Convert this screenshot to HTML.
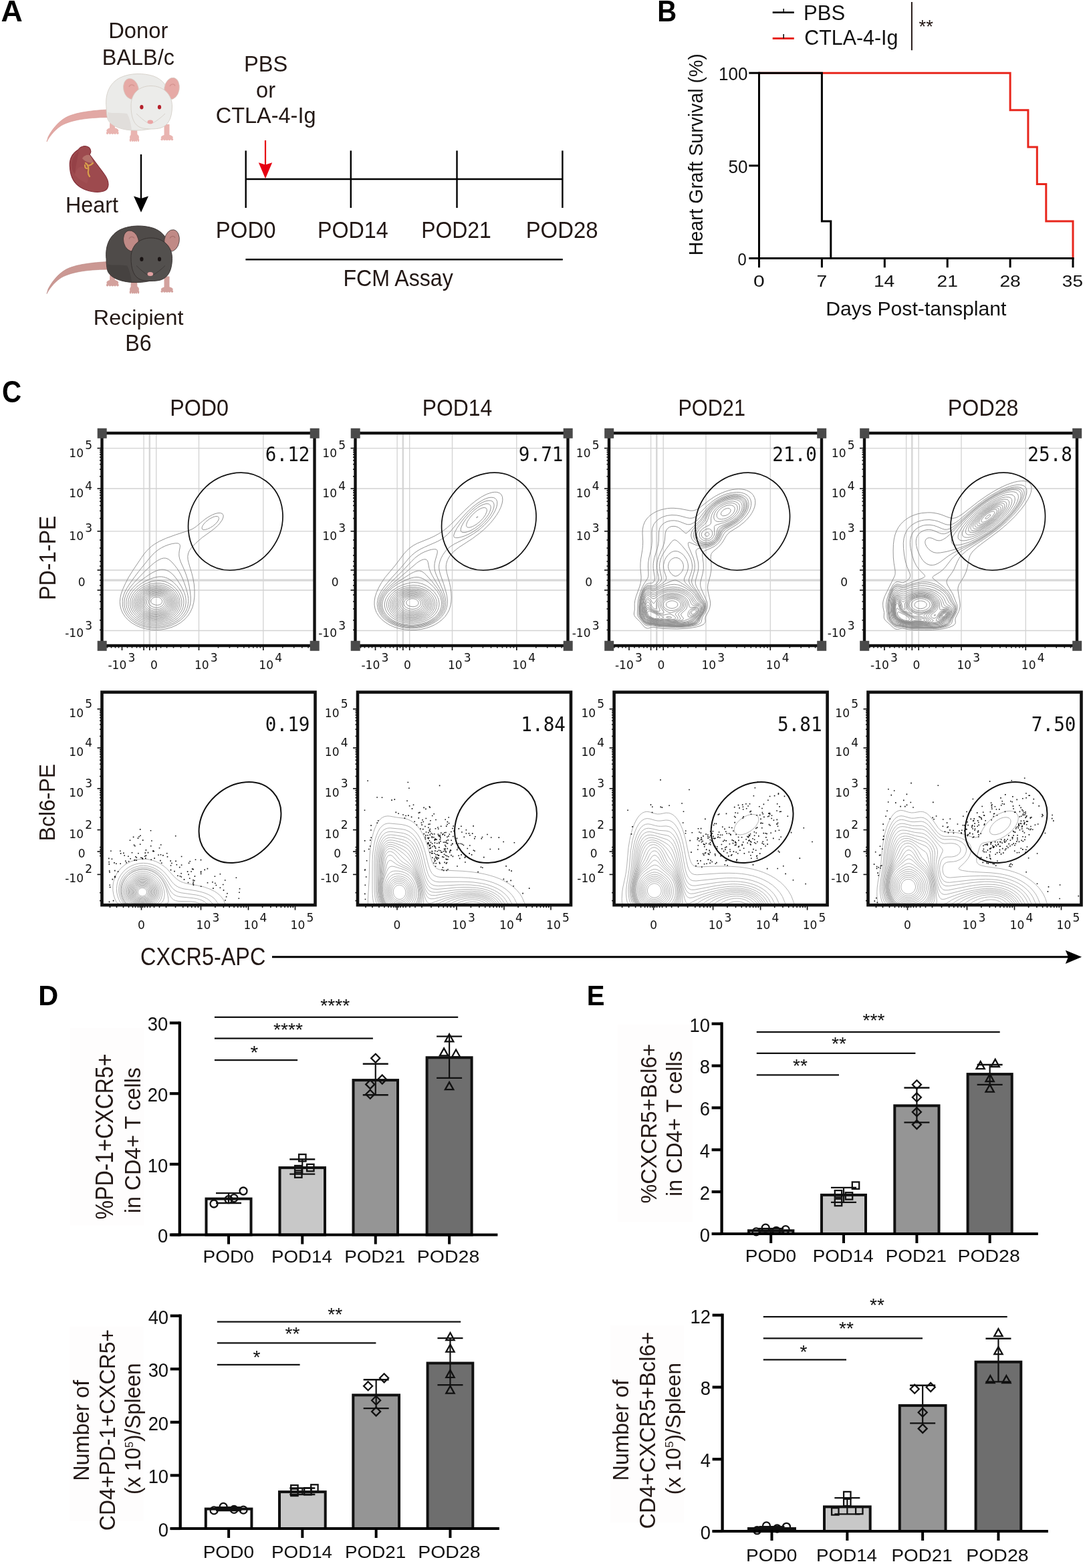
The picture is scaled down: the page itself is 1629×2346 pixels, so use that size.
<!DOCTYPE html>
<html><head><meta charset="utf-8"><title>Figure</title>
<style>html,body{margin:0;padding:0;background:#fff;} svg{display:block;}</style></head>
<body><svg width="1629" height="2346" viewBox="0 0 1629 2346">
<rect width="1629" height="2346" fill="#fff"/>
<text transform="translate(1.60,31.70) scale(0.9998,1)" font-size="44.73" text-anchor="start" fill="#000" font-family="'Liberation Sans', Arial, sans-serif" font-weight="bold">A</text>
<text transform="translate(983.30,32.15) scale(0.9198,1)" font-size="43.54" text-anchor="start" fill="#000" font-family="'Liberation Sans', Arial, sans-serif" font-weight="bold">B</text>
<text transform="translate(2.90,601.70) scale(0.8821,1)" font-size="45.73" text-anchor="start" fill="#000" font-family="'Liberation Sans', Arial, sans-serif" font-weight="bold">C</text>
<text transform="translate(57.30,1504.30) scale(0.9616,1)" font-size="43.15" text-anchor="start" fill="#000" font-family="'Liberation Sans', Arial, sans-serif" font-weight="bold">D</text>
<text transform="translate(877.70,1504.30) scale(0.9302,1)" font-size="43.15" text-anchor="start" fill="#000" font-family="'Liberation Sans', Arial, sans-serif" font-weight="bold">E</text>
<text transform="translate(206.75,57.45) scale(0.9658,1)" font-size="33.92" text-anchor="middle" fill="#231815" font-family="'Liberation Sans', Arial, sans-serif">Donor</text>
<text transform="translate(206.90,97.30) scale(0.9821,1)" font-size="33.01" text-anchor="middle" fill="#231815" font-family="'Liberation Sans', Arial, sans-serif">BALB/c</text>
<text transform="translate(137.45,317.60) scale(0.9781,1)" font-size="33.04" text-anchor="middle" fill="#231815" font-family="'Liberation Sans', Arial, sans-serif">Heart</text>
<text transform="translate(207.15,486.00) scale(1.0181,1)" font-size="31.75" text-anchor="middle" fill="#231815" font-family="'Liberation Sans', Arial, sans-serif">Recipient</text>
<text transform="translate(206.95,524.85) scale(0.9374,1)" font-size="34.44" text-anchor="middle" fill="#231815" font-family="'Liberation Sans', Arial, sans-serif">B6</text>
<text transform="translate(397.60,106.70) scale(0.9814,1)" font-size="33.27" text-anchor="middle" fill="#231815" font-family="'Liberation Sans', Arial, sans-serif">PBS</text>
<text transform="translate(397.50,145.80) scale(0.9814,1)" font-size="33.27" text-anchor="middle" fill="#231815" font-family="'Liberation Sans', Arial, sans-serif">or</text>
<text transform="translate(397.60,184.45) scale(0.9558,1)" font-size="33.98" text-anchor="middle" fill="#231815" font-family="'Liberation Sans', Arial, sans-serif">CTLA-4-Ig</text>
<text transform="translate(367.65,355.65) scale(0.9571,1)" font-size="34.44" text-anchor="middle" fill="#231815" font-family="'Liberation Sans', Arial, sans-serif">POD0</text>
<text transform="translate(527.80,355.65) scale(0.9371,1)" font-size="34.44" text-anchor="middle" fill="#231815" font-family="'Liberation Sans', Arial, sans-serif">POD14</text>
<text transform="translate(682.50,355.65) scale(0.9273,1)" font-size="34.44" text-anchor="middle" fill="#231815" font-family="'Liberation Sans', Arial, sans-serif">POD21</text>
<text transform="translate(840.65,355.65) scale(0.9565,1)" font-size="34.44" text-anchor="middle" fill="#231815" font-family="'Liberation Sans', Arial, sans-serif">POD28</text>
<text transform="translate(595.60,428.00) scale(0.9321,1)" font-size="34.48" text-anchor="middle" fill="#231815" font-family="'Liberation Sans', Arial, sans-serif">FCM Assay</text>
<line x1="367.70" y1="268.00" x2="841.40" y2="268.00" stroke="#000" stroke-width="2.4" stroke-linecap="butt"/>
<line x1="367.70" y1="225.40" x2="367.70" y2="311.00" stroke="#000" stroke-width="2.4" stroke-linecap="butt"/>
<line x1="524.80" y1="225.40" x2="524.80" y2="311.00" stroke="#000" stroke-width="2.4" stroke-linecap="butt"/>
<line x1="683.50" y1="225.40" x2="683.50" y2="311.00" stroke="#000" stroke-width="2.4" stroke-linecap="butt"/>
<line x1="841.40" y1="225.40" x2="841.40" y2="311.00" stroke="#000" stroke-width="2.4" stroke-linecap="butt"/>
<line x1="367.40" y1="388.20" x2="841.80" y2="388.20" stroke="#000" stroke-width="2.4" stroke-linecap="butt"/>
<line x1="397.00" y1="210.00" x2="397.00" y2="248.00" stroke="#e60012" stroke-width="2.2" stroke-linecap="butt"/>
<polygon points="386.8,243.2 397,246.5 407.2,243.2 397,267.2" fill="#e60012"/>
<line x1="211.00" y1="231.00" x2="211.00" y2="300.00" stroke="#000" stroke-width="2.4" stroke-linecap="butt"/>
<polygon points="200,293.5 211,297 222,293.5 211,317.8" fill="#000"/>
<g transform="translate(0,0)"><path d="M162,164 C140,165 112,168 98,176 C86,183 77,195 72,205 L70,212 C73,206 80,196 90,189 C104,180 128,176 162,175.5 Z" fill="#e2a8a4" stroke="#d5938f" stroke-width="0.6"/><path d="M164.5,178 L171,178 L172,192 L164,192 Z" fill="#e9b4b0"/><ellipse cx="168.3" cy="195.5" rx="9" ry="4.5" fill="#e9b4b0"/><ellipse cx="160.7" cy="198.9" rx="1.8" ry="2.0" fill="#e9b4b0"/><ellipse cx="164.5" cy="198.9" rx="1.8" ry="2.0" fill="#e9b4b0"/><ellipse cx="168.3" cy="198.9" rx="1.8" ry="2.0" fill="#e9b4b0"/><ellipse cx="172.1" cy="198.9" rx="1.8" ry="2.0" fill="#e9b4b0"/><ellipse cx="175.9" cy="198.9" rx="1.8" ry="2.0" fill="#e9b4b0"/><path d="M196,190 L205,190 L205.5,203 L195.5,203 Z" fill="#e9b4b0"/><ellipse cx="201" cy="205.5" rx="7" ry="5.5" fill="#e9b4b0"/><ellipse cx="195.1" cy="209.6" rx="1.4" ry="2.5" fill="#e9b4b0"/><ellipse cx="198.1" cy="209.6" rx="1.4" ry="2.5" fill="#e9b4b0"/><ellipse cx="201.0" cy="209.6" rx="1.4" ry="2.5" fill="#e9b4b0"/><ellipse cx="203.9" cy="209.6" rx="1.4" ry="2.5" fill="#e9b4b0"/><ellipse cx="206.9" cy="209.6" rx="1.4" ry="2.5" fill="#e9b4b0"/><path d="M245.5,186 L253.5,186 L253.5,203 L245.5,203 Z" fill="#e9b4b0"/><ellipse cx="249.8" cy="205.5" rx="9" ry="4" fill="#e9b4b0"/><ellipse cx="242.2" cy="208.5" rx="1.8" ry="1.8" fill="#e9b4b0"/><ellipse cx="246.0" cy="208.5" rx="1.8" ry="1.8" fill="#e9b4b0"/><ellipse cx="249.8" cy="208.5" rx="1.8" ry="1.8" fill="#e9b4b0"/><ellipse cx="253.6" cy="208.5" rx="1.8" ry="1.8" fill="#e9b4b0"/><ellipse cx="257.4" cy="208.5" rx="1.8" ry="1.8" fill="#e9b4b0"/><path d="M159,160 C157,140 164,124 180,116 C195,109 215,109 230,114 C243,119 250,128 252,140 L250,182 C236,192 216,196 198,195 C180,194 165,188 161,178 C159.5,172 159,166 159,160 Z" fill="#ebebe9" stroke="#d5cfc7" stroke-width="0.9"/><path d="M161,168 C168,170 178,168 190,170 C194,176 196,186 197,195 C180,194 166,188 162,178 Z" fill="#dedbd7" opacity="0.8"/><ellipse cx="196" cy="133" rx="11.2" ry="15.8" transform="rotate(-14 196 133)" fill="#e6aaa6" stroke="#d5cfc7" stroke-width="0.7"/><ellipse cx="257" cy="132.5" rx="11.2" ry="16.4" transform="rotate(10 257 132.5)" fill="#e6aaa6" stroke="#d5cfc7" stroke-width="0.7"/><path d="M193,130 C194.5,126 199,126 201,129" fill="none" stroke="#d49490" stroke-width="1.3"/><path d="M254,129 C256,125 260.5,125 262,128.5" fill="none" stroke="#d49490" stroke-width="1.3"/><path d="M196,158 C196,140 208,128.5 226,128.5 C244,128.5 257.5,141 257.5,159 C257.5,176 252,188 240,191.5 C232,193.5 220,193.5 212,191.5 C200,188 196,175 196,158 Z" fill="#ececea" stroke="#d5cfc7" stroke-width="0.9"/><path d="M204,170 C210,176 216,181 221,184 M247,170 C241,176 234,181 229,184" fill="none" stroke="#d2ccc4" stroke-width="0.8"/><ellipse cx="211.9" cy="160.2" rx="2.6" ry="3.3" fill="#b5202a"/><ellipse cx="238.5" cy="160.2" rx="2.6" ry="3.3" fill="#b5202a"/><ellipse cx="224.8" cy="182.5" rx="4.3" ry="3" fill="#eaa5a5"/></g><g transform="translate(0,227.5)"><path d="M162,164 C140,165 112,168 98,176 C86,183 77,195 72,205 L70,212 C73,206 80,196 90,189 C104,180 128,176 162,175.5 Z" fill="#cb9893" stroke="#b9857f" stroke-width="0.6"/><path d="M164.5,178 L171,178 L172,192 L164,192 Z" fill="#d3a19d"/><ellipse cx="168.3" cy="195.5" rx="9" ry="4.5" fill="#d3a19d"/><ellipse cx="160.7" cy="198.9" rx="1.8" ry="2.0" fill="#d3a19d"/><ellipse cx="164.5" cy="198.9" rx="1.8" ry="2.0" fill="#d3a19d"/><ellipse cx="168.3" cy="198.9" rx="1.8" ry="2.0" fill="#d3a19d"/><ellipse cx="172.1" cy="198.9" rx="1.8" ry="2.0" fill="#d3a19d"/><ellipse cx="175.9" cy="198.9" rx="1.8" ry="2.0" fill="#d3a19d"/><path d="M196,190 L205,190 L205.5,203 L195.5,203 Z" fill="#d3a19d"/><ellipse cx="201" cy="205.5" rx="7" ry="5.5" fill="#d3a19d"/><ellipse cx="195.1" cy="209.6" rx="1.4" ry="2.5" fill="#d3a19d"/><ellipse cx="198.1" cy="209.6" rx="1.4" ry="2.5" fill="#d3a19d"/><ellipse cx="201.0" cy="209.6" rx="1.4" ry="2.5" fill="#d3a19d"/><ellipse cx="203.9" cy="209.6" rx="1.4" ry="2.5" fill="#d3a19d"/><ellipse cx="206.9" cy="209.6" rx="1.4" ry="2.5" fill="#d3a19d"/><path d="M245.5,186 L253.5,186 L253.5,203 L245.5,203 Z" fill="#d3a19d"/><ellipse cx="249.8" cy="205.5" rx="9" ry="4" fill="#d3a19d"/><ellipse cx="242.2" cy="208.5" rx="1.8" ry="1.8" fill="#d3a19d"/><ellipse cx="246.0" cy="208.5" rx="1.8" ry="1.8" fill="#d3a19d"/><ellipse cx="249.8" cy="208.5" rx="1.8" ry="1.8" fill="#d3a19d"/><ellipse cx="253.6" cy="208.5" rx="1.8" ry="1.8" fill="#d3a19d"/><ellipse cx="257.4" cy="208.5" rx="1.8" ry="1.8" fill="#d3a19d"/><path d="M159,160 C157,140 164,124 180,116 C195,109 215,109 230,114 C243,119 250,128 252,140 L250,182 C236,192 216,196 198,195 C180,194 165,188 161,178 C159.5,172 159,166 159,160 Z" fill="#4f4b49" stroke="#332e2c" stroke-width="0.9"/><path d="M161,168 C168,170 178,168 190,170 C194,176 196,186 197,195 C180,194 166,188 162,178 Z" fill="#44403e" opacity="0.8"/><ellipse cx="196" cy="133" rx="11.2" ry="15.8" transform="rotate(-14 196 133)" fill="#c08a86" stroke="#332e2c" stroke-width="0.7"/><ellipse cx="257" cy="132.5" rx="11.2" ry="16.4" transform="rotate(10 257 132.5)" fill="#c08a86" stroke="#332e2c" stroke-width="0.7"/><path d="M193,130 C194.5,126 199,126 201,129" fill="none" stroke="#a8736f" stroke-width="1.3"/><path d="M254,129 C256,125 260.5,125 262,128.5" fill="none" stroke="#a8736f" stroke-width="1.3"/><path d="M196,158 C196,140 208,128.5 226,128.5 C244,128.5 257.5,141 257.5,159 C257.5,176 252,188 240,191.5 C232,193.5 220,193.5 212,191.5 C200,188 196,175 196,158 Z" fill="#53504e" stroke="#332e2c" stroke-width="0.9"/><path d="M204,170 C210,176 216,181 221,184 M247,170 C241,176 234,181 229,184" fill="none" stroke="#3a3533" stroke-width="0.8"/><ellipse cx="211.9" cy="160.2" rx="2.6" ry="3.3" fill="#1a1414"/><ellipse cx="238.5" cy="160.2" rx="2.6" ry="3.3" fill="#1a1414"/><ellipse cx="224.8" cy="182.5" rx="4.3" ry="3" fill="#e0a0a0"/></g><path d="M104.5,250 C103,236 109,229 117,224 C121,218 129,217 133.5,221 C137,225 136,229 134,231 C142,242 150,252 157,262 C164,272 164,283 155,286 C146,289 131,287 120,280 C109,273 105,262 104.5,250 Z" fill="#9d4a4e" stroke="#85313a" stroke-width="1.2"/><path d="M107,246 C108,236 113,230 118,226 C116,236 114,245 112,260 C109,257 107,252 107,246 Z" fill="#8f3c42" opacity="0.6"/><path d="M112,262 C117,268 125,272 130,275 C134,268 131,256 124,250 C118,248 113,254 112,262 Z" fill="#a85358" opacity="0.5"/><path d="M123,237 C125,233 130,231 134,232 C137,236 139,240 140,244 C134,244 127,242 123,237 Z" fill="#b4716a"/><path d="M128,244 C131,246 133,250 132,256 C131,260 133,262 134,264 M131,248 C134,248 137,246 139,244 M130,252 C128,252 127,250 127,247" fill="none" stroke="#d9a04a" stroke-width="2.2" stroke-linecap="round"/>
<line x1="1155.70" y1="18.60" x2="1187.80" y2="18.60" stroke="#111" stroke-width="2.8" stroke-linecap="butt"/>
<line x1="1172.20" y1="13.00" x2="1172.20" y2="18.60" stroke="#111" stroke-width="1.6" stroke-linecap="butt"/>
<line x1="1155.70" y1="57.50" x2="1187.80" y2="57.50" stroke="#e8261c" stroke-width="2.8" stroke-linecap="butt"/>
<line x1="1172.20" y1="51.00" x2="1172.20" y2="57.50" stroke="#111" stroke-width="1.6" stroke-linecap="butt"/>
<text transform="translate(1202.05,29.65) scale(0.9705,1)" font-size="31.99" text-anchor="start" fill="#111" font-family="'Liberation Sans', Arial, sans-serif">PBS</text>
<text transform="translate(1203.35,66.65) scale(0.9566,1)" font-size="31.76" text-anchor="start" fill="#111" font-family="'Liberation Sans', Arial, sans-serif">CTLA-4-Ig</text>
<line x1="1363.90" y1="3.00" x2="1363.90" y2="75.20" stroke="#231815" stroke-width="2" stroke-linecap="butt"/>
<text transform="translate(1385.15,48.50) scale(0.9911,1)" font-size="27.55" text-anchor="middle" fill="#231815" font-family="'Liberation Sans', Arial, sans-serif">**</text>
<line x1="1120.30" y1="386.50" x2="1135.50" y2="386.50" stroke="#000" stroke-width="3" stroke-linecap="butt"/>
<text transform="translate(1116.80,396.50) scale(0.8977,1)" font-size="26.50" text-anchor="end" fill="#111" font-family="'Liberation Sans', Arial, sans-serif">0</text>
<line x1="1120.30" y1="247.85" x2="1135.50" y2="247.85" stroke="#000" stroke-width="3" stroke-linecap="butt"/>
<text transform="translate(1118.45,258.65) scale(0.9382,1)" font-size="27.82" text-anchor="end" fill="#111" font-family="'Liberation Sans', Arial, sans-serif">50</text>
<line x1="1120.30" y1="109.20" x2="1135.50" y2="109.20" stroke="#000" stroke-width="3" stroke-linecap="butt"/>
<text transform="translate(1118.45,120.00) scale(0.9382,1)" font-size="27.82" text-anchor="end" fill="#111" font-family="'Liberation Sans', Arial, sans-serif">100</text>
<line x1="1135.50" y1="386.50" x2="1135.50" y2="400.30" stroke="#000" stroke-width="3" stroke-linecap="butt"/>
<text transform="translate(1135.45,429.20) scale(1.2295,1)" font-size="24.51" text-anchor="middle" fill="#111" font-family="'Liberation Sans', Arial, sans-serif">0</text>
<line x1="1229.40" y1="386.50" x2="1229.40" y2="400.30" stroke="#000" stroke-width="3" stroke-linecap="butt"/>
<text transform="translate(1229.40,429.20) scale(1.1515,1)" font-size="24.51" text-anchor="middle" fill="#111" font-family="'Liberation Sans', Arial, sans-serif">7</text>
<line x1="1323.30" y1="386.50" x2="1323.30" y2="400.30" stroke="#000" stroke-width="3" stroke-linecap="butt"/>
<text transform="translate(1322.60,429.20) scale(1.1515,1)" font-size="24.51" text-anchor="middle" fill="#111" font-family="'Liberation Sans', Arial, sans-serif">14</text>
<line x1="1417.20" y1="386.50" x2="1417.20" y2="400.30" stroke="#000" stroke-width="3" stroke-linecap="butt"/>
<text transform="translate(1417.20,429.20) scale(1.1515,1)" font-size="24.51" text-anchor="middle" fill="#111" font-family="'Liberation Sans', Arial, sans-serif">21</text>
<line x1="1511.10" y1="386.50" x2="1511.10" y2="400.30" stroke="#000" stroke-width="3" stroke-linecap="butt"/>
<text transform="translate(1511.10,429.20) scale(1.1515,1)" font-size="24.51" text-anchor="middle" fill="#111" font-family="'Liberation Sans', Arial, sans-serif">28</text>
<line x1="1605.00" y1="386.50" x2="1605.00" y2="400.30" stroke="#000" stroke-width="3" stroke-linecap="butt"/>
<text transform="translate(1604.40,429.20) scale(1.1400,1)" font-size="24.51" text-anchor="middle" fill="#111" font-family="'Liberation Sans', Arial, sans-serif">35</text>
<polyline fill="none" stroke="#e8261c" stroke-width="3" points="1135.5,109.2 1511.1,109.2 1511.1,164.7 1537.9,164.7 1537.9,220.1 1551.3,220.1 1551.3,275.6 1564.8,275.6 1564.8,331.0 1605.0,331.0 1605.0,386.5"/>
<polyline fill="none" stroke="#000" stroke-width="3" points="1135.5,109.2 1229.4,109.2 1229.4,331.0 1242.8,331.0 1242.8,386.5"/>
<line x1="1135.50" y1="107.70" x2="1135.50" y2="388.00" stroke="#000" stroke-width="3" stroke-linecap="butt"/>
<line x1="1134.00" y1="386.50" x2="1606.50" y2="386.50" stroke="#000" stroke-width="3" stroke-linecap="butt"/>
<text transform="translate(1050.85,231.25) rotate(-90) scale(0.9350,1)" font-size="30.42" text-anchor="middle" fill="#111" font-family="'Liberation Sans', Arial, sans-serif">Heart Graft Survival (%)</text>
<text transform="translate(1370.35,471.50) scale(1.0182,1)" font-size="29.66" text-anchor="middle" fill="#111" font-family="'Liberation Sans', Arial, sans-serif">Days Post-tansplant</text>
<line x1="215.1" y1="648.0" x2="215.1" y2="966.0" stroke="#d2d2d2" stroke-width="1.3"/>
<line x1="233.7" y1="648.0" x2="233.7" y2="966.0" stroke="#d2d2d2" stroke-width="1.3"/>
<line x1="297.5" y1="648.0" x2="297.5" y2="966.0" stroke="#d2d2d2" stroke-width="1.3"/>
<line x1="393.8" y1="648.0" x2="393.8" y2="966.0" stroke="#d2d2d2" stroke-width="1.3"/>
<line x1="223.8" y1="648.0" x2="223.8" y2="966.0" stroke="#d6d6d6" stroke-width="2.4"/>
<line x1="152.5" y1="670.6" x2="470.5" y2="670.6" stroke="#d2d2d2" stroke-width="1.3"/>
<line x1="152.5" y1="731.0" x2="470.5" y2="731.0" stroke="#d2d2d2" stroke-width="1.3"/>
<line x1="152.5" y1="794.8" x2="470.5" y2="794.8" stroke="#d2d2d2" stroke-width="1.3"/>
<line x1="152.5" y1="853.0" x2="470.5" y2="853.0" stroke="#d2d2d2" stroke-width="1.3"/>
<line x1="152.5" y1="883.0" x2="470.5" y2="883.0" stroke="#d2d2d2" stroke-width="1.3"/>
<line x1="152.5" y1="943.5" x2="470.5" y2="943.5" stroke="#d2d2d2" stroke-width="1.3"/>
<line x1="152.5" y1="868.2" x2="470.5" y2="868.2" stroke="#d8d8d8" stroke-width="3.2"/>
<path d="M233.5,942.5 225.5,942.1 217.5,940.7 210.5,938.7 203.5,935.7 197.0,931.9 191.6,927.5 187.0,922.5 183.4,917.0 181.1,911.5 179.8,906.0 179.4,900.5 179.9,894.5 181.2,888.5 183.7,881.5 187.8,872.5 192.2,864.0 198.7,853.5 211.5,834.5 215.8,828.5 219.2,824.5 222.6,821.0 226.5,817.5 230.5,814.6 238.5,809.8 248.5,805.3 262.5,800.2 282.5,793.7 288.0,791.4 293.5,787.8 303.4,779.5 308.0,775.9 313.0,772.7 317.5,770.3 322.0,768.5 326.0,767.6 329.5,767.5 332.0,768.3 333.0,769.2 333.8,770.5 334.1,772.0 333.9,774.0 332.3,778.0 328.8,783.0 325.5,786.5 321.0,790.6 315.5,794.9 302.7,804.0 293.0,812.5 288.5,817.0 285.2,821.0 283.0,824.5 281.6,828.0 280.8,832.5 281.1,837.5 282.3,842.5 286.8,857.5 288.7,865.0 290.3,874.0 291.0,883.0 290.9,893.0 289.8,901.5 287.8,909.0 284.6,916.0 280.9,921.5 276.0,926.9 270.5,931.4 264.0,935.3 257.0,938.4 249.0,940.7 241.0,942.1 233.5,942.5 M306.5,792.5 304.5,792.6 303.0,792.1 302.2,791.0 302.1,789.5 302.7,787.5 303.8,785.5 305.7,783.0 308.1,780.5 313.5,776.3 319.0,773.5 321.5,772.8 324.0,772.5 325.5,772.7 326.8,773.5 327.3,774.5 327.5,775.5 326.8,778.0 325.0,781.0 322.0,784.2 318.5,787.1 314.5,789.6 310.5,791.5 306.5,792.5 M240.5,939.5 234.5,939.9 228.5,939.8 222.5,939.1 216.5,937.8 211.5,936.3 206.0,934.0 201.0,931.2 197.0,928.4 193.2,925.0 189.7,921.0 187.1,917.0 185.2,913.0 183.8,908.5 183.2,904.0 183.1,899.5 183.7,895.0 185.1,890.0 187.1,885.0 190.1,879.5 194.3,873.0 202.0,862.2 208.0,854.3 223.0,835.8 229.0,829.1 233.0,825.5 237.0,822.4 241.5,819.6 246.5,817.1 252.0,815.0 257.5,813.5 262.5,812.8 266.0,812.9 267.5,813.4 268.5,814.2 269.0,815.0 269.4,816.5 269.3,818.5 268.1,825.0 267.8,828.5 267.9,832.0 268.7,836.0 270.4,841.0 275.8,853.0 278.5,860.0 280.9,867.5 282.9,876.0 284.4,885.0 285.2,893.0 285.2,899.0 284.4,905.0 282.4,911.5 279.4,917.5 275.2,923.0 269.5,928.2 263.5,932.2 256.0,935.8 248.5,938.1 240.5,939.5 M233.5,938.0 228.5,937.8 223.5,937.3 218.5,936.3 214.5,935.2 209.5,933.3 205.5,931.4 201.5,928.9 198.0,926.3 195.0,923.5 192.4,920.5 190.0,917.0 188.2,913.5 186.8,909.5 186.1,906.0 185.8,902.0 186.1,898.0 186.9,894.0 188.4,889.5 190.3,885.5 193.1,881.0 196.1,877.0 200.0,872.4 215.0,856.4 225.5,846.5 230.5,842.3 234.5,839.4 238.0,837.4 241.5,835.8 244.5,835.1 247.5,835.1 250.0,835.8 252.5,837.1 255.0,839.1 258.0,842.0 261.5,846.1 265.0,850.7 268.0,855.3 270.5,860.0 272.8,865.0 275.4,871.5 278.3,880.0 280.1,886.5 281.2,891.5 281.7,895.5 281.8,899.5 281.4,903.5 280.8,907.0 279.7,910.5 278.2,914.0 276.5,917.0 274.4,920.0 271.8,923.0 266.0,928.0 259.0,932.2 251.0,935.3 242.5,937.3 233.5,938.0 M239.0,935.5 234.0,935.8 229.0,935.7 224.5,935.2 219.5,934.3 214.5,932.8 210.5,931.2 206.5,929.2 203.0,927.0 199.7,924.5 196.6,921.5 194.2,918.5 192.0,915.0 190.5,911.5 189.4,908.0 188.9,904.5 188.9,900.5 189.3,897.0 190.3,893.5 191.6,890.0 193.5,886.5 195.8,883.0 198.2,880.0 205.0,873.3 210.5,868.8 217.5,863.6 224.0,859.2 229.0,856.2 233.0,854.3 237.0,852.9 240.5,852.2 244.0,852.1 247.0,852.6 249.5,853.4 252.5,854.8 255.0,856.4 260.0,861.0 265.5,868.1 271.6,878.0 275.6,886.5 276.9,890.5 277.8,894.5 278.2,898.5 278.2,902.0 277.2,908.0 274.8,914.0 271.2,919.5 266.5,924.3 260.5,928.6 254.0,931.8 246.5,934.2 239.0,935.5 M237.0,933.5 232.5,933.7 228.0,933.5 223.5,932.9 219.5,932.0 215.5,930.8 211.5,929.2 208.0,927.4 204.5,925.1 201.5,922.8 198.7,920.0 196.4,917.0 194.6,914.0 193.3,911.0 192.3,907.5 191.8,904.5 191.8,901.0 192.3,897.5 193.2,894.0 194.7,890.5 196.4,887.5 198.5,884.5 201.1,881.5 204.0,878.6 207.5,875.7 211.5,872.9 216.0,870.3 221.0,867.7 225.5,865.9 230.0,864.4 234.0,863.4 238.0,862.9 241.5,862.9 244.5,863.3 247.5,864.1 250.5,865.2 253.5,866.8 259.5,871.3 265.0,876.8 269.5,883.0 272.8,889.5 274.6,896.0 274.9,899.0 274.9,902.5 273.9,908.5 271.6,914.0 268.1,919.0 263.5,923.5 258.0,927.3 251.5,930.4 244.5,932.4 237.0,933.5 M234.0,931.5 226.0,931.1 222.0,930.3 218.0,929.3 211.0,926.4 205.0,922.5 202.3,920.0 200.1,917.5 198.3,915.0 196.7,912.0 195.6,909.0 194.9,906.0 194.7,903.0 194.8,900.0 195.4,897.0 196.3,894.0 197.7,891.0 199.5,888.0 204.0,882.6 210.0,877.7 217.0,873.7 225.0,870.6 229.0,869.6 233.0,869.0 237.0,868.7 240.5,868.9 247.0,870.2 253.0,872.8 258.5,876.4 263.5,881.1 267.5,886.5 270.2,892.0 271.7,898.0 271.9,901.0 271.7,904.0 270.5,909.5 268.0,914.5 264.1,919.5 259.5,923.5 254.0,926.8 247.5,929.3 241.0,930.9 234.0,931.5 M233.5,929.5 226.0,929.0 219.0,927.4 212.5,924.7 206.9,921.0 204.5,918.9 202.4,916.5 200.7,914.0 199.3,911.5 198.4,909.0 197.7,906.0 197.4,903.0 197.6,900.0 198.2,897.0 199.0,894.5 200.4,891.5 202.0,889.0 206.3,884.0 212.0,879.5 218.5,876.1 225.5,873.6 233.0,872.4 240.0,872.5 246.0,873.8 252.0,876.2 257.0,879.4 261.5,883.5 265.3,888.5 267.7,893.5 268.9,898.5 268.9,904.0 267.8,909.0 265.4,914.0 262.0,918.2 257.7,922.0 252.5,925.1 246.5,927.5 240.0,929.0 233.5,929.5 M236.5,927.5 229.5,927.5 223.0,926.5 217.0,924.6 211.5,921.8 207.0,918.3 203.4,914.0 201.1,909.5 199.9,904.5 200.1,899.5 201.6,894.5 204.1,890.0 208.0,885.5 213.0,881.6 219.0,878.3 225.0,876.3 231.5,875.1 237.5,875.0 243.5,875.9 249.0,877.8 254.5,880.8 259.0,884.5 262.6,889.0 265.2,894.0 266.0,896.5 266.5,899.5 266.4,904.5 265.0,909.5 262.6,914.0 259.0,918.2 254.5,921.7 249.0,924.5 243.0,926.5 236.5,927.5 M238.5,925.6 232.5,926.0 227.0,925.5 221.5,924.3 216.5,922.4 212.0,919.8 208.1,916.5 205.3,913.0 203.3,909.0 202.3,905.0 202.2,900.5 203.3,896.0 205.3,892.0 208.4,888.0 212.2,884.5 217.0,881.5 222.0,879.3 228.5,877.6 235.0,877.1 241.0,877.6 247.0,879.3 252.5,882.1 257.0,885.6 260.6,890.0 263.2,895.0 264.3,900.0 264.0,905.0 262.5,910.0 259.6,914.5 255.6,918.5 250.5,921.8 245.0,924.1 238.5,925.6 M237.5,924.0 232.0,924.3 227.0,923.8 222.0,922.7 217.0,920.7 212.7,918.0 209.4,915.0 206.8,911.5 205.0,907.5 204.3,903.5 204.5,899.5 205.8,895.5 208.0,891.5 211.0,888.0 214.7,885.0 219.0,882.5 224.0,880.5 230.0,879.2 236.0,879.0 241.5,879.7 247.0,881.4 252.0,884.1 256.0,887.5 259.2,891.5 261.3,896.0 262.1,900.5 262.1,903.0 261.8,905.5 260.2,910.0 257.5,914.0 253.9,917.5 249.0,920.6 243.5,922.8 237.5,924.0 M236.5,922.5 231.0,922.7 226.0,922.0 221.5,920.8 217.0,918.7 213.1,916.0 210.2,913.0 208.0,909.5 206.7,906.0 206.3,902.5 206.8,898.5 208.4,894.5 210.7,891.0 213.7,888.0 217.5,885.2 222.0,883.0 226.5,881.5 232.0,880.7 237.5,880.8 242.5,881.7 247.3,883.5 251.5,886.0 255.3,889.5 258.1,893.5 259.6,897.5 260.2,902.0 259.6,906.0 258.0,910.0 255.0,914.0 251.5,917.1 247.0,919.7 242.0,921.5 236.5,922.5 M235.5,921.0 230.5,921.0 226.0,920.4 221.5,919.0 217.5,917.0 214.2,914.5 211.4,911.5 209.5,908.0 208.5,904.5 208.5,900.5 209.4,897.0 211.1,893.5 213.5,890.5 217.0,887.5 220.5,885.4 225.0,883.6 229.5,882.5 234.5,882.2 239.0,882.6 243.5,883.7 248.0,885.7 251.8,888.5 254.6,891.5 256.7,895.0 258.0,899.2 258.1,903.0 257.2,907.0 255.5,910.5 252.5,914.0 249.0,916.7 245.0,918.8 240.5,920.2 235.5,921.0 M234.0,919.5 229.5,919.3 225.0,918.4 221.0,916.9 217.0,914.5 214.0,911.6 212.0,908.7 210.8,905.5 210.4,902.0 210.9,898.5 212.4,895.0 214.5,892.0 217.7,889.0 221.5,886.6 225.5,885.0 230.0,884.0 234.5,883.7 239.0,884.1 243.0,885.2 246.5,886.7 249.9,889.0 252.4,891.5 254.5,894.6 255.8,898.0 256.3,901.5 255.8,905.0 254.5,908.5 252.4,911.5 249.8,914.0 246.5,916.2 242.5,918.0 238.5,919.0 234.0,919.5 M237.5,917.5 233.5,917.9 230.0,917.7 226.5,917.0 223.4,916.0 220.3,914.5 217.6,912.5 215.5,910.3 214.0,908.0 213.0,905.5 212.5,902.5 212.7,899.5 213.5,897.0 215.0,894.2 217.0,891.8 219.5,889.7 222.5,887.9 226.5,886.3 231.0,885.3 235.5,885.2 240.0,885.9 244.0,887.2 247.8,889.5 251.0,892.5 252.9,895.5 254.1,899.0 254.3,902.5 253.5,906.0 251.6,909.5 249.0,912.3 246.0,914.5 242.0,916.4 237.5,917.5 M235.0,916.0 231.5,916.0 228.0,915.5 224.5,914.4 221.5,912.9 219.0,911.0 217.0,908.8 215.5,906.2 214.8,903.5 214.7,900.5 215.3,898.0 216.4,895.5 218.3,893.0 220.5,891.0 223.5,889.1 226.5,887.8 230.0,887.0 234.0,886.6 237.5,886.9 241.0,887.7 244.5,889.2 247.1,891.0 249.5,893.5 251.3,896.5 252.2,899.5 252.3,902.5 251.5,905.5 250.2,908.0 248.2,910.5 245.5,912.6 242.5,914.2 239.0,915.4 235.0,916.0 M235.5,914.0 232.5,914.1 229.5,913.8 226.6,913.0 224.0,911.9 221.5,910.2 219.7,908.5 218.3,906.5 217.4,904.5 216.9,902.0 217.1,899.5 217.9,897.0 219.0,895.1 220.8,893.0 222.7,891.5 225.3,890.0 228.0,889.0 231.5,888.2 235.0,888.1 238.5,888.6 241.5,889.5 244.3,891.0 246.8,893.0 248.7,895.5 249.8,898.0 250.3,900.5 250.0,903.5 249.0,906.0 247.3,908.5 245.0,910.5 242.0,912.3 239.0,913.4 235.5,914.0 M237.0,911.6 232.0,911.8 227.5,910.8 223.5,908.7 222.0,907.3 220.6,905.5 219.9,904.0 219.4,902.0 219.4,900.0 219.9,898.0 220.9,896.0 222.0,894.5 225.1,892.0 228.0,890.6 231.0,889.9 234.5,889.6 237.5,890.0 240.5,890.9 243.0,892.2 245.2,894.0 246.7,896.0 247.8,898.5 248.1,901.0 247.6,903.5 246.7,905.5 245.0,907.7 242.6,909.5 240.0,910.8 237.0,911.6 M236.0,909.0 232.0,909.0 228.4,908.0 225.0,906.0 223.0,903.5 222.2,901.0 222.6,898.0 223.3,896.5 224.5,895.0 227.1,893.0 229.5,892.0 232.0,891.4 234.5,891.3 237.0,891.6 239.5,892.3 241.5,893.4 243.4,895.0 244.6,896.5 245.4,898.5 245.6,900.5 245.3,902.5 244.3,904.5 243.0,906.0 240.9,907.5 238.5,908.5 236.0,909.0 M238.0,905.0 235.5,905.4 232.5,905.1 229.5,904.1 227.6,903.0 226.3,901.5 225.8,900.0 225.9,898.0 226.7,896.5 229.0,894.5 231.0,893.7 233.0,893.3 236.6,893.5 238.2,894.0 240.0,895.0 241.1,896.0 242.1,897.5 242.6,899.0 242.6,900.5 242.1,902.0 241.0,903.4 239.5,904.5 238.0,905.0" fill="none" stroke="#8a8a8a" stroke-width="0.9"/>
<ellipse cx="352.3" cy="780.2" rx="75.7" ry="67.7" transform="rotate(-53 352.3 780.2)" fill="none" stroke="#111" stroke-width="1.7"/>
<text transform="translate(463.5,689.8) scale(0.93,1)" font-size="29.8" font-family="'DejaVu Sans Mono', monospace" text-anchor="end" fill="#111">6.12</text>
<rect x="152.5" y="648.0" width="318.0" height="318.0" fill="none" stroke="#111" stroke-width="4.4"/>
<rect x="145.7" y="640.8" width="14" height="15" fill="#4a4a4a"/>
<rect x="463.7" y="640.8" width="14" height="15" fill="#4a4a4a"/>
<rect x="145.7" y="958.8" width="14" height="15" fill="#4a4a4a"/>
<rect x="463.7" y="958.8" width="14" height="15" fill="#4a4a4a"/>
<line x1="145.5" y1="670.6" x2="152.5" y2="670.6" stroke="#111" stroke-width="1.6"/>
<line x1="145.5" y1="731.0" x2="152.5" y2="731.0" stroke="#111" stroke-width="1.6"/>
<line x1="145.5" y1="794.8" x2="152.5" y2="794.8" stroke="#111" stroke-width="1.6"/>
<line x1="149.0" y1="712.8" x2="152.5" y2="712.8" stroke="#111" stroke-width="1.6"/>
<line x1="149.0" y1="702.2" x2="152.5" y2="702.2" stroke="#111" stroke-width="1.6"/>
<line x1="149.0" y1="694.6" x2="152.5" y2="694.6" stroke="#111" stroke-width="1.6"/>
<line x1="149.0" y1="688.8" x2="152.5" y2="688.8" stroke="#111" stroke-width="1.6"/>
<line x1="149.0" y1="684.0" x2="152.5" y2="684.0" stroke="#111" stroke-width="1.6"/>
<line x1="149.0" y1="680.0" x2="152.5" y2="680.0" stroke="#111" stroke-width="1.6"/>
<line x1="149.0" y1="676.5" x2="152.5" y2="676.5" stroke="#111" stroke-width="1.6"/>
<line x1="149.0" y1="673.4" x2="152.5" y2="673.4" stroke="#111" stroke-width="1.6"/>
<line x1="149.0" y1="775.6" x2="152.5" y2="775.6" stroke="#111" stroke-width="1.6"/>
<line x1="149.0" y1="764.4" x2="152.5" y2="764.4" stroke="#111" stroke-width="1.6"/>
<line x1="149.0" y1="756.4" x2="152.5" y2="756.4" stroke="#111" stroke-width="1.6"/>
<line x1="149.0" y1="750.2" x2="152.5" y2="750.2" stroke="#111" stroke-width="1.6"/>
<line x1="149.0" y1="745.2" x2="152.5" y2="745.2" stroke="#111" stroke-width="1.6"/>
<line x1="149.0" y1="740.9" x2="152.5" y2="740.9" stroke="#111" stroke-width="1.6"/>
<line x1="149.0" y1="737.2" x2="152.5" y2="737.2" stroke="#111" stroke-width="1.6"/>
<line x1="149.0" y1="733.9" x2="152.5" y2="733.9" stroke="#111" stroke-width="1.6"/>
<line x1="149.0" y1="808.0" x2="152.5" y2="808.0" stroke="#111" stroke-width="1.6"/>
<line x1="149.0" y1="820.0" x2="152.5" y2="820.0" stroke="#111" stroke-width="1.6"/>
<line x1="149.0" y1="831.0" x2="152.5" y2="831.0" stroke="#111" stroke-width="1.6"/>
<line x1="149.0" y1="840.0" x2="152.5" y2="840.0" stroke="#111" stroke-width="1.6"/>
<line x1="149.0" y1="847.0" x2="152.5" y2="847.0" stroke="#111" stroke-width="1.6"/>
<line x1="145.5" y1="853.0" x2="152.5" y2="853.0" stroke="#111" stroke-width="1.6"/>
<line x1="149.0" y1="860.0" x2="152.5" y2="860.0" stroke="#111" stroke-width="1.6"/>
<line x1="149.0" y1="868.2" x2="152.5" y2="868.2" stroke="#111" stroke-width="1.6"/>
<line x1="149.0" y1="876.0" x2="152.5" y2="876.0" stroke="#111" stroke-width="1.6"/>
<line x1="145.5" y1="883.0" x2="152.5" y2="883.0" stroke="#111" stroke-width="1.6"/>
<line x1="149.0" y1="890.0" x2="152.5" y2="890.0" stroke="#111" stroke-width="1.6"/>
<line x1="149.0" y1="900.0" x2="152.5" y2="900.0" stroke="#111" stroke-width="1.6"/>
<line x1="149.0" y1="911.0" x2="152.5" y2="911.0" stroke="#111" stroke-width="1.6"/>
<line x1="149.0" y1="928.0" x2="152.5" y2="928.0" stroke="#111" stroke-width="1.6"/>
<line x1="149.0" y1="942.5" x2="152.5" y2="942.5" stroke="#111" stroke-width="1.6"/>
<line x1="182.5" y1="966.0" x2="182.5" y2="973.0" stroke="#111" stroke-width="1.6"/>
<line x1="215.1" y1="966.0" x2="215.1" y2="973.0" stroke="#111" stroke-width="1.6"/>
<line x1="223.8" y1="966.0" x2="223.8" y2="973.0" stroke="#111" stroke-width="1.6"/>
<line x1="233.7" y1="966.0" x2="233.7" y2="973.0" stroke="#111" stroke-width="1.6"/>
<line x1="297.5" y1="966.0" x2="297.5" y2="973.0" stroke="#111" stroke-width="1.6"/>
<line x1="393.8" y1="966.0" x2="393.8" y2="973.0" stroke="#111" stroke-width="1.6"/>
<line x1="326.5" y1="966.0" x2="326.5" y2="969.5" stroke="#111" stroke-width="1.6"/>
<line x1="343.4" y1="966.0" x2="343.4" y2="969.5" stroke="#111" stroke-width="1.6"/>
<line x1="355.5" y1="966.0" x2="355.5" y2="969.5" stroke="#111" stroke-width="1.6"/>
<line x1="364.8" y1="966.0" x2="364.8" y2="969.5" stroke="#111" stroke-width="1.6"/>
<line x1="372.4" y1="966.0" x2="372.4" y2="969.5" stroke="#111" stroke-width="1.6"/>
<line x1="378.9" y1="966.0" x2="378.9" y2="969.5" stroke="#111" stroke-width="1.6"/>
<line x1="384.5" y1="966.0" x2="384.5" y2="969.5" stroke="#111" stroke-width="1.6"/>
<line x1="389.4" y1="966.0" x2="389.4" y2="969.5" stroke="#111" stroke-width="1.6"/>
<line x1="422.8" y1="966.0" x2="422.8" y2="969.5" stroke="#111" stroke-width="1.6"/>
<line x1="439.7" y1="966.0" x2="439.7" y2="969.5" stroke="#111" stroke-width="1.6"/>
<line x1="451.8" y1="966.0" x2="451.8" y2="969.5" stroke="#111" stroke-width="1.6"/>
<line x1="461.1" y1="966.0" x2="461.1" y2="969.5" stroke="#111" stroke-width="1.6"/>
<line x1="160.5" y1="966.0" x2="160.5" y2="969.5" stroke="#111" stroke-width="1.6"/>
<line x1="166.5" y1="966.0" x2="166.5" y2="969.5" stroke="#111" stroke-width="1.6"/>
<line x1="172.5" y1="966.0" x2="172.5" y2="969.5" stroke="#111" stroke-width="1.6"/>
<line x1="177.5" y1="966.0" x2="177.5" y2="969.5" stroke="#111" stroke-width="1.6"/>
<line x1="190.5" y1="966.0" x2="190.5" y2="969.5" stroke="#111" stroke-width="1.6"/>
<line x1="197.5" y1="966.0" x2="197.5" y2="969.5" stroke="#111" stroke-width="1.6"/>
<line x1="204.5" y1="966.0" x2="204.5" y2="969.5" stroke="#111" stroke-width="1.6"/>
<line x1="209.5" y1="966.0" x2="209.5" y2="969.5" stroke="#111" stroke-width="1.6"/>
<line x1="219.5" y1="966.0" x2="219.5" y2="969.5" stroke="#111" stroke-width="1.6"/>
<line x1="228.5" y1="966.0" x2="228.5" y2="969.5" stroke="#111" stroke-width="1.6"/>
<line x1="240.5" y1="966.0" x2="240.5" y2="969.5" stroke="#111" stroke-width="1.6"/>
<line x1="249.5" y1="966.0" x2="249.5" y2="969.5" stroke="#111" stroke-width="1.6"/>
<line x1="259.5" y1="966.0" x2="259.5" y2="969.5" stroke="#111" stroke-width="1.6"/>
<line x1="270.5" y1="966.0" x2="270.5" y2="969.5" stroke="#111" stroke-width="1.6"/>
<line x1="282.5" y1="966.0" x2="282.5" y2="969.5" stroke="#111" stroke-width="1.6"/>
<text transform="translate(138.0,683.5) scale(0.97,1)" font-size="17.6" font-family="'DejaVu Sans', sans-serif" text-anchor="end" fill="#111">10<tspan dx="2.2" dy="-11.3">5</tspan></text>
<text transform="translate(138.0,743.9) scale(0.97,1)" font-size="17.6" font-family="'DejaVu Sans', sans-serif" text-anchor="end" fill="#111">10<tspan dx="2.2" dy="-11.3">4</tspan></text>
<text transform="translate(138.0,807.7) scale(0.97,1)" font-size="17.6" font-family="'DejaVu Sans', sans-serif" text-anchor="end" fill="#111">10<tspan dx="2.2" dy="-11.3">3</tspan></text>
<text transform="translate(127.5,876.8) scale(0.97,1)" font-size="17.6" font-family="'DejaVu Sans', sans-serif" text-anchor="end" fill="#111">0</text>
<text transform="translate(138.0,953.0) scale(0.97,1)" font-size="17.6" font-family="'DejaVu Sans', sans-serif" text-anchor="end" fill="#111">-10<tspan dx="2.2" dy="-11.3">3</tspan></text>
<text transform="translate(202.3,1000.8) scale(0.97,1)" font-size="17.6" font-family="'DejaVu Sans', sans-serif" text-anchor="end" fill="#111">-10<tspan dx="2.2" dy="-10.8">3</tspan></text>
<text transform="translate(230.5,1000.8) scale(0.97,1)" font-size="17.6" font-family="'DejaVu Sans', sans-serif" text-anchor="middle" fill="#111">0</text>
<text transform="translate(325.7,1000.8) scale(0.97,1)" font-size="17.6" font-family="'DejaVu Sans', sans-serif" text-anchor="end" fill="#111">10<tspan dx="2.2" dy="-10.8">3</tspan></text>
<text transform="translate(422.0,1000.8) scale(0.97,1)" font-size="17.6" font-family="'DejaVu Sans', sans-serif" text-anchor="end" fill="#111">10<tspan dx="2.2" dy="-10.8">4</tspan></text>
<path d="M177.4,1352.1 174.3,1350.1 171.6,1344.1 169.8,1338.1 168.9,1332.1 168.9,1326.1 169.6,1320.1 171.3,1314.1 173.8,1308.6 176.9,1303.6 180.8,1299.1 185.5,1294.9 190.5,1291.6 196.0,1288.9 202.0,1286.9 208.0,1285.7 214.5,1285.3 221.0,1285.7 227.5,1287.0 234.0,1289.3 240.0,1292.3 245.0,1295.8 249.5,1299.6 260.5,1311.5 263.5,1314.4 267.0,1317.1 270.6,1319.1 274.5,1320.6 278.5,1321.7 296.5,1325.0 305.5,1327.2 313.5,1330.0 320.5,1333.4 324.0,1335.6 327.0,1337.9 329.9,1340.6 332.0,1343.1 334.1,1346.1 335.6,1349.1 336.6,1352.1 337.3,1352.1 M183.6,1352.1 180.3,1350.6 177.7,1345.6 175.9,1340.6 174.7,1335.1 174.4,1329.6 174.9,1324.1 176.1,1318.6 178.1,1313.6 180.7,1309.1 184.1,1304.6 188.3,1300.6 193.0,1297.3 198.0,1294.7 203.5,1292.8 209.0,1291.7 214.5,1291.4 221.0,1291.9 227.0,1293.3 233.0,1295.6 238.5,1298.8 243.0,1302.3 247.0,1306.3 250.6,1310.6 257.0,1319.1 260.0,1322.5 263.0,1325.0 266.5,1327.1 270.5,1328.7 275.0,1329.9 293.0,1332.7 301.0,1334.5 308.0,1336.7 314.0,1339.6 319.0,1343.0 322.5,1346.6 325.1,1350.6 326.6,1352.1 M187.2,1352.1 184.0,1351.1 181.3,1346.6 179.4,1342.1 178.1,1337.1 177.6,1332.1 177.9,1326.6 178.9,1321.6 180.7,1316.6 183.1,1312.1 186.5,1307.6 190.0,1304.1 194.5,1300.9 199.0,1298.5 204.0,1296.7 209.0,1295.6 214.5,1295.2 221.0,1295.8 227.0,1297.4 232.5,1299.8 238.0,1303.3 242.3,1307.1 246.2,1311.6 249.4,1316.1 255.0,1325.0 257.5,1328.3 260.0,1330.9 263.0,1333.0 266.5,1334.6 271.0,1335.8 293.5,1339.0 299.5,1340.3 304.5,1342.0 309.8,1344.6 313.8,1347.6 316.8,1351.1 318.5,1352.1 M189.8,1352.1 186.2,1351.1 183.7,1347.1 181.6,1342.6 180.4,1338.1 179.7,1333.1 179.9,1328.1 180.8,1323.1 182.4,1318.6 184.8,1314.1 187.7,1310.1 191.5,1306.3 195.5,1303.4 200.0,1301.0 204.5,1299.3 209.5,1298.3 214.5,1298.0 221.0,1298.6 227.0,1300.3 233.0,1303.2 238.0,1306.9 242.1,1311.1 245.8,1316.1 248.8,1321.1 254.0,1331.2 256.0,1334.3 258.5,1337.1 261.0,1339.0 264.5,1340.6 269.0,1341.7 289.5,1343.8 294.4,1344.6 298.5,1345.7 303.0,1347.5 306.5,1349.6 309.1,1352.1 310.9,1352.1 M191.6,1352.1 188.3,1351.6 185.4,1347.6 183.4,1343.6 182.0,1339.1 181.3,1334.6 181.3,1329.6 181.9,1325.1 183.3,1320.6 185.5,1316.1 188.3,1312.1 191.6,1308.6 195.5,1305.5 200.0,1303.0 204.5,1301.3 209.0,1300.3 214.0,1299.9 220.5,1300.5 227.0,1302.4 233.0,1305.5 236.0,1307.8 238.5,1310.1 242.8,1315.1 246.1,1320.6 248.7,1326.1 253.0,1337.1 255.0,1341.1 257.0,1343.9 259.5,1346.1 262.5,1347.5 267.0,1348.4 284.5,1348.8 292.0,1349.6 295.6,1350.6 298.5,1351.9 300.5,1352.1 302.3,1352.1 M192.9,1352.1 189.5,1351.8 186.7,1348.1 184.6,1344.1 183.0,1339.6 182.2,1335.1 182.2,1330.1 182.8,1325.6 184.2,1321.1 186.2,1317.1 189.0,1313.0 192.2,1309.6 196.0,1306.6 200.0,1304.3 204.5,1302.6 209.5,1301.5 214.0,1301.1 218.5,1301.4 222.5,1302.2 226.5,1303.5 230.5,1305.5 234.0,1307.8 237.5,1310.8 240.4,1314.1 243.2,1318.1 245.8,1323.1 248.4,1329.6 250.7,1338.1 251.9,1345.1 251.9,1348.6 251.1,1351.1 249.5,1352.1 246.8,1352.1 M195.7,1352.1 192.2,1352.1 189.3,1348.6 186.9,1344.6 185.3,1340.6 184.4,1336.1 184.2,1332.1 184.6,1327.6 185.7,1323.6 187.4,1319.6 190.0,1315.6 193.0,1312.3 196.5,1309.4 200.5,1307.0 205.0,1305.2 209.5,1304.2 214.0,1303.9 218.5,1304.2 223.0,1305.2 227.0,1306.8 231.0,1309.1 234.5,1311.8 237.7,1315.1 240.2,1318.6 242.6,1323.1 244.4,1327.6 245.6,1333.1 246.1,1338.1 245.7,1342.6 244.7,1346.1 242.8,1349.6 240.2,1352.1 237.0,1352.1 M198.8,1352.1 195.4,1352.1 192.3,1349.6 189.8,1346.1 187.8,1342.1 186.6,1338.1 186.1,1334.1 186.4,1329.6 187.3,1325.6 188.9,1321.6 191.3,1317.6 194.0,1314.6 197.5,1311.6 201.5,1309.3 205.5,1307.7 209.5,1306.8 214.0,1306.5 218.5,1306.8 222.5,1307.8 226.5,1309.5 230.5,1311.9 233.7,1314.6 236.7,1318.1 239.2,1322.1 240.9,1326.1 242.2,1330.6 242.7,1335.1 242.5,1339.1 241.6,1343.1 240.1,1346.6 238.0,1349.6 235.0,1352.1 231.4,1352.1 M202.1,1352.1 198.5,1352.1 195.0,1350.1 192.4,1347.1 190.3,1343.6 188.8,1339.6 188.0,1335.6 188.0,1331.6 188.6,1327.6 190.0,1323.6 192.0,1320.1 194.5,1317.0 197.7,1314.1 201.0,1311.9 205.0,1310.2 209.0,1309.1 213.5,1308.7 218.0,1309.1 222.0,1310.1 226.0,1311.8 229.5,1314.0 232.5,1316.7 235.3,1320.1 237.6,1324.1 239.1,1328.1 240.0,1332.1 240.1,1336.6 239.5,1340.6 238.3,1344.1 236.2,1347.6 233.6,1350.6 230.5,1352.1 226.9,1352.1 M206.1,1352.1 202.0,1352.1 198.5,1351.2 195.6,1348.6 193.2,1345.6 191.3,1342.1 190.0,1338.1 189.5,1334.1 189.8,1330.1 190.9,1326.1 192.5,1322.6 195.0,1319.1 198.0,1316.2 201.5,1313.8 205.0,1312.2 209.0,1311.1 213.5,1310.7 217.5,1311.0 221.5,1312.0 225.5,1313.8 229.0,1316.2 232.0,1319.1 234.6,1322.6 236.5,1326.6 237.6,1330.6 238.0,1334.6 237.7,1338.6 236.7,1342.1 235.0,1345.6 232.7,1348.6 229.5,1351.4 226.0,1352.1 222.2,1352.1 M218.0,1352.1 213.5,1352.1 209.0,1352.1 205.0,1352.1 201.0,1351.4 197.5,1348.7 195.0,1345.9 193.0,1342.6 191.5,1338.6 190.9,1334.6 191.2,1330.6 192.2,1326.6 194.3,1322.6 197.0,1319.2 200.1,1316.6 204.0,1314.4 208.0,1313.0 212.5,1312.4 217.0,1312.7 221.5,1313.8 225.5,1315.8 229.0,1318.4 231.9,1321.6 234.2,1325.6 235.6,1329.6 236.3,1334.1 236.0,1338.1 234.8,1342.1 232.9,1345.6 230.0,1348.9 226.5,1351.5 222.5,1352.1 218.0,1352.1 M216.5,1352.1 212.5,1352.1 208.5,1352.1 204.5,1351.9 201.0,1350.0 197.6,1347.1 195.2,1344.1 193.5,1340.6 192.5,1337.1 192.3,1333.1 192.7,1329.6 193.9,1326.1 196.0,1322.6 198.6,1319.6 202.0,1317.1 205.5,1315.4 209.5,1314.3 214.0,1313.9 218.0,1314.4 222.0,1315.7 225.5,1317.6 228.5,1320.1 231.4,1323.6 233.2,1327.1 234.4,1331.1 234.7,1335.1 234.1,1339.1 232.8,1342.6 230.6,1346.1 228.0,1348.7 224.5,1351.1 220.5,1352.1 216.5,1352.1 M215.0,1352.1 211.0,1352.1 207.5,1351.8 204.0,1350.4 200.5,1348.2 197.8,1345.6 195.7,1342.6 194.4,1339.6 193.6,1336.1 193.5,1332.6 194.2,1329.1 195.6,1325.6 197.6,1322.6 200.5,1319.8 203.5,1317.8 207.0,1316.3 211.0,1315.4 215.0,1315.4 219.0,1316.1 222.5,1317.5 225.8,1319.6 228.5,1322.2 230.9,1325.6 232.4,1329.1 233.1,1332.6 233.1,1336.6 232.3,1340.1 231.0,1343.1 228.8,1346.1 226.0,1348.7 222.5,1350.7 219.0,1352.0 215.0,1352.1 M217.5,1351.1 214.0,1351.5 210.5,1351.3 207.0,1350.5 203.5,1348.9 200.9,1347.1 198.4,1344.6 196.5,1341.6 195.3,1338.6 194.7,1335.6 194.8,1332.1 195.6,1328.6 197.1,1325.6 199.0,1322.9 201.5,1320.6 204.5,1318.7 208.0,1317.4 211.5,1316.7 215.5,1316.8 219.0,1317.5 222.5,1319.0 225.5,1321.1 228.0,1323.7 229.9,1326.6 231.3,1330.1 231.9,1333.6 231.7,1337.1 230.7,1340.6 229.1,1343.6 227.0,1346.1 224.0,1348.5 221.0,1350.1 217.5,1351.1 M216.5,1350.2 213.0,1350.4 209.5,1350.0 206.5,1349.2 203.5,1347.6 200.9,1345.6 198.7,1343.1 197.3,1340.6 196.3,1337.6 195.9,1334.6 196.1,1331.6 197.0,1328.6 198.5,1325.6 200.5,1323.2 203.0,1321.1 206.0,1319.4 209.0,1318.4 212.5,1318.0 216.0,1318.2 219.5,1319.1 222.5,1320.6 225.2,1322.6 227.4,1325.1 229.2,1328.1 230.2,1331.1 230.5,1334.6 230.2,1337.6 229.3,1340.6 227.5,1343.6 225.2,1346.1 222.5,1348.0 219.5,1349.4 216.5,1350.2 M216.0,1349.2 212.5,1349.4 209.5,1349.0 206.5,1348.0 204.0,1346.7 201.5,1344.7 199.7,1342.6 198.3,1340.1 197.3,1337.1 197.0,1334.6 197.3,1331.6 198.2,1328.6 199.6,1326.1 201.5,1323.9 204.0,1321.9 206.5,1320.5 209.5,1319.6 212.5,1319.2 216.0,1319.4 219.0,1320.3 222.0,1321.7 224.5,1323.7 226.6,1326.1 228.0,1328.6 229.0,1331.6 229.3,1334.6 228.9,1337.6 227.9,1340.6 226.4,1343.1 224.5,1345.2 221.8,1347.1 219.0,1348.4 216.0,1349.2 M215.5,1348.1 212.5,1348.3 209.5,1347.9 207.0,1347.1 204.5,1345.7 202.5,1344.1 200.7,1342.1 199.3,1339.6 198.5,1337.1 198.2,1334.6 198.5,1331.6 199.3,1329.1 200.7,1326.6 202.5,1324.6 205.0,1322.7 207.5,1321.4 210.0,1320.7 213.0,1320.4 216.0,1320.7 219.0,1321.6 221.5,1322.9 224.0,1325.0 225.7,1327.1 227.0,1329.6 227.8,1332.1 228.0,1335.1 227.6,1337.6 226.8,1340.1 225.2,1342.6 223.3,1344.6 221.0,1346.3 218.5,1347.4 215.5,1348.1 M214.5,1347.2 211.5,1347.1 209.0,1346.6 206.5,1345.6 204.5,1344.4 202.6,1342.6 201.1,1340.6 200.1,1338.6 199.5,1336.1 199.4,1333.6 199.9,1331.1 200.9,1328.6 202.2,1326.6 204.0,1324.8 206.0,1323.5 208.5,1322.4 211.0,1321.8 214.0,1321.7 216.5,1322.1 219.0,1322.9 221.5,1324.4 223.5,1326.2 225.0,1328.3 226.1,1330.6 226.6,1333.1 226.7,1335.6 226.2,1338.1 225.1,1340.6 223.7,1342.6 222.0,1344.2 219.5,1345.8 217.0,1346.7 214.5,1347.2 M213.5,1346.1 211.0,1345.9 209.0,1345.5 206.9,1344.6 204.7,1343.1 203.2,1341.6 201.9,1339.6 201.0,1337.6 200.6,1335.1 200.8,1332.6 201.3,1330.6 202.3,1328.6 203.9,1326.6 205.7,1325.1 208.0,1323.8 210.0,1323.2 212.5,1322.9 215.0,1323.0 217.5,1323.6 219.5,1324.6 221.5,1326.0 223.0,1327.6 224.3,1329.6 225.0,1331.6 225.5,1334.1 225.3,1336.6 224.7,1338.6 223.7,1340.6 222.0,1342.6 220.1,1344.1 218.0,1345.2 216.0,1345.8 213.5,1346.1 M215.5,1344.7 213.5,1345.0 211.0,1344.8 209.0,1344.3 207.0,1343.3 205.3,1342.1 203.9,1340.6 203.0,1339.1 202.2,1337.1 201.9,1335.1 201.9,1333.1 203.2,1329.6 204.2,1328.1 205.7,1326.6 207.5,1325.5 209.5,1324.6 211.5,1324.2 214.0,1324.1 216.0,1324.5 218.0,1325.2 220.0,1326.5 221.5,1327.8 222.8,1329.6 223.7,1331.6 224.1,1333.6 224.0,1336.1 223.5,1338.1 222.5,1340.1 221.3,1341.6 219.5,1343.1 217.5,1344.1 215.5,1344.7 M214.5,1343.7 211.0,1343.6 209.0,1343.0 207.3,1342.1 204.7,1339.6 203.9,1338.1 203.3,1336.1 203.1,1334.1 203.4,1332.6 204.0,1330.8 205.0,1329.2 207.5,1326.9 211.0,1325.6 213.0,1325.4 215.0,1325.6 218.5,1327.0 220.0,1328.2 221.2,1329.6 222.0,1331.1 222.7,1333.1 222.8,1335.1 222.6,1336.6 221.8,1338.6 220.9,1340.1 219.5,1341.5 218.0,1342.5 214.5,1343.7 M215.0,1342.2 211.5,1342.3 208.5,1341.3 206.1,1339.1 204.8,1336.6 204.6,1333.6 205.5,1331.0 207.6,1328.6 210.5,1327.1 214.0,1326.9 217.0,1327.8 219.5,1329.8 221.0,1332.6 221.3,1335.6 220.2,1338.6 218.0,1340.9 215.0,1342.2 M215.0,1340.6 212.5,1340.9 210.0,1340.3 208.0,1338.9 206.7,1337.1 206.2,1335.1 206.6,1332.6 207.8,1330.6 210.0,1329.0 212.5,1328.4 215.0,1328.7 217.5,1330.1 219.0,1332.1 219.6,1334.6 219.1,1337.1 217.5,1339.3 215.0,1340.6" fill="none" stroke="#a8a8a8" stroke-width="0.9"/>
<path d="M200.9,1285.9h1.6v1.6h-1.6zM254.7,1300.8h1.6v1.6h-1.6zM208.9,1240.1h1.6v1.6h-1.6zM200.2,1286.2h1.6v1.6h-1.6zM317.1,1319.0h1.6v1.6h-1.6zM332.9,1322.7h1.6v1.6h-1.6zM248.9,1275.9h1.6v1.6h-1.6zM299.7,1285.8h1.6v1.6h-1.6zM260.2,1302.8h1.6v1.6h-1.6zM224.9,1265.0h1.6v1.6h-1.6zM281.8,1290.6h1.6v1.6h-1.6zM239.9,1263.2h1.6v1.6h-1.6zM333.7,1331.1h1.6v1.6h-1.6zM173.1,1291.4h1.6v1.6h-1.6zM194.4,1284.0h1.6v1.6h-1.6zM210.2,1282.4h1.6v1.6h-1.6zM328.6,1327.4h1.6v1.6h-1.6zM203.5,1282.5h1.6v1.6h-1.6zM280.7,1319.7h1.6v1.6h-1.6zM171.0,1301.8h1.6v1.6h-1.6zM193.7,1256.5h1.6v1.6h-1.6zM215.9,1280.4h1.6v1.6h-1.6zM162.7,1348.6h1.6v1.6h-1.6zM217.0,1283.3h1.6v1.6h-1.6zM256.1,1290.7h1.6v1.6h-1.6zM309.7,1320.0h1.6v1.6h-1.6zM357.2,1334.4h1.6v1.6h-1.6zM196.7,1275.0h1.6v1.6h-1.6zM226.1,1257.2h1.6v1.6h-1.6zM163.2,1304.5h1.6v1.6h-1.6zM191.1,1280.5h1.6v1.6h-1.6zM265.1,1309.4h1.6v1.6h-1.6zM318.1,1328.3h1.6v1.6h-1.6zM162.5,1292.1h1.6v1.6h-1.6zM281.3,1307.6h1.6v1.6h-1.6zM290.6,1310.3h1.6v1.6h-1.6zM309.6,1298.8h1.6v1.6h-1.6zM270.5,1311.2h1.6v1.6h-1.6zM270.8,1293.4h1.6v1.6h-1.6zM288.4,1319.0h1.6v1.6h-1.6zM185.4,1279.2h1.6v1.6h-1.6zM270.3,1306.0h1.6v1.6h-1.6zM352.6,1312.5h1.6v1.6h-1.6zM184.1,1275.6h1.6v1.6h-1.6zM239.1,1286.8h1.6v1.6h-1.6zM230.3,1283.3h1.6v1.6h-1.6zM268.6,1310.2h1.6v1.6h-1.6zM216.5,1275.3h1.6v1.6h-1.6zM205.7,1253.3h1.6v1.6h-1.6zM203.3,1286.3h1.6v1.6h-1.6zM288.6,1323.3h1.6v1.6h-1.6zM288.3,1299.8h1.6v1.6h-1.6zM225.4,1285.5h1.6v1.6h-1.6zM236.2,1278.5h1.6v1.6h-1.6zM168.8,1346.8h1.6v1.6h-1.6zM356.5,1343.4h1.6v1.6h-1.6zM165.1,1272.5h1.6v1.6h-1.6zM166.6,1284.5h1.6v1.6h-1.6zM163.8,1326.6h1.6v1.6h-1.6zM286.9,1299.3h1.6v1.6h-1.6zM212.0,1283.1h1.6v1.6h-1.6zM282.9,1313.5h1.6v1.6h-1.6zM339.1,1336.0h1.6v1.6h-1.6zM191.8,1288.0h1.6v1.6h-1.6zM212.9,1256.3h1.6v1.6h-1.6zM170.8,1310.7h1.6v1.6h-1.6zM220.7,1274.8h1.6v1.6h-1.6zM217.6,1279.3h1.6v1.6h-1.6zM291.7,1285.4h1.6v1.6h-1.6zM208.9,1262.4h1.6v1.6h-1.6zM179.4,1291.5h1.6v1.6h-1.6zM199.8,1263.4h1.6v1.6h-1.6zM198.8,1251.6h1.6v1.6h-1.6zM322.6,1323.7h1.6v1.6h-1.6zM288.2,1316.1h1.6v1.6h-1.6zM167.5,1314.8h1.6v1.6h-1.6zM288.1,1321.3h1.6v1.6h-1.6zM162.0,1283.6h1.6v1.6h-1.6zM299.9,1303.2h1.6v1.6h-1.6zM320.6,1310.5h1.6v1.6h-1.6zM243.1,1279.1h1.6v1.6h-1.6zM249.7,1281.1h1.6v1.6h-1.6zM321.1,1320.7h1.6v1.6h-1.6zM267.9,1296.8h1.6v1.6h-1.6zM171.5,1310.6h1.6v1.6h-1.6zM239.7,1278.0h1.6v1.6h-1.6zM299.7,1304.1h1.6v1.6h-1.6zM274.7,1315.1h1.6v1.6h-1.6zM170.2,1290.1h1.6v1.6h-1.6zM162.3,1288.9h1.6v1.6h-1.6zM224.7,1241.9h1.6v1.6h-1.6zM200.8,1286.1h1.6v1.6h-1.6zM357.7,1329.0h1.6v1.6h-1.6zM336.2,1346.2h1.6v1.6h-1.6zM179.1,1272.5h1.6v1.6h-1.6zM163.4,1323.4h1.6v1.6h-1.6zM237.7,1267.9h1.6v1.6h-1.6zM328.6,1307.0h1.6v1.6h-1.6zM179.8,1276.1h1.6v1.6h-1.6zM285.3,1303.2h1.6v1.6h-1.6zM261.9,1249.9h1.6v1.6h-1.6zM337.8,1341.0h1.6v1.6h-1.6zM209.2,1249.5h1.6v1.6h-1.6zM206.1,1276.0h1.6v1.6h-1.6zM263.5,1293.0h1.6v1.6h-1.6zM162.9,1302.3h1.6v1.6h-1.6zM228.1,1273.0h1.6v1.6h-1.6zM217.6,1271.1h1.6v1.6h-1.6zM283.4,1287.9h1.6v1.6h-1.6zM254.4,1287.3h1.6v1.6h-1.6zM212.6,1284.3h1.6v1.6h-1.6zM299.9,1325.4h1.6v1.6h-1.6zM335.9,1316.2h1.6v1.6h-1.6zM290.0,1316.7h1.6v1.6h-1.6zM228.4,1272.1h1.6v1.6h-1.6zM262.2,1287.6h1.6v1.6h-1.6zM270.8,1280.7h1.6v1.6h-1.6zM201.0,1264.9h1.6v1.6h-1.6zM299.8,1306.6h1.6v1.6h-1.6zM254.7,1294.2h1.6v1.6h-1.6zM188.2,1289.8h1.6v1.6h-1.6zM187.0,1287.5h1.6v1.6h-1.6zM241.0,1290.5h1.6v1.6h-1.6zM279.8,1303.3h1.6v1.6h-1.6zM171.2,1311.8h1.6v1.6h-1.6zM207.2,1251.0h1.6v1.6h-1.6zM305.4,1300.6h1.6v1.6h-1.6zM175.8,1303.3h1.6v1.6h-1.6zM229.4,1273.0h1.6v1.6h-1.6zM202.1,1280.9h1.6v1.6h-1.6z" fill="#111"/>
<ellipse cx="359.0" cy="1230.5" rx="67.1" ry="54.1" transform="rotate(-43 359.0 1230.5)" fill="none" stroke="#111" stroke-width="2"/>
<text transform="translate(463.5,1094.0) scale(0.93,1)" font-size="29.8" font-family="'DejaVu Sans Mono', monospace" text-anchor="end" fill="#111">0.19</text>
<rect x="152.5" y="1035.6" width="319.0" height="318.5" fill="none" stroke="#111" stroke-width="4.6"/>
<line x1="145.5" y1="1060.8" x2="152.5" y2="1060.8" stroke="#111" stroke-width="1.6"/>
<line x1="145.5" y1="1119.0" x2="152.5" y2="1119.0" stroke="#111" stroke-width="1.6"/>
<line x1="145.5" y1="1179.8" x2="152.5" y2="1179.8" stroke="#111" stroke-width="1.6"/>
<line x1="145.5" y1="1241.6" x2="152.5" y2="1241.6" stroke="#111" stroke-width="1.6"/>
<line x1="145.5" y1="1274.1" x2="152.5" y2="1274.1" stroke="#111" stroke-width="1.6"/>
<line x1="145.5" y1="1308.4" x2="152.5" y2="1308.4" stroke="#111" stroke-width="1.6"/>
<line x1="149.0" y1="1101.5" x2="152.5" y2="1101.5" stroke="#111" stroke-width="1.6"/>
<line x1="149.0" y1="1091.2" x2="152.5" y2="1091.2" stroke="#111" stroke-width="1.6"/>
<line x1="149.0" y1="1084.0" x2="152.5" y2="1084.0" stroke="#111" stroke-width="1.6"/>
<line x1="149.0" y1="1078.3" x2="152.5" y2="1078.3" stroke="#111" stroke-width="1.6"/>
<line x1="149.0" y1="1073.7" x2="152.5" y2="1073.7" stroke="#111" stroke-width="1.6"/>
<line x1="149.0" y1="1069.8" x2="152.5" y2="1069.8" stroke="#111" stroke-width="1.6"/>
<line x1="149.0" y1="1066.4" x2="152.5" y2="1066.4" stroke="#111" stroke-width="1.6"/>
<line x1="149.0" y1="1063.5" x2="152.5" y2="1063.5" stroke="#111" stroke-width="1.6"/>
<line x1="149.0" y1="1161.5" x2="152.5" y2="1161.5" stroke="#111" stroke-width="1.6"/>
<line x1="149.0" y1="1150.8" x2="152.5" y2="1150.8" stroke="#111" stroke-width="1.6"/>
<line x1="149.0" y1="1143.2" x2="152.5" y2="1143.2" stroke="#111" stroke-width="1.6"/>
<line x1="149.0" y1="1137.3" x2="152.5" y2="1137.3" stroke="#111" stroke-width="1.6"/>
<line x1="149.0" y1="1132.5" x2="152.5" y2="1132.5" stroke="#111" stroke-width="1.6"/>
<line x1="149.0" y1="1128.4" x2="152.5" y2="1128.4" stroke="#111" stroke-width="1.6"/>
<line x1="149.0" y1="1124.9" x2="152.5" y2="1124.9" stroke="#111" stroke-width="1.6"/>
<line x1="149.0" y1="1121.8" x2="152.5" y2="1121.8" stroke="#111" stroke-width="1.6"/>
<line x1="149.0" y1="1223.0" x2="152.5" y2="1223.0" stroke="#111" stroke-width="1.6"/>
<line x1="149.0" y1="1212.1" x2="152.5" y2="1212.1" stroke="#111" stroke-width="1.6"/>
<line x1="149.0" y1="1204.4" x2="152.5" y2="1204.4" stroke="#111" stroke-width="1.6"/>
<line x1="149.0" y1="1198.4" x2="152.5" y2="1198.4" stroke="#111" stroke-width="1.6"/>
<line x1="149.0" y1="1193.5" x2="152.5" y2="1193.5" stroke="#111" stroke-width="1.6"/>
<line x1="149.0" y1="1189.4" x2="152.5" y2="1189.4" stroke="#111" stroke-width="1.6"/>
<line x1="149.0" y1="1185.8" x2="152.5" y2="1185.8" stroke="#111" stroke-width="1.6"/>
<line x1="149.0" y1="1182.6" x2="152.5" y2="1182.6" stroke="#111" stroke-width="1.6"/>
<line x1="149.0" y1="1267.6" x2="152.5" y2="1267.6" stroke="#111" stroke-width="1.6"/>
<line x1="149.0" y1="1271.6" x2="152.5" y2="1271.6" stroke="#111" stroke-width="1.6"/>
<line x1="149.0" y1="1276.6" x2="152.5" y2="1276.6" stroke="#111" stroke-width="1.6"/>
<line x1="149.0" y1="1280.6" x2="152.5" y2="1280.6" stroke="#111" stroke-width="1.6"/>
<line x1="149.0" y1="1335.6" x2="152.5" y2="1335.6" stroke="#111" stroke-width="1.6"/>
<line x1="149.0" y1="1347.6" x2="152.5" y2="1347.6" stroke="#111" stroke-width="1.6"/>
<line x1="211.5" y1="1354.6" x2="211.5" y2="1361.6" stroke="#111" stroke-width="1.6"/>
<line x1="300.5" y1="1354.6" x2="300.5" y2="1361.6" stroke="#111" stroke-width="1.6"/>
<line x1="371.5" y1="1354.6" x2="371.5" y2="1361.6" stroke="#111" stroke-width="1.6"/>
<line x1="441.5" y1="1354.6" x2="441.5" y2="1361.6" stroke="#111" stroke-width="1.6"/>
<line x1="321.9" y1="1354.6" x2="321.9" y2="1358.1" stroke="#111" stroke-width="1.6"/>
<line x1="334.4" y1="1354.6" x2="334.4" y2="1358.1" stroke="#111" stroke-width="1.6"/>
<line x1="343.2" y1="1354.6" x2="343.2" y2="1358.1" stroke="#111" stroke-width="1.6"/>
<line x1="350.1" y1="1354.6" x2="350.1" y2="1358.1" stroke="#111" stroke-width="1.6"/>
<line x1="355.7" y1="1354.6" x2="355.7" y2="1358.1" stroke="#111" stroke-width="1.6"/>
<line x1="360.5" y1="1354.6" x2="360.5" y2="1358.1" stroke="#111" stroke-width="1.6"/>
<line x1="364.6" y1="1354.6" x2="364.6" y2="1358.1" stroke="#111" stroke-width="1.6"/>
<line x1="368.3" y1="1354.6" x2="368.3" y2="1358.1" stroke="#111" stroke-width="1.6"/>
<line x1="392.6" y1="1354.6" x2="392.6" y2="1358.1" stroke="#111" stroke-width="1.6"/>
<line x1="404.9" y1="1354.6" x2="404.9" y2="1358.1" stroke="#111" stroke-width="1.6"/>
<line x1="413.6" y1="1354.6" x2="413.6" y2="1358.1" stroke="#111" stroke-width="1.6"/>
<line x1="420.4" y1="1354.6" x2="420.4" y2="1358.1" stroke="#111" stroke-width="1.6"/>
<line x1="426.0" y1="1354.6" x2="426.0" y2="1358.1" stroke="#111" stroke-width="1.6"/>
<line x1="430.7" y1="1354.6" x2="430.7" y2="1358.1" stroke="#111" stroke-width="1.6"/>
<line x1="434.7" y1="1354.6" x2="434.7" y2="1358.1" stroke="#111" stroke-width="1.6"/>
<line x1="438.3" y1="1354.6" x2="438.3" y2="1358.1" stroke="#111" stroke-width="1.6"/>
<line x1="273.7" y1="1354.6" x2="273.7" y2="1358.1" stroke="#111" stroke-width="1.6"/>
<line x1="280.8" y1="1354.6" x2="280.8" y2="1358.1" stroke="#111" stroke-width="1.6"/>
<line x1="286.7" y1="1354.6" x2="286.7" y2="1358.1" stroke="#111" stroke-width="1.6"/>
<line x1="291.9" y1="1354.6" x2="291.9" y2="1358.1" stroke="#111" stroke-width="1.6"/>
<line x1="296.4" y1="1354.6" x2="296.4" y2="1358.1" stroke="#111" stroke-width="1.6"/>
<line x1="164.5" y1="1354.6" x2="164.5" y2="1358.1" stroke="#111" stroke-width="1.6"/>
<line x1="174.5" y1="1354.6" x2="174.5" y2="1358.1" stroke="#111" stroke-width="1.6"/>
<line x1="184.5" y1="1354.6" x2="184.5" y2="1358.1" stroke="#111" stroke-width="1.6"/>
<line x1="192.5" y1="1354.6" x2="192.5" y2="1358.1" stroke="#111" stroke-width="1.6"/>
<line x1="198.5" y1="1354.6" x2="198.5" y2="1358.1" stroke="#111" stroke-width="1.6"/>
<line x1="202.5" y1="1354.6" x2="202.5" y2="1358.1" stroke="#111" stroke-width="1.6"/>
<line x1="206.5" y1="1354.6" x2="206.5" y2="1358.1" stroke="#111" stroke-width="1.6"/>
<line x1="209.5" y1="1354.6" x2="209.5" y2="1358.1" stroke="#111" stroke-width="1.6"/>
<line x1="213.5" y1="1354.6" x2="213.5" y2="1358.1" stroke="#111" stroke-width="1.6"/>
<line x1="216.5" y1="1354.6" x2="216.5" y2="1358.1" stroke="#111" stroke-width="1.6"/>
<line x1="220.5" y1="1354.6" x2="220.5" y2="1358.1" stroke="#111" stroke-width="1.6"/>
<line x1="224.5" y1="1354.6" x2="224.5" y2="1358.1" stroke="#111" stroke-width="1.6"/>
<line x1="230.5" y1="1354.6" x2="230.5" y2="1358.1" stroke="#111" stroke-width="1.6"/>
<line x1="238.5" y1="1354.6" x2="238.5" y2="1358.1" stroke="#111" stroke-width="1.6"/>
<line x1="248.5" y1="1354.6" x2="248.5" y2="1358.1" stroke="#111" stroke-width="1.6"/>
<line x1="262.5" y1="1354.6" x2="262.5" y2="1358.1" stroke="#111" stroke-width="1.6"/>
<text transform="translate(138.0,1072.9) scale(0.97,1)" font-size="17.6" font-family="'DejaVu Sans', sans-serif" text-anchor="end" fill="#111">10<tspan dx="2.2" dy="-14">5</tspan></text>
<text transform="translate(138.0,1131.1) scale(0.97,1)" font-size="17.6" font-family="'DejaVu Sans', sans-serif" text-anchor="end" fill="#111">10<tspan dx="2.2" dy="-14">4</tspan></text>
<text transform="translate(138.0,1191.9) scale(0.97,1)" font-size="17.6" font-family="'DejaVu Sans', sans-serif" text-anchor="end" fill="#111">10<tspan dx="2.2" dy="-14">3</tspan></text>
<text transform="translate(138.0,1253.7) scale(0.97,1)" font-size="17.6" font-family="'DejaVu Sans', sans-serif" text-anchor="end" fill="#111">10<tspan dx="2.2" dy="-14">2</tspan></text>
<text transform="translate(127.5,1282.6) scale(0.97,1)" font-size="17.6" font-family="'DejaVu Sans', sans-serif" text-anchor="end" fill="#111">0</text>
<text transform="translate(138.0,1320.4) scale(0.97,1)" font-size="17.6" font-family="'DejaVu Sans', sans-serif" text-anchor="end" fill="#111">-10<tspan dx="2.2" dy="-14">2</tspan></text>
<text transform="translate(211.5,1390.4) scale(0.97,1)" font-size="17.6" font-family="'DejaVu Sans', sans-serif" text-anchor="middle" fill="#111">0</text>
<text transform="translate(328.3,1390.4) scale(0.97,1)" font-size="17.6" font-family="'DejaVu Sans', sans-serif" text-anchor="end" fill="#111">10<tspan dx="2.2" dy="-11.4">3</tspan></text>
<text transform="translate(399.3,1390.4) scale(0.97,1)" font-size="17.6" font-family="'DejaVu Sans', sans-serif" text-anchor="end" fill="#111">10<tspan dx="2.2" dy="-11.4">4</tspan></text>
<text transform="translate(469.3,1390.4) scale(0.97,1)" font-size="17.6" font-family="'DejaVu Sans', sans-serif" text-anchor="end" fill="#111">10<tspan dx="2.2" dy="-11.4">5</tspan></text>
<line x1="594.1" y1="648.0" x2="594.1" y2="966.0" stroke="#d2d2d2" stroke-width="1.3"/>
<line x1="612.7" y1="648.0" x2="612.7" y2="966.0" stroke="#d2d2d2" stroke-width="1.3"/>
<line x1="676.5" y1="648.0" x2="676.5" y2="966.0" stroke="#d2d2d2" stroke-width="1.3"/>
<line x1="772.8" y1="648.0" x2="772.8" y2="966.0" stroke="#d2d2d2" stroke-width="1.3"/>
<line x1="602.8" y1="648.0" x2="602.8" y2="966.0" stroke="#d6d6d6" stroke-width="2.4"/>
<line x1="531.5" y1="670.6" x2="849.5" y2="670.6" stroke="#d2d2d2" stroke-width="1.3"/>
<line x1="531.5" y1="731.0" x2="849.5" y2="731.0" stroke="#d2d2d2" stroke-width="1.3"/>
<line x1="531.5" y1="794.8" x2="849.5" y2="794.8" stroke="#d2d2d2" stroke-width="1.3"/>
<line x1="531.5" y1="853.0" x2="849.5" y2="853.0" stroke="#d2d2d2" stroke-width="1.3"/>
<line x1="531.5" y1="883.0" x2="849.5" y2="883.0" stroke="#d2d2d2" stroke-width="1.3"/>
<line x1="531.5" y1="943.5" x2="849.5" y2="943.5" stroke="#d2d2d2" stroke-width="1.3"/>
<line x1="531.5" y1="868.2" x2="849.5" y2="868.2" stroke="#d8d8d8" stroke-width="3.2"/>
<path d="M622.0,942.5 613.5,942.7 604.5,941.9 596.5,940.3 589.0,937.9 582.0,934.7 576.0,930.9 570.7,926.5 566.3,921.5 563.2,916.5 561.1,911.0 560.0,905.0 560.1,899.0 561.1,893.0 563.2,886.5 566.6,879.0 570.8,871.5 576.4,863.5 591.1,846.0 604.0,828.9 608.9,823.5 614.0,819.1 619.0,815.7 624.5,812.8 643.0,805.3 650.1,802.0 656.5,798.4 662.5,794.5 668.5,789.8 674.5,784.5 694.2,764.5 702.5,756.7 711.0,749.7 719.5,743.9 724.0,741.4 728.5,739.2 732.5,737.8 736.0,736.8 739.5,736.3 742.5,736.3 745.0,736.8 747.5,737.9 748.9,739.0 750.0,740.2 751.5,743.5 751.9,748.0 751.1,753.0 749.3,758.5 746.5,764.5 742.9,770.5 738.2,777.0 733.6,782.5 728.5,787.9 723.5,792.6 717.5,797.7 706.5,805.9 686.4,819.0 680.0,824.0 676.9,827.0 673.8,830.5 671.4,834.0 669.5,837.7 668.3,841.0 667.5,844.5 667.2,848.0 667.4,851.5 668.5,857.5 672.3,871.5 673.8,878.5 674.8,886.0 675.2,894.0 674.8,901.0 673.7,907.0 671.9,912.5 669.3,917.5 665.8,922.5 661.4,927.0 656.0,931.3 650.5,934.6 644.0,937.6 637.5,939.8 629.5,941.6 622.0,942.5 M618.0,940.0 611.0,939.9 604.5,939.2 597.5,937.7 591.0,935.6 585.0,932.9 579.5,929.6 574.9,926.0 571.1,922.0 568.0,917.5 565.9,913.0 564.7,908.5 564.2,903.5 564.7,898.5 565.8,894.0 567.8,889.0 570.8,883.5 576.0,876.2 584.0,866.5 599.6,849.5 612.0,834.8 615.5,831.2 619.2,828.0 624.0,824.5 629.0,821.5 635.5,818.4 654.5,810.1 660.0,807.0 665.0,803.5 669.5,799.6 674.0,794.9 690.3,775.5 698.5,766.5 707.0,758.5 715.0,752.4 723.0,747.7 726.5,746.1 730.0,744.9 733.0,744.3 736.0,744.2 738.5,744.6 740.5,745.5 742.5,747.5 743.7,750.5 743.7,754.5 742.7,759.0 740.7,764.0 737.7,769.5 733.9,775.0 729.0,780.9 724.5,785.6 719.5,790.2 714.0,794.6 708.5,798.5 698.0,804.7 679.5,814.0 673.0,818.2 669.0,821.8 665.5,825.8 662.3,830.5 659.7,835.5 658.0,840.0 656.9,844.5 656.6,848.5 657.0,853.0 658.5,859.0 663.6,873.5 666.6,883.5 668.5,891.5 669.3,898.0 669.2,903.5 668.3,908.5 666.6,913.5 664.1,918.0 660.7,922.5 656.5,926.7 651.5,930.3 645.5,933.7 639.0,936.3 632.5,938.2 625.5,939.4 618.0,940.0 M685.0,804.6 681.5,804.6 680.0,804.1 679.2,803.5 678.8,802.5 678.7,801.0 680.0,797.0 683.4,790.5 688.7,782.5 694.5,775.0 700.7,768.0 706.0,762.8 711.5,758.2 717.0,754.4 722.0,751.6 727.0,749.6 731.0,748.9 734.5,749.1 737.1,750.5 738.5,752.6 739.1,755.5 738.8,759.0 737.4,763.5 735.2,768.0 732.3,772.5 728.9,777.0 724.5,781.9 720.0,786.3 715.0,790.4 710.0,794.0 705.0,797.1 700.0,799.7 694.5,802.0 689.5,803.6 685.0,804.6 M620.5,938.5 614.5,938.7 608.5,938.3 602.5,937.4 597.5,936.2 592.0,934.4 587.0,932.2 582.5,929.7 578.7,927.0 575.3,924.0 572.2,920.5 569.9,917.0 568.0,913.0 566.9,909.0 566.4,905.0 566.6,900.5 567.4,896.5 568.8,892.5 571.0,888.0 574.0,883.5 577.5,879.1 584.5,871.6 604.3,852.0 616.0,839.4 620.6,835.0 624.0,832.2 627.9,829.5 632.0,827.1 636.0,825.3 641.0,823.4 645.5,822.2 649.5,821.7 652.0,821.9 653.3,822.5 654.0,823.4 654.3,826.0 653.8,829.0 651.2,838.0 650.2,842.5 649.8,847.0 650.1,851.5 650.8,855.0 652.2,859.0 661.7,881.0 665.3,891.0 666.4,896.0 666.8,900.5 666.6,905.0 665.8,909.0 663.8,914.5 660.3,920.0 655.7,925.0 650.0,929.4 643.5,932.9 636.0,935.7 628.0,937.6 620.5,938.5 M696.0,796.5 693.0,796.7 690.5,795.9 689.7,795.0 689.2,794.0 689.3,791.0 690.7,787.0 693.3,782.0 697.1,776.5 701.2,771.5 705.4,767.0 710.0,762.8 714.5,759.4 719.0,756.6 723.0,754.8 727.0,753.7 730.0,753.8 731.5,754.2 732.5,754.9 733.7,756.5 734.2,758.5 734.1,761.0 733.3,764.0 731.9,767.5 729.9,771.0 724.6,778.0 718.0,784.5 710.5,790.2 703.0,794.3 699.5,795.6 696.0,796.5 M623.5,937.0 618.0,937.4 612.5,937.4 607.0,936.9 601.5,935.9 596.5,934.6 591.5,932.8 587.0,930.7 583.0,928.4 579.2,925.5 576.0,922.5 573.5,919.5 571.3,916.0 569.7,912.5 568.6,908.5 568.3,905.0 568.4,901.0 569.9,895.0 572.8,889.0 577.0,883.1 582.5,877.4 623.5,842.3 627.0,839.9 630.5,838.0 633.5,837.0 636.0,836.8 638.0,837.4 639.5,839.1 640.3,841.5 642.0,850.5 644.0,856.0 646.8,861.5 657.8,880.5 661.7,888.5 663.3,893.0 664.3,897.5 664.6,901.5 664.4,905.5 663.0,911.5 660.3,917.0 656.5,922.0 651.5,926.5 645.5,930.4 639.0,933.3 631.5,935.6 623.5,937.0 M703.0,789.1 700.5,789.2 699.0,788.8 697.8,787.5 697.6,785.5 698.1,783.0 699.4,780.0 701.6,776.5 704.2,773.0 707.4,769.5 710.5,766.6 713.7,764.0 717.0,761.9 720.0,760.4 723.0,759.6 725.5,759.6 727.0,760.2 727.7,761.0 728.3,762.5 728.3,764.0 727.9,766.0 726.0,770.5 722.5,775.5 718.0,780.2 713.0,784.3 707.5,787.5 703.0,789.1 M621.5,936.0 616.5,936.3 611.5,936.1 606.5,935.6 601.5,934.7 596.5,933.3 592.5,931.9 588.0,929.8 584.5,927.7 581.0,925.2 578.1,922.5 575.5,919.5 573.4,916.5 571.7,913.0 570.6,909.5 570.1,906.0 570.1,902.5 570.5,899.5 571.3,896.5 572.7,893.0 574.4,890.0 578.9,884.0 585.0,878.1 590.0,874.2 595.5,870.4 614.5,858.2 618.5,856.2 622.0,854.8 625.0,854.1 627.5,854.0 630.0,854.6 632.0,855.5 634.5,857.4 637.0,859.7 646.0,869.7 654.3,880.5 658.3,887.0 660.9,893.0 662.4,899.0 662.5,904.5 662.2,907.5 661.4,910.5 658.9,916.0 655.3,921.0 650.0,925.8 644.0,929.6 637.0,932.7 629.5,934.8 621.5,936.0 M713.5,774.7 713.0,774.8 712.7,774.5 712.9,774.0 713.9,773.0 714.5,772.8 714.8,773.0 714.7,773.5 713.5,774.7 M623.5,934.5 618.5,934.9 613.5,935.0 609.0,934.6 604.0,933.9 599.5,932.8 595.0,931.4 591.0,929.7 587.5,927.9 584.0,925.6 581.0,923.1 578.4,920.5 576.1,917.5 574.3,914.5 572.9,911.0 572.2,908.0 571.9,904.5 572.2,901.0 572.9,898.0 573.9,895.0 575.4,892.0 577.3,889.0 579.7,886.0 582.5,883.1 586.0,880.0 590.0,877.1 594.5,874.2 600.0,871.2 606.0,868.3 611.0,866.2 615.5,864.7 619.5,863.8 623.0,863.5 626.0,863.7 628.5,864.3 631.5,865.3 634.5,866.8 641.5,871.7 648.5,878.1 653.9,884.5 657.5,890.5 658.8,893.5 659.8,897.0 660.4,900.0 660.6,903.0 659.9,908.5 658.0,914.0 654.8,919.0 650.4,923.5 645.0,927.4 638.5,930.7 631.0,933.1 623.5,934.5 M620.5,932.5 612.0,932.6 603.5,931.4 596.0,929.2 589.0,925.7 586.0,923.7 583.4,921.5 581.0,919.0 579.1,916.5 577.6,914.0 576.4,911.0 575.6,908.0 575.3,905.0 575.5,902.0 576.1,899.0 577.1,896.0 578.4,893.5 580.3,890.5 582.3,888.0 587.7,883.0 594.5,878.6 602.5,874.9 610.5,872.6 614.5,871.9 618.5,871.5 625.0,871.9 628.5,872.6 632.0,873.6 638.5,876.6 644.5,880.8 649.9,886.0 653.7,891.5 655.1,894.5 656.2,897.5 657.0,903.0 656.8,906.0 656.4,908.5 654.6,913.5 651.3,918.5 647.0,922.7 641.5,926.4 635.0,929.4 628.0,931.4 620.5,932.5 M618.5,930.5 611.0,930.4 603.5,929.1 596.5,926.9 590.5,923.8 585.7,920.0 581.9,915.5 580.5,913.0 579.4,910.5 578.8,908.0 578.5,905.0 578.7,902.0 579.2,899.5 581.3,894.5 585.0,889.5 590.0,885.0 596.0,881.2 603.0,878.2 610.5,876.3 618.0,875.6 624.5,876.0 631.0,877.6 637.0,880.1 642.5,883.7 647.2,888.0 650.8,893.0 652.9,898.0 653.4,900.5 653.7,903.5 653.1,908.5 651.2,913.5 648.0,918.0 643.7,922.0 638.5,925.3 632.5,927.9 625.5,929.7 618.5,930.5 M619.0,928.5 612.5,928.5 606.5,927.7 600.5,926.1 595.0,923.8 590.5,921.0 586.5,917.3 583.7,913.5 581.9,909.0 581.4,904.5 582.0,900.0 583.8,895.5 586.6,891.5 590.5,887.7 595.5,884.3 601.0,881.6 607.0,879.7 614.0,878.5 621.0,878.5 628.0,879.7 634.0,881.8 640.0,885.3 644.8,889.5 646.8,892.0 648.3,894.5 650.3,899.5 650.7,902.0 650.8,905.0 650.5,907.5 649.8,910.0 647.5,914.5 645.6,917.0 643.6,919.0 638.5,922.8 632.5,925.7 626.0,927.6 619.0,928.5 M621.0,926.5 615.5,926.8 610.5,926.5 605.5,925.6 601.0,924.3 596.5,922.3 592.7,920.0 589.5,917.2 586.9,914.0 585.0,910.5 584.1,907.0 584.0,903.5 584.6,900.0 586.0,896.5 588.4,893.0 591.2,890.0 595.0,887.1 601.0,883.9 608.0,881.6 615.5,880.6 622.5,880.9 629.0,882.3 632.5,883.7 635.5,885.2 638.4,887.0 640.9,889.0 643.0,891.1 645.0,893.7 646.6,896.5 647.5,899.0 648.1,901.5 648.2,904.0 648.0,907.0 647.3,909.5 646.2,912.0 644.6,914.5 642.5,917.0 640.3,919.0 634.9,922.5 628.5,925.0 621.0,926.5 M619.0,925.0 614.0,925.1 609.0,924.6 604.5,923.6 600.0,921.9 596.0,919.8 592.5,917.2 589.6,914.0 587.8,911.0 586.8,908.0 586.4,904.5 586.8,901.0 588.1,897.5 590.3,894.0 593.0,891.2 596.5,888.5 600.5,886.2 606.5,884.0 613.0,882.7 619.5,882.6 626.0,883.6 632.0,885.7 637.0,888.6 641.3,892.5 642.8,894.5 644.2,897.0 645.6,901.5 645.8,904.0 645.6,906.5 644.2,911.0 642.7,913.5 641.0,915.5 637.0,919.0 631.5,922.0 625.5,924.0 619.0,925.0 M621.5,923.1 617.5,923.4 613.0,923.4 608.5,922.8 604.5,921.7 601.0,920.4 597.5,918.5 594.5,916.3 592.0,913.6 590.3,911.0 589.2,908.0 588.7,905.0 588.9,902.0 589.8,899.0 591.4,896.0 593.4,893.5 596.2,891.0 601.0,887.9 607.0,885.6 613.0,884.4 619.5,884.3 625.5,885.3 631.0,887.2 636.0,890.2 639.9,894.0 641.3,896.0 642.5,898.5 643.1,900.5 643.5,903.0 643.5,905.5 643.1,907.5 642.2,910.0 641.1,912.0 638.0,915.7 633.5,919.0 628.0,921.5 621.5,923.1 M620.5,921.5 616.5,921.8 612.5,921.6 608.5,921.0 605.0,920.1 601.5,918.6 598.5,916.9 596.0,914.9 593.8,912.5 592.3,910.0 591.3,907.0 591.0,904.5 591.3,901.5 592.4,898.5 593.9,896.0 596.0,893.6 598.5,891.5 603.0,888.8 608.5,886.9 614.0,885.9 620.0,886.0 625.5,887.0 630.7,889.0 635.2,892.0 638.5,895.5 640.6,899.5 641.1,901.5 641.3,904.0 640.6,908.0 638.6,912.0 635.3,915.5 631.0,918.3 626.0,920.3 620.5,921.5 M618.5,920.0 614.5,920.1 611.0,919.7 607.5,919.0 604.0,917.7 600.7,916.0 598.1,914.0 596.2,912.0 594.6,909.5 593.7,907.0 593.3,904.5 593.7,901.5 594.5,899.0 596.0,896.5 598.0,894.3 600.5,892.2 603.4,890.5 608.0,888.7 613.0,887.6 618.0,887.4 623.0,888.0 627.8,889.5 632.0,891.8 635.2,894.5 637.7,898.0 638.9,901.5 639.0,905.5 637.9,909.0 635.5,912.5 632.5,915.2 628.5,917.5 624.0,919.1 618.5,920.0 M620.5,918.0 617.0,918.3 614.0,918.3 610.5,917.8 607.5,917.0 604.9,916.0 602.1,914.5 600.0,912.9 598.2,911.0 596.9,909.0 596.1,907.0 595.7,905.0 595.8,902.5 596.5,900.0 597.5,898.0 599.0,896.0 601.1,894.0 605.0,891.6 609.0,890.0 613.5,889.1 618.5,889.0 623.0,889.6 627.1,891.0 631.0,893.2 634.0,896.0 635.8,899.0 636.8,902.5 636.6,906.0 635.1,909.5 632.7,912.5 629.3,915.0 625.0,916.9 620.5,918.0 M620.5,916.0 615.0,916.4 609.5,915.5 604.7,913.5 602.5,912.0 600.9,910.5 599.8,909.0 598.8,907.0 598.3,905.0 598.2,903.0 598.6,901.0 599.4,899.0 600.8,897.0 602.3,895.5 605.0,893.5 609.0,891.7 613.0,890.7 617.5,890.4 621.5,890.9 625.5,892.1 629.0,894.0 631.8,896.5 633.7,899.5 634.5,902.5 634.3,905.5 633.1,908.5 631.0,911.1 628.0,913.4 624.5,915.0 620.5,916.0 M619.0,914.1 614.0,914.1 609.3,913.0 605.4,911.0 602.5,908.2 601.5,906.5 601.1,905.0 600.9,903.5 601.1,901.5 602.5,898.4 605.3,895.5 608.5,893.7 612.0,892.5 615.5,892.0 619.0,892.1 622.5,892.8 625.6,894.0 628.5,896.0 630.4,898.0 631.7,900.5 632.1,903.0 631.7,905.5 630.5,908.0 628.5,910.2 625.8,912.0 622.5,913.3 619.0,914.1 M617.0,911.5 612.5,911.0 608.6,909.5 606.0,907.5 604.8,906.0 604.2,904.5 603.9,903.0 604.0,901.5 604.5,900.0 605.4,898.5 608.0,896.2 611.5,894.5 614.0,893.9 617.0,893.7 619.5,893.9 622.0,894.5 624.4,895.5 626.5,897.0 627.9,898.5 629.0,900.5 629.4,902.5 629.1,904.5 628.2,906.5 626.9,908.0 624.9,909.5 622.5,910.6 620.0,911.2 617.0,911.5 M620.5,907.5 618.0,907.8 615.0,907.5 612.0,906.7 610.0,905.7 608.7,904.5 607.9,903.0 607.8,901.0 608.4,899.5 609.8,898.0 611.2,897.0 615.0,895.8 617.0,895.7 619.5,895.9 621.5,896.6 623.3,897.5 624.5,898.5 625.5,900.0 626.0,901.5 626.0,903.0 625.3,904.5 624.0,905.9 622.5,906.8 620.5,907.5" fill="none" stroke="#8a8a8a" stroke-width="0.9"/>
<ellipse cx="731.3" cy="780.2" rx="75.7" ry="67.7" transform="rotate(-53 731.3 780.2)" fill="none" stroke="#111" stroke-width="1.7"/>
<text transform="translate(842.5,689.8) scale(0.93,1)" font-size="29.8" font-family="'DejaVu Sans Mono', monospace" text-anchor="end" fill="#111">9.71</text>
<rect x="531.5" y="648.0" width="318.0" height="318.0" fill="none" stroke="#111" stroke-width="4.4"/>
<rect x="524.7" y="640.8" width="14" height="15" fill="#4a4a4a"/>
<rect x="842.7" y="640.8" width="14" height="15" fill="#4a4a4a"/>
<rect x="524.7" y="958.8" width="14" height="15" fill="#4a4a4a"/>
<rect x="842.7" y="958.8" width="14" height="15" fill="#4a4a4a"/>
<line x1="524.5" y1="670.6" x2="531.5" y2="670.6" stroke="#111" stroke-width="1.6"/>
<line x1="524.5" y1="731.0" x2="531.5" y2="731.0" stroke="#111" stroke-width="1.6"/>
<line x1="524.5" y1="794.8" x2="531.5" y2="794.8" stroke="#111" stroke-width="1.6"/>
<line x1="528.0" y1="712.8" x2="531.5" y2="712.8" stroke="#111" stroke-width="1.6"/>
<line x1="528.0" y1="702.2" x2="531.5" y2="702.2" stroke="#111" stroke-width="1.6"/>
<line x1="528.0" y1="694.6" x2="531.5" y2="694.6" stroke="#111" stroke-width="1.6"/>
<line x1="528.0" y1="688.8" x2="531.5" y2="688.8" stroke="#111" stroke-width="1.6"/>
<line x1="528.0" y1="684.0" x2="531.5" y2="684.0" stroke="#111" stroke-width="1.6"/>
<line x1="528.0" y1="680.0" x2="531.5" y2="680.0" stroke="#111" stroke-width="1.6"/>
<line x1="528.0" y1="676.5" x2="531.5" y2="676.5" stroke="#111" stroke-width="1.6"/>
<line x1="528.0" y1="673.4" x2="531.5" y2="673.4" stroke="#111" stroke-width="1.6"/>
<line x1="528.0" y1="775.6" x2="531.5" y2="775.6" stroke="#111" stroke-width="1.6"/>
<line x1="528.0" y1="764.4" x2="531.5" y2="764.4" stroke="#111" stroke-width="1.6"/>
<line x1="528.0" y1="756.4" x2="531.5" y2="756.4" stroke="#111" stroke-width="1.6"/>
<line x1="528.0" y1="750.2" x2="531.5" y2="750.2" stroke="#111" stroke-width="1.6"/>
<line x1="528.0" y1="745.2" x2="531.5" y2="745.2" stroke="#111" stroke-width="1.6"/>
<line x1="528.0" y1="740.9" x2="531.5" y2="740.9" stroke="#111" stroke-width="1.6"/>
<line x1="528.0" y1="737.2" x2="531.5" y2="737.2" stroke="#111" stroke-width="1.6"/>
<line x1="528.0" y1="733.9" x2="531.5" y2="733.9" stroke="#111" stroke-width="1.6"/>
<line x1="528.0" y1="808.0" x2="531.5" y2="808.0" stroke="#111" stroke-width="1.6"/>
<line x1="528.0" y1="820.0" x2="531.5" y2="820.0" stroke="#111" stroke-width="1.6"/>
<line x1="528.0" y1="831.0" x2="531.5" y2="831.0" stroke="#111" stroke-width="1.6"/>
<line x1="528.0" y1="840.0" x2="531.5" y2="840.0" stroke="#111" stroke-width="1.6"/>
<line x1="528.0" y1="847.0" x2="531.5" y2="847.0" stroke="#111" stroke-width="1.6"/>
<line x1="524.5" y1="853.0" x2="531.5" y2="853.0" stroke="#111" stroke-width="1.6"/>
<line x1="528.0" y1="860.0" x2="531.5" y2="860.0" stroke="#111" stroke-width="1.6"/>
<line x1="528.0" y1="868.2" x2="531.5" y2="868.2" stroke="#111" stroke-width="1.6"/>
<line x1="528.0" y1="876.0" x2="531.5" y2="876.0" stroke="#111" stroke-width="1.6"/>
<line x1="524.5" y1="883.0" x2="531.5" y2="883.0" stroke="#111" stroke-width="1.6"/>
<line x1="528.0" y1="890.0" x2="531.5" y2="890.0" stroke="#111" stroke-width="1.6"/>
<line x1="528.0" y1="900.0" x2="531.5" y2="900.0" stroke="#111" stroke-width="1.6"/>
<line x1="528.0" y1="911.0" x2="531.5" y2="911.0" stroke="#111" stroke-width="1.6"/>
<line x1="528.0" y1="928.0" x2="531.5" y2="928.0" stroke="#111" stroke-width="1.6"/>
<line x1="528.0" y1="942.5" x2="531.5" y2="942.5" stroke="#111" stroke-width="1.6"/>
<line x1="561.5" y1="966.0" x2="561.5" y2="973.0" stroke="#111" stroke-width="1.6"/>
<line x1="594.1" y1="966.0" x2="594.1" y2="973.0" stroke="#111" stroke-width="1.6"/>
<line x1="602.8" y1="966.0" x2="602.8" y2="973.0" stroke="#111" stroke-width="1.6"/>
<line x1="612.7" y1="966.0" x2="612.7" y2="973.0" stroke="#111" stroke-width="1.6"/>
<line x1="676.5" y1="966.0" x2="676.5" y2="973.0" stroke="#111" stroke-width="1.6"/>
<line x1="772.8" y1="966.0" x2="772.8" y2="973.0" stroke="#111" stroke-width="1.6"/>
<line x1="705.5" y1="966.0" x2="705.5" y2="969.5" stroke="#111" stroke-width="1.6"/>
<line x1="722.4" y1="966.0" x2="722.4" y2="969.5" stroke="#111" stroke-width="1.6"/>
<line x1="734.5" y1="966.0" x2="734.5" y2="969.5" stroke="#111" stroke-width="1.6"/>
<line x1="743.8" y1="966.0" x2="743.8" y2="969.5" stroke="#111" stroke-width="1.6"/>
<line x1="751.4" y1="966.0" x2="751.4" y2="969.5" stroke="#111" stroke-width="1.6"/>
<line x1="757.9" y1="966.0" x2="757.9" y2="969.5" stroke="#111" stroke-width="1.6"/>
<line x1="763.5" y1="966.0" x2="763.5" y2="969.5" stroke="#111" stroke-width="1.6"/>
<line x1="768.4" y1="966.0" x2="768.4" y2="969.5" stroke="#111" stroke-width="1.6"/>
<line x1="801.8" y1="966.0" x2="801.8" y2="969.5" stroke="#111" stroke-width="1.6"/>
<line x1="818.7" y1="966.0" x2="818.7" y2="969.5" stroke="#111" stroke-width="1.6"/>
<line x1="830.8" y1="966.0" x2="830.8" y2="969.5" stroke="#111" stroke-width="1.6"/>
<line x1="840.1" y1="966.0" x2="840.1" y2="969.5" stroke="#111" stroke-width="1.6"/>
<line x1="539.5" y1="966.0" x2="539.5" y2="969.5" stroke="#111" stroke-width="1.6"/>
<line x1="545.5" y1="966.0" x2="545.5" y2="969.5" stroke="#111" stroke-width="1.6"/>
<line x1="551.5" y1="966.0" x2="551.5" y2="969.5" stroke="#111" stroke-width="1.6"/>
<line x1="556.5" y1="966.0" x2="556.5" y2="969.5" stroke="#111" stroke-width="1.6"/>
<line x1="569.5" y1="966.0" x2="569.5" y2="969.5" stroke="#111" stroke-width="1.6"/>
<line x1="576.5" y1="966.0" x2="576.5" y2="969.5" stroke="#111" stroke-width="1.6"/>
<line x1="583.5" y1="966.0" x2="583.5" y2="969.5" stroke="#111" stroke-width="1.6"/>
<line x1="588.5" y1="966.0" x2="588.5" y2="969.5" stroke="#111" stroke-width="1.6"/>
<line x1="598.5" y1="966.0" x2="598.5" y2="969.5" stroke="#111" stroke-width="1.6"/>
<line x1="607.5" y1="966.0" x2="607.5" y2="969.5" stroke="#111" stroke-width="1.6"/>
<line x1="619.5" y1="966.0" x2="619.5" y2="969.5" stroke="#111" stroke-width="1.6"/>
<line x1="628.5" y1="966.0" x2="628.5" y2="969.5" stroke="#111" stroke-width="1.6"/>
<line x1="638.5" y1="966.0" x2="638.5" y2="969.5" stroke="#111" stroke-width="1.6"/>
<line x1="649.5" y1="966.0" x2="649.5" y2="969.5" stroke="#111" stroke-width="1.6"/>
<line x1="661.5" y1="966.0" x2="661.5" y2="969.5" stroke="#111" stroke-width="1.6"/>
<text transform="translate(517.0,683.5) scale(0.97,1)" font-size="17.6" font-family="'DejaVu Sans', sans-serif" text-anchor="end" fill="#111">10<tspan dx="2.2" dy="-11.3">5</tspan></text>
<text transform="translate(517.0,743.9) scale(0.97,1)" font-size="17.6" font-family="'DejaVu Sans', sans-serif" text-anchor="end" fill="#111">10<tspan dx="2.2" dy="-11.3">4</tspan></text>
<text transform="translate(517.0,807.7) scale(0.97,1)" font-size="17.6" font-family="'DejaVu Sans', sans-serif" text-anchor="end" fill="#111">10<tspan dx="2.2" dy="-11.3">3</tspan></text>
<text transform="translate(506.5,876.8) scale(0.97,1)" font-size="17.6" font-family="'DejaVu Sans', sans-serif" text-anchor="end" fill="#111">0</text>
<text transform="translate(517.0,953.0) scale(0.97,1)" font-size="17.6" font-family="'DejaVu Sans', sans-serif" text-anchor="end" fill="#111">-10<tspan dx="2.2" dy="-11.3">3</tspan></text>
<text transform="translate(581.3,1000.8) scale(0.97,1)" font-size="17.6" font-family="'DejaVu Sans', sans-serif" text-anchor="end" fill="#111">-10<tspan dx="2.2" dy="-10.8">3</tspan></text>
<text transform="translate(609.5,1000.8) scale(0.97,1)" font-size="17.6" font-family="'DejaVu Sans', sans-serif" text-anchor="middle" fill="#111">0</text>
<text transform="translate(704.7,1000.8) scale(0.97,1)" font-size="17.6" font-family="'DejaVu Sans', sans-serif" text-anchor="end" fill="#111">10<tspan dx="2.2" dy="-10.8">3</tspan></text>
<text transform="translate(801.0,1000.8) scale(0.97,1)" font-size="17.6" font-family="'DejaVu Sans', sans-serif" text-anchor="end" fill="#111">10<tspan dx="2.2" dy="-10.8">4</tspan></text>
<path d="M550.4,1352.1 550.4,1345.1 552.1,1316.6 553.0,1280.1 554.4,1266.1 556.7,1253.1 558.6,1245.6 560.8,1239.1 563.5,1233.3 566.4,1228.6 569.5,1225.0 572.5,1222.8 576.0,1221.4 580.0,1220.9 583.5,1221.2 592.5,1222.8 603.0,1224.2 609.0,1225.6 613.0,1227.2 616.5,1229.1 620.0,1231.7 623.5,1235.1 626.5,1238.6 629.4,1242.6 631.7,1246.6 634.3,1251.6 636.8,1257.6 638.9,1263.6 644.5,1283.6 646.7,1290.1 648.0,1293.1 649.5,1295.6 651.5,1297.9 653.5,1299.5 657.0,1301.0 661.5,1301.9 692.0,1303.3 704.0,1304.4 715.0,1305.9 724.5,1307.7 732.5,1309.7 740.0,1312.0 747.5,1314.8 755.0,1318.4 762.0,1322.6 768.1,1327.1 773.4,1332.1 777.9,1337.6 781.2,1343.1 783.7,1349.1 785.2,1352.1 M559.8,1352.1 558.5,1349.6 557.6,1343.6 557.2,1337.6 557.0,1330.1 557.1,1286.6 557.9,1275.1 559.4,1264.6 561.1,1256.6 563.1,1250.1 565.5,1244.3 568.2,1239.6 571.2,1236.1 574.5,1233.6 578.0,1232.2 582.0,1231.8 601.0,1233.6 608.0,1235.2 612.0,1236.8 615.5,1238.9 619.0,1241.8 622.0,1244.9 625.0,1248.8 627.7,1253.1 630.2,1258.1 632.5,1263.6 635.4,1272.6 640.5,1293.1 643.1,1301.1 644.5,1303.9 646.2,1306.6 648.0,1308.6 650.0,1310.1 654.0,1311.8 659.0,1312.5 689.5,1312.8 700.5,1313.4 710.0,1314.4 717.5,1315.4 725.0,1316.9 732.0,1318.7 738.0,1320.7 745.0,1323.6 751.5,1327.0 757.0,1330.7 762.1,1335.1 766.2,1339.6 769.6,1344.6 771.9,1349.6 773.4,1352.1 M564.2,1352.1 562.6,1350.1 561.3,1344.1 560.5,1338.1 560.1,1331.1 560.0,1289.1 560.6,1278.6 561.7,1269.6 563.2,1262.6 565.1,1256.1 567.3,1250.6 570.0,1246.0 573.0,1242.6 576.0,1240.5 579.5,1239.2 583.5,1238.8 600.0,1240.4 604.0,1241.1 607.5,1242.0 611.0,1243.6 614.5,1245.8 617.5,1248.3 620.5,1251.6 623.1,1255.1 625.8,1259.6 628.0,1264.3 630.1,1269.6 633.0,1279.6 637.8,1300.1 640.3,1307.6 641.9,1311.1 643.5,1313.5 645.5,1315.8 647.5,1317.3 651.5,1319.0 657.0,1319.7 687.5,1319.1 698.0,1319.3 707.0,1319.8 720.5,1321.7 726.5,1323.0 732.0,1324.6 738.5,1327.0 744.5,1329.8 750.0,1333.2 754.9,1337.1 758.8,1341.1 762.1,1345.6 764.4,1350.1 765.9,1352.1 M567.1,1352.1 565.3,1350.1 563.8,1344.6 562.9,1338.6 562.4,1332.1 562.2,1290.6 562.7,1281.6 563.6,1273.6 564.8,1267.1 566.5,1261.1 568.5,1256.0 571.0,1251.5 573.5,1248.5 576.5,1246.1 580.0,1244.8 584.0,1244.3 588.5,1244.6 599.5,1246.0 603.5,1246.7 607.0,1247.8 610.5,1249.4 613.5,1251.3 616.5,1254.0 619.2,1257.1 621.7,1260.6 623.9,1264.6 627.6,1273.6 630.4,1283.1 635.1,1303.6 638.0,1312.6 639.6,1316.1 641.5,1319.2 643.5,1321.5 645.5,1323.1 647.5,1324.1 650.0,1324.9 655.5,1325.5 686.0,1323.9 695.5,1323.8 704.0,1324.0 716.0,1325.2 727.0,1327.5 733.5,1329.6 739.5,1332.2 744.6,1335.1 749.4,1338.6 753.5,1342.6 756.5,1346.5 758.7,1350.6 760.2,1352.1 M569.3,1352.1 567.2,1350.1 565.6,1344.6 564.6,1339.1 564.0,1332.6 564.2,1291.1 564.5,1283.6 565.2,1276.6 566.4,1270.1 568.0,1264.4 570.0,1259.4 572.2,1255.6 574.5,1252.8 577.5,1250.5 580.5,1249.4 584.5,1249.0 589.0,1249.3 599.0,1250.9 603.0,1251.7 606.5,1252.8 609.5,1254.3 612.5,1256.3 615.5,1259.0 618.0,1262.0 622.0,1268.6 625.5,1277.2 627.9,1285.6 632.9,1306.6 636.4,1317.1 638.0,1320.8 640.0,1324.2 642.0,1326.6 644.5,1328.6 646.5,1329.5 648.5,1330.1 654.0,1330.5 683.5,1327.9 693.0,1327.5 701.0,1327.5 712.5,1328.2 723.0,1330.0 729.5,1331.9 735.0,1334.0 740.0,1336.6 744.5,1339.6 748.5,1343.1 751.5,1346.7 753.9,1350.6 755.6,1352.1 M571.0,1352.1 568.8,1350.1 567.2,1345.1 566.1,1339.6 565.4,1333.1 565.2,1326.1 565.8,1309.1 565.8,1291.1 566.7,1279.1 567.8,1273.1 569.2,1267.6 571.0,1263.0 573.0,1259.4 575.5,1256.4 578.0,1254.6 581.0,1253.4 584.5,1253.1 589.0,1253.5 597.0,1255.1 602.0,1256.2 605.5,1257.4 608.5,1258.9 611.5,1260.9 614.0,1263.3 616.5,1266.3 620.3,1272.6 623.5,1280.6 625.5,1287.3 631.0,1308.6 635.5,1322.2 637.3,1326.1 639.0,1329.2 641.0,1331.6 643.0,1333.3 646.5,1334.7 651.5,1335.2 657.0,1334.8 680.0,1331.7 694.0,1330.6 701.0,1330.5 707.5,1330.7 713.5,1331.3 719.5,1332.2 725.5,1333.7 731.0,1335.6 736.0,1337.9 740.5,1340.7 744.5,1344.0 747.5,1347.3 749.9,1351.1 751.5,1352.1 M572.4,1352.1 570.2,1350.6 568.3,1345.1 567.2,1339.6 566.5,1333.1 566.4,1326.1 567.1,1308.6 567.3,1291.6 568.0,1281.8 568.9,1276.1 570.1,1271.1 571.5,1267.1 573.5,1263.3 575.5,1260.6 578.0,1258.5 581.0,1257.2 584.0,1256.8 587.5,1257.1 591.5,1257.9 600.0,1260.3 604.5,1261.9 607.5,1263.4 610.0,1265.1 612.5,1267.4 615.0,1270.4 618.5,1276.3 621.5,1283.6 630.5,1313.7 635.5,1328.5 637.0,1331.9 638.9,1335.1 640.5,1337.0 642.5,1338.5 644.5,1339.3 646.5,1339.7 651.5,1339.7 678.4,1335.1 687.0,1334.0 695.0,1333.3 706.0,1333.2 716.0,1334.1 722.0,1335.4 727.5,1337.0 732.5,1339.1 736.9,1341.6 740.8,1344.6 744.0,1347.9 746.5,1351.6 748.0,1352.1 M573.6,1352.1 571.3,1350.6 569.3,1345.1 568.1,1339.6 567.4,1333.6 567.3,1325.1 568.3,1308.6 568.7,1291.6 569.2,1284.1 570.0,1278.6 571.0,1274.1 572.5,1269.8 574.4,1266.1 576.5,1263.4 578.5,1261.7 581.0,1260.6 584.0,1260.2 587.0,1260.5 591.2,1261.6 599.0,1264.4 604.0,1266.6 607.0,1268.4 609.5,1270.3 612.0,1272.9 614.0,1275.5 617.4,1281.6 620.5,1289.1 627.6,1310.1 636.0,1336.1 638.5,1340.9 640.0,1342.7 641.5,1343.8 643.0,1344.5 645.0,1344.8 649.5,1344.6 673.5,1339.0 682.5,1337.3 690.5,1336.2 702.0,1335.5 712.5,1335.9 718.5,1336.9 724.0,1338.3 729.0,1340.1 733.5,1342.4 737.4,1345.1 740.6,1348.1 743.2,1351.6 744.8,1352.1 M574.6,1352.1 572.1,1350.6 570.1,1345.1 568.8,1339.6 568.1,1333.6 568.1,1324.6 569.4,1307.6 570.4,1285.6 571.0,1280.6 572.1,1276.1 573.4,1272.1 575.0,1268.9 577.0,1266.3 579.0,1264.6 581.5,1263.6 584.0,1263.3 587.5,1263.8 591.2,1265.1 597.6,1268.1 603.0,1271.1 606.0,1273.1 608.8,1275.6 611.1,1278.1 613.5,1281.4 616.0,1285.7 619.0,1292.0 625.8,1309.1 629.8,1321.1 635.0,1340.4 636.5,1345.1 638.5,1349.2 640.5,1351.0 642.5,1351.5 645.5,1351.1 665.3,1344.1 673.5,1341.8 681.5,1340.0 688.5,1338.7 695.0,1337.9 701.5,1337.5 707.5,1337.5 713.5,1338.0 719.5,1339.1 724.8,1340.6 729.5,1342.6 733.7,1345.1 737.4,1348.1 740.3,1351.6 742.1,1352.1 M575.4,1352.1 572.9,1350.6 570.7,1345.1 569.5,1339.6 568.8,1333.6 568.8,1324.6 570.4,1306.6 571.4,1287.6 572.0,1282.6 572.8,1278.6 574.0,1274.9 575.5,1271.7 577.0,1269.5 579.0,1267.7 581.0,1266.6 583.5,1266.2 587.0,1266.7 591.4,1268.6 597.0,1272.1 603.0,1276.6 607.5,1280.6 611.0,1284.4 614.5,1289.1 617.5,1294.1 621.5,1302.1 624.9,1310.1 627.8,1318.1 630.3,1327.1 632.4,1336.6 633.7,1345.6 633.8,1351.1 632.8,1352.1 M652.1,1352.1 655.2,1352.1 660.4,1349.6 667.4,1346.6 674.8,1344.1 682.5,1342.0 690.5,1340.4 698.0,1339.5 705.0,1339.2 711.0,1339.5 717.0,1340.3 722.1,1341.6 727.0,1343.5 731.5,1345.9 734.9,1348.6 737.6,1351.6 739.5,1352.1 M576.2,1352.1 574.4,1352.1 572.7,1348.6 571.3,1344.6 570.3,1340.6 569.3,1332.1 569.6,1322.6 571.5,1305.6 572.7,1288.6 574.0,1280.7 575.6,1276.1 578.0,1272.3 580.5,1270.3 582.0,1269.8 583.5,1269.6 586.0,1270.0 588.6,1271.1 591.5,1272.9 594.7,1275.6 603.0,1284.0 610.0,1289.8 613.0,1292.7 617.0,1297.8 620.5,1303.7 623.8,1310.6 626.6,1318.1 628.8,1325.6 630.4,1333.1 631.3,1340.1 631.4,1346.1 630.6,1351.1 629.0,1352.1 M661.7,1352.1 664.7,1352.1 668.8,1350.1 674.2,1347.6 680.5,1345.3 687.0,1343.5 693.5,1342.2 699.5,1341.5 705.5,1341.2 711.0,1341.4 716.0,1342.1 720.5,1343.2 725.0,1344.8 729.0,1346.9 732.0,1349.1 734.8,1352.1 736.6,1352.1 M577.1,1352.1 573.7,1349.1 572.3,1345.6 571.2,1341.6 570.1,1333.6 570.2,1324.6 572.9,1304.1 574.2,1289.6 575.4,1283.1 577.0,1278.8 578.8,1276.1 581.0,1274.3 583.5,1273.8 586.0,1274.4 589.0,1276.2 592.0,1279.0 597.5,1285.6 600.0,1288.1 603.3,1290.6 610.0,1294.5 613.0,1296.9 617.0,1301.4 621.0,1307.8 623.9,1314.1 626.4,1321.1 628.2,1328.1 629.4,1335.1 629.7,1341.1 629.3,1346.6 628.2,1351.1 626.4,1352.1 M670.6,1352.1 673.6,1352.1 676.8,1350.6 681.0,1348.6 686.0,1346.7 691.0,1345.3 696.0,1344.3 701.0,1343.6 706.0,1343.4 710.5,1343.6 715.0,1344.2 719.0,1345.1 723.0,1346.5 726.2,1348.1 729.1,1350.1 731.6,1352.1 733.3,1352.1 M578.1,1352.1 576.1,1352.1 574.5,1349.1 573.1,1345.6 572.0,1342.1 570.8,1334.6 570.8,1326.1 571.8,1318.1 577.0,1287.0 578.0,1284.0 579.5,1281.4 581.5,1279.7 583.5,1279.3 585.5,1279.8 587.5,1281.2 594.2,1288.6 597.7,1291.6 601.9,1294.1 609.0,1297.4 613.0,1300.2 617.0,1304.5 620.9,1310.6 623.7,1316.6 625.7,1322.6 627.3,1329.1 628.2,1335.6 628.3,1341.6 627.6,1346.6 626.3,1351.1 624.1,1352.1 M679.2,1352.1 681.6,1352.1 684.0,1351.6 687.0,1350.1 690.8,1348.6 698.5,1346.7 706.5,1346.0 714.0,1346.6 720.5,1348.4 723.0,1349.6 725.5,1351.1 727.8,1352.1 729.3,1352.1 M579.1,1352.1 577.0,1352.1 575.3,1349.1 572.9,1342.6 571.6,1335.1 571.6,1327.1 572.1,1321.6 573.3,1315.1 578.5,1293.9 579.5,1291.1 580.6,1289.1 582.0,1287.7 583.5,1287.2 584.5,1287.3 586.0,1287.9 592.4,1292.6 595.8,1294.6 607.0,1299.3 611.0,1301.5 613.5,1303.4 616.0,1306.0 620.0,1311.7 622.6,1317.1 624.7,1323.1 626.2,1329.6 626.9,1335.6 626.9,1341.1 626.1,1346.1 624.7,1350.6 622.1,1352.1 M688.4,1352.1 692.3,1352.1 697.0,1350.7 702.3,1349.6 707.5,1349.2 712.5,1349.6 717.0,1350.8 720.9,1352.1 724.0,1352.1 M580.4,1352.1 578.1,1352.1 576.4,1349.1 574.8,1345.6 573.7,1342.1 572.5,1334.6 572.4,1330.6 572.6,1326.1 573.4,1320.6 574.6,1315.1 576.5,1308.9 578.5,1303.7 580.3,1300.1 582.0,1297.9 584.0,1296.5 586.0,1296.1 589.0,1296.4 596.0,1298.4 604.0,1301.0 608.5,1302.9 611.5,1304.7 614.5,1307.3 617.0,1310.2 619.2,1313.6 621.7,1318.6 623.8,1324.6 625.0,1330.6 625.5,1336.6 625.2,1341.6 624.2,1346.6 622.4,1351.1 619.9,1352.1 M582.9,1352.1 580.5,1352.1 578.4,1349.1 576.7,1345.6 575.4,1341.6 574.5,1337.6 574.1,1333.1 574.2,1328.6 574.8,1324.1 576.0,1319.1 577.5,1314.6 579.5,1310.5 581.5,1307.5 583.5,1305.5 586.0,1304.0 588.5,1303.3 592.0,1303.0 596.5,1303.3 601.0,1304.2 605.5,1305.7 609.0,1307.5 612.0,1309.6 615.0,1312.6 617.2,1315.6 619.3,1319.6 621.1,1324.1 622.3,1329.1 622.9,1334.1 622.8,1339.1 622.1,1343.6 620.6,1348.1 618.8,1351.6 616.1,1352.1 M586.1,1352.1 583.4,1352.1 581.1,1349.6 579.1,1346.1 577.7,1342.6 576.7,1338.6 576.2,1334.1 576.2,1329.6 576.8,1325.6 577.8,1321.6 579.3,1317.6 581.3,1314.1 583.5,1311.5 586.0,1309.5 588.5,1308.3 591.5,1307.5 595.0,1307.3 598.5,1307.5 602.5,1308.4 606.0,1309.8 609.5,1311.9 612.1,1314.1 614.7,1317.1 616.8,1320.6 618.5,1324.6 619.6,1328.6 620.3,1333.1 620.3,1337.6 619.8,1341.6 618.6,1345.6 617.0,1349.1 614.9,1352.1 611.9,1352.1 M590.1,1352.1 587.1,1352.1 584.5,1350.7 582.2,1347.6 580.6,1344.6 579.3,1341.1 578.4,1337.1 578.1,1333.1 578.4,1329.1 579.2,1325.1 580.5,1321.3 582.2,1318.1 584.5,1315.2 587.0,1313.2 589.5,1311.9 592.5,1311.0 596.0,1310.7 599.5,1311.0 603.0,1311.9 606.5,1313.5 609.5,1315.6 612.0,1318.2 614.1,1321.1 615.8,1324.6 617.0,1328.1 617.7,1332.1 617.9,1336.1 617.5,1340.1 616.4,1344.1 614.8,1347.6 612.7,1350.6 610.2,1352.1 607.3,1352.1 M602.0,1352.1 598.5,1352.1 595.0,1352.1 591.5,1352.1 588.5,1351.6 585.8,1349.1 583.5,1346.1 581.8,1342.6 580.7,1339.1 580.1,1335.1 580.2,1330.6 581.0,1326.6 582.5,1322.6 584.5,1319.3 587.0,1316.8 590.0,1314.9 593.0,1313.9 596.5,1313.6 600.0,1313.9 603.5,1315.0 607.0,1317.0 609.9,1319.6 612.2,1322.6 614.0,1326.1 615.2,1330.1 615.7,1334.1 615.5,1338.1 614.7,1342.1 613.2,1345.6 611.0,1349.0 608.5,1351.4 605.5,1352.1 602.0,1352.1 M600.5,1352.1 597.5,1352.1 594.5,1352.1 591.5,1351.1 589.0,1349.5 586.5,1347.0 584.5,1344.1 583.2,1341.1 582.3,1337.6 581.9,1333.6 582.2,1330.1 583.1,1326.6 584.5,1323.5 586.5,1320.7 588.8,1318.6 591.5,1317.1 594.5,1316.3 597.5,1316.2 601.0,1316.7 604.0,1317.9 606.5,1319.6 609.0,1322.0 611.0,1324.9 612.4,1328.1 613.3,1331.6 613.6,1335.6 613.3,1339.1 612.3,1342.6 610.7,1345.6 608.8,1348.1 606.5,1350.2 603.5,1351.8 600.5,1352.1 M598.5,1350.6 595.5,1350.4 593.0,1349.5 590.5,1348.1 588.5,1346.3 586.8,1344.1 585.4,1341.6 584.4,1338.6 583.9,1335.6 583.9,1332.1 584.5,1329.1 585.5,1326.3 587.0,1323.8 589.0,1321.6 591.0,1320.2 593.5,1319.1 596.0,1318.7 599.0,1318.8 601.5,1319.5 604.0,1320.7 606.5,1322.6 608.5,1325.0 609.9,1327.6 611.0,1330.6 611.5,1333.6 611.4,1337.1 610.9,1340.1 609.7,1343.1 608.1,1345.6 606.2,1347.6 604.0,1349.1 601.5,1350.1 598.5,1350.6 M599.5,1348.1 597.0,1348.2 595.0,1347.8 593.0,1347.0 590.9,1345.6 589.0,1343.6 587.7,1341.6 586.7,1339.1 586.1,1336.6 585.9,1333.6 586.2,1331.1 587.0,1328.6 588.0,1326.6 589.5,1324.6 591.3,1323.1 593.5,1321.9 595.5,1321.4 597.5,1321.3 600.0,1321.7 602.5,1322.7 604.5,1324.1 606.0,1325.6 607.5,1327.8 608.5,1330.1 609.1,1332.6 609.3,1335.1 609.1,1337.6 608.5,1340.1 607.3,1342.6 605.9,1344.6 604.0,1346.3 602.0,1347.4 599.5,1348.1 M598.0,1345.6 596.0,1345.4 594.5,1344.9 593.0,1344.1 591.5,1342.8 589.3,1339.6 588.3,1335.6 588.3,1333.1 588.7,1331.1 589.5,1329.1 590.4,1327.6 593.0,1325.3 594.5,1324.6 596.5,1324.1 598.5,1324.2 600.1,1324.6 602.0,1325.6 603.5,1326.7 604.7,1328.1 605.8,1330.1 606.5,1332.1 606.9,1334.1 606.9,1336.1 606.5,1338.3 605.9,1340.1 604.6,1342.1 603.2,1343.6 601.5,1344.7 600.0,1345.3 598.0,1345.6" fill="none" stroke="#a8a8a8" stroke-width="0.9"/>
<path d="M640.1,1261.8h1.6v1.6h-1.6zM676.6,1280.6h1.6v1.6h-1.6zM682.7,1253.6h1.6v1.6h-1.6zM723.0,1281.8h1.6v1.6h-1.6zM625.5,1223.1h1.6v1.6h-1.6zM668.2,1251.5h1.6v1.6h-1.6zM644.3,1245.9h1.6v1.6h-1.6zM608.2,1197.5h1.6v1.6h-1.6zM650.7,1238.9h1.6v1.6h-1.6zM728.2,1247.7h1.6v1.6h-1.6zM709.0,1253.8h1.6v1.6h-1.6zM654.9,1239.4h1.6v1.6h-1.6zM757.6,1317.9h1.6v1.6h-1.6zM656.0,1267.1h1.6v1.6h-1.6zM655.8,1271.6h1.6v1.6h-1.6zM653.2,1282.6h1.6v1.6h-1.6zM640.2,1260.0h1.6v1.6h-1.6zM554.3,1234.3h1.6v1.6h-1.6zM666.9,1235.3h1.6v1.6h-1.6zM649.0,1247.0h1.6v1.6h-1.6zM638.9,1253.0h1.6v1.6h-1.6zM695.1,1289.2h1.6v1.6h-1.6zM606.3,1219.7h1.6v1.6h-1.6zM761.0,1300.8h1.6v1.6h-1.6zM662.0,1247.1h1.6v1.6h-1.6zM661.1,1281.1h1.6v1.6h-1.6zM704.8,1278.1h1.6v1.6h-1.6zM646.3,1275.9h1.6v1.6h-1.6zM781.3,1335.8h1.6v1.6h-1.6zM690.7,1262.5h1.6v1.6h-1.6zM657.4,1255.3h1.6v1.6h-1.6zM643.6,1267.7h1.6v1.6h-1.6zM661.6,1297.1h1.6v1.6h-1.6zM609.5,1169.7h1.6v1.6h-1.6zM653.7,1277.8h1.6v1.6h-1.6zM642.2,1232.2h1.6v1.6h-1.6zM551.0,1269.7h1.6v1.6h-1.6zM641.6,1206.0h1.6v1.6h-1.6zM651.3,1278.0h1.6v1.6h-1.6zM667.0,1257.3h1.6v1.6h-1.6zM547.8,1287.0h1.6v1.6h-1.6zM645.6,1273.1h1.6v1.6h-1.6zM654.2,1237.2h1.6v1.6h-1.6zM650.3,1286.8h1.6v1.6h-1.6zM655.7,1279.1h1.6v1.6h-1.6zM745.0,1269.6h1.6v1.6h-1.6zM767.4,1325.0h1.6v1.6h-1.6zM659.0,1245.5h1.6v1.6h-1.6zM676.1,1238.7h1.6v1.6h-1.6zM668.7,1261.1h1.6v1.6h-1.6zM670.4,1222.2h1.6v1.6h-1.6zM630.3,1233.3h1.6v1.6h-1.6zM632.5,1228.7h1.6v1.6h-1.6zM664.4,1248.8h1.6v1.6h-1.6zM670.2,1250.1h1.6v1.6h-1.6zM658.9,1235.5h1.6v1.6h-1.6zM669.2,1300.0h1.6v1.6h-1.6zM690.1,1244.2h1.6v1.6h-1.6zM666.9,1260.1h1.6v1.6h-1.6zM673.7,1271.7h1.6v1.6h-1.6zM686.9,1283.6h1.6v1.6h-1.6zM617.7,1203.4h1.6v1.6h-1.6zM672.9,1271.1h1.6v1.6h-1.6zM643.7,1259.6h1.6v1.6h-1.6zM549.3,1167.5h1.6v1.6h-1.6zM756.3,1295.1h1.6v1.6h-1.6zM676.9,1250.7h1.6v1.6h-1.6zM641.7,1256.9h1.6v1.6h-1.6zM663.7,1269.5h1.6v1.6h-1.6zM604.6,1223.3h1.6v1.6h-1.6zM640.0,1244.8h1.6v1.6h-1.6zM648.7,1264.4h1.6v1.6h-1.6zM662.7,1259.5h1.6v1.6h-1.6zM667.6,1289.8h1.6v1.6h-1.6zM650.8,1268.3h1.6v1.6h-1.6zM662.8,1301.6h1.6v1.6h-1.6zM657.7,1251.1h1.6v1.6h-1.6zM646.0,1282.4h1.6v1.6h-1.6zM651.2,1225.7h1.6v1.6h-1.6zM591.5,1214.6h1.6v1.6h-1.6zM648.0,1251.9h1.6v1.6h-1.6zM631.9,1239.8h1.6v1.6h-1.6zM585.2,1196.3h1.6v1.6h-1.6zM660.5,1274.2h1.6v1.6h-1.6zM628.3,1239.2h1.6v1.6h-1.6zM636.1,1209.6h1.6v1.6h-1.6zM763.4,1316.6h1.6v1.6h-1.6zM642.5,1274.4h1.6v1.6h-1.6zM554.1,1241.2h1.6v1.6h-1.6zM671.9,1274.7h1.6v1.6h-1.6zM639.0,1260.5h1.6v1.6h-1.6zM705.9,1246.3h1.6v1.6h-1.6zM649.5,1256.5h1.6v1.6h-1.6zM642.5,1263.3h1.6v1.6h-1.6zM718.7,1296.6h1.6v1.6h-1.6zM643.1,1227.0h1.6v1.6h-1.6zM611.1,1178.4h1.6v1.6h-1.6zM645.8,1261.5h1.6v1.6h-1.6zM649.4,1276.0h1.6v1.6h-1.6zM733.9,1252.2h1.6v1.6h-1.6zM668.6,1228.8h1.6v1.6h-1.6zM688.6,1261.4h1.6v1.6h-1.6zM656.1,1250.1h1.6v1.6h-1.6zM655.0,1249.2h1.6v1.6h-1.6zM651.2,1281.4h1.6v1.6h-1.6zM645.9,1219.7h1.6v1.6h-1.6zM656.1,1259.6h1.6v1.6h-1.6zM654.6,1247.5h1.6v1.6h-1.6zM645.6,1252.3h1.6v1.6h-1.6zM633.3,1207.6h1.6v1.6h-1.6zM544.4,1272.6h1.6v1.6h-1.6zM666.7,1291.1h1.6v1.6h-1.6zM714.3,1303.8h1.6v1.6h-1.6zM658.3,1271.9h1.6v1.6h-1.6zM657.1,1291.1h1.6v1.6h-1.6zM646.3,1247.2h1.6v1.6h-1.6zM650.6,1281.7h1.6v1.6h-1.6zM657.4,1248.8h1.6v1.6h-1.6zM665.4,1225.4h1.6v1.6h-1.6zM648.1,1290.4h1.6v1.6h-1.6zM661.1,1247.9h1.6v1.6h-1.6zM602.2,1218.2h1.6v1.6h-1.6zM667.9,1280.0h1.6v1.6h-1.6zM685.3,1279.5h1.6v1.6h-1.6zM694.6,1282.4h1.6v1.6h-1.6zM666.3,1284.4h1.6v1.6h-1.6zM692.6,1263.7h1.6v1.6h-1.6zM696.6,1240.9h1.6v1.6h-1.6zM707.6,1271.5h1.6v1.6h-1.6zM646.1,1265.8h1.6v1.6h-1.6zM635.1,1235.7h1.6v1.6h-1.6zM684.4,1267.8h1.6v1.6h-1.6zM667.4,1301.6h1.6v1.6h-1.6zM669.4,1256.1h1.6v1.6h-1.6zM674.1,1243.7h1.6v1.6h-1.6zM675.7,1261.8h1.6v1.6h-1.6zM641.6,1241.4h1.6v1.6h-1.6zM654.9,1279.1h1.6v1.6h-1.6zM640.7,1252.5h1.6v1.6h-1.6zM709.2,1272.5h1.6v1.6h-1.6zM698.5,1268.7h1.6v1.6h-1.6zM640.3,1232.5h1.6v1.6h-1.6zM660.5,1300.5h1.6v1.6h-1.6zM642.6,1239.7h1.6v1.6h-1.6zM563.4,1230.4h1.6v1.6h-1.6zM668.5,1268.8h1.6v1.6h-1.6zM689.3,1278.1h1.6v1.6h-1.6zM651.5,1291.0h1.6v1.6h-1.6zM650.0,1266.2h1.6v1.6h-1.6zM649.6,1260.3h1.6v1.6h-1.6zM664.9,1259.3h1.6v1.6h-1.6zM790.9,1328.3h1.6v1.6h-1.6zM702.0,1248.9h1.6v1.6h-1.6zM719.5,1253.8h1.6v1.6h-1.6zM653.0,1261.0h1.6v1.6h-1.6zM681.8,1261.2h1.6v1.6h-1.6zM672.1,1273.0h1.6v1.6h-1.6zM665.0,1263.8h1.6v1.6h-1.6zM677.4,1235.2h1.6v1.6h-1.6zM663.8,1277.6h1.6v1.6h-1.6zM689.1,1235.5h1.6v1.6h-1.6zM645.4,1251.0h1.6v1.6h-1.6zM662.9,1281.7h1.6v1.6h-1.6zM701.4,1276.1h1.6v1.6h-1.6zM545.3,1300.3h1.6v1.6h-1.6zM658.0,1253.0h1.6v1.6h-1.6zM678.2,1242.6h1.6v1.6h-1.6zM669.1,1285.0h1.6v1.6h-1.6zM622.6,1233.5h1.6v1.6h-1.6zM570.7,1192.5h1.6v1.6h-1.6zM611.8,1205.0h1.6v1.6h-1.6zM545.0,1301.2h1.6v1.6h-1.6zM640.0,1237.4h1.6v1.6h-1.6zM642.5,1243.1h1.6v1.6h-1.6zM702.0,1264.2h1.6v1.6h-1.6zM649.1,1284.4h1.6v1.6h-1.6zM563.3,1192.2h1.6v1.6h-1.6zM670.1,1280.9h1.6v1.6h-1.6zM650.7,1295.4h1.6v1.6h-1.6zM650.1,1272.3h1.6v1.6h-1.6zM636.1,1249.1h1.6v1.6h-1.6zM635.5,1251.8h1.6v1.6h-1.6zM649.5,1265.9h1.6v1.6h-1.6zM649.3,1287.6h1.6v1.6h-1.6zM707.3,1235.1h1.6v1.6h-1.6zM625.5,1215.5h1.6v1.6h-1.6zM639.2,1261.9h1.6v1.6h-1.6zM686.8,1211.4h1.6v1.6h-1.6zM653.3,1273.0h1.6v1.6h-1.6zM595.3,1216.4h1.6v1.6h-1.6zM674.4,1256.5h1.6v1.6h-1.6zM721.0,1297.4h1.6v1.6h-1.6zM666.1,1244.7h1.6v1.6h-1.6zM752.4,1258.7h1.6v1.6h-1.6zM633.4,1246.8h1.6v1.6h-1.6zM664.0,1245.0h1.6v1.6h-1.6zM656.6,1289.4h1.6v1.6h-1.6zM658.2,1258.0h1.6v1.6h-1.6zM554.4,1252.5h1.6v1.6h-1.6zM636.7,1244.2h1.6v1.6h-1.6zM639.0,1249.0h1.6v1.6h-1.6zM640.2,1254.0h1.6v1.6h-1.6zM664.8,1271.1h1.6v1.6h-1.6zM546.9,1311.2h1.6v1.6h-1.6zM745.5,1252.3h1.6v1.6h-1.6zM732.5,1269.7h1.6v1.6h-1.6zM693.5,1251.4h1.6v1.6h-1.6zM631.2,1226.0h1.6v1.6h-1.6zM544.9,1257.1h1.6v1.6h-1.6zM674.2,1278.8h1.6v1.6h-1.6zM644.7,1275.8h1.6v1.6h-1.6zM642.5,1248.3h1.6v1.6h-1.6zM659.0,1274.5h1.6v1.6h-1.6zM552.9,1265.2h1.6v1.6h-1.6zM635.7,1254.4h1.6v1.6h-1.6zM655.1,1283.1h1.6v1.6h-1.6zM653.1,1285.0h1.6v1.6h-1.6zM710.1,1251.0h1.6v1.6h-1.6zM627.1,1214.8h1.6v1.6h-1.6zM645.4,1272.8h1.6v1.6h-1.6zM545.0,1336.6h1.6v1.6h-1.6zM685.6,1261.5h1.6v1.6h-1.6zM700.7,1246.1h1.6v1.6h-1.6zM589.5,1195.3h1.6v1.6h-1.6zM764.3,1302.3h1.6v1.6h-1.6zM695.2,1281.2h1.6v1.6h-1.6zM642.3,1207.3h1.6v1.6h-1.6zM663.1,1273.0h1.6v1.6h-1.6zM650.6,1255.2h1.6v1.6h-1.6zM676.2,1261.6h1.6v1.6h-1.6zM674.2,1263.7h1.6v1.6h-1.6zM648.4,1217.0h1.6v1.6h-1.6zM666.0,1279.0h1.6v1.6h-1.6zM683.2,1295.2h1.6v1.6h-1.6zM720.7,1251.7h1.6v1.6h-1.6zM614.8,1221.6h1.6v1.6h-1.6zM642.5,1268.6h1.6v1.6h-1.6zM665.3,1268.9h1.6v1.6h-1.6zM650.5,1254.3h1.6v1.6h-1.6zM668.3,1232.7h1.6v1.6h-1.6zM553.1,1256.3h1.6v1.6h-1.6zM641.9,1268.7h1.6v1.6h-1.6zM564.9,1226.9h1.6v1.6h-1.6zM619.4,1228.5h1.6v1.6h-1.6zM615.7,1209.1h1.6v1.6h-1.6zM545.5,1323.4h1.6v1.6h-1.6zM666.0,1265.7h1.6v1.6h-1.6zM685.5,1239.1h1.6v1.6h-1.6zM545.7,1344.7h1.6v1.6h-1.6zM768.6,1259.9h1.6v1.6h-1.6zM649.6,1255.0h1.6v1.6h-1.6zM544.7,1211.5h1.6v1.6h-1.6zM610.0,1219.3h1.6v1.6h-1.6zM752.6,1314.6h1.6v1.6h-1.6zM664.3,1289.6h1.6v1.6h-1.6zM670.8,1230.9h1.6v1.6h-1.6zM641.3,1264.5h1.6v1.6h-1.6zM671.5,1247.5h1.6v1.6h-1.6zM666.5,1274.2h1.6v1.6h-1.6zM642.4,1265.0h1.6v1.6h-1.6zM683.0,1270.6h1.6v1.6h-1.6zM667.3,1285.1h1.6v1.6h-1.6zM652.2,1255.3h1.6v1.6h-1.6zM651.9,1283.4h1.6v1.6h-1.6zM656.8,1174.6h1.6v1.6h-1.6zM696.6,1246.2h1.6v1.6h-1.6zM629.6,1230.2h1.6v1.6h-1.6zM656.1,1261.0h1.6v1.6h-1.6zM666.0,1273.0h1.6v1.6h-1.6zM636.5,1223.7h1.6v1.6h-1.6z" fill="#111"/>
<ellipse cx="741.5" cy="1230.5" rx="67.1" ry="54.1" transform="rotate(-43 741.5 1230.5)" fill="none" stroke="#111" stroke-width="2"/>
<text transform="translate(846.0,1094.0) scale(0.93,1)" font-size="29.8" font-family="'DejaVu Sans Mono', monospace" text-anchor="end" fill="#111">1.84</text>
<rect x="535.0" y="1035.6" width="319.0" height="318.5" fill="none" stroke="#111" stroke-width="4.6"/>
<line x1="528.0" y1="1060.8" x2="535.0" y2="1060.8" stroke="#111" stroke-width="1.6"/>
<line x1="528.0" y1="1119.0" x2="535.0" y2="1119.0" stroke="#111" stroke-width="1.6"/>
<line x1="528.0" y1="1179.8" x2="535.0" y2="1179.8" stroke="#111" stroke-width="1.6"/>
<line x1="528.0" y1="1241.6" x2="535.0" y2="1241.6" stroke="#111" stroke-width="1.6"/>
<line x1="528.0" y1="1274.1" x2="535.0" y2="1274.1" stroke="#111" stroke-width="1.6"/>
<line x1="528.0" y1="1308.4" x2="535.0" y2="1308.4" stroke="#111" stroke-width="1.6"/>
<line x1="531.5" y1="1101.5" x2="535.0" y2="1101.5" stroke="#111" stroke-width="1.6"/>
<line x1="531.5" y1="1091.2" x2="535.0" y2="1091.2" stroke="#111" stroke-width="1.6"/>
<line x1="531.5" y1="1084.0" x2="535.0" y2="1084.0" stroke="#111" stroke-width="1.6"/>
<line x1="531.5" y1="1078.3" x2="535.0" y2="1078.3" stroke="#111" stroke-width="1.6"/>
<line x1="531.5" y1="1073.7" x2="535.0" y2="1073.7" stroke="#111" stroke-width="1.6"/>
<line x1="531.5" y1="1069.8" x2="535.0" y2="1069.8" stroke="#111" stroke-width="1.6"/>
<line x1="531.5" y1="1066.4" x2="535.0" y2="1066.4" stroke="#111" stroke-width="1.6"/>
<line x1="531.5" y1="1063.5" x2="535.0" y2="1063.5" stroke="#111" stroke-width="1.6"/>
<line x1="531.5" y1="1161.5" x2="535.0" y2="1161.5" stroke="#111" stroke-width="1.6"/>
<line x1="531.5" y1="1150.8" x2="535.0" y2="1150.8" stroke="#111" stroke-width="1.6"/>
<line x1="531.5" y1="1143.2" x2="535.0" y2="1143.2" stroke="#111" stroke-width="1.6"/>
<line x1="531.5" y1="1137.3" x2="535.0" y2="1137.3" stroke="#111" stroke-width="1.6"/>
<line x1="531.5" y1="1132.5" x2="535.0" y2="1132.5" stroke="#111" stroke-width="1.6"/>
<line x1="531.5" y1="1128.4" x2="535.0" y2="1128.4" stroke="#111" stroke-width="1.6"/>
<line x1="531.5" y1="1124.9" x2="535.0" y2="1124.9" stroke="#111" stroke-width="1.6"/>
<line x1="531.5" y1="1121.8" x2="535.0" y2="1121.8" stroke="#111" stroke-width="1.6"/>
<line x1="531.5" y1="1223.0" x2="535.0" y2="1223.0" stroke="#111" stroke-width="1.6"/>
<line x1="531.5" y1="1212.1" x2="535.0" y2="1212.1" stroke="#111" stroke-width="1.6"/>
<line x1="531.5" y1="1204.4" x2="535.0" y2="1204.4" stroke="#111" stroke-width="1.6"/>
<line x1="531.5" y1="1198.4" x2="535.0" y2="1198.4" stroke="#111" stroke-width="1.6"/>
<line x1="531.5" y1="1193.5" x2="535.0" y2="1193.5" stroke="#111" stroke-width="1.6"/>
<line x1="531.5" y1="1189.4" x2="535.0" y2="1189.4" stroke="#111" stroke-width="1.6"/>
<line x1="531.5" y1="1185.8" x2="535.0" y2="1185.8" stroke="#111" stroke-width="1.6"/>
<line x1="531.5" y1="1182.6" x2="535.0" y2="1182.6" stroke="#111" stroke-width="1.6"/>
<line x1="531.5" y1="1267.6" x2="535.0" y2="1267.6" stroke="#111" stroke-width="1.6"/>
<line x1="531.5" y1="1271.6" x2="535.0" y2="1271.6" stroke="#111" stroke-width="1.6"/>
<line x1="531.5" y1="1276.6" x2="535.0" y2="1276.6" stroke="#111" stroke-width="1.6"/>
<line x1="531.5" y1="1280.6" x2="535.0" y2="1280.6" stroke="#111" stroke-width="1.6"/>
<line x1="531.5" y1="1335.6" x2="535.0" y2="1335.6" stroke="#111" stroke-width="1.6"/>
<line x1="531.5" y1="1347.6" x2="535.0" y2="1347.6" stroke="#111" stroke-width="1.6"/>
<line x1="594.0" y1="1354.6" x2="594.0" y2="1361.6" stroke="#111" stroke-width="1.6"/>
<line x1="683.0" y1="1354.6" x2="683.0" y2="1361.6" stroke="#111" stroke-width="1.6"/>
<line x1="754.0" y1="1354.6" x2="754.0" y2="1361.6" stroke="#111" stroke-width="1.6"/>
<line x1="824.0" y1="1354.6" x2="824.0" y2="1361.6" stroke="#111" stroke-width="1.6"/>
<line x1="704.4" y1="1354.6" x2="704.4" y2="1358.1" stroke="#111" stroke-width="1.6"/>
<line x1="716.9" y1="1354.6" x2="716.9" y2="1358.1" stroke="#111" stroke-width="1.6"/>
<line x1="725.7" y1="1354.6" x2="725.7" y2="1358.1" stroke="#111" stroke-width="1.6"/>
<line x1="732.6" y1="1354.6" x2="732.6" y2="1358.1" stroke="#111" stroke-width="1.6"/>
<line x1="738.2" y1="1354.6" x2="738.2" y2="1358.1" stroke="#111" stroke-width="1.6"/>
<line x1="743.0" y1="1354.6" x2="743.0" y2="1358.1" stroke="#111" stroke-width="1.6"/>
<line x1="747.1" y1="1354.6" x2="747.1" y2="1358.1" stroke="#111" stroke-width="1.6"/>
<line x1="750.8" y1="1354.6" x2="750.8" y2="1358.1" stroke="#111" stroke-width="1.6"/>
<line x1="775.1" y1="1354.6" x2="775.1" y2="1358.1" stroke="#111" stroke-width="1.6"/>
<line x1="787.4" y1="1354.6" x2="787.4" y2="1358.1" stroke="#111" stroke-width="1.6"/>
<line x1="796.1" y1="1354.6" x2="796.1" y2="1358.1" stroke="#111" stroke-width="1.6"/>
<line x1="802.9" y1="1354.6" x2="802.9" y2="1358.1" stroke="#111" stroke-width="1.6"/>
<line x1="808.5" y1="1354.6" x2="808.5" y2="1358.1" stroke="#111" stroke-width="1.6"/>
<line x1="813.2" y1="1354.6" x2="813.2" y2="1358.1" stroke="#111" stroke-width="1.6"/>
<line x1="817.2" y1="1354.6" x2="817.2" y2="1358.1" stroke="#111" stroke-width="1.6"/>
<line x1="820.8" y1="1354.6" x2="820.8" y2="1358.1" stroke="#111" stroke-width="1.6"/>
<line x1="656.2" y1="1354.6" x2="656.2" y2="1358.1" stroke="#111" stroke-width="1.6"/>
<line x1="663.3" y1="1354.6" x2="663.3" y2="1358.1" stroke="#111" stroke-width="1.6"/>
<line x1="669.2" y1="1354.6" x2="669.2" y2="1358.1" stroke="#111" stroke-width="1.6"/>
<line x1="674.4" y1="1354.6" x2="674.4" y2="1358.1" stroke="#111" stroke-width="1.6"/>
<line x1="678.9" y1="1354.6" x2="678.9" y2="1358.1" stroke="#111" stroke-width="1.6"/>
<line x1="547.0" y1="1354.6" x2="547.0" y2="1358.1" stroke="#111" stroke-width="1.6"/>
<line x1="557.0" y1="1354.6" x2="557.0" y2="1358.1" stroke="#111" stroke-width="1.6"/>
<line x1="567.0" y1="1354.6" x2="567.0" y2="1358.1" stroke="#111" stroke-width="1.6"/>
<line x1="575.0" y1="1354.6" x2="575.0" y2="1358.1" stroke="#111" stroke-width="1.6"/>
<line x1="581.0" y1="1354.6" x2="581.0" y2="1358.1" stroke="#111" stroke-width="1.6"/>
<line x1="585.0" y1="1354.6" x2="585.0" y2="1358.1" stroke="#111" stroke-width="1.6"/>
<line x1="589.0" y1="1354.6" x2="589.0" y2="1358.1" stroke="#111" stroke-width="1.6"/>
<line x1="592.0" y1="1354.6" x2="592.0" y2="1358.1" stroke="#111" stroke-width="1.6"/>
<line x1="596.0" y1="1354.6" x2="596.0" y2="1358.1" stroke="#111" stroke-width="1.6"/>
<line x1="599.0" y1="1354.6" x2="599.0" y2="1358.1" stroke="#111" stroke-width="1.6"/>
<line x1="603.0" y1="1354.6" x2="603.0" y2="1358.1" stroke="#111" stroke-width="1.6"/>
<line x1="607.0" y1="1354.6" x2="607.0" y2="1358.1" stroke="#111" stroke-width="1.6"/>
<line x1="613.0" y1="1354.6" x2="613.0" y2="1358.1" stroke="#111" stroke-width="1.6"/>
<line x1="621.0" y1="1354.6" x2="621.0" y2="1358.1" stroke="#111" stroke-width="1.6"/>
<line x1="631.0" y1="1354.6" x2="631.0" y2="1358.1" stroke="#111" stroke-width="1.6"/>
<line x1="645.0" y1="1354.6" x2="645.0" y2="1358.1" stroke="#111" stroke-width="1.6"/>
<text transform="translate(520.5,1072.9) scale(0.97,1)" font-size="17.6" font-family="'DejaVu Sans', sans-serif" text-anchor="end" fill="#111">10<tspan dx="2.2" dy="-14">5</tspan></text>
<text transform="translate(520.5,1131.1) scale(0.97,1)" font-size="17.6" font-family="'DejaVu Sans', sans-serif" text-anchor="end" fill="#111">10<tspan dx="2.2" dy="-14">4</tspan></text>
<text transform="translate(520.5,1191.9) scale(0.97,1)" font-size="17.6" font-family="'DejaVu Sans', sans-serif" text-anchor="end" fill="#111">10<tspan dx="2.2" dy="-14">3</tspan></text>
<text transform="translate(520.5,1253.7) scale(0.97,1)" font-size="17.6" font-family="'DejaVu Sans', sans-serif" text-anchor="end" fill="#111">10<tspan dx="2.2" dy="-14">2</tspan></text>
<text transform="translate(510.0,1282.6) scale(0.97,1)" font-size="17.6" font-family="'DejaVu Sans', sans-serif" text-anchor="end" fill="#111">0</text>
<text transform="translate(520.5,1320.4) scale(0.97,1)" font-size="17.6" font-family="'DejaVu Sans', sans-serif" text-anchor="end" fill="#111">-10<tspan dx="2.2" dy="-14">2</tspan></text>
<text transform="translate(594.0,1390.4) scale(0.97,1)" font-size="17.6" font-family="'DejaVu Sans', sans-serif" text-anchor="middle" fill="#111">0</text>
<text transform="translate(710.8,1390.4) scale(0.97,1)" font-size="17.6" font-family="'DejaVu Sans', sans-serif" text-anchor="end" fill="#111">10<tspan dx="2.2" dy="-11.4">3</tspan></text>
<text transform="translate(781.8,1390.4) scale(0.97,1)" font-size="17.6" font-family="'DejaVu Sans', sans-serif" text-anchor="end" fill="#111">10<tspan dx="2.2" dy="-11.4">4</tspan></text>
<text transform="translate(851.8,1390.4) scale(0.97,1)" font-size="17.6" font-family="'DejaVu Sans', sans-serif" text-anchor="end" fill="#111">10<tspan dx="2.2" dy="-11.4">5</tspan></text>
<line x1="973.6" y1="648.0" x2="973.6" y2="966.0" stroke="#d2d2d2" stroke-width="1.3"/>
<line x1="992.2" y1="648.0" x2="992.2" y2="966.0" stroke="#d2d2d2" stroke-width="1.3"/>
<line x1="1056.0" y1="648.0" x2="1056.0" y2="966.0" stroke="#d2d2d2" stroke-width="1.3"/>
<line x1="1152.3" y1="648.0" x2="1152.3" y2="966.0" stroke="#d2d2d2" stroke-width="1.3"/>
<line x1="982.3" y1="648.0" x2="982.3" y2="966.0" stroke="#d6d6d6" stroke-width="2.4"/>
<line x1="911.0" y1="670.6" x2="1229.0" y2="670.6" stroke="#d2d2d2" stroke-width="1.3"/>
<line x1="911.0" y1="731.0" x2="1229.0" y2="731.0" stroke="#d2d2d2" stroke-width="1.3"/>
<line x1="911.0" y1="794.8" x2="1229.0" y2="794.8" stroke="#d2d2d2" stroke-width="1.3"/>
<line x1="911.0" y1="853.0" x2="1229.0" y2="853.0" stroke="#d2d2d2" stroke-width="1.3"/>
<line x1="911.0" y1="883.0" x2="1229.0" y2="883.0" stroke="#d2d2d2" stroke-width="1.3"/>
<line x1="911.0" y1="943.5" x2="1229.0" y2="943.5" stroke="#d2d2d2" stroke-width="1.3"/>
<line x1="911.0" y1="868.2" x2="1229.0" y2="868.2" stroke="#d8d8d8" stroke-width="3.2"/>
<path d="M1012.5,941.0 991.0,940.4 977.0,938.3 974.8,938.5 969.5,940.1 967.0,939.8 965.0,938.8 963.0,937.0 957.5,930.3 950.5,923.5 948.7,920.5 948.4,918.0 949.3,912.0 949.2,903.5 949.8,898.5 951.4,892.5 957.0,877.0 958.2,872.5 958.9,868.5 959.1,863.0 957.9,849.5 958.0,842.5 958.6,836.5 960.9,822.5 961.5,816.5 961.7,810.0 961.0,797.5 961.3,792.0 962.3,786.5 964.4,781.0 966.2,778.0 968.6,775.0 971.0,772.5 974.0,770.0 977.5,767.7 981.0,765.8 985.0,764.0 989.0,762.7 993.5,761.6 998.5,760.7 1003.0,760.3 1008.0,760.3 1017.0,761.1 1032.0,764.0 1035.0,764.1 1038.0,763.8 1041.5,762.6 1045.5,760.4 1061.0,748.4 1069.5,742.7 1077.0,738.7 1085.0,735.4 1090.0,733.8 1095.0,732.7 1100.0,732.0 1104.5,731.7 1109.0,731.9 1113.0,732.5 1116.5,733.5 1119.9,735.0 1123.7,737.5 1126.5,740.5 1128.6,744.5 1129.7,748.5 1129.8,753.0 1128.9,758.0 1127.3,762.5 1124.7,767.5 1122.4,771.0 1119.2,775.0 1116.0,778.5 1112.0,782.2 1105.5,787.3 1092.5,795.5 1088.9,798.5 1086.5,801.5 1081.6,810.0 1078.7,814.0 1074.5,818.5 1066.3,825.5 1064.7,827.5 1063.7,829.5 1063.1,833.5 1064.0,845.5 1063.8,853.5 1062.5,861.0 1059.0,874.0 1058.5,879.0 1059.1,885.0 1062.3,899.0 1062.6,902.0 1062.5,905.0 1061.8,909.0 1060.7,912.5 1055.3,923.0 1054.9,925.0 1055.2,929.5 1054.7,931.5 1053.1,933.5 1050.8,935.0 1047.0,936.6 1042.5,937.8 1035.5,939.2 1028.0,940.1 1012.5,941.0 M1022.0,938.5 1010.5,938.7 991.5,938.1 986.0,937.6 976.0,935.8 974.0,935.8 969.5,936.4 967.5,936.1 965.0,934.9 962.0,932.1 955.7,924.5 953.8,921.0 953.4,918.0 953.8,904.0 954.6,898.0 955.8,892.5 958.2,885.0 961.3,877.5 964.0,872.5 968.7,865.5 969.7,862.5 970.0,859.0 969.5,848.0 969.7,842.0 970.8,835.0 973.9,822.0 974.8,816.5 975.3,810.0 975.1,795.0 975.9,790.0 977.4,786.0 978.7,783.5 980.6,781.0 983.0,778.6 985.5,776.6 988.5,774.8 991.5,773.4 995.0,772.2 998.5,771.3 1005.0,770.6 1012.0,770.9 1017.5,771.9 1027.5,774.6 1031.5,775.3 1035.0,775.2 1038.5,774.2 1041.5,772.5 1044.5,770.1 1057.5,757.0 1066.0,749.9 1070.5,746.8 1076.0,743.6 1081.0,741.2 1086.0,739.3 1094.0,737.3 1101.5,736.5 1105.0,736.6 1108.5,737.0 1111.5,737.8 1114.5,738.9 1118.0,741.1 1121.0,744.2 1122.9,748.0 1123.7,752.0 1123.5,756.5 1122.3,761.0 1120.4,765.5 1117.2,770.5 1112.1,776.5 1106.0,781.9 1100.0,786.2 1088.5,793.0 1085.4,795.5 1082.7,799.0 1077.4,809.0 1075.1,812.0 1072.5,814.6 1069.5,816.8 1066.0,818.9 1054.4,824.0 1052.3,825.5 1051.1,827.5 1050.7,829.0 1050.6,831.0 1052.2,843.0 1052.3,850.5 1051.2,858.0 1048.0,870.0 1047.6,873.0 1047.7,875.5 1048.2,878.5 1049.4,882.0 1057.4,900.0 1058.1,903.0 1058.3,906.0 1057.9,909.5 1056.7,913.0 1055.3,916.0 1050.4,924.0 1049.1,930.5 1048.0,932.0 1046.1,933.5 1043.5,934.8 1040.5,935.8 1031.5,937.6 1022.0,938.5 M1019.0,937.5 1010.0,937.5 989.0,936.8 984.0,936.2 975.5,934.5 969.5,934.5 967.5,934.2 964.5,932.6 960.6,928.5 957.3,924.0 956.3,922.0 955.7,920.0 955.4,917.0 955.5,908.0 956.2,899.5 958.2,890.5 961.1,882.5 963.8,877.5 966.5,874.4 968.0,873.4 969.5,872.8 974.5,872.4 976.1,872.0 977.9,870.5 979.1,868.0 979.4,866.0 979.3,863.5 977.2,850.5 977.1,846.5 977.3,842.5 978.8,834.5 983.3,820.5 984.6,815.0 985.3,809.0 985.6,796.0 986.2,792.5 987.3,789.5 990.0,785.5 993.5,782.5 998.0,780.3 1003.5,779.0 1008.5,778.8 1013.5,779.5 1017.5,780.7 1025.5,783.9 1028.5,784.7 1031.0,784.8 1034.0,784.1 1039.0,781.4 1044.0,777.4 1047.0,774.1 1056.0,762.5 1062.5,755.8 1069.0,750.6 1076.0,746.2 1081.0,743.8 1086.0,741.9 1091.0,740.4 1095.5,739.6 1100.0,739.3 1104.5,739.5 1108.5,740.3 1111.8,741.5 1115.5,743.9 1118.0,746.7 1119.7,750.5 1120.2,754.5 1119.6,759.0 1118.1,763.5 1115.4,768.5 1111.9,773.0 1107.5,777.6 1102.0,782.0 1096.5,785.6 1086.8,791.0 1083.0,793.9 1080.5,797.3 1077.2,804.5 1075.3,808.0 1072.5,811.4 1069.5,813.9 1065.5,816.3 1061.5,817.9 1055.5,819.3 1045.0,820.6 1042.8,821.5 1041.4,823.0 1041.0,824.5 1041.1,827.0 1044.2,840.0 1044.7,844.0 1044.9,848.0 1044.6,852.0 1043.9,856.0 1040.4,868.5 1040.2,871.0 1040.4,873.5 1041.3,876.5 1042.7,879.5 1051.1,894.5 1055.3,901.5 1056.3,905.5 1056.1,909.5 1055.2,912.5 1053.8,915.5 1048.3,924.0 1046.1,930.0 1044.0,932.3 1040.0,934.4 1034.5,935.9 1028.0,936.9 1019.0,937.5 M1025.0,936.5 1012.0,936.9 989.0,936.1 984.0,935.5 975.5,933.8 968.0,933.2 966.5,932.7 964.5,931.4 961.1,928.0 958.3,924.0 956.8,920.0 956.5,916.5 956.4,909.0 957.3,899.0 959.3,890.0 960.7,886.0 962.5,882.0 965.0,878.3 966.5,876.9 968.0,876.0 970.5,875.6 976.0,876.3 977.5,876.1 979.0,875.5 981.0,874.0 982.5,872.5 983.9,870.5 984.8,868.5 985.3,866.0 985.2,863.5 983.2,854.5 982.6,849.5 982.6,845.5 983.0,841.5 984.0,837.0 985.4,832.5 991.5,818.5 993.3,813.5 994.4,808.0 995.2,798.0 996.3,794.0 998.5,790.8 1001.5,788.6 1005.0,787.5 1009.0,787.4 1012.0,788.0 1015.4,789.5 1018.8,792.0 1024.5,797.2 1026.0,797.8 1027.0,797.6 1028.5,796.6 1034.9,790.0 1046.5,779.3 1049.5,775.5 1056.1,765.5 1061.1,759.5 1066.5,754.5 1072.0,750.4 1076.5,747.7 1081.5,745.2 1087.0,743.2 1092.0,741.9 1097.0,741.2 1101.5,741.1 1106.0,741.8 1109.5,742.9 1112.5,744.6 1115.0,746.9 1116.6,749.5 1117.6,752.5 1117.9,755.5 1117.5,759.0 1116.4,762.5 1114.5,766.5 1112.2,770.0 1109.8,773.0 1106.5,776.3 1103.0,779.4 1096.5,783.8 1084.5,790.4 1081.2,793.0 1079.0,796.1 1076.0,803.5 1074.4,806.5 1072.5,809.1 1070.2,811.5 1066.5,814.0 1062.5,815.8 1058.0,817.0 1053.5,817.4 1048.5,817.2 1043.5,816.2 1039.0,814.7 1031.5,811.4 1030.1,811.5 1029.5,812.2 1029.4,814.5 1030.0,817.5 1037.2,835.0 1038.6,840.0 1039.3,844.5 1039.3,849.5 1038.7,854.0 1034.8,867.5 1034.6,870.0 1035.0,872.5 1036.0,875.0 1037.5,877.5 1044.0,886.7 1049.2,895.5 1053.6,901.5 1054.9,904.5 1055.2,908.0 1054.6,911.5 1053.1,915.0 1051.4,918.0 1047.1,924.0 1044.5,929.5 1043.0,931.4 1040.0,933.3 1036.0,934.7 1031.0,935.8 1025.0,936.5 M1056.5,816.0 1052.0,816.1 1047.5,815.3 1043.5,813.9 1040.1,812.0 1037.3,809.5 1035.1,806.5 1033.9,803.0 1033.7,800.0 1034.6,796.0 1036.8,792.0 1039.8,788.5 1046.5,782.0 1049.2,779.0 1051.5,775.6 1056.0,768.0 1059.1,763.5 1064.6,757.5 1071.0,752.3 1078.5,747.7 1086.0,744.6 1093.5,742.7 1097.0,742.3 1100.5,742.3 1104.0,742.7 1107.0,743.5 1109.5,744.5 1111.8,746.0 1114.0,748.3 1115.5,751.0 1116.3,754.0 1116.3,757.0 1115.7,760.5 1114.4,764.0 1112.5,767.5 1110.1,771.0 1105.5,775.9 1100.0,780.4 1094.0,784.2 1083.8,789.5 1080.4,792.0 1079.1,793.5 1077.9,795.5 1075.3,802.5 1073.5,806.0 1071.5,808.8 1069.2,811.0 1066.5,812.9 1063.5,814.4 1060.0,815.5 1056.5,816.0 M1025.5,936.0 1012.0,936.4 988.5,935.6 984.0,935.1 975.0,933.3 968.5,932.7 967.0,932.2 965.0,931.1 961.4,927.5 958.4,923.0 957.3,919.0 957.0,909.0 957.8,900.0 959.3,892.0 961.8,885.0 964.4,880.5 967.0,878.0 968.5,877.3 970.0,877.1 976.0,878.3 977.5,878.2 979.0,877.8 981.2,876.5 984.4,874.0 987.0,871.5 988.4,869.5 989.4,867.0 989.5,864.0 987.1,853.5 986.5,847.5 986.8,842.5 988.2,837.0 989.5,833.4 991.4,829.5 996.5,821.3 1004.5,810.7 1006.5,808.8 1008.5,807.8 1010.5,808.0 1012.5,809.1 1015.5,811.7 1020.0,816.3 1027.0,824.8 1030.0,829.4 1032.2,833.5 1033.8,837.5 1034.8,841.0 1035.4,845.0 1035.5,848.5 1035.2,851.5 1034.5,855.0 1030.6,866.5 1030.4,869.0 1030.8,871.0 1031.6,873.0 1033.1,875.5 1042.0,886.4 1048.0,896.0 1052.8,902.0 1053.9,904.0 1054.4,906.0 1054.3,910.0 1052.8,914.5 1050.8,918.0 1046.1,924.5 1043.7,929.0 1042.6,930.5 1040.0,932.5 1036.0,934.1 1031.0,935.3 1025.5,936.0 M1057.0,814.5 1053.0,814.5 1049.5,813.9 1046.0,812.7 1043.0,810.9 1040.4,808.5 1038.7,806.0 1037.6,803.0 1037.3,799.5 1038.1,796.0 1039.8,792.5 1042.6,789.0 1049.3,782.5 1051.5,779.9 1053.5,776.8 1057.8,768.5 1061.5,763.0 1066.6,757.5 1072.5,752.8 1079.5,748.6 1086.5,745.8 1093.5,744.2 1100.0,743.9 1103.0,744.2 1105.5,744.9 1108.0,745.9 1110.0,747.2 1112.0,749.2 1113.4,751.5 1114.2,754.5 1114.3,757.5 1113.8,760.5 1112.6,764.0 1110.7,767.5 1108.6,770.5 1104.0,775.5 1098.5,779.8 1093.0,783.2 1082.5,788.5 1078.9,791.0 1077.6,792.5 1076.5,794.5 1073.9,802.0 1072.6,805.0 1070.9,807.5 1068.5,809.9 1066.0,811.7 1063.0,813.2 1060.0,814.1 1057.0,814.5 M1024.5,935.5 1011.5,935.9 988.0,935.0 984.0,934.6 975.5,932.8 968.5,931.9 966.5,931.2 965.0,930.2 961.7,927.0 959.2,923.0 958.3,920.5 957.9,918.5 957.7,909.0 958.7,898.5 960.4,891.0 963.0,884.5 965.5,880.9 967.0,879.7 968.5,879.1 971.0,879.1 976.5,880.5 978.5,880.3 980.5,879.5 990.6,873.0 993.1,871.0 995.1,869.0 996.3,867.0 996.7,864.5 996.2,862.0 993.5,854.4 992.7,850.5 992.5,845.5 993.5,840.5 994.6,837.5 996.0,834.8 997.9,832.0 1000.0,829.6 1002.0,827.8 1004.5,826.1 1006.5,825.2 1009.0,824.6 1011.0,824.6 1013.5,824.9 1016.0,825.9 1018.5,827.3 1021.0,829.2 1023.0,831.2 1026.5,836.2 1028.0,839.5 1028.9,842.5 1029.4,846.0 1029.4,849.0 1029.0,852.0 1028.0,855.4 1023.7,865.0 1023.4,867.5 1023.9,869.5 1025.1,871.5 1026.7,873.5 1036.0,882.5 1040.5,887.5 1042.6,890.5 1046.7,897.0 1052.1,903.0 1053.1,905.0 1053.6,907.0 1053.3,911.0 1051.8,915.0 1049.7,918.5 1045.5,924.0 1042.5,928.8 1041.1,930.5 1038.5,932.3 1035.0,933.7 1030.5,934.8 1024.5,935.5 M1059.0,813.1 1055.0,813.4 1051.5,812.9 1048.0,811.8 1045.0,810.1 1042.7,808.0 1040.9,805.5 1039.9,802.5 1039.7,799.5 1040.2,796.5 1041.9,793.0 1044.6,789.5 1051.6,783.0 1053.7,780.5 1055.4,777.5 1059.3,769.0 1062.8,763.5 1067.3,758.5 1073.0,753.8 1079.5,749.9 1086.0,747.2 1092.5,745.6 1099.0,745.2 1102.0,745.6 1104.5,746.2 1106.5,747.1 1108.5,748.4 1110.5,750.4 1111.7,752.5 1112.5,755.0 1112.6,757.5 1112.2,760.5 1111.3,763.5 1109.8,766.5 1107.4,770.0 1102.8,775.0 1097.0,779.5 1091.5,782.7 1081.0,787.7 1077.6,790.0 1076.3,791.5 1075.4,793.0 1072.4,802.5 1071.2,805.0 1069.8,807.0 1067.5,809.3 1065.0,811.0 1062.0,812.3 1059.0,813.1 M1011.0,862.1 1009.0,861.9 1007.0,860.9 1005.0,859.3 1003.0,857.0 1001.5,854.7 1000.5,852.5 999.8,850.0 999.5,847.5 999.8,845.0 1000.4,842.5 1001.3,840.5 1002.7,838.5 1004.5,836.7 1006.4,835.5 1008.5,834.7 1010.5,834.4 1013.0,834.6 1015.0,835.3 1017.0,836.5 1018.6,838.0 1020.2,840.0 1021.2,842.0 1022.1,844.5 1022.4,847.0 1022.2,849.5 1021.6,852.0 1020.5,854.4 1019.1,856.5 1017.0,858.8 1015.0,860.4 1013.0,861.5 1011.0,862.1 M1025.0,935.0 1011.5,935.4 986.0,934.5 982.0,933.9 975.0,932.3 969.0,931.4 966.5,930.5 964.5,929.1 961.3,925.5 959.2,921.5 958.4,917.5 958.2,911.0 958.8,902.0 960.2,894.0 962.3,887.5 963.6,885.0 965.0,882.9 967.0,881.1 969.5,880.4 971.5,880.7 976.0,882.2 977.5,882.2 979.0,881.9 981.5,880.8 991.5,875.3 1000.0,871.2 1006.0,868.7 1009.5,868.0 1011.0,868.1 1013.0,868.8 1017.5,871.2 1026.0,876.7 1033.0,882.1 1036.5,885.4 1039.5,888.7 1045.7,898.0 1051.4,903.5 1052.7,906.5 1052.9,910.0 1051.9,913.5 1050.1,917.0 1041.5,928.6 1040.0,930.3 1037.5,932.0 1034.0,933.4 1030.0,934.3 1025.0,935.0 M1058.5,811.5 1055.0,811.6 1052.0,811.2 1049.0,810.0 1046.5,808.4 1044.6,806.5 1043.1,804.0 1042.4,801.5 1042.5,798.5 1043.6,795.0 1045.9,791.5 1048.5,788.9 1054.5,784.0 1057.0,781.1 1058.3,778.5 1061.4,769.5 1063.1,766.5 1065.1,763.5 1069.2,759.0 1074.5,754.7 1080.0,751.4 1086.0,748.9 1092.0,747.4 1097.5,747.1 1102.5,747.9 1104.5,748.7 1106.5,750.0 1108.1,751.5 1109.3,753.5 1110.1,756.0 1110.2,758.5 1109.9,761.0 1108.9,764.0 1107.3,767.0 1105.5,769.6 1100.9,774.5 1095.0,779.0 1089.0,782.2 1078.5,786.7 1075.5,788.5 1074.1,790.0 1073.1,792.0 1071.1,801.0 1070.1,803.5 1068.9,805.5 1067.0,807.6 1064.5,809.4 1061.5,810.8 1058.5,811.5 M1023.0,934.5 1010.5,934.8 985.0,933.8 969.0,930.6 966.5,929.6 964.5,928.1 961.8,925.0 959.9,921.0 959.1,917.0 958.9,910.5 959.6,901.5 960.8,894.5 962.8,888.5 964.0,886.3 965.5,884.2 967.5,882.6 969.5,882.2 971.5,882.5 976.0,884.3 978.5,884.3 981.0,883.3 990.0,878.7 995.5,876.6 1002.5,874.8 1008.5,874.3 1014.5,875.1 1021.0,877.4 1027.5,880.9 1033.5,885.3 1038.4,890.5 1044.0,898.9 1049.0,902.8 1050.6,904.5 1051.4,906.0 1051.9,907.5 1052.0,909.5 1051.7,911.5 1050.7,914.5 1048.6,918.0 1040.5,928.1 1038.5,930.1 1036.0,931.7 1032.5,933.0 1028.5,933.9 1023.0,934.5 M1058.0,809.0 1055.5,809.0 1052.8,808.5 1050.5,807.5 1048.6,806.0 1047.3,804.5 1046.4,802.5 1046.0,800.5 1046.2,798.0 1047.8,794.5 1050.6,791.5 1054.5,788.8 1061.2,785.5 1062.9,784.0 1063.6,782.0 1063.6,775.5 1064.3,771.5 1066.2,767.0 1069.0,763.0 1072.5,759.3 1077.0,755.8 1082.0,753.0 1087.0,751.1 1092.0,750.0 1096.5,749.9 1100.5,750.8 1103.6,752.5 1105.0,754.0 1106.0,755.7 1106.6,758.0 1106.6,760.0 1106.2,762.0 1105.4,764.5 1104.0,767.0 1102.3,769.5 1100.0,772.0 1097.0,774.7 1094.0,776.8 1090.5,778.8 1083.5,781.8 1072.0,785.1 1069.3,786.5 1068.6,787.5 1068.4,788.5 1068.8,797.5 1068.5,800.0 1067.6,802.5 1066.0,805.0 1063.7,807.0 1061.0,808.4 1058.0,809.0 M1023.5,933.5 1010.5,934.0 996.5,933.3 985.0,933.0 981.0,932.3 969.5,929.6 967.5,928.9 965.5,927.7 963.0,925.0 961.1,921.5 960.1,917.5 959.8,912.5 960.4,904.0 961.6,896.0 963.3,890.5 965.5,886.8 967.5,885.1 969.5,884.6 971.5,885.1 976.0,887.2 978.5,887.2 980.5,886.5 988.5,882.4 994.0,880.3 1000.5,878.7 1007.0,878.2 1013.5,878.8 1019.5,880.5 1025.5,883.2 1031.2,887.0 1034.0,889.5 1036.2,892.0 1041.5,900.1 1043.3,901.5 1047.5,903.8 1049.3,905.5 1050.5,908.0 1050.6,911.0 1049.6,914.5 1047.5,918.0 1044.5,921.6 1037.5,929.0 1035.0,930.7 1032.0,932.0 1028.0,932.9 1023.5,933.5 M1076.5,780.5 1073.0,780.3 1070.5,779.4 1068.7,777.5 1067.8,775.0 1067.8,772.0 1068.7,768.5 1070.6,765.0 1073.1,762.0 1076.4,759.0 1080.0,756.5 1084.0,754.5 1088.0,753.2 1092.0,752.6 1095.5,752.6 1098.7,753.5 1101.1,755.0 1102.3,756.5 1102.9,758.0 1103.2,760.0 1103.1,762.0 1102.5,764.0 1101.5,766.1 1098.2,770.5 1094.0,774.2 1088.5,777.4 1082.5,779.5 1076.5,780.5 M1057.0,806.5 1055.0,806.3 1053.5,805.8 1050.9,804.0 1049.9,802.5 1049.4,801.0 1049.4,799.5 1049.6,798.0 1050.3,796.5 1051.4,795.0 1054.5,792.6 1058.0,791.3 1060.0,791.2 1061.5,791.5 1063.5,792.6 1065.0,794.7 1065.7,797.5 1065.4,800.5 1064.1,803.0 1062.0,805.0 1059.5,806.2 1057.0,806.5 M1019.0,933.0 1009.0,933.2 996.0,932.5 984.0,932.2 980.5,931.6 970.0,928.9 967.5,927.9 965.5,926.6 963.2,924.0 961.8,921.0 960.9,917.0 960.6,912.0 961.2,904.0 962.3,897.0 963.8,892.0 966.0,888.4 967.5,887.2 969.5,886.7 971.5,887.2 976.0,889.6 978.5,889.7 980.5,888.9 988.0,884.8 993.5,882.7 1000.0,881.2 1007.0,880.7 1013.5,881.3 1019.5,883.0 1025.5,885.7 1030.5,889.2 1034.6,893.5 1038.5,900.0 1039.7,901.5 1041.5,902.7 1046.5,904.9 1048.4,906.5 1049.5,909.0 1049.6,910.5 1049.3,912.5 1047.9,916.0 1045.5,919.3 1038.5,926.5 1035.5,929.1 1032.5,930.7 1029.0,931.8 1024.5,932.5 1019.0,933.0 M1082.5,776.5 1079.5,776.9 1076.5,776.6 1074.5,775.8 1073.0,774.4 1072.2,772.5 1072.1,770.0 1072.9,767.5 1074.7,764.5 1076.9,762.0 1079.5,759.9 1082.7,758.0 1086.0,756.6 1089.0,755.9 1092.0,755.6 1094.7,756.0 1097.0,757.1 1098.7,759.0 1099.2,760.5 1099.2,762.0 1098.5,765.0 1096.7,768.0 1093.8,771.0 1090.5,773.4 1086.5,775.4 1082.5,776.5 M1058.5,802.2 1057.0,802.3 1055.9,802.0 1054.8,801.0 1054.4,800.0 1054.5,799.0 1055.0,798.0 1056.0,797.1 1057.5,796.5 1059.5,796.9 1060.3,797.5 1060.7,798.5 1060.8,799.5 1060.5,800.5 1059.7,801.5 1058.5,802.2 M1011.5,932.5 995.5,931.7 986.5,931.8 982.5,931.4 970.0,928.1 967.5,927.0 965.5,925.5 963.6,923.0 962.3,920.0 961.6,916.5 961.4,911.5 962.1,903.5 963.1,897.5 964.5,893.2 966.5,890.1 968.0,889.1 970.0,888.9 972.0,889.7 975.5,892.0 977.0,892.4 978.0,892.4 980.0,891.7 985.5,888.3 989.0,886.5 992.5,885.1 996.5,884.0 1001.0,883.1 1005.5,882.8 1010.0,883.0 1014.0,883.6 1017.5,884.6 1021.0,885.9 1024.0,887.3 1027.0,889.2 1030.0,891.6 1032.6,894.5 1034.2,897.0 1036.5,901.5 1037.7,903.0 1039.5,904.0 1045.0,905.7 1046.5,906.6 1047.5,907.6 1048.4,909.5 1048.5,911.5 1047.9,914.0 1046.6,916.5 1044.8,919.0 1042.5,921.4 1034.9,928.0 1031.1,930.0 1026.5,931.3 1019.5,932.1 1011.5,932.5 M1085.0,771.5 1082.0,771.8 1080.5,771.6 1079.5,771.0 1078.7,770.0 1078.4,769.0 1078.6,767.5 1079.3,766.0 1081.5,763.5 1085.0,761.3 1088.5,760.4 1090.0,760.5 1091.5,761.0 1092.6,762.0 1093.1,763.5 1092.9,765.0 1092.1,766.5 1091.0,768.0 1089.2,769.5 1087.5,770.5 1085.0,771.5 M1015.0,931.5 1008.0,931.6 995.5,930.9 983.5,930.8 979.0,929.9 971.5,927.7 969.0,926.8 966.9,925.5 965.0,923.5 963.3,920.5 962.5,917.5 962.2,913.5 962.6,907.5 963.7,899.5 964.9,895.5 966.5,892.7 968.0,891.5 969.0,891.2 970.0,891.3 972.0,892.3 976.0,895.4 978.0,895.8 980.0,894.9 984.6,891.5 988.0,889.4 991.5,887.7 995.0,886.5 999.5,885.5 1004.0,885.1 1008.5,885.1 1013.0,885.7 1017.0,886.7 1021.0,888.3 1024.5,890.3 1027.5,892.5 1029.5,894.5 1031.3,897.0 1034.2,903.5 1035.5,905.1 1037.5,905.9 1043.5,906.7 1045.2,907.5 1046.5,908.8 1047.1,910.0 1047.3,912.0 1046.8,914.0 1045.6,916.5 1042.0,920.7 1036.5,925.1 1032.0,928.0 1028.2,929.5 1022.5,930.7 1015.0,931.5 M1011.5,930.5 1005.5,930.5 994.5,929.8 986.5,930.1 982.5,929.8 978.5,929.0 972.5,927.1 969.5,925.8 967.5,924.5 965.6,922.5 964.3,920.0 963.6,917.5 963.3,914.0 963.5,909.5 964.7,902.0 965.6,898.5 967.0,895.8 968.0,894.8 969.0,894.5 970.0,894.6 971.0,895.1 972.9,897.0 976.5,902.1 977.5,902.8 978.0,902.8 979.0,901.9 982.3,897.5 984.6,895.0 988.0,892.4 992.0,890.3 997.0,888.6 1002.0,887.7 1007.0,887.6 1012.0,888.2 1016.0,889.2 1020.0,890.8 1023.5,893.0 1026.0,895.1 1028.0,897.5 1029.3,900.0 1030.1,902.5 1031.0,907.3 1032.0,908.7 1033.5,909.0 1039.0,908.2 1041.5,908.2 1043.5,908.8 1045.0,910.0 1045.5,911.0 1045.6,912.5 1045.4,914.0 1044.5,916.0 1041.5,919.6 1037.0,923.0 1032.0,925.5 1023.7,928.5 1017.5,929.9 1011.5,930.5 M1013.0,929.5 1006.0,929.8 994.0,929.0 986.5,929.4 983.0,929.3 980.0,928.8 976.0,927.6 971.5,926.0 968.7,924.5 966.5,922.5 965.3,920.5 964.4,918.0 964.0,915.0 964.1,911.0 965.0,905.5 966.0,901.1 967.1,898.5 968.0,897.5 969.0,897.1 970.0,897.2 971.0,897.9 973.0,901.0 975.0,906.7 976.0,908.6 978.1,910.5 979.5,911.1 981.0,911.1 981.5,911.0 982.1,910.0 982.1,903.5 982.8,901.0 983.9,899.0 985.4,897.0 987.5,895.0 990.0,893.3 993.0,891.7 996.5,890.5 1000.0,889.7 1004.0,889.2 1008.0,889.3 1012.0,889.9 1015.5,890.8 1018.5,892.1 1021.5,893.8 1024.6,896.5 1026.9,900.0 1027.7,902.0 1028.0,904.0 1027.7,908.0 1027.1,910.0 1025.8,912.0 1020.0,917.0 1018.7,919.0 1018.7,920.0 1019.1,921.0 1022.3,925.0 1022.4,926.0 1022.0,926.5 1020.8,927.5 1018.3,928.5 1013.0,929.5 M1034.0,923.0 1031.0,923.3 1030.0,923.0 1029.2,922.0 1029.0,920.0 1029.2,917.5 1029.8,915.5 1030.5,914.0 1033.0,911.7 1036.5,910.1 1040.0,909.5 1041.5,909.6 1043.0,910.1 1044.0,911.0 1044.5,912.5 1044.2,914.5 1043.1,916.5 1041.5,918.5 1039.0,920.6 1036.5,922.0 1034.0,923.0 M1012.0,928.5 1005.5,928.9 993.5,928.1 986.0,928.7 983.0,928.6 977.0,927.3 970.0,924.5 968.0,923.0 966.4,921.0 965.3,918.5 964.9,916.0 964.8,913.0 965.2,910.0 966.5,904.5 967.5,901.9 968.0,901.2 969.0,900.6 970.0,900.8 970.5,901.3 971.5,903.0 974.0,908.9 975.2,910.5 977.0,912.0 979.0,913.0 981.6,914.0 984.0,914.6 986.0,914.6 987.0,914.0 987.1,913.0 985.0,907.0 984.8,904.5 985.0,902.5 986.0,900.0 987.5,898.0 989.5,896.0 991.5,894.6 994.5,893.1 998.0,891.9 1001.5,891.2 1005.0,891.0 1009.0,891.2 1012.5,891.9 1015.9,893.0 1018.9,894.5 1022.1,897.0 1024.3,900.0 1025.3,903.0 1025.3,906.5 1024.4,909.0 1023.0,911.0 1021.0,913.0 1016.4,916.5 1014.8,918.5 1014.8,920.0 1017.6,924.5 1017.7,926.0 1016.8,927.0 1015.9,927.5 1012.0,928.5 M1035.0,921.1 1033.0,920.9 1032.3,920.5 1031.7,919.5 1031.7,917.0 1033.0,914.5 1035.0,912.6 1037.5,911.3 1040.0,910.9 1042.1,911.5 1042.9,912.5 1043.0,913.5 1042.7,915.0 1041.9,916.5 1040.5,918.1 1038.7,919.5 1037.0,920.5 1035.0,921.1 M985.5,928.0 981.0,927.8 976.0,926.4 970.6,924.0 969.0,922.9 967.7,921.5 966.7,920.0 966.0,918.0 965.6,914.0 966.5,909.2 967.5,906.8 968.5,905.5 969.0,905.3 970.0,905.8 973.9,911.0 977.2,913.5 985.8,917.0 988.5,917.7 990.5,917.8 991.8,917.5 992.7,917.0 993.0,916.5 993.0,915.5 989.3,910.5 988.2,908.5 987.4,906.0 987.3,903.5 987.9,901.5 989.0,899.5 990.9,897.5 993.0,895.9 996.5,894.2 1000.0,893.2 1004.0,892.7 1008.0,892.8 1012.0,893.6 1015.5,894.9 1018.5,896.6 1021.0,899.0 1022.2,901.0 1022.9,903.5 1022.8,906.0 1021.9,908.5 1020.9,910.0 1019.0,911.9 1012.0,916.5 1010.8,917.5 1010.3,918.5 1010.7,920.0 1013.9,924.0 1014.1,925.5 1013.5,926.3 1011.0,927.3 1007.5,927.8 1003.5,927.8 993.5,927.1 985.5,928.0 M1036.5,919.1 1034.9,919.0 1034.0,918.0 1034.1,916.5 1034.8,915.0 1036.5,913.5 1038.0,912.8 1039.5,912.6 1040.7,913.0 1041.1,913.5 1041.3,914.5 1040.5,916.3 1038.8,918.0 1036.5,919.1 M1004.5,916.6 1002.0,916.8 1000.0,916.2 996.0,913.8 992.5,910.9 990.6,908.5 989.6,906.0 989.6,903.5 990.2,901.5 991.6,899.5 993.8,897.5 996.5,896.0 1000.0,894.8 1003.5,894.3 1007.0,894.3 1010.5,894.8 1014.0,896.0 1017.5,898.2 1019.8,901.0 1020.7,904.0 1020.6,906.0 1020.0,907.5 1018.3,910.0 1015.0,912.5 1010.5,914.7 1004.5,916.6 M987.5,927.1 983.0,927.4 978.5,926.7 972.5,924.3 969.0,922.0 967.2,919.5 966.3,916.0 966.6,912.5 967.1,911.0 968.0,909.4 969.0,908.7 970.0,909.0 974.0,912.5 976.5,914.1 986.0,918.4 989.5,919.7 991.5,920.0 993.5,920.0 1000.5,918.6 1003.0,918.8 1006.0,920.3 1008.5,921.9 1010.2,923.5 1010.6,924.5 1010.3,925.5 1009.5,926.0 1007.0,926.6 1003.0,926.8 993.5,926.1 987.5,927.1 M1006.0,913.5 1002.0,913.4 998.5,912.4 995.3,910.5 993.0,908.0 992.1,905.5 992.2,903.0 993.6,900.5 995.8,898.5 998.0,897.3 1001.0,896.4 1004.0,895.9 1007.5,896.0 1010.5,896.6 1013.0,897.6 1015.2,899.0 1017.1,901.0 1018.1,903.0 1018.2,905.0 1017.7,907.0 1016.5,908.8 1014.5,910.5 1012.0,911.9 1009.0,913.0 1006.0,913.5 M986.0,926.5 982.5,926.8 978.5,926.1 973.2,924.0 970.1,922.0 968.4,920.0 967.4,917.5 967.2,914.5 968.1,912.0 969.0,911.2 970.5,911.4 975.5,914.6 985.7,919.5 991.4,922.5 992.5,923.5 992.1,924.0 990.4,925.0 986.0,926.5 M1004.0,924.7 1002.5,924.9 1000.0,924.7 997.3,924.0 996.6,923.5 997.1,923.0 999.0,922.5 1001.8,922.5 1003.5,923.0 1004.4,923.5 1004.7,924.0 1004.4,924.5 1004.0,924.7 M1007.5,910.0 1005.0,910.3 1002.5,910.0 1000.5,909.4 998.5,908.3 997.3,907.0 996.5,905.2 996.6,903.5 997.4,902.0 998.5,900.9 1000.0,900.0 1002.0,899.3 1004.0,898.9 1006.5,898.9 1008.5,899.3 1010.3,900.0 1011.9,901.0 1013.0,902.2 1013.7,903.5 1013.8,905.0 1013.5,906.0 1012.5,907.5 1011.3,908.5 1009.5,909.4 1007.5,910.0 M984.0,925.6 981.5,925.7 978.5,925.2 975.4,924.0 971.8,922.0 970.2,920.5 969.0,918.5 968.7,916.0 969.3,914.5 970.5,914.0 972.0,914.3 981.0,918.5 985.1,921.0 986.6,922.5 986.9,923.5 986.8,924.0 986.0,924.8 984.0,925.6" fill="none" stroke="#8a8a8a" stroke-width="0.9"/>
<ellipse cx="1110.8" cy="780.2" rx="75.7" ry="67.7" transform="rotate(-53 1110.8 780.2)" fill="none" stroke="#111" stroke-width="1.7"/>
<text transform="translate(1222.0,689.8) scale(0.93,1)" font-size="29.8" font-family="'DejaVu Sans Mono', monospace" text-anchor="end" fill="#111">21.0</text>
<rect x="911.0" y="648.0" width="318.0" height="318.0" fill="none" stroke="#111" stroke-width="4.4"/>
<rect x="904.2" y="640.8" width="14" height="15" fill="#4a4a4a"/>
<rect x="1222.2" y="640.8" width="14" height="15" fill="#4a4a4a"/>
<rect x="904.2" y="958.8" width="14" height="15" fill="#4a4a4a"/>
<rect x="1222.2" y="958.8" width="14" height="15" fill="#4a4a4a"/>
<line x1="904.0" y1="670.6" x2="911.0" y2="670.6" stroke="#111" stroke-width="1.6"/>
<line x1="904.0" y1="731.0" x2="911.0" y2="731.0" stroke="#111" stroke-width="1.6"/>
<line x1="904.0" y1="794.8" x2="911.0" y2="794.8" stroke="#111" stroke-width="1.6"/>
<line x1="907.5" y1="712.8" x2="911.0" y2="712.8" stroke="#111" stroke-width="1.6"/>
<line x1="907.5" y1="702.2" x2="911.0" y2="702.2" stroke="#111" stroke-width="1.6"/>
<line x1="907.5" y1="694.6" x2="911.0" y2="694.6" stroke="#111" stroke-width="1.6"/>
<line x1="907.5" y1="688.8" x2="911.0" y2="688.8" stroke="#111" stroke-width="1.6"/>
<line x1="907.5" y1="684.0" x2="911.0" y2="684.0" stroke="#111" stroke-width="1.6"/>
<line x1="907.5" y1="680.0" x2="911.0" y2="680.0" stroke="#111" stroke-width="1.6"/>
<line x1="907.5" y1="676.5" x2="911.0" y2="676.5" stroke="#111" stroke-width="1.6"/>
<line x1="907.5" y1="673.4" x2="911.0" y2="673.4" stroke="#111" stroke-width="1.6"/>
<line x1="907.5" y1="775.6" x2="911.0" y2="775.6" stroke="#111" stroke-width="1.6"/>
<line x1="907.5" y1="764.4" x2="911.0" y2="764.4" stroke="#111" stroke-width="1.6"/>
<line x1="907.5" y1="756.4" x2="911.0" y2="756.4" stroke="#111" stroke-width="1.6"/>
<line x1="907.5" y1="750.2" x2="911.0" y2="750.2" stroke="#111" stroke-width="1.6"/>
<line x1="907.5" y1="745.2" x2="911.0" y2="745.2" stroke="#111" stroke-width="1.6"/>
<line x1="907.5" y1="740.9" x2="911.0" y2="740.9" stroke="#111" stroke-width="1.6"/>
<line x1="907.5" y1="737.2" x2="911.0" y2="737.2" stroke="#111" stroke-width="1.6"/>
<line x1="907.5" y1="733.9" x2="911.0" y2="733.9" stroke="#111" stroke-width="1.6"/>
<line x1="907.5" y1="808.0" x2="911.0" y2="808.0" stroke="#111" stroke-width="1.6"/>
<line x1="907.5" y1="820.0" x2="911.0" y2="820.0" stroke="#111" stroke-width="1.6"/>
<line x1="907.5" y1="831.0" x2="911.0" y2="831.0" stroke="#111" stroke-width="1.6"/>
<line x1="907.5" y1="840.0" x2="911.0" y2="840.0" stroke="#111" stroke-width="1.6"/>
<line x1="907.5" y1="847.0" x2="911.0" y2="847.0" stroke="#111" stroke-width="1.6"/>
<line x1="904.0" y1="853.0" x2="911.0" y2="853.0" stroke="#111" stroke-width="1.6"/>
<line x1="907.5" y1="860.0" x2="911.0" y2="860.0" stroke="#111" stroke-width="1.6"/>
<line x1="907.5" y1="868.2" x2="911.0" y2="868.2" stroke="#111" stroke-width="1.6"/>
<line x1="907.5" y1="876.0" x2="911.0" y2="876.0" stroke="#111" stroke-width="1.6"/>
<line x1="904.0" y1="883.0" x2="911.0" y2="883.0" stroke="#111" stroke-width="1.6"/>
<line x1="907.5" y1="890.0" x2="911.0" y2="890.0" stroke="#111" stroke-width="1.6"/>
<line x1="907.5" y1="900.0" x2="911.0" y2="900.0" stroke="#111" stroke-width="1.6"/>
<line x1="907.5" y1="911.0" x2="911.0" y2="911.0" stroke="#111" stroke-width="1.6"/>
<line x1="907.5" y1="928.0" x2="911.0" y2="928.0" stroke="#111" stroke-width="1.6"/>
<line x1="907.5" y1="942.5" x2="911.0" y2="942.5" stroke="#111" stroke-width="1.6"/>
<line x1="941.0" y1="966.0" x2="941.0" y2="973.0" stroke="#111" stroke-width="1.6"/>
<line x1="973.6" y1="966.0" x2="973.6" y2="973.0" stroke="#111" stroke-width="1.6"/>
<line x1="982.3" y1="966.0" x2="982.3" y2="973.0" stroke="#111" stroke-width="1.6"/>
<line x1="992.2" y1="966.0" x2="992.2" y2="973.0" stroke="#111" stroke-width="1.6"/>
<line x1="1056.0" y1="966.0" x2="1056.0" y2="973.0" stroke="#111" stroke-width="1.6"/>
<line x1="1152.3" y1="966.0" x2="1152.3" y2="973.0" stroke="#111" stroke-width="1.6"/>
<line x1="1085.0" y1="966.0" x2="1085.0" y2="969.5" stroke="#111" stroke-width="1.6"/>
<line x1="1101.9" y1="966.0" x2="1101.9" y2="969.5" stroke="#111" stroke-width="1.6"/>
<line x1="1114.0" y1="966.0" x2="1114.0" y2="969.5" stroke="#111" stroke-width="1.6"/>
<line x1="1123.3" y1="966.0" x2="1123.3" y2="969.5" stroke="#111" stroke-width="1.6"/>
<line x1="1130.9" y1="966.0" x2="1130.9" y2="969.5" stroke="#111" stroke-width="1.6"/>
<line x1="1137.4" y1="966.0" x2="1137.4" y2="969.5" stroke="#111" stroke-width="1.6"/>
<line x1="1143.0" y1="966.0" x2="1143.0" y2="969.5" stroke="#111" stroke-width="1.6"/>
<line x1="1147.9" y1="966.0" x2="1147.9" y2="969.5" stroke="#111" stroke-width="1.6"/>
<line x1="1181.3" y1="966.0" x2="1181.3" y2="969.5" stroke="#111" stroke-width="1.6"/>
<line x1="1198.2" y1="966.0" x2="1198.2" y2="969.5" stroke="#111" stroke-width="1.6"/>
<line x1="1210.3" y1="966.0" x2="1210.3" y2="969.5" stroke="#111" stroke-width="1.6"/>
<line x1="1219.6" y1="966.0" x2="1219.6" y2="969.5" stroke="#111" stroke-width="1.6"/>
<line x1="919.0" y1="966.0" x2="919.0" y2="969.5" stroke="#111" stroke-width="1.6"/>
<line x1="925.0" y1="966.0" x2="925.0" y2="969.5" stroke="#111" stroke-width="1.6"/>
<line x1="931.0" y1="966.0" x2="931.0" y2="969.5" stroke="#111" stroke-width="1.6"/>
<line x1="936.0" y1="966.0" x2="936.0" y2="969.5" stroke="#111" stroke-width="1.6"/>
<line x1="949.0" y1="966.0" x2="949.0" y2="969.5" stroke="#111" stroke-width="1.6"/>
<line x1="956.0" y1="966.0" x2="956.0" y2="969.5" stroke="#111" stroke-width="1.6"/>
<line x1="963.0" y1="966.0" x2="963.0" y2="969.5" stroke="#111" stroke-width="1.6"/>
<line x1="968.0" y1="966.0" x2="968.0" y2="969.5" stroke="#111" stroke-width="1.6"/>
<line x1="978.0" y1="966.0" x2="978.0" y2="969.5" stroke="#111" stroke-width="1.6"/>
<line x1="987.0" y1="966.0" x2="987.0" y2="969.5" stroke="#111" stroke-width="1.6"/>
<line x1="999.0" y1="966.0" x2="999.0" y2="969.5" stroke="#111" stroke-width="1.6"/>
<line x1="1008.0" y1="966.0" x2="1008.0" y2="969.5" stroke="#111" stroke-width="1.6"/>
<line x1="1018.0" y1="966.0" x2="1018.0" y2="969.5" stroke="#111" stroke-width="1.6"/>
<line x1="1029.0" y1="966.0" x2="1029.0" y2="969.5" stroke="#111" stroke-width="1.6"/>
<line x1="1041.0" y1="966.0" x2="1041.0" y2="969.5" stroke="#111" stroke-width="1.6"/>
<text transform="translate(896.5,683.5) scale(0.97,1)" font-size="17.6" font-family="'DejaVu Sans', sans-serif" text-anchor="end" fill="#111">10<tspan dx="2.2" dy="-11.3">5</tspan></text>
<text transform="translate(896.5,743.9) scale(0.97,1)" font-size="17.6" font-family="'DejaVu Sans', sans-serif" text-anchor="end" fill="#111">10<tspan dx="2.2" dy="-11.3">4</tspan></text>
<text transform="translate(896.5,807.7) scale(0.97,1)" font-size="17.6" font-family="'DejaVu Sans', sans-serif" text-anchor="end" fill="#111">10<tspan dx="2.2" dy="-11.3">3</tspan></text>
<text transform="translate(886.0,876.8) scale(0.97,1)" font-size="17.6" font-family="'DejaVu Sans', sans-serif" text-anchor="end" fill="#111">0</text>
<text transform="translate(896.5,953.0) scale(0.97,1)" font-size="17.6" font-family="'DejaVu Sans', sans-serif" text-anchor="end" fill="#111">-10<tspan dx="2.2" dy="-11.3">3</tspan></text>
<text transform="translate(960.8,1000.8) scale(0.97,1)" font-size="17.6" font-family="'DejaVu Sans', sans-serif" text-anchor="end" fill="#111">-10<tspan dx="2.2" dy="-10.8">3</tspan></text>
<text transform="translate(989.0,1000.8) scale(0.97,1)" font-size="17.6" font-family="'DejaVu Sans', sans-serif" text-anchor="middle" fill="#111">0</text>
<text transform="translate(1084.2,1000.8) scale(0.97,1)" font-size="17.6" font-family="'DejaVu Sans', sans-serif" text-anchor="end" fill="#111">10<tspan dx="2.2" dy="-10.8">3</tspan></text>
<text transform="translate(1180.5,1000.8) scale(0.97,1)" font-size="17.6" font-family="'DejaVu Sans', sans-serif" text-anchor="end" fill="#111">10<tspan dx="2.2" dy="-10.8">4</tspan></text>
<path d="M931.0,1352.1 930.4,1350.1 930.2,1344.6 930.8,1334.1 931.9,1327.1 935.1,1312.6 936.6,1304.3 937.6,1296.1 940.0,1268.6 941.8,1257.1 943.9,1247.6 945.9,1240.6 948.5,1233.6 951.1,1228.0 954.1,1223.1 957.1,1219.4 960.6,1216.5 964.1,1214.9 967.6,1214.3 971.6,1214.8 979.6,1217.3 983.6,1218.0 987.6,1217.8 996.1,1216.2 1000.6,1216.4 1003.6,1217.4 1006.1,1218.7 1008.6,1220.6 1011.1,1223.1 1013.8,1226.6 1016.3,1230.6 1018.8,1235.6 1020.9,1240.6 1023.2,1247.6 1025.3,1255.1 1030.1,1278.4 1032.1,1286.2 1033.2,1289.1 1034.6,1291.9 1036.1,1293.9 1038.1,1295.5 1041.1,1296.6 1044.6,1297.0 1066.1,1296.2 1080.1,1296.0 1093.6,1296.3 1105.6,1297.1 1116.1,1298.5 1125.6,1300.3 1134.6,1302.7 1142.6,1305.5 1152.1,1309.8 1160.1,1314.5 1167.6,1320.1 1173.8,1326.1 1179.4,1333.1 1183.5,1340.1 1186.4,1347.6 1188.0,1352.1 M1110.6,1248.6 1107.1,1249.0 1103.6,1248.5 1100.7,1247.1 1099.1,1245.1 1098.2,1242.1 1098.5,1239.1 1099.7,1235.6 1102.2,1231.6 1105.3,1228.1 1109.1,1224.9 1113.1,1222.3 1117.6,1220.1 1122.1,1218.8 1126.1,1218.4 1129.6,1218.9 1132.2,1220.1 1133.3,1221.1 1134.2,1222.6 1134.8,1224.6 1134.9,1226.6 1134.5,1228.6 1133.7,1231.1 1131.0,1235.6 1126.9,1240.1 1121.6,1244.1 1116.1,1247.0 1110.6,1248.6 M939.7,1352.1 938.0,1349.1 937.0,1343.1 936.6,1337.1 936.7,1331.1 937.5,1323.6 940.9,1302.1 943.5,1272.6 945.9,1258.1 947.8,1250.6 949.9,1244.1 952.5,1238.1 955.1,1233.5 958.1,1229.6 961.1,1227.0 964.6,1225.2 968.1,1224.6 972.1,1225.1 980.1,1227.4 984.1,1228.1 988.1,1228.1 996.1,1227.0 1000.1,1227.3 1002.6,1228.1 1005.1,1229.5 1007.6,1231.4 1010.1,1234.1 1012.6,1237.7 1014.8,1241.6 1016.9,1246.1 1018.8,1251.1 1020.7,1257.6 1022.4,1264.6 1026.8,1288.1 1028.6,1296.0 1030.0,1300.1 1031.5,1303.1 1033.1,1305.3 1035.1,1307.0 1038.1,1308.3 1042.6,1308.8 1078.1,1306.5 1090.1,1306.3 1100.6,1306.6 1109.6,1307.3 1117.6,1308.5 1125.6,1310.2 1133.1,1312.5 1141.6,1315.9 1149.1,1319.9 1155.6,1324.3 1161.6,1329.6 1166.7,1335.6 1170.5,1341.6 1173.2,1348.1 1174.9,1352.1 M944.3,1352.1 942.2,1349.6 940.8,1343.6 940.0,1337.1 939.9,1330.6 940.7,1322.1 944.0,1301.1 946.3,1275.6 948.2,1264.1 949.9,1257.1 952.0,1250.6 954.3,1245.1 956.9,1240.6 959.6,1237.2 962.6,1234.7 965.6,1233.3 969.1,1232.8 973.1,1233.3 980.6,1235.4 984.6,1236.1 988.6,1236.3 996.1,1235.9 1000.1,1236.5 1002.6,1237.4 1004.6,1238.7 1007.1,1240.8 1009.1,1243.2 1011.6,1247.0 1013.6,1251.1 1015.7,1256.1 1017.6,1262.3 1020.2,1273.6 1024.3,1297.1 1026.6,1306.1 1028.1,1309.9 1029.6,1312.6 1031.1,1314.5 1033.1,1316.3 1034.6,1317.1 1036.6,1317.7 1041.1,1318.0 1075.6,1314.4 1086.6,1313.7 1096.6,1313.6 1104.6,1313.9 1112.1,1314.7 1119.1,1315.9 1126.1,1317.7 1134.1,1320.5 1141.1,1323.9 1147.6,1328.0 1153.1,1332.6 1157.7,1337.6 1161.4,1343.1 1164.1,1349.1 1165.6,1352.1 M947.1,1352.1 944.8,1349.6 943.0,1343.1 942.1,1336.6 941.9,1330.1 942.8,1321.1 946.2,1300.6 948.5,1279.1 950.1,1268.6 951.7,1261.6 953.6,1255.7 955.6,1250.9 958.1,1246.5 960.6,1243.3 963.6,1240.9 966.6,1239.6 970.1,1239.2 974.1,1239.7 986.1,1242.4 996.1,1243.1 999.1,1243.6 1001.6,1244.5 1003.6,1245.8 1005.6,1247.5 1007.8,1250.1 1010.1,1253.6 1012.1,1257.7 1014.0,1262.6 1015.5,1267.6 1017.8,1278.1 1021.8,1301.1 1024.6,1311.9 1026.2,1316.1 1028.1,1319.6 1030.1,1322.1 1032.1,1323.7 1035.6,1325.0 1040.1,1325.1 1072.6,1320.4 1083.1,1319.3 1092.6,1318.8 1100.6,1318.8 1107.6,1319.2 1114.1,1320.1 1120.6,1321.4 1128.1,1323.7 1135.1,1326.7 1141.1,1330.1 1146.6,1334.3 1151.3,1339.1 1154.9,1344.1 1157.5,1349.6 1159.1,1352.1 M949.2,1352.1 946.4,1349.1 944.7,1343.6 943.7,1337.1 943.4,1330.1 944.2,1321.6 948.2,1300.1 950.6,1280.0 952.0,1271.6 953.4,1265.6 955.1,1260.0 957.1,1255.3 959.6,1251.0 962.1,1248.1 964.6,1246.2 967.6,1244.9 971.1,1244.5 976.1,1245.1 987.1,1247.9 998.6,1250.1 1001.1,1251.2 1003.1,1252.6 1005.1,1254.5 1006.8,1256.6 1008.6,1259.6 1010.6,1263.6 1013.6,1272.6 1015.6,1281.6 1019.6,1303.6 1023.1,1316.7 1025.1,1322.0 1026.9,1325.6 1029.1,1328.5 1031.1,1330.1 1032.6,1330.8 1034.6,1331.3 1039.1,1331.2 1070.1,1325.4 1080.6,1323.9 1089.6,1323.0 1096.6,1322.7 1103.6,1322.9 1110.1,1323.5 1116.1,1324.4 1123.6,1326.4 1130.1,1328.8 1136.1,1332.0 1141.3,1335.6 1146.1,1340.1 1149.5,1344.6 1152.2,1349.6 1153.9,1352.1 M950.8,1352.1 947.8,1349.1 945.9,1343.1 944.8,1336.6 944.6,1329.6 945.6,1320.6 950.0,1299.1 953.7,1274.1 955.1,1268.5 956.9,1263.1 958.9,1258.6 961.1,1255.1 963.6,1252.4 966.1,1250.6 969.1,1249.5 972.6,1249.2 976.1,1249.5 980.6,1250.5 997.1,1255.9 999.6,1257.1 1002.1,1258.9 1004.1,1260.9 1005.8,1263.1 1007.6,1266.3 1009.1,1269.6 1011.6,1277.1 1017.9,1306.1 1022.6,1323.0 1024.5,1328.1 1026.1,1331.6 1028.1,1334.4 1030.1,1336.1 1031.6,1336.8 1033.6,1337.2 1038.1,1336.9 1066.2,1330.1 1076.7,1328.1 1086.1,1326.8 1093.1,1326.2 1099.6,1326.0 1106.1,1326.3 1112.1,1327.0 1119.1,1328.5 1125.6,1330.6 1131.6,1333.4 1137.1,1336.9 1141.6,1340.8 1145.1,1345.1 1148.0,1350.1 1149.6,1352.1 M952.1,1352.1 949.0,1349.1 946.9,1343.1 945.7,1336.1 945.6,1329.1 946.0,1324.6 946.8,1319.1 951.8,1297.6 955.6,1276.1 957.0,1270.6 958.6,1266.0 960.6,1261.9 962.6,1258.9 965.1,1256.3 967.6,1254.7 970.6,1253.6 974.1,1253.3 978.1,1253.7 982.1,1254.7 986.6,1256.5 991.8,1259.1 996.1,1261.6 999.6,1264.1 1002.2,1266.6 1004.6,1269.9 1007.1,1274.8 1009.6,1281.7 1020.1,1321.4 1023.6,1333.4 1026.1,1339.2 1027.6,1341.3 1029.1,1342.5 1030.6,1343.2 1032.1,1343.5 1036.1,1343.0 1052.1,1337.7 1060.9,1335.1 1071.6,1332.4 1081.1,1330.5 1088.1,1329.5 1095.1,1328.9 1101.6,1328.8 1108.1,1329.2 1115.1,1330.4 1121.6,1332.1 1127.6,1334.6 1133.1,1337.7 1137.6,1341.3 1141.4,1345.6 1144.2,1350.1 1146.0,1352.1 M953.2,1352.1 950.8,1351.1 948.9,1346.6 947.5,1342.1 946.7,1337.6 946.3,1332.6 946.4,1327.6 947.1,1322.1 948.2,1316.1 953.4,1296.6 957.6,1276.9 959.1,1271.9 960.6,1268.1 963.6,1263.0 965.2,1261.1 967.1,1259.4 969.1,1258.2 971.1,1257.4 973.1,1256.9 975.6,1256.7 979.1,1257.1 983.1,1258.4 987.1,1260.5 990.9,1263.1 995.0,1266.6 998.2,1270.1 1001.3,1274.1 1004.1,1278.7 1008.1,1287.5 1012.1,1299.0 1017.9,1318.6 1024.1,1344.7 1025.6,1348.9 1026.6,1350.7 1027.6,1351.7 1029.1,1352.1 1031.6,1351.6 1043.3,1345.6 1050.6,1342.3 1060.1,1338.8 1070.5,1335.6 1079.1,1333.5 1087.6,1332.0 1095.1,1331.3 1102.6,1331.1 1110.1,1331.8 1117.1,1333.2 1123.6,1335.4 1129.1,1338.1 1134.0,1341.6 1138.0,1345.6 1141.0,1350.1 1143.0,1352.1 M954.1,1352.1 951.6,1351.1 949.8,1347.1 948.3,1342.6 947.3,1337.6 946.9,1332.6 947.1,1327.6 947.7,1322.1 948.8,1316.6 955.5,1294.1 959.6,1278.6 962.6,1270.6 965.3,1266.1 968.6,1262.7 970.6,1261.4 972.5,1260.6 974.6,1260.1 976.6,1260.0 980.1,1260.4 984.1,1262.1 987.8,1264.6 991.4,1268.1 994.7,1272.6 1000.6,1283.0 1006.1,1291.2 1009.6,1298.1 1012.6,1305.7 1015.5,1314.6 1017.8,1323.1 1019.5,1331.6 1020.7,1340.1 1021.0,1346.6 1020.5,1351.6 1019.3,1352.1 M1040.0,1352.1 1043.2,1351.6 1048.9,1347.6 1056.6,1343.6 1065.3,1340.1 1074.6,1337.1 1083.6,1334.9 1092.3,1333.6 1100.6,1333.2 1107.6,1333.5 1114.6,1334.7 1121.0,1336.6 1126.4,1339.1 1131.1,1342.2 1135.2,1346.1 1138.4,1350.6 1140.2,1352.1 M955.1,1352.1 952.5,1351.1 950.6,1347.1 949.0,1342.6 948.0,1337.6 947.6,1332.6 947.7,1327.6 948.3,1322.6 949.5,1317.1 951.2,1311.1 953.6,1303.9 963.3,1278.1 965.7,1272.6 968.3,1268.6 971.1,1265.8 974.1,1264.2 977.6,1263.6 980.6,1264.1 983.6,1265.5 986.4,1267.6 989.1,1270.6 992.2,1275.6 998.1,1288.0 1000.0,1290.6 1004.1,1294.9 1006.6,1298.0 1009.1,1302.2 1011.6,1307.6 1014.1,1314.6 1016.2,1322.1 1017.8,1329.6 1018.5,1336.1 1018.7,1342.1 1018.3,1347.1 1017.2,1351.1 1015.3,1352.1 M1049.1,1352.1 1052.3,1351.6 1057.0,1348.1 1063.4,1344.6 1071.1,1341.3 1079.1,1338.7 1086.6,1336.9 1094.1,1335.8 1101.1,1335.4 1107.6,1335.8 1113.6,1336.8 1119.6,1338.6 1124.6,1340.9 1128.8,1343.6 1132.6,1347.1 1135.5,1351.1 1137.2,1352.1 M956.1,1352.1 953.7,1351.6 951.6,1347.6 949.9,1343.1 948.9,1338.6 948.3,1333.6 948.3,1328.6 948.9,1323.6 950.0,1318.1 952.1,1311.0 955.1,1303.4 958.1,1297.1 964.3,1286.1 969.3,1274.6 971.1,1271.8 973.3,1269.6 975.6,1268.3 978.1,1267.8 980.1,1268.1 982.6,1269.2 984.6,1270.6 986.8,1273.1 989.6,1277.6 993.8,1287.1 996.1,1291.1 998.6,1294.4 1004.1,1299.5 1006.6,1302.4 1009.5,1307.1 1012.0,1312.6 1014.2,1319.1 1015.7,1325.6 1016.7,1332.1 1017.0,1337.6 1016.7,1343.1 1015.9,1347.6 1014.4,1351.6 1012.3,1352.1 M1057.8,1352.1 1060.9,1351.6 1064.8,1348.6 1070.0,1345.6 1075.5,1343.1 1082.1,1340.8 1088.6,1339.2 1095.1,1338.2 1101.1,1337.9 1107.1,1338.2 1112.6,1339.1 1117.6,1340.5 1122.1,1342.5 1126.2,1345.1 1129.6,1348.1 1132.2,1351.6 1133.9,1352.1 M957.2,1352.1 954.3,1351.1 952.2,1347.1 950.5,1342.6 949.5,1338.1 949.0,1333.6 949.1,1328.6 949.6,1323.6 950.8,1318.1 953.9,1309.1 956.1,1304.4 958.1,1300.8 960.6,1297.2 966.5,1289.6 971.3,1279.6 973.1,1276.5 975.6,1274.0 977.1,1273.3 978.6,1273.0 980.1,1273.1 982.1,1274.0 983.6,1275.2 985.1,1276.9 987.2,1280.1 991.4,1288.6 993.7,1292.6 997.1,1296.8 1003.5,1302.6 1006.1,1305.5 1009.1,1310.1 1011.6,1315.6 1013.3,1321.1 1014.7,1327.1 1015.4,1333.1 1015.4,1338.6 1014.9,1343.1 1013.8,1347.6 1012.0,1351.6 1009.6,1352.1 M1066.2,1352.1 1068.8,1352.1 1071.9,1349.6 1076.0,1347.1 1080.6,1345.0 1085.9,1343.1 1091.1,1341.8 1096.6,1341.0 1101.6,1340.7 1106.6,1341.0 1111.1,1341.7 1115.6,1342.9 1119.5,1344.6 1122.9,1346.6 1125.9,1349.1 1128.4,1352.1 1130.0,1352.1 M958.4,1352.1 955.6,1351.6 953.3,1347.6 951.5,1343.1 950.4,1338.6 949.8,1334.1 949.8,1329.1 950.3,1324.1 951.6,1318.6 953.0,1314.1 954.6,1310.2 956.6,1306.3 958.6,1303.1 961.1,1300.0 968.1,1292.6 975.1,1281.9 977.1,1280.1 979.1,1279.5 981.1,1279.9 983.6,1281.9 985.6,1284.5 990.6,1292.6 993.3,1296.1 996.1,1299.1 1002.4,1304.6 1005.1,1307.5 1008.2,1312.1 1010.9,1318.1 1012.6,1323.6 1013.6,1329.1 1014.0,1334.6 1013.8,1339.6 1013.0,1344.1 1011.6,1348.1 1009.6,1351.8 1007.0,1352.1 M1074.8,1352.1 1077.1,1352.1 1079.6,1350.6 1082.6,1348.8 1086.1,1347.2 1090.1,1345.8 1094.1,1344.9 1098.1,1344.3 1102.1,1344.1 1106.1,1344.3 1109.6,1344.8 1113.1,1345.8 1116.4,1347.1 1119.1,1348.6 1121.7,1350.6 1123.6,1352.1 1125.2,1352.1 M959.8,1352.1 957.1,1352.0 954.6,1348.1 952.6,1343.6 951.3,1339.1 950.7,1334.1 950.6,1329.1 951.2,1324.1 952.4,1319.1 953.7,1315.1 955.6,1310.9 957.6,1307.4 960.1,1304.0 962.6,1301.4 968.6,1296.1 975.6,1288.8 977.6,1287.3 979.6,1286.8 981.6,1287.4 983.6,1288.8 992.5,1298.6 1003.1,1308.3 1005.1,1310.7 1007.1,1313.6 1009.8,1319.6 1011.3,1324.6 1012.2,1330.1 1012.5,1335.1 1012.0,1340.1 1011.0,1344.6 1009.3,1348.6 1007.1,1352.1 1004.4,1352.1 M1085.0,1352.1 1088.1,1352.1 1092.6,1350.4 1097.6,1349.1 1102.6,1348.7 1107.6,1349.2 1112.1,1350.5 1115.7,1352.1 1118.2,1352.1 M961.9,1352.1 958.9,1352.1 956.4,1348.6 954.3,1344.6 952.8,1340.1 952.0,1335.6 951.8,1330.6 952.3,1325.6 953.4,1320.6 954.7,1316.6 956.6,1312.6 959.1,1308.8 961.6,1305.9 965.1,1302.9 974.1,1296.2 977.1,1294.6 979.6,1294.1 982.6,1294.8 985.6,1296.6 1000.1,1309.0 1002.6,1311.6 1004.9,1314.6 1006.9,1318.1 1008.3,1321.6 1009.6,1326.1 1010.3,1331.1 1010.3,1336.1 1009.7,1340.6 1008.5,1344.6 1006.6,1348.6 1004.0,1352.1 1000.7,1352.1 M965.7,1352.1 962.4,1352.1 959.6,1349.6 957.1,1345.7 955.3,1341.6 954.2,1337.1 953.7,1332.6 953.9,1328.1 954.7,1323.6 956.0,1319.6 957.9,1315.6 960.2,1312.1 963.1,1309.0 967.1,1305.9 972.6,1302.6 976.6,1300.9 979.6,1300.5 983.1,1301.2 986.6,1302.9 991.6,1306.3 997.1,1310.9 1000.2,1314.1 1002.8,1317.6 1004.7,1321.1 1006.2,1325.1 1007.1,1329.6 1007.3,1334.1 1006.9,1338.6 1005.8,1342.6 1003.9,1346.6 1001.6,1349.8 998.6,1352.1 995.0,1352.1 M971.0,1352.1 967.1,1352.1 964.0,1351.1 961.2,1348.1 958.8,1344.6 957.1,1340.6 956.0,1336.1 955.7,1331.6 956.1,1327.1 957.1,1323.1 958.7,1319.1 960.9,1315.6 963.6,1312.6 967.1,1309.7 971.6,1307.0 975.6,1305.4 979.1,1304.9 982.6,1305.4 986.6,1307.0 991.1,1309.9 995.5,1313.6 998.7,1317.1 1001.1,1320.6 1002.9,1324.6 1004.0,1328.6 1004.4,1333.1 1004.1,1337.1 1003.1,1341.1 1001.3,1345.1 999.1,1348.1 996.0,1351.1 992.6,1352.1 988.2,1352.1 M982.6,1352.1 978.1,1352.1 973.6,1352.1 969.6,1352.1 966.1,1350.1 962.9,1347.1 960.5,1343.6 958.6,1339.1 957.7,1334.6 957.7,1330.1 958.5,1325.6 960.1,1321.3 962.3,1317.6 965.6,1314.1 969.6,1311.2 973.6,1309.3 977.6,1308.3 981.1,1308.3 985.1,1309.5 989.1,1311.7 993.4,1315.1 996.6,1318.6 999.1,1322.4 1000.8,1326.6 1001.7,1330.6 1001.8,1335.1 1001.0,1339.1 999.6,1342.7 997.4,1346.1 994.6,1349.0 991.1,1351.4 987.1,1352.1 982.6,1352.1 M981.6,1352.1 977.6,1352.1 973.6,1351.6 970.1,1350.2 966.8,1348.1 964.1,1345.4 961.9,1342.1 960.5,1338.6 959.7,1334.6 959.6,1330.1 960.4,1326.1 961.8,1322.6 964.0,1319.1 966.6,1316.4 970.1,1313.8 974.1,1311.9 977.6,1311.1 981.1,1311.2 984.6,1312.2 988.1,1314.0 991.6,1316.7 994.7,1320.1 997.0,1323.6 998.4,1327.1 999.3,1331.1 999.3,1335.1 998.6,1338.6 997.1,1342.1 995.1,1345.1 992.6,1347.6 989.1,1349.9 985.6,1351.3 981.6,1352.1 M980.6,1350.1 977.1,1350.1 973.6,1349.4 970.5,1348.1 967.6,1346.1 965.3,1343.6 963.4,1340.6 962.1,1337.1 961.6,1333.6 961.7,1330.1 962.4,1326.6 963.7,1323.6 965.7,1320.6 968.6,1317.7 971.6,1315.7 975.1,1314.3 978.1,1313.7 981.1,1313.9 984.6,1314.9 987.6,1316.6 990.7,1319.1 993.3,1322.1 995.1,1325.1 996.4,1328.6 996.9,1332.1 996.8,1335.6 996.0,1338.6 994.6,1341.6 992.6,1344.3 990.1,1346.6 987.1,1348.4 984.1,1349.5 980.6,1350.1 M982.1,1347.7 979.1,1348.0 976.1,1347.8 973.1,1346.9 970.5,1345.6 968.1,1343.7 966.1,1341.2 964.8,1338.6 963.9,1335.6 963.6,1332.6 963.9,1329.6 964.7,1326.6 966.3,1323.6 968.3,1321.1 970.6,1319.1 973.6,1317.4 976.6,1316.5 979.6,1316.3 982.1,1316.7 985.1,1317.9 987.6,1319.5 989.9,1321.6 991.8,1324.1 993.4,1327.1 994.3,1330.1 994.5,1333.1 994.2,1336.1 993.4,1338.6 992.1,1341.1 990.1,1343.5 987.6,1345.5 985.1,1346.8 982.1,1347.7 M980.1,1345.6 977.6,1345.6 974.9,1345.1 972.6,1344.2 970.4,1342.6 968.6,1340.7 967.3,1338.6 966.3,1336.1 965.9,1333.6 966.0,1331.1 966.6,1328.3 967.6,1326.0 969.1,1323.8 971.1,1321.8 973.1,1320.5 975.6,1319.4 978.1,1319.0 980.6,1319.1 983.1,1319.8 985.5,1321.1 987.4,1322.6 989.1,1324.6 990.6,1327.1 991.6,1329.6 992.0,1332.1 991.9,1334.6 991.3,1337.1 990.4,1339.1 989.0,1341.1 987.1,1342.9 985.1,1344.1 982.6,1345.1 980.1,1345.6 M979.1,1343.1 977.1,1343.0 975.1,1342.5 973.1,1341.5 971.6,1340.3 970.2,1338.6 969.4,1337.1 968.7,1335.1 968.4,1333.1 968.5,1331.1 969.0,1329.1 969.9,1327.1 971.1,1325.5 972.6,1324.0 974.6,1322.8 976.6,1322.1 978.6,1321.8 980.6,1322.0 982.6,1322.6 984.3,1323.6 986.1,1325.1 987.3,1326.6 988.4,1328.6 989.0,1330.6 989.2,1332.6 989.1,1334.6 988.6,1336.4 987.8,1338.1 986.6,1339.7 985.0,1341.1 983.1,1342.2 981.1,1342.9 979.1,1343.1" fill="none" stroke="#a8a8a8" stroke-width="0.9"/>
<path d="M1063.5,1237.1h1.6v1.6h-1.6zM1139.6,1214.8h1.6v1.6h-1.6zM1063.6,1257.3h1.6v1.6h-1.6zM1119.5,1274.0h1.6v1.6h-1.6zM1050.9,1276.6h1.6v1.6h-1.6zM1091.4,1273.2h1.6v1.6h-1.6zM1090.0,1236.9h1.6v1.6h-1.6zM1123.0,1283.5h1.6v1.6h-1.6zM1121.7,1262.2h1.6v1.6h-1.6zM1110.9,1210.2h1.6v1.6h-1.6zM1150.8,1190.7h1.6v1.6h-1.6zM1131.8,1237.3h1.6v1.6h-1.6zM1086.1,1286.7h1.6v1.6h-1.6zM1078.6,1262.7h1.6v1.6h-1.6zM1157.8,1189.8h1.6v1.6h-1.6zM1058.6,1276.6h1.6v1.6h-1.6zM1101.0,1286.7h1.6v1.6h-1.6zM1097.9,1206.8h1.6v1.6h-1.6zM1083.5,1292.9h1.6v1.6h-1.6zM1153.4,1223.7h1.6v1.6h-1.6zM1102.7,1215.7h1.6v1.6h-1.6zM1135.1,1205.9h1.6v1.6h-1.6zM1079.7,1248.4h1.6v1.6h-1.6zM1149.7,1232.8h1.6v1.6h-1.6zM1098.7,1263.8h1.6v1.6h-1.6zM1146.2,1246.6h1.6v1.6h-1.6zM1060.0,1261.8h1.6v1.6h-1.6zM1054.8,1275.0h1.6v1.6h-1.6zM1141.5,1245.8h1.6v1.6h-1.6zM1084.7,1286.8h1.6v1.6h-1.6zM1096.4,1257.1h1.6v1.6h-1.6zM1086.4,1246.2h1.6v1.6h-1.6zM1060.5,1272.0h1.6v1.6h-1.6zM1093.0,1279.1h1.6v1.6h-1.6zM987.5,1206.6h1.6v1.6h-1.6zM1054.1,1224.6h1.6v1.6h-1.6zM1132.1,1258.7h1.6v1.6h-1.6zM1111.8,1268.4h1.6v1.6h-1.6zM1042.8,1252.9h1.6v1.6h-1.6zM1058.4,1285.2h1.6v1.6h-1.6zM1120.7,1201.9h1.6v1.6h-1.6zM1099.1,1259.8h1.6v1.6h-1.6zM1167.4,1251.4h1.6v1.6h-1.6zM1105.3,1208.1h1.6v1.6h-1.6zM1047.7,1255.6h1.6v1.6h-1.6zM1080.0,1236.4h1.6v1.6h-1.6zM1165.0,1274.1h1.6v1.6h-1.6zM1125.7,1293.1h1.6v1.6h-1.6zM1067.9,1231.5h1.6v1.6h-1.6zM987.2,1166.1h1.6v1.6h-1.6zM1136.0,1218.7h1.6v1.6h-1.6zM974.8,1214.7h1.6v1.6h-1.6zM1087.4,1294.0h1.6v1.6h-1.6zM1161.5,1225.6h1.6v1.6h-1.6zM1104.6,1265.6h1.6v1.6h-1.6zM1062.3,1286.6h1.6v1.6h-1.6zM1135.9,1276.3h1.6v1.6h-1.6zM1165.7,1213.7h1.6v1.6h-1.6zM1171.0,1294.9h1.6v1.6h-1.6zM1134.0,1250.1h1.6v1.6h-1.6zM1068.1,1253.8h1.6v1.6h-1.6zM1121.2,1213.8h1.6v1.6h-1.6zM1141.5,1262.3h1.6v1.6h-1.6zM1126.6,1189.9h1.6v1.6h-1.6zM1159.2,1242.6h1.6v1.6h-1.6zM1142.1,1221.6h1.6v1.6h-1.6zM1085.8,1266.3h1.6v1.6h-1.6zM972.7,1203.3h1.6v1.6h-1.6zM1122.7,1217.4h1.6v1.6h-1.6zM1201.5,1238.0h1.6v1.6h-1.6zM1056.3,1291.5h1.6v1.6h-1.6zM1137.2,1230.8h1.6v1.6h-1.6zM1097.9,1220.7h1.6v1.6h-1.6zM1100.4,1247.7h1.6v1.6h-1.6zM1163.6,1272.6h1.6v1.6h-1.6zM1150.6,1215.7h1.6v1.6h-1.6zM1151.2,1234.2h1.6v1.6h-1.6zM1104.1,1256.6h1.6v1.6h-1.6zM1061.6,1255.7h1.6v1.6h-1.6zM1040.2,1294.8h1.6v1.6h-1.6zM1103.7,1203.8h1.6v1.6h-1.6zM1139.0,1237.9h1.6v1.6h-1.6zM1050.4,1257.7h1.6v1.6h-1.6zM1145.1,1252.1h1.6v1.6h-1.6zM1127.8,1255.4h1.6v1.6h-1.6zM1064.7,1246.2h1.6v1.6h-1.6zM1130.1,1238.6h1.6v1.6h-1.6zM1051.2,1250.1h1.6v1.6h-1.6zM1062.1,1249.5h1.6v1.6h-1.6zM1098.4,1229.8h1.6v1.6h-1.6zM1109.3,1263.9h1.6v1.6h-1.6zM1058.4,1253.4h1.6v1.6h-1.6zM1059.5,1277.0h1.6v1.6h-1.6zM1061.9,1243.2h1.6v1.6h-1.6zM1094.0,1237.7h1.6v1.6h-1.6zM1140.4,1258.5h1.6v1.6h-1.6zM1118.3,1205.2h1.6v1.6h-1.6zM1069.2,1253.4h1.6v1.6h-1.6zM1115.1,1202.0h1.6v1.6h-1.6zM1185.7,1316.0h1.6v1.6h-1.6zM1042.6,1255.4h1.6v1.6h-1.6zM1099.1,1258.6h1.6v1.6h-1.6zM1103.8,1266.4h1.6v1.6h-1.6zM1127.6,1244.0h1.6v1.6h-1.6zM1060.4,1271.5h1.6v1.6h-1.6zM1085.7,1216.6h1.6v1.6h-1.6zM1164.8,1255.2h1.6v1.6h-1.6zM1214.2,1258.7h1.6v1.6h-1.6zM1120.2,1256.3h1.6v1.6h-1.6zM975.0,1206.5h1.6v1.6h-1.6zM1062.0,1262.8h1.6v1.6h-1.6zM1112.6,1276.1h1.6v1.6h-1.6zM1148.1,1196.5h1.6v1.6h-1.6zM1103.8,1251.7h1.6v1.6h-1.6zM1161.3,1212.2h1.6v1.6h-1.6zM1058.1,1251.0h1.6v1.6h-1.6zM1130.5,1245.4h1.6v1.6h-1.6zM1110.5,1223.1h1.6v1.6h-1.6zM1146.9,1298.8h1.6v1.6h-1.6zM1109.9,1203.3h1.6v1.6h-1.6zM1073.6,1218.1h1.6v1.6h-1.6zM1195.5,1283.3h1.6v1.6h-1.6zM1122.1,1263.1h1.6v1.6h-1.6zM1072.0,1265.9h1.6v1.6h-1.6zM1083.2,1239.6h1.6v1.6h-1.6zM1165.3,1206.1h1.6v1.6h-1.6zM1161.2,1231.9h1.6v1.6h-1.6zM1074.8,1244.2h1.6v1.6h-1.6zM1082.8,1256.3h1.6v1.6h-1.6zM1162.4,1298.7h1.6v1.6h-1.6zM1043.7,1291.1h1.6v1.6h-1.6zM1100.2,1263.1h1.6v1.6h-1.6zM1129.7,1261.2h1.6v1.6h-1.6zM1111.3,1221.1h1.6v1.6h-1.6zM1048.3,1252.5h1.6v1.6h-1.6zM1071.7,1268.8h1.6v1.6h-1.6zM1147.9,1220.9h1.6v1.6h-1.6zM1084.0,1267.4h1.6v1.6h-1.6zM1137.6,1268.9h1.6v1.6h-1.6zM1167.4,1213.5h1.6v1.6h-1.6zM1139.5,1260.8h1.6v1.6h-1.6zM1043.6,1264.2h1.6v1.6h-1.6zM1045.3,1244.2h1.6v1.6h-1.6zM1153.7,1219.4h1.6v1.6h-1.6zM1150.8,1217.3h1.6v1.6h-1.6zM1072.8,1251.9h1.6v1.6h-1.6zM1081.1,1258.0h1.6v1.6h-1.6zM1066.5,1253.4h1.6v1.6h-1.6zM1060.3,1251.7h1.6v1.6h-1.6zM1047.1,1287.1h1.6v1.6h-1.6zM1161.9,1202.0h1.6v1.6h-1.6zM1096.6,1273.3h1.6v1.6h-1.6zM1052.8,1291.9h1.6v1.6h-1.6zM1119.1,1257.1h1.6v1.6h-1.6zM1099.2,1221.9h1.6v1.6h-1.6zM1051.7,1262.0h1.6v1.6h-1.6zM1058.8,1285.3h1.6v1.6h-1.6zM1164.6,1241.5h1.6v1.6h-1.6zM1122.1,1279.0h1.6v1.6h-1.6zM1137.2,1224.6h1.6v1.6h-1.6zM1110.9,1259.2h1.6v1.6h-1.6zM1047.8,1238.8h1.6v1.6h-1.6zM1122.8,1259.1h1.6v1.6h-1.6zM1048.9,1255.4h1.6v1.6h-1.6zM1053.0,1265.9h1.6v1.6h-1.6zM1089.1,1280.1h1.6v1.6h-1.6zM1131.8,1283.1h1.6v1.6h-1.6zM943.7,1247.1h1.6v1.6h-1.6zM1048.7,1259.0h1.6v1.6h-1.6zM1163.6,1187.3h1.6v1.6h-1.6zM1042.5,1287.1h1.6v1.6h-1.6zM1132.7,1168.9h1.6v1.6h-1.6zM1149.0,1216.3h1.6v1.6h-1.6zM1118.5,1251.8h1.6v1.6h-1.6zM1081.8,1272.8h1.6v1.6h-1.6zM1070.6,1231.6h1.6v1.6h-1.6zM1094.5,1256.1h1.6v1.6h-1.6zM1031.4,1256.8h1.6v1.6h-1.6zM1127.9,1259.9h1.6v1.6h-1.6zM1075.0,1217.2h1.6v1.6h-1.6zM1061.7,1259.8h1.6v1.6h-1.6zM1149.6,1220.0h1.6v1.6h-1.6zM1131.6,1279.4h1.6v1.6h-1.6zM1156.6,1226.5h1.6v1.6h-1.6zM1045.1,1257.4h1.6v1.6h-1.6zM1094.0,1278.0h1.6v1.6h-1.6zM1052.1,1278.6h1.6v1.6h-1.6zM1064.4,1288.7h1.6v1.6h-1.6zM1131.4,1219.0h1.6v1.6h-1.6zM1099.3,1215.2h1.6v1.6h-1.6zM1162.7,1230.5h1.6v1.6h-1.6zM1129.9,1271.5h1.6v1.6h-1.6zM1152.4,1245.4h1.6v1.6h-1.6zM1024.9,1242.4h1.6v1.6h-1.6zM1119.2,1250.9h1.6v1.6h-1.6zM989.6,1207.3h1.6v1.6h-1.6zM1092.2,1248.3h1.6v1.6h-1.6zM1069.5,1291.5h1.6v1.6h-1.6zM1144.3,1264.9h1.6v1.6h-1.6zM1108.8,1252.0h1.6v1.6h-1.6zM1049.0,1296.5h1.6v1.6h-1.6zM1069.2,1279.2h1.6v1.6h-1.6zM1161.7,1232.5h1.6v1.6h-1.6zM1128.6,1177.9h1.6v1.6h-1.6zM1021.7,1213.4h1.6v1.6h-1.6zM1117.4,1260.4h1.6v1.6h-1.6zM1048.5,1252.8h1.6v1.6h-1.6zM1102.9,1276.2h1.6v1.6h-1.6zM1076.8,1248.4h1.6v1.6h-1.6zM1140.5,1216.9h1.6v1.6h-1.6zM1091.2,1270.2h1.6v1.6h-1.6zM1066.8,1233.7h1.6v1.6h-1.6zM1076.0,1252.4h1.6v1.6h-1.6zM1061.5,1274.6h1.6v1.6h-1.6zM1204.3,1321.7h1.6v1.6h-1.6zM1110.6,1206.5h1.6v1.6h-1.6zM1106.1,1271.5h1.6v1.6h-1.6zM1000.3,1204.4h1.6v1.6h-1.6zM945.3,1236.1h1.6v1.6h-1.6zM1131.0,1280.4h1.6v1.6h-1.6zM1052.0,1262.5h1.6v1.6h-1.6zM1140.0,1230.9h1.6v1.6h-1.6zM1144.4,1245.9h1.6v1.6h-1.6zM1065.7,1243.0h1.6v1.6h-1.6zM1182.8,1244.8h1.6v1.6h-1.6zM1121.7,1258.0h1.6v1.6h-1.6zM1090.6,1261.9h1.6v1.6h-1.6zM1089.8,1246.2h1.6v1.6h-1.6zM1047.6,1245.5h1.6v1.6h-1.6zM1042.9,1270.2h1.6v1.6h-1.6zM1121.7,1246.9h1.6v1.6h-1.6zM1019.3,1201.2h1.6v1.6h-1.6zM1117.1,1250.7h1.6v1.6h-1.6zM1069.1,1265.5h1.6v1.6h-1.6zM1053.4,1263.0h1.6v1.6h-1.6zM1146.8,1255.9h1.6v1.6h-1.6zM1100.4,1260.5h1.6v1.6h-1.6zM1147.3,1262.3h1.6v1.6h-1.6zM1085.0,1243.4h1.6v1.6h-1.6zM1058.0,1248.4h1.6v1.6h-1.6zM1084.2,1270.3h1.6v1.6h-1.6zM1075.5,1204.1h1.6v1.6h-1.6zM1172.7,1190.6h1.6v1.6h-1.6zM1043.7,1238.9h1.6v1.6h-1.6zM1091.9,1247.5h1.6v1.6h-1.6zM1174.3,1306.6h1.6v1.6h-1.6zM1125.2,1254.0h1.6v1.6h-1.6zM1162.7,1235.5h1.6v1.6h-1.6zM1073.7,1251.6h1.6v1.6h-1.6zM1122.5,1212.8h1.6v1.6h-1.6zM1139.2,1208.7h1.6v1.6h-1.6zM1033.2,1274.3h1.6v1.6h-1.6zM1085.4,1257.1h1.6v1.6h-1.6zM1053.7,1275.8h1.6v1.6h-1.6zM1126.2,1269.8h1.6v1.6h-1.6zM1120.8,1249.4h1.6v1.6h-1.6zM1044.0,1253.4h1.6v1.6h-1.6zM1079.1,1269.1h1.6v1.6h-1.6zM1030.2,1180.7h1.6v1.6h-1.6zM1141.6,1202.6h1.6v1.6h-1.6zM1020.9,1230.2h1.6v1.6h-1.6zM1100.4,1274.2h1.6v1.6h-1.6zM1120.0,1249.4h1.6v1.6h-1.6zM1055.5,1261.0h1.6v1.6h-1.6zM938.3,1211.4h1.6v1.6h-1.6zM1034.5,1245.0h1.6v1.6h-1.6zM1127.8,1249.5h1.6v1.6h-1.6zM1101.5,1285.3h1.6v1.6h-1.6zM1124.8,1274.3h1.6v1.6h-1.6zM1115.9,1208.9h1.6v1.6h-1.6zM1119.7,1248.5h1.6v1.6h-1.6zM1071.1,1289.8h1.6v1.6h-1.6zM1073.3,1247.9h1.6v1.6h-1.6zM1095.7,1260.8h1.6v1.6h-1.6zM1059.9,1277.6h1.6v1.6h-1.6zM1156.0,1253.6h1.6v1.6h-1.6zM1055.3,1247.3h1.6v1.6h-1.6zM1077.4,1279.8h1.6v1.6h-1.6zM1055.9,1270.3h1.6v1.6h-1.6zM1068.8,1277.1h1.6v1.6h-1.6zM1086.9,1275.2h1.6v1.6h-1.6zM1061.3,1290.6h1.6v1.6h-1.6zM1115.4,1255.0h1.6v1.6h-1.6zM1024.7,1245.9h1.6v1.6h-1.6zM1096.2,1242.5h1.6v1.6h-1.6zM1138.0,1230.6h1.6v1.6h-1.6zM1163.7,1186.3h1.6v1.6h-1.6zM1177.5,1220.4h1.6v1.6h-1.6zM1066.2,1250.6h1.6v1.6h-1.6zM1109.4,1262.8h1.6v1.6h-1.6z" fill="#111"/>
<ellipse cx="1125.1" cy="1230.5" rx="67.1" ry="54.1" transform="rotate(-43 1125.1 1230.5)" fill="none" stroke="#111" stroke-width="2"/>
<text transform="translate(1229.6,1094.0) scale(0.93,1)" font-size="29.8" font-family="'DejaVu Sans Mono', monospace" text-anchor="end" fill="#111">5.81</text>
<rect x="918.6" y="1035.6" width="319.0" height="318.5" fill="none" stroke="#111" stroke-width="4.6"/>
<line x1="911.6" y1="1060.8" x2="918.6" y2="1060.8" stroke="#111" stroke-width="1.6"/>
<line x1="911.6" y1="1119.0" x2="918.6" y2="1119.0" stroke="#111" stroke-width="1.6"/>
<line x1="911.6" y1="1179.8" x2="918.6" y2="1179.8" stroke="#111" stroke-width="1.6"/>
<line x1="911.6" y1="1241.6" x2="918.6" y2="1241.6" stroke="#111" stroke-width="1.6"/>
<line x1="911.6" y1="1274.1" x2="918.6" y2="1274.1" stroke="#111" stroke-width="1.6"/>
<line x1="911.6" y1="1308.4" x2="918.6" y2="1308.4" stroke="#111" stroke-width="1.6"/>
<line x1="915.1" y1="1101.5" x2="918.6" y2="1101.5" stroke="#111" stroke-width="1.6"/>
<line x1="915.1" y1="1091.2" x2="918.6" y2="1091.2" stroke="#111" stroke-width="1.6"/>
<line x1="915.1" y1="1084.0" x2="918.6" y2="1084.0" stroke="#111" stroke-width="1.6"/>
<line x1="915.1" y1="1078.3" x2="918.6" y2="1078.3" stroke="#111" stroke-width="1.6"/>
<line x1="915.1" y1="1073.7" x2="918.6" y2="1073.7" stroke="#111" stroke-width="1.6"/>
<line x1="915.1" y1="1069.8" x2="918.6" y2="1069.8" stroke="#111" stroke-width="1.6"/>
<line x1="915.1" y1="1066.4" x2="918.6" y2="1066.4" stroke="#111" stroke-width="1.6"/>
<line x1="915.1" y1="1063.5" x2="918.6" y2="1063.5" stroke="#111" stroke-width="1.6"/>
<line x1="915.1" y1="1161.5" x2="918.6" y2="1161.5" stroke="#111" stroke-width="1.6"/>
<line x1="915.1" y1="1150.8" x2="918.6" y2="1150.8" stroke="#111" stroke-width="1.6"/>
<line x1="915.1" y1="1143.2" x2="918.6" y2="1143.2" stroke="#111" stroke-width="1.6"/>
<line x1="915.1" y1="1137.3" x2="918.6" y2="1137.3" stroke="#111" stroke-width="1.6"/>
<line x1="915.1" y1="1132.5" x2="918.6" y2="1132.5" stroke="#111" stroke-width="1.6"/>
<line x1="915.1" y1="1128.4" x2="918.6" y2="1128.4" stroke="#111" stroke-width="1.6"/>
<line x1="915.1" y1="1124.9" x2="918.6" y2="1124.9" stroke="#111" stroke-width="1.6"/>
<line x1="915.1" y1="1121.8" x2="918.6" y2="1121.8" stroke="#111" stroke-width="1.6"/>
<line x1="915.1" y1="1223.0" x2="918.6" y2="1223.0" stroke="#111" stroke-width="1.6"/>
<line x1="915.1" y1="1212.1" x2="918.6" y2="1212.1" stroke="#111" stroke-width="1.6"/>
<line x1="915.1" y1="1204.4" x2="918.6" y2="1204.4" stroke="#111" stroke-width="1.6"/>
<line x1="915.1" y1="1198.4" x2="918.6" y2="1198.4" stroke="#111" stroke-width="1.6"/>
<line x1="915.1" y1="1193.5" x2="918.6" y2="1193.5" stroke="#111" stroke-width="1.6"/>
<line x1="915.1" y1="1189.4" x2="918.6" y2="1189.4" stroke="#111" stroke-width="1.6"/>
<line x1="915.1" y1="1185.8" x2="918.6" y2="1185.8" stroke="#111" stroke-width="1.6"/>
<line x1="915.1" y1="1182.6" x2="918.6" y2="1182.6" stroke="#111" stroke-width="1.6"/>
<line x1="915.1" y1="1267.6" x2="918.6" y2="1267.6" stroke="#111" stroke-width="1.6"/>
<line x1="915.1" y1="1271.6" x2="918.6" y2="1271.6" stroke="#111" stroke-width="1.6"/>
<line x1="915.1" y1="1276.6" x2="918.6" y2="1276.6" stroke="#111" stroke-width="1.6"/>
<line x1="915.1" y1="1280.6" x2="918.6" y2="1280.6" stroke="#111" stroke-width="1.6"/>
<line x1="915.1" y1="1335.6" x2="918.6" y2="1335.6" stroke="#111" stroke-width="1.6"/>
<line x1="915.1" y1="1347.6" x2="918.6" y2="1347.6" stroke="#111" stroke-width="1.6"/>
<line x1="977.6" y1="1354.6" x2="977.6" y2="1361.6" stroke="#111" stroke-width="1.6"/>
<line x1="1066.6" y1="1354.6" x2="1066.6" y2="1361.6" stroke="#111" stroke-width="1.6"/>
<line x1="1137.6" y1="1354.6" x2="1137.6" y2="1361.6" stroke="#111" stroke-width="1.6"/>
<line x1="1207.6" y1="1354.6" x2="1207.6" y2="1361.6" stroke="#111" stroke-width="1.6"/>
<line x1="1088.0" y1="1354.6" x2="1088.0" y2="1358.1" stroke="#111" stroke-width="1.6"/>
<line x1="1100.5" y1="1354.6" x2="1100.5" y2="1358.1" stroke="#111" stroke-width="1.6"/>
<line x1="1109.3" y1="1354.6" x2="1109.3" y2="1358.1" stroke="#111" stroke-width="1.6"/>
<line x1="1116.2" y1="1354.6" x2="1116.2" y2="1358.1" stroke="#111" stroke-width="1.6"/>
<line x1="1121.8" y1="1354.6" x2="1121.8" y2="1358.1" stroke="#111" stroke-width="1.6"/>
<line x1="1126.6" y1="1354.6" x2="1126.6" y2="1358.1" stroke="#111" stroke-width="1.6"/>
<line x1="1130.7" y1="1354.6" x2="1130.7" y2="1358.1" stroke="#111" stroke-width="1.6"/>
<line x1="1134.4" y1="1354.6" x2="1134.4" y2="1358.1" stroke="#111" stroke-width="1.6"/>
<line x1="1158.7" y1="1354.6" x2="1158.7" y2="1358.1" stroke="#111" stroke-width="1.6"/>
<line x1="1171.0" y1="1354.6" x2="1171.0" y2="1358.1" stroke="#111" stroke-width="1.6"/>
<line x1="1179.7" y1="1354.6" x2="1179.7" y2="1358.1" stroke="#111" stroke-width="1.6"/>
<line x1="1186.5" y1="1354.6" x2="1186.5" y2="1358.1" stroke="#111" stroke-width="1.6"/>
<line x1="1192.1" y1="1354.6" x2="1192.1" y2="1358.1" stroke="#111" stroke-width="1.6"/>
<line x1="1196.8" y1="1354.6" x2="1196.8" y2="1358.1" stroke="#111" stroke-width="1.6"/>
<line x1="1200.8" y1="1354.6" x2="1200.8" y2="1358.1" stroke="#111" stroke-width="1.6"/>
<line x1="1204.4" y1="1354.6" x2="1204.4" y2="1358.1" stroke="#111" stroke-width="1.6"/>
<line x1="1039.8" y1="1354.6" x2="1039.8" y2="1358.1" stroke="#111" stroke-width="1.6"/>
<line x1="1046.9" y1="1354.6" x2="1046.9" y2="1358.1" stroke="#111" stroke-width="1.6"/>
<line x1="1052.8" y1="1354.6" x2="1052.8" y2="1358.1" stroke="#111" stroke-width="1.6"/>
<line x1="1058.0" y1="1354.6" x2="1058.0" y2="1358.1" stroke="#111" stroke-width="1.6"/>
<line x1="1062.5" y1="1354.6" x2="1062.5" y2="1358.1" stroke="#111" stroke-width="1.6"/>
<line x1="930.6" y1="1354.6" x2="930.6" y2="1358.1" stroke="#111" stroke-width="1.6"/>
<line x1="940.6" y1="1354.6" x2="940.6" y2="1358.1" stroke="#111" stroke-width="1.6"/>
<line x1="950.6" y1="1354.6" x2="950.6" y2="1358.1" stroke="#111" stroke-width="1.6"/>
<line x1="958.6" y1="1354.6" x2="958.6" y2="1358.1" stroke="#111" stroke-width="1.6"/>
<line x1="964.6" y1="1354.6" x2="964.6" y2="1358.1" stroke="#111" stroke-width="1.6"/>
<line x1="968.6" y1="1354.6" x2="968.6" y2="1358.1" stroke="#111" stroke-width="1.6"/>
<line x1="972.6" y1="1354.6" x2="972.6" y2="1358.1" stroke="#111" stroke-width="1.6"/>
<line x1="975.6" y1="1354.6" x2="975.6" y2="1358.1" stroke="#111" stroke-width="1.6"/>
<line x1="979.6" y1="1354.6" x2="979.6" y2="1358.1" stroke="#111" stroke-width="1.6"/>
<line x1="982.6" y1="1354.6" x2="982.6" y2="1358.1" stroke="#111" stroke-width="1.6"/>
<line x1="986.6" y1="1354.6" x2="986.6" y2="1358.1" stroke="#111" stroke-width="1.6"/>
<line x1="990.6" y1="1354.6" x2="990.6" y2="1358.1" stroke="#111" stroke-width="1.6"/>
<line x1="996.6" y1="1354.6" x2="996.6" y2="1358.1" stroke="#111" stroke-width="1.6"/>
<line x1="1004.6" y1="1354.6" x2="1004.6" y2="1358.1" stroke="#111" stroke-width="1.6"/>
<line x1="1014.6" y1="1354.6" x2="1014.6" y2="1358.1" stroke="#111" stroke-width="1.6"/>
<line x1="1028.6" y1="1354.6" x2="1028.6" y2="1358.1" stroke="#111" stroke-width="1.6"/>
<text transform="translate(904.1,1072.9) scale(0.97,1)" font-size="17.6" font-family="'DejaVu Sans', sans-serif" text-anchor="end" fill="#111">10<tspan dx="2.2" dy="-14">5</tspan></text>
<text transform="translate(904.1,1131.1) scale(0.97,1)" font-size="17.6" font-family="'DejaVu Sans', sans-serif" text-anchor="end" fill="#111">10<tspan dx="2.2" dy="-14">4</tspan></text>
<text transform="translate(904.1,1191.9) scale(0.97,1)" font-size="17.6" font-family="'DejaVu Sans', sans-serif" text-anchor="end" fill="#111">10<tspan dx="2.2" dy="-14">3</tspan></text>
<text transform="translate(904.1,1253.7) scale(0.97,1)" font-size="17.6" font-family="'DejaVu Sans', sans-serif" text-anchor="end" fill="#111">10<tspan dx="2.2" dy="-14">2</tspan></text>
<text transform="translate(893.6,1282.6) scale(0.97,1)" font-size="17.6" font-family="'DejaVu Sans', sans-serif" text-anchor="end" fill="#111">0</text>
<text transform="translate(904.1,1320.4) scale(0.97,1)" font-size="17.6" font-family="'DejaVu Sans', sans-serif" text-anchor="end" fill="#111">-10<tspan dx="2.2" dy="-14">2</tspan></text>
<text transform="translate(977.6,1390.4) scale(0.97,1)" font-size="17.6" font-family="'DejaVu Sans', sans-serif" text-anchor="middle" fill="#111">0</text>
<text transform="translate(1094.4,1390.4) scale(0.97,1)" font-size="17.6" font-family="'DejaVu Sans', sans-serif" text-anchor="end" fill="#111">10<tspan dx="2.2" dy="-11.4">3</tspan></text>
<text transform="translate(1165.4,1390.4) scale(0.97,1)" font-size="17.6" font-family="'DejaVu Sans', sans-serif" text-anchor="end" fill="#111">10<tspan dx="2.2" dy="-11.4">4</tspan></text>
<text transform="translate(1235.4,1390.4) scale(0.97,1)" font-size="17.6" font-family="'DejaVu Sans', sans-serif" text-anchor="end" fill="#111">10<tspan dx="2.2" dy="-11.4">5</tspan></text>
<line x1="1355.6" y1="648.0" x2="1355.6" y2="966.0" stroke="#d2d2d2" stroke-width="1.3"/>
<line x1="1374.2" y1="648.0" x2="1374.2" y2="966.0" stroke="#d2d2d2" stroke-width="1.3"/>
<line x1="1438.0" y1="648.0" x2="1438.0" y2="966.0" stroke="#d2d2d2" stroke-width="1.3"/>
<line x1="1534.3" y1="648.0" x2="1534.3" y2="966.0" stroke="#d2d2d2" stroke-width="1.3"/>
<line x1="1364.3" y1="648.0" x2="1364.3" y2="966.0" stroke="#d6d6d6" stroke-width="2.4"/>
<line x1="1293.0" y1="670.6" x2="1611.0" y2="670.6" stroke="#d2d2d2" stroke-width="1.3"/>
<line x1="1293.0" y1="731.0" x2="1611.0" y2="731.0" stroke="#d2d2d2" stroke-width="1.3"/>
<line x1="1293.0" y1="794.8" x2="1611.0" y2="794.8" stroke="#d2d2d2" stroke-width="1.3"/>
<line x1="1293.0" y1="853.0" x2="1611.0" y2="853.0" stroke="#d2d2d2" stroke-width="1.3"/>
<line x1="1293.0" y1="883.0" x2="1611.0" y2="883.0" stroke="#d2d2d2" stroke-width="1.3"/>
<line x1="1293.0" y1="943.5" x2="1611.0" y2="943.5" stroke="#d2d2d2" stroke-width="1.3"/>
<line x1="1293.0" y1="868.2" x2="1611.0" y2="868.2" stroke="#d8d8d8" stroke-width="3.2"/>
<path d="M1394.5,942.5 1382.5,942.7 1365.0,942.4 1359.5,941.9 1352.1,940.5 1349.5,940.3 1347.0,940.5 1342.5,941.5 1340.0,941.3 1338.5,940.7 1336.5,939.3 1331.0,934.0 1325.7,929.5 1323.5,927.0 1322.5,925.0 1322.2,923.0 1322.6,916.5 1321.0,909.0 1320.7,905.5 1320.7,902.0 1321.4,898.0 1323.7,891.5 1337.7,863.0 1338.7,860.5 1339.1,858.5 1339.1,854.0 1337.2,842.5 1336.3,834.0 1336.1,824.0 1336.4,814.5 1337.3,807.0 1338.9,800.0 1341.2,794.0 1344.2,788.5 1347.2,784.5 1350.5,781.0 1354.5,777.6 1358.5,774.9 1363.0,772.4 1368.0,770.4 1373.0,768.8 1378.5,767.7 1387.5,766.9 1392.0,766.9 1397.0,767.4 1402.0,768.3 1407.0,769.6 1419.0,774.2 1422.0,775.1 1426.0,775.4 1430.0,774.6 1434.5,772.4 1439.8,769.0 1462.5,751.2 1475.0,742.3 1487.0,734.8 1498.0,728.9 1505.0,725.7 1511.0,723.4 1517.5,721.3 1522.5,720.2 1527.5,719.6 1532.0,719.6 1535.5,720.3 1538.5,721.6 1541.1,724.0 1542.0,725.5 1542.7,727.5 1543.0,731.5 1542.2,736.5 1540.3,742.0 1537.2,748.0 1533.1,754.5 1527.9,761.5 1518.3,772.5 1506.5,783.9 1499.0,790.4 1491.0,796.8 1467.8,814.0 1461.4,819.0 1455.1,825.0 1453.2,827.5 1451.3,830.5 1449.5,835.5 1447.2,848.5 1445.0,856.0 1441.7,863.0 1435.0,873.7 1433.3,878.0 1432.9,881.0 1433.1,884.0 1435.7,900.0 1436.1,904.0 1436.1,907.0 1435.4,911.0 1434.3,914.5 1429.1,925.0 1428.9,927.0 1429.3,931.5 1428.6,933.5 1427.2,935.0 1424.9,936.5 1422.0,937.8 1417.5,939.2 1411.0,940.7 1405.5,941.6 1394.5,942.5 M1398.5,940.5 1385.0,940.8 1364.5,940.5 1358.5,939.9 1349.0,938.2 1342.5,938.4 1340.5,938.2 1337.5,936.8 1333.1,933.0 1329.1,928.5 1328.2,927.0 1327.4,925.0 1327.1,923.0 1327.0,917.5 1325.6,908.0 1325.6,904.5 1325.9,901.0 1326.7,896.5 1328.3,891.5 1331.2,884.0 1333.8,878.5 1336.5,874.2 1338.0,872.6 1339.5,871.4 1341.0,870.7 1342.5,870.4 1344.5,870.6 1349.5,871.7 1351.0,871.6 1352.9,871.0 1355.6,869.5 1358.8,867.0 1360.5,865.0 1361.5,862.5 1361.6,860.5 1361.0,858.0 1356.7,847.5 1354.4,840.0 1352.7,831.0 1351.5,820.5 1351.3,812.5 1352.1,805.5 1353.7,799.5 1356.5,793.8 1358.5,791.0 1361.2,788.0 1364.0,785.5 1367.0,783.5 1370.5,781.6 1374.5,779.9 1378.5,778.8 1382.5,778.0 1390.0,777.6 1397.5,778.5 1403.5,780.1 1413.5,784.2 1417.0,785.1 1420.5,785.2 1424.5,784.3 1429.0,782.0 1434.5,778.2 1457.0,759.3 1469.5,749.6 1480.5,742.2 1491.5,735.9 1498.0,732.6 1504.5,729.8 1510.5,727.7 1516.0,726.3 1521.0,725.5 1525.5,725.4 1529.0,725.9 1532.0,727.2 1533.6,728.5 1534.7,730.0 1535.4,731.5 1535.9,733.5 1535.8,738.0 1534.4,743.0 1531.8,749.0 1528.2,755.0 1523.1,762.0 1517.2,769.0 1506.5,779.9 1494.0,790.7 1478.5,802.3 1452.9,819.0 1445.8,824.0 1439.4,829.5 1436.7,832.5 1434.6,835.5 1432.2,840.0 1426.5,852.8 1423.6,857.5 1417.7,865.5 1416.5,868.0 1416.0,870.0 1416.3,872.5 1417.2,875.0 1425.3,889.0 1431.1,903.5 1431.8,906.0 1432.1,909.0 1431.8,912.0 1431.2,914.5 1429.8,918.0 1425.5,925.7 1423.7,932.0 1422.6,933.5 1421.5,934.5 1418.0,936.5 1412.5,938.3 1405.5,939.8 1398.5,940.5 M1399.0,939.5 1385.0,939.8 1363.0,939.5 1357.5,938.8 1348.5,937.0 1341.0,936.7 1339.5,936.3 1337.5,935.2 1334.3,932.5 1331.0,928.5 1329.4,925.0 1327.6,909.0 1327.6,904.0 1328.1,899.5 1329.4,893.5 1331.7,886.5 1334.2,881.0 1337.0,876.8 1339.5,874.6 1342.0,873.8 1344.5,874.1 1349.5,875.7 1351.0,875.7 1353.0,875.4 1364.5,870.7 1380.0,865.0 1382.7,863.5 1383.5,862.5 1383.5,861.5 1382.6,860.0 1375.0,852.3 1370.8,846.5 1367.5,840.0 1364.6,831.5 1362.1,820.5 1361.5,816.0 1361.4,811.5 1361.7,807.5 1362.4,804.0 1363.6,800.5 1365.1,797.5 1366.9,795.0 1368.7,793.0 1373.2,789.5 1378.5,787.0 1381.5,786.1 1385.0,785.5 1391.0,785.4 1396.5,786.2 1401.5,787.8 1409.5,791.2 1413.0,792.2 1416.5,792.2 1420.5,791.2 1425.5,788.5 1431.0,784.4 1453.0,764.8 1465.5,754.6 1476.5,746.8 1487.0,740.3 1493.5,736.9 1500.0,733.8 1506.5,731.4 1512.0,729.7 1517.5,728.7 1522.0,728.6 1525.5,729.1 1528.5,730.4 1530.0,731.7 1531.0,733.1 1531.8,735.0 1532.1,737.0 1532.0,739.5 1531.6,742.0 1529.6,747.5 1526.2,754.0 1521.8,760.5 1515.7,768.0 1508.6,775.5 1502.0,781.8 1495.0,787.8 1487.5,793.7 1480.0,799.1 1467.5,807.3 1440.4,823.0 1431.4,829.0 1427.2,832.5 1423.8,836.0 1414.5,848.0 1410.5,852.3 1406.0,856.0 1397.0,861.5 1395.3,863.0 1395.1,863.5 1395.1,864.5 1396.2,866.0 1411.0,877.7 1415.5,882.0 1419.0,886.1 1422.2,891.0 1425.8,899.0 1429.0,904.6 1429.9,907.0 1430.4,909.5 1430.1,913.0 1428.8,917.0 1423.5,926.5 1421.3,931.5 1419.7,933.5 1416.5,935.6 1411.5,937.5 1405.5,938.8 1399.0,939.5 M1395.5,845.5 1392.0,845.5 1389.0,844.8 1386.0,843.4 1383.0,841.1 1380.5,838.4 1378.0,834.8 1375.5,830.1 1373.5,825.6 1371.9,821.0 1370.8,816.5 1370.3,812.5 1370.3,809.0 1370.9,805.5 1372.0,802.5 1373.9,799.5 1376.2,797.0 1379.1,795.0 1382.5,793.5 1386.0,792.7 1389.5,792.5 1393.0,792.8 1396.5,793.7 1405.5,797.6 1408.5,798.6 1412.5,798.7 1416.5,797.6 1421.5,794.9 1427.0,790.6 1450.5,768.6 1462.5,758.3 1474.0,749.8 1486.0,742.3 1493.5,738.3 1500.0,735.3 1506.5,732.9 1512.5,731.4 1517.5,730.8 1522.0,731.0 1525.1,732.0 1527.7,734.0 1528.6,735.5 1529.2,737.5 1529.4,740.0 1529.1,742.5 1527.2,748.5 1523.8,755.0 1518.6,762.5 1512.3,770.0 1504.5,777.9 1496.0,785.6 1489.0,791.2 1482.0,796.4 1467.5,805.8 1453.5,813.6 1431.3,824.5 1423.8,828.5 1418.3,832.0 1407.5,840.2 1403.0,843.0 1399.0,844.8 1395.5,845.5 M1396.0,939.0 1382.5,939.2 1360.0,938.6 1349.0,936.4 1340.5,935.6 1337.5,934.1 1334.5,931.5 1331.8,928.0 1330.9,926.0 1330.3,924.0 1328.8,911.0 1328.8,904.0 1329.8,896.5 1331.8,889.0 1334.9,882.0 1336.5,879.4 1338.0,877.7 1340.0,876.3 1342.5,875.8 1344.5,876.1 1349.0,877.8 1352.0,877.9 1364.0,873.8 1371.5,871.8 1379.5,870.8 1386.5,870.9 1390.0,871.4 1394.0,872.3 1398.0,873.7 1401.5,875.3 1405.0,877.2 1409.0,879.9 1415.0,885.2 1417.4,888.0 1419.5,891.0 1423.9,900.0 1428.3,906.5 1429.0,908.5 1429.3,911.0 1429.0,913.5 1428.4,916.0 1426.8,919.5 1422.5,926.4 1420.0,931.0 1418.9,932.5 1417.2,934.0 1413.0,936.1 1408.0,937.6 1402.5,938.6 1396.0,939.0 M1406.5,827.0 1401.5,827.3 1397.0,826.6 1393.0,824.7 1389.0,821.5 1385.8,817.5 1384.1,813.5 1383.8,811.5 1384.0,809.5 1384.5,808.0 1385.5,806.5 1387.8,805.0 1390.5,804.6 1394.0,805.2 1400.0,808.0 1403.0,808.8 1406.5,808.8 1410.5,807.4 1415.5,804.2 1421.0,799.5 1444.2,776.0 1456.5,764.6 1468.0,755.3 1480.5,746.7 1488.0,742.3 1496.0,738.3 1502.5,735.7 1509.0,733.7 1514.5,732.7 1519.5,732.8 1523.0,733.8 1524.5,734.8 1525.6,736.0 1526.7,738.0 1527.1,740.0 1527.0,742.5 1526.5,745.5 1525.5,748.5 1523.9,752.0 1519.7,759.0 1513.5,767.0 1506.1,775.0 1497.5,783.0 1488.0,790.8 1478.5,797.6 1468.0,804.2 1458.0,809.8 1447.5,814.8 1437.5,818.9 1427.0,822.4 1416.0,825.3 1406.5,827.0 M1394.0,938.5 1382.0,938.6 1363.5,938.3 1359.0,938.0 1348.5,935.8 1340.5,934.8 1337.5,933.2 1335.0,931.0 1332.5,927.5 1331.2,924.0 1329.7,912.0 1329.6,904.0 1330.6,896.5 1332.3,890.0 1335.0,883.5 1336.5,881.1 1338.0,879.3 1340.0,877.9 1342.5,877.4 1344.5,877.8 1349.0,879.5 1351.5,879.7 1354.0,879.2 1363.5,875.8 1370.5,874.2 1378.5,873.3 1386.0,873.6 1390.0,874.2 1394.0,875.1 1401.0,877.8 1404.5,879.6 1408.0,881.8 1411.0,884.2 1414.0,887.0 1416.1,889.5 1418.2,892.5 1422.5,901.0 1426.3,905.5 1427.5,907.5 1428.2,909.5 1428.4,912.0 1428.0,914.5 1427.2,917.0 1425.2,921.0 1419.1,930.5 1417.5,932.5 1415.6,934.0 1411.5,936.0 1406.5,937.4 1401.0,938.1 1394.0,938.5 M1436.5,815.0 1432.5,815.5 1429.5,815.4 1427.0,814.9 1425.0,813.8 1423.9,812.5 1423.2,810.5 1423.4,808.0 1424.3,805.0 1425.7,802.0 1428.2,798.0 1435.8,788.0 1445.7,777.0 1456.1,767.0 1466.0,758.7 1476.5,751.1 1486.0,745.3 1496.0,740.3 1505.0,737.1 1509.0,736.2 1512.5,735.7 1515.5,735.7 1518.0,736.2 1520.0,737.0 1521.8,738.5 1522.7,740.0 1523.2,741.5 1523.4,743.5 1523.3,745.5 1522.0,750.0 1519.4,755.5 1515.9,761.0 1510.8,767.5 1504.8,774.0 1498.0,780.5 1491.0,786.5 1483.5,792.2 1475.5,797.7 1467.0,802.8 1458.5,807.2 1450.5,810.8 1443.0,813.4 1436.5,815.0 M1396.5,937.5 1383.0,937.8 1359.5,937.2 1355.5,936.6 1348.0,934.8 1341.5,933.8 1339.0,932.8 1336.5,930.9 1333.9,927.5 1332.5,924.0 1331.0,913.5 1330.7,906.5 1331.4,899.0 1332.9,892.0 1335.2,886.0 1336.5,883.7 1338.0,881.8 1340.0,880.3 1342.5,879.7 1344.5,880.2 1349.0,882.1 1351.5,882.4 1354.0,881.8 1362.5,878.8 1369.0,877.3 1376.5,876.4 1383.5,876.5 1391.0,877.6 1398.0,879.8 1401.5,881.4 1405.0,883.4 1410.5,887.6 1413.0,890.2 1415.0,893.0 1419.7,902.0 1424.5,906.3 1426.0,908.3 1426.7,910.0 1427.0,911.5 1427.0,913.5 1426.6,915.5 1425.2,919.0 1423.1,922.5 1417.5,930.3 1414.7,933.0 1411.5,934.8 1407.0,936.3 1402.0,937.1 1396.5,937.5 M1445.0,808.6 1442.0,808.9 1439.0,808.9 1437.0,808.5 1435.0,807.5 1433.7,806.0 1433.1,804.5 1433.1,802.0 1433.6,799.5 1434.8,796.5 1436.6,793.0 1441.8,785.5 1448.6,777.5 1457.1,769.0 1466.0,761.3 1475.0,754.7 1484.5,748.7 1493.0,744.4 1501.0,741.3 1504.5,740.4 1508.0,739.9 1510.5,739.8 1513.0,740.1 1515.0,740.8 1516.7,742.0 1517.5,743.0 1518.1,744.5 1518.3,748.0 1517.4,752.0 1515.3,756.5 1512.3,761.5 1508.1,767.0 1503.2,772.5 1497.5,778.1 1491.0,783.8 1484.5,788.9 1477.5,793.8 1470.5,798.1 1463.5,801.9 1457.0,804.9 1450.5,807.2 1445.0,808.6 M1390.5,936.5 1381.5,936.7 1362.5,936.4 1358.5,936.1 1354.5,935.4 1342.0,932.3 1339.5,931.3 1337.2,929.5 1335.1,926.5 1333.7,922.5 1332.4,914.5 1332.1,907.5 1332.7,900.0 1333.9,894.0 1336.0,888.2 1338.5,884.5 1340.5,883.1 1342.5,882.8 1344.5,883.3 1349.0,885.5 1351.5,885.8 1354.0,885.2 1362.0,882.1 1368.0,880.6 1375.5,879.7 1383.0,879.8 1390.0,880.9 1397.0,883.2 1403.0,886.3 1406.0,888.4 1408.3,890.5 1410.5,893.0 1412.2,895.5 1415.0,902.0 1416.0,903.7 1417.5,905.0 1422.5,907.7 1424.5,910.0 1425.1,911.5 1425.3,913.5 1425.1,915.5 1424.5,917.5 1422.3,921.5 1418.0,927.2 1414.5,931.0 1411.6,933.0 1408.0,934.6 1403.5,935.6 1390.5,936.5 M1449.0,804.0 1446.5,804.2 1444.0,804.0 1442.3,803.5 1440.8,802.5 1439.8,801.0 1439.4,799.5 1439.5,797.5 1440.0,795.0 1442.6,789.5 1447.0,783.0 1452.9,776.0 1460.0,769.0 1467.5,762.5 1475.5,756.6 1483.5,751.6 1491.5,747.5 1498.5,744.9 1504.5,743.6 1509.0,743.8 1511.0,744.5 1512.4,745.5 1513.6,747.5 1513.8,750.5 1513.1,754.0 1511.1,758.5 1508.3,763.0 1504.4,768.0 1499.9,773.0 1495.0,777.8 1489.5,782.6 1483.5,787.3 1477.0,791.8 1471.0,795.5 1465.0,798.6 1459.0,801.3 1453.5,803.1 1449.0,804.0 M1388.5,935.5 1362.5,935.4 1358.0,935.1 1353.5,934.2 1342.5,931.1 1340.0,930.0 1338.1,928.5 1336.0,925.5 1334.7,921.5 1333.5,915.0 1333.3,908.5 1333.8,901.0 1334.9,895.0 1336.8,890.0 1339.0,886.8 1341.0,885.6 1343.0,885.5 1344.5,886.0 1349.0,888.5 1351.5,888.9 1353.5,888.3 1361.5,884.9 1367.5,883.3 1374.5,882.3 1382.0,882.3 1388.5,883.3 1395.0,885.3 1401.0,888.4 1405.5,892.0 1407.7,894.5 1409.3,897.0 1410.4,899.5 1412.0,904.5 1413.0,906.0 1414.6,907.0 1420.5,908.8 1422.0,909.9 1423.0,911.0 1423.6,912.5 1423.8,914.0 1423.2,917.5 1421.1,921.5 1417.5,926.0 1413.5,930.0 1410.0,932.3 1407.0,933.5 1403.0,934.5 1388.5,935.5 M1453.5,800.1 1449.0,800.2 1447.5,799.8 1446.0,799.0 1445.1,798.0 1444.5,796.5 1444.5,794.5 1444.8,792.5 1447.0,787.5 1450.6,782.0 1455.5,776.0 1461.5,770.0 1468.4,764.0 1475.5,758.7 1482.5,754.3 1489.5,750.6 1496.0,748.1 1501.5,747.0 1505.5,747.1 1507.0,747.6 1508.5,748.7 1509.6,751.0 1509.7,753.5 1508.9,756.5 1507.4,760.0 1504.9,764.0 1501.9,768.0 1497.9,772.5 1493.4,777.0 1483.5,785.2 1478.0,789.1 1472.5,792.5 1467.0,795.4 1462.0,797.6 1457.5,799.2 1453.5,800.1 M1388.5,934.5 1381.0,934.7 1370.0,934.4 1361.5,934.6 1357.5,934.3 1352.5,933.2 1343.5,930.4 1341.0,929.2 1339.3,928.0 1337.3,925.5 1335.9,922.0 1334.7,916.5 1334.3,911.0 1334.6,903.0 1335.4,897.5 1337.0,892.6 1339.0,889.3 1341.0,887.9 1343.0,887.9 1345.0,888.8 1349.0,891.4 1350.0,891.7 1351.5,891.7 1353.5,891.1 1361.0,887.5 1366.0,885.8 1373.0,884.5 1380.0,884.4 1386.5,885.2 1392.5,886.8 1398.0,889.4 1402.5,892.7 1405.0,895.5 1407.1,899.0 1408.1,902.0 1409.0,907.0 1409.5,908.0 1411.0,909.0 1417.5,909.6 1420.5,910.8 1421.7,912.0 1422.3,913.5 1422.5,915.5 1422.0,917.5 1420.3,921.0 1417.5,924.5 1413.0,928.9 1409.5,931.2 1406.5,932.4 1403.0,933.2 1388.5,934.5 M1457.5,796.6 1453.5,796.9 1452.0,796.6 1450.5,796.0 1449.5,795.1 1448.9,794.0 1448.7,792.5 1448.9,790.5 1450.4,786.5 1453.5,781.5 1457.5,776.5 1462.7,771.0 1468.5,765.9 1475.0,760.9 1481.5,756.7 1487.5,753.6 1493.5,751.2 1498.5,750.1 1500.5,750.0 1502.5,750.3 1504.8,751.5 1505.7,753.0 1506.0,755.5 1505.4,758.0 1504.2,761.0 1502.1,764.5 1499.5,768.0 1492.5,775.6 1484.0,782.9 1474.5,789.4 1465.5,794.0 1461.5,795.5 1457.5,796.6 M1389.0,933.5 1381.5,933.9 1370.0,933.6 1361.0,933.8 1357.5,933.6 1353.0,932.7 1346.0,930.3 1342.5,928.9 1340.3,927.5 1338.1,925.0 1336.8,922.0 1335.6,917.5 1335.1,912.5 1335.3,905.5 1336.0,899.5 1337.2,895.0 1339.0,891.7 1341.0,890.1 1343.0,890.0 1345.0,891.0 1349.0,894.1 1350.5,894.6 1351.5,894.5 1353.5,893.8 1360.0,890.0 1365.0,888.0 1371.5,886.5 1378.5,886.1 1384.5,886.7 1390.0,888.0 1395.0,890.1 1399.5,893.0 1402.8,896.5 1405.0,900.5 1405.7,904.0 1405.6,910.5 1406.0,911.8 1407.5,912.1 1414.5,910.9 1418.0,911.2 1419.7,912.0 1420.9,913.5 1421.3,915.0 1421.1,917.0 1419.6,920.5 1417.0,923.9 1413.0,927.6 1409.0,930.2 1406.5,931.2 1403.5,931.9 1389.0,933.5 M1398.9,921.0 1399.5,920.0 1399.0,919.4 1397.8,920.0 1397.3,921.0 1398.0,921.4 1398.9,921.0 M1459.5,794.0 1456.0,794.2 1453.5,793.3 1452.7,792.5 1452.2,791.5 1452.0,790.0 1452.2,788.5 1453.5,785.0 1456.2,780.5 1460.2,775.5 1465.0,770.6 1470.3,766.0 1476.0,761.8 1481.5,758.3 1487.0,755.4 1492.0,753.5 1496.5,752.5 1500.0,752.8 1502.0,753.9 1502.8,755.5 1502.9,757.5 1502.3,760.0 1501.2,762.5 1499.4,765.5 1496.8,769.0 1490.5,775.8 1483.0,782.1 1474.5,787.8 1466.5,791.9 1463.0,793.2 1459.5,794.0 M1385.5,933.0 1380.0,933.2 1369.0,932.9 1361.0,933.3 1357.0,933.0 1353.0,932.2 1347.5,930.3 1343.0,928.4 1340.5,926.7 1338.7,924.5 1337.3,921.5 1336.3,917.5 1335.8,913.0 1336.0,906.0 1336.7,900.0 1337.8,896.0 1339.5,892.9 1341.0,891.8 1342.0,891.6 1343.0,891.7 1345.0,892.8 1349.0,896.5 1350.5,897.1 1351.5,897.1 1353.0,896.4 1359.4,892.0 1364.0,889.8 1370.0,888.2 1376.5,887.5 1381.5,887.7 1386.0,888.4 1390.5,889.7 1394.5,891.6 1398.5,894.4 1401.3,897.5 1403.1,901.0 1403.7,904.5 1403.2,908.5 1402.5,910.5 1401.4,912.5 1399.1,915.0 1393.9,919.0 1392.4,921.0 1392.4,922.0 1393.0,923.1 1394.5,924.3 1396.0,925.0 1398.0,925.1 1400.0,924.2 1401.5,922.4 1405.1,916.5 1407.0,914.8 1409.5,913.3 1413.0,912.2 1416.0,911.9 1418.5,912.6 1419.9,914.0 1420.3,915.5 1420.3,917.0 1419.6,919.0 1418.5,921.0 1416.9,923.0 1414.5,925.4 1410.0,928.6 1407.5,929.8 1404.5,930.6 1397.5,931.3 1385.5,933.0 M1461.0,791.5 1458.0,791.4 1456.2,790.5 1455.5,789.5 1455.3,788.5 1455.5,786.0 1457.0,782.5 1459.3,779.0 1462.6,775.0 1467.0,770.5 1471.7,766.5 1476.5,762.9 1481.5,759.8 1486.0,757.5 1490.0,755.9 1494.0,755.0 1497.0,755.1 1499.0,756.1 1499.8,757.5 1499.9,759.5 1499.4,761.5 1498.3,764.0 1494.6,769.5 1488.5,775.9 1481.5,781.7 1474.0,786.6 1467.0,789.9 1464.0,790.9 1461.0,791.5 M1381.5,932.5 1369.5,932.2 1360.0,932.7 1356.5,932.5 1352.5,931.5 1347.5,929.7 1343.5,927.9 1341.0,926.2 1339.2,924.0 1337.8,921.0 1336.8,917.0 1336.4,913.0 1336.6,906.0 1337.3,900.5 1338.5,896.6 1340.0,894.2 1341.5,893.3 1342.5,893.2 1343.5,893.6 1345.5,895.2 1349.5,899.9 1351.0,900.5 1352.5,899.8 1358.5,894.4 1363.5,891.5 1367.0,890.2 1370.5,889.4 1374.0,888.9 1378.0,888.8 1383.5,889.3 1389.0,890.7 1393.5,892.7 1397.3,895.5 1399.9,898.5 1401.3,901.5 1401.8,904.5 1401.3,908.0 1400.2,910.5 1398.4,913.0 1396.0,915.1 1390.1,919.5 1389.3,920.5 1389.0,921.5 1389.3,922.5 1390.0,923.5 1395.8,928.0 1396.2,928.5 1396.1,929.0 1393.6,930.5 1390.3,931.5 1386.0,932.2 1381.5,932.5 M1406.0,929.1 1404.0,929.3 1402.0,929.1 1400.3,928.5 1400.1,928.0 1404.8,919.5 1406.1,917.5 1409.0,914.9 1412.5,913.3 1416.0,912.9 1417.5,913.3 1418.5,914.0 1419.3,915.5 1419.3,917.5 1418.6,919.5 1416.9,922.0 1414.5,924.5 1411.5,926.8 1408.5,928.3 1406.0,929.1 M1463.5,789.0 1460.9,789.0 1459.0,788.0 1458.3,786.5 1458.5,784.5 1459.7,781.5 1461.6,778.5 1464.4,775.0 1468.3,771.0 1472.3,767.5 1476.5,764.4 1481.0,761.6 1485.0,759.5 1489.0,758.0 1492.0,757.4 1494.6,757.5 1496.3,758.5 1497.0,760.0 1497.0,761.5 1496.4,763.5 1495.4,765.5 1491.9,770.5 1487.1,775.5 1481.1,780.5 1475.0,784.5 1469.0,787.5 1466.0,788.5 1463.5,789.0 M1363.5,932.0 1360.0,932.2 1357.0,932.1 1354.0,931.5 1351.0,930.6 1346.5,928.7 1343.1,927.0 1341.2,925.5 1339.6,923.5 1338.4,921.0 1337.5,918.0 1337.0,915.0 1336.9,911.5 1337.8,901.5 1338.6,898.5 1340.0,896.0 1341.0,895.1 1342.5,894.8 1344.0,895.6 1345.4,897.0 1346.8,899.0 1348.3,902.0 1350.2,909.5 1351.5,911.1 1353.0,911.7 1353.7,911.5 1354.0,911.0 1353.2,906.5 1353.3,904.0 1354.0,902.0 1355.1,900.0 1357.1,897.5 1359.5,895.3 1362.5,893.4 1366.0,891.8 1370.0,890.7 1374.0,890.1 1378.0,889.9 1382.0,890.2 1386.0,891.0 1389.5,892.2 1393.0,894.0 1395.7,896.0 1398.3,899.0 1399.7,902.0 1400.0,905.5 1399.3,908.5 1397.9,911.0 1396.0,913.2 1393.0,915.5 1387.5,919.0 1386.3,920.0 1385.7,921.0 1385.9,922.0 1386.6,923.0 1391.5,927.5 1391.8,928.5 1391.3,929.5 1390.0,930.3 1388.0,931.0 1383.5,931.7 1379.0,931.9 1369.0,931.6 1363.5,932.0 M1407.5,927.5 1406.0,927.7 1404.8,927.5 1404.0,927.0 1403.7,926.0 1403.9,924.5 1404.8,922.0 1406.7,918.5 1409.0,916.1 1412.0,914.4 1415.0,913.8 1416.5,914.0 1417.5,914.5 1418.5,916.0 1418.5,917.5 1417.8,919.5 1416.6,921.5 1414.7,923.5 1412.5,925.2 1410.0,926.7 1407.5,927.5 M1466.0,786.6 1463.5,786.6 1462.0,785.8 1461.3,784.5 1461.5,782.5 1462.6,780.0 1464.2,777.5 1466.6,774.5 1469.5,771.5 1473.0,768.5 1477.0,765.5 1484.0,761.5 1487.0,760.4 1490.0,759.8 1492.0,759.8 1493.5,760.6 1494.0,761.5 1494.1,763.0 1492.9,766.5 1490.1,770.5 1485.9,775.0 1481.0,779.1 1475.5,782.7 1470.5,785.2 1466.0,786.6 M1363.5,931.5 1357.5,931.7 1351.9,930.5 1348.1,929.0 1344.1,927.0 1342.0,925.5 1340.2,923.5 1339.0,921.2 1338.1,918.5 1337.6,915.5 1337.5,912.5 1337.8,906.5 1338.4,902.0 1339.3,899.0 1340.5,897.1 1341.5,896.5 1343.0,896.6 1344.2,897.5 1345.4,899.0 1346.9,902.5 1348.3,909.5 1349.1,911.0 1350.0,912.1 1352.8,914.0 1363.5,918.6 1364.0,918.5 1363.7,918.0 1360.0,914.9 1357.7,912.0 1356.2,909.0 1355.5,906.0 1355.7,903.0 1356.7,900.5 1358.5,898.0 1361.4,895.5 1364.9,893.5 1369.0,892.0 1373.5,891.2 1378.5,891.0 1383.0,891.5 1387.5,892.6 1391.5,894.5 1394.3,896.5 1396.9,899.5 1398.2,902.5 1398.4,906.0 1397.4,909.0 1395.7,911.5 1393.5,913.6 1390.0,915.9 1383.1,919.5 1382.0,920.5 1381.8,921.0 1381.9,921.5 1382.7,922.5 1386.9,925.5 1388.5,927.0 1389.0,928.0 1388.7,929.0 1386.5,930.3 1382.7,931.0 1378.5,931.2 1369.0,931.0 1363.5,931.5 M1409.0,926.1 1407.5,926.3 1406.5,926.1 1405.5,925.0 1405.5,923.5 1405.9,922.0 1407.4,919.0 1409.5,916.7 1412.0,915.2 1414.5,914.7 1416.5,915.1 1417.4,916.0 1417.7,917.0 1417.5,918.5 1416.5,920.5 1415.0,922.4 1413.0,924.1 1411.0,925.3 1409.0,926.1 M1469.0,784.0 1467.0,784.3 1465.4,784.0 1464.4,783.0 1464.3,781.5 1464.9,779.5 1466.4,777.0 1470.7,772.0 1476.9,767.0 1483.0,763.5 1485.7,762.5 1488.0,762.1 1490.0,762.3 1491.0,763.0 1491.3,764.0 1491.3,765.0 1490.4,767.5 1488.0,771.0 1484.7,774.5 1481.0,777.6 1476.9,780.5 1472.5,782.8 1469.0,784.0 M1376.0,919.6 1373.0,919.3 1367.5,917.1 1363.0,914.7 1360.0,912.1 1357.9,909.0 1357.0,906.0 1357.2,903.0 1358.5,900.0 1361.0,897.2 1364.1,895.0 1368.5,893.2 1373.0,892.2 1378.0,891.9 1382.5,892.3 1387.0,893.5 1391.1,895.5 1394.7,898.5 1395.7,900.0 1396.7,902.0 1397.1,904.0 1397.0,906.0 1396.5,908.0 1395.7,909.5 1393.0,912.6 1388.5,915.5 1381.5,918.3 1376.0,919.6 M1363.5,931.0 1360.5,931.4 1357.5,931.4 1355.0,931.0 1352.0,930.2 1347.9,928.5 1344.1,926.5 1342.1,925.0 1340.5,923.1 1339.4,921.0 1338.5,918.3 1338.0,915.5 1337.9,912.5 1338.4,906.5 1339.0,902.5 1340.0,899.5 1341.0,898.3 1342.0,897.9 1342.7,898.0 1343.5,898.5 1344.5,899.6 1345.8,902.5 1347.5,910.2 1349.0,912.5 1350.8,914.0 1362.5,920.5 1365.0,921.6 1368.5,922.1 1375.0,921.7 1379.0,922.8 1384.5,925.6 1386.1,927.0 1386.5,928.0 1386.0,929.0 1385.2,929.5 1382.0,930.3 1378.0,930.5 1369.0,930.3 1363.5,931.0 M1409.5,925.0 1408.5,925.1 1407.5,924.9 1407.0,924.3 1406.7,923.5 1407.0,921.5 1408.3,919.0 1410.0,917.2 1412.0,916.0 1414.5,915.5 1416.0,915.9 1416.8,917.0 1416.9,918.0 1415.8,920.5 1413.0,923.4 1411.0,924.5 1409.5,925.0 M1471.5,781.1 1470.0,781.3 1468.5,781.0 1468.0,780.5 1467.9,779.5 1468.3,778.0 1469.1,776.5 1472.4,772.5 1476.6,769.0 1481.5,766.1 1485.0,765.0 1486.5,765.1 1487.3,765.5 1487.8,766.5 1487.3,768.5 1485.7,771.0 1483.5,773.5 1480.5,776.2 1477.2,778.5 1474.5,780.0 1471.5,781.1 M1380.5,917.0 1375.5,917.5 1371.0,916.7 1366.0,914.8 1362.0,912.0 1360.5,910.4 1359.3,908.5 1358.8,907.0 1358.5,905.0 1358.7,903.0 1359.3,901.5 1361.4,898.5 1364.5,896.1 1368.0,894.4 1372.5,893.2 1377.0,892.8 1381.5,893.1 1386.0,894.2 1389.5,895.8 1392.5,898.1 1394.5,900.5 1395.6,903.5 1395.4,906.5 1394.4,909.0 1392.4,911.5 1389.0,913.9 1385.0,915.8 1380.5,917.0 M1359.5,931.0 1354.5,930.6 1348.8,928.5 1343.5,925.5 1341.9,924.0 1340.4,922.0 1339.5,920.0 1338.8,917.5 1338.5,912.5 1339.6,903.5 1340.5,900.9 1341.5,899.8 1342.0,899.7 1343.0,900.0 1344.0,901.2 1344.9,903.5 1345.9,908.5 1346.6,910.5 1348.0,912.6 1350.1,914.5 1356.0,917.7 1362.1,921.5 1365.0,922.9 1368.5,923.8 1374.5,923.9 1378.0,924.5 1381.9,926.0 1383.4,927.5 1383.5,928.0 1383.0,928.6 1380.2,929.5 1369.0,929.5 1359.5,931.0 M1411.0,923.6 1409.0,923.8 1408.2,923.0 1408.1,921.5 1408.7,920.0 1410.0,918.3 1411.8,917.0 1413.5,916.5 1415.0,916.7 1415.5,917.0 1415.9,918.0 1415.3,920.0 1413.5,922.1 1411.0,923.6 M1476.0,776.1 1474.5,776.4 1473.9,776.0 1474.0,775.0 1475.1,773.5 1476.7,772.0 1478.9,770.5 1480.5,769.9 1481.6,770.0 1481.7,771.0 1480.4,773.0 1478.0,775.0 1476.0,776.1 M1378.5,916.0 1374.0,915.9 1369.5,914.8 1365.0,912.6 1362.1,910.0 1360.4,907.0 1360.1,904.0 1361.2,901.0 1362.3,899.5 1363.8,898.0 1367.0,896.0 1370.5,894.7 1374.5,894.0 1378.5,893.9 1382.5,894.4 1386.5,895.6 1389.5,897.3 1392.0,899.5 1393.6,902.0 1394.1,904.5 1393.5,907.5 1392.0,910.0 1389.5,912.2 1386.3,914.0 1382.5,915.3 1378.5,916.0 M1360.0,930.5 1355.5,930.4 1350.5,928.9 1344.5,925.6 1342.6,924.0 1341.3,922.5 1340.3,920.5 1339.6,918.5 1339.0,914.0 1340.0,906.1 1340.6,904.0 1341.5,902.4 1342.5,902.3 1343.2,903.0 1345.9,911.0 1347.2,913.0 1349.5,915.0 1355.5,918.3 1363.0,923.1 1366.0,924.7 1369.5,925.8 1376.5,926.3 1378.1,927.0 1378.3,927.5 1377.6,928.0 1376.5,928.2 1369.0,928.2 1362.8,930.0 1360.0,930.5 M1411.5,922.2 1410.5,922.3 1409.9,922.0 1409.7,921.0 1410.1,920.0 1410.8,919.0 1412.0,918.1 1413.0,917.8 1414.0,917.9 1414.5,919.0 1414.1,920.0 1413.0,921.3 1411.5,922.2 M1381.0,913.5 1377.0,913.9 1373.0,913.5 1369.5,912.5 1366.5,910.8 1364.2,908.5 1363.1,906.0 1363.2,903.5 1364.4,901.0 1366.3,899.0 1368.8,897.5 1372.0,896.4 1375.5,895.8 1379.0,895.8 1382.5,896.4 1385.5,897.5 1387.9,899.0 1389.9,901.0 1390.9,903.0 1391.1,905.5 1390.5,907.5 1389.1,909.5 1387.0,911.2 1384.4,912.5 1381.0,913.5 M1360.0,929.6 1356.0,929.7 1352.0,928.8 1347.4,926.5 1343.4,923.5 1341.3,920.5 1340.3,917.0 1340.4,913.0 1341.5,910.1 1342.0,909.8 1342.5,909.8 1345.8,913.5 1347.5,915.0 1357.0,920.5 1361.1,923.5 1363.3,925.5 1364.0,927.0 1363.5,928.0 1361.9,929.0 1360.0,929.6 M1379.0,910.5 1376.5,910.7 1374.0,910.3 1371.6,909.5 1370.0,908.5 1368.6,907.0 1368.0,905.5 1368.2,903.5 1369.1,902.0 1370.2,901.0 1372.0,900.0 1374.0,899.3 1376.5,899.0 1379.0,899.1 1381.0,899.5 1383.0,900.3 1384.5,901.4 1385.5,902.5 1386.1,904.0 1386.1,905.5 1385.5,907.0 1384.5,908.2 1383.0,909.2 1381.3,910.0 1379.0,910.5 M1357.5,928.6 1355.0,928.5 1352.0,927.7 1348.7,926.0 1346.0,924.0 1344.1,922.0 1342.9,920.0 1342.3,918.0 1342.6,916.0 1343.5,915.4 1345.0,915.8 1353.6,920.0 1358.0,923.0 1359.9,925.0 1360.5,926.5 1360.1,927.5 1359.5,927.9 1357.5,928.6" fill="none" stroke="#8a8a8a" stroke-width="0.9"/>
<ellipse cx="1492.8" cy="780.2" rx="75.7" ry="67.7" transform="rotate(-53 1492.8 780.2)" fill="none" stroke="#111" stroke-width="1.7"/>
<text transform="translate(1604.0,689.8) scale(0.93,1)" font-size="29.8" font-family="'DejaVu Sans Mono', monospace" text-anchor="end" fill="#111">25.8</text>
<rect x="1293.0" y="648.0" width="318.0" height="318.0" fill="none" stroke="#111" stroke-width="4.4"/>
<rect x="1286.2" y="640.8" width="14" height="15" fill="#4a4a4a"/>
<rect x="1604.2" y="640.8" width="14" height="15" fill="#4a4a4a"/>
<rect x="1286.2" y="958.8" width="14" height="15" fill="#4a4a4a"/>
<rect x="1604.2" y="958.8" width="14" height="15" fill="#4a4a4a"/>
<line x1="1286.0" y1="670.6" x2="1293.0" y2="670.6" stroke="#111" stroke-width="1.6"/>
<line x1="1286.0" y1="731.0" x2="1293.0" y2="731.0" stroke="#111" stroke-width="1.6"/>
<line x1="1286.0" y1="794.8" x2="1293.0" y2="794.8" stroke="#111" stroke-width="1.6"/>
<line x1="1289.5" y1="712.8" x2="1293.0" y2="712.8" stroke="#111" stroke-width="1.6"/>
<line x1="1289.5" y1="702.2" x2="1293.0" y2="702.2" stroke="#111" stroke-width="1.6"/>
<line x1="1289.5" y1="694.6" x2="1293.0" y2="694.6" stroke="#111" stroke-width="1.6"/>
<line x1="1289.5" y1="688.8" x2="1293.0" y2="688.8" stroke="#111" stroke-width="1.6"/>
<line x1="1289.5" y1="684.0" x2="1293.0" y2="684.0" stroke="#111" stroke-width="1.6"/>
<line x1="1289.5" y1="680.0" x2="1293.0" y2="680.0" stroke="#111" stroke-width="1.6"/>
<line x1="1289.5" y1="676.5" x2="1293.0" y2="676.5" stroke="#111" stroke-width="1.6"/>
<line x1="1289.5" y1="673.4" x2="1293.0" y2="673.4" stroke="#111" stroke-width="1.6"/>
<line x1="1289.5" y1="775.6" x2="1293.0" y2="775.6" stroke="#111" stroke-width="1.6"/>
<line x1="1289.5" y1="764.4" x2="1293.0" y2="764.4" stroke="#111" stroke-width="1.6"/>
<line x1="1289.5" y1="756.4" x2="1293.0" y2="756.4" stroke="#111" stroke-width="1.6"/>
<line x1="1289.5" y1="750.2" x2="1293.0" y2="750.2" stroke="#111" stroke-width="1.6"/>
<line x1="1289.5" y1="745.2" x2="1293.0" y2="745.2" stroke="#111" stroke-width="1.6"/>
<line x1="1289.5" y1="740.9" x2="1293.0" y2="740.9" stroke="#111" stroke-width="1.6"/>
<line x1="1289.5" y1="737.2" x2="1293.0" y2="737.2" stroke="#111" stroke-width="1.6"/>
<line x1="1289.5" y1="733.9" x2="1293.0" y2="733.9" stroke="#111" stroke-width="1.6"/>
<line x1="1289.5" y1="808.0" x2="1293.0" y2="808.0" stroke="#111" stroke-width="1.6"/>
<line x1="1289.5" y1="820.0" x2="1293.0" y2="820.0" stroke="#111" stroke-width="1.6"/>
<line x1="1289.5" y1="831.0" x2="1293.0" y2="831.0" stroke="#111" stroke-width="1.6"/>
<line x1="1289.5" y1="840.0" x2="1293.0" y2="840.0" stroke="#111" stroke-width="1.6"/>
<line x1="1289.5" y1="847.0" x2="1293.0" y2="847.0" stroke="#111" stroke-width="1.6"/>
<line x1="1286.0" y1="853.0" x2="1293.0" y2="853.0" stroke="#111" stroke-width="1.6"/>
<line x1="1289.5" y1="860.0" x2="1293.0" y2="860.0" stroke="#111" stroke-width="1.6"/>
<line x1="1289.5" y1="868.2" x2="1293.0" y2="868.2" stroke="#111" stroke-width="1.6"/>
<line x1="1289.5" y1="876.0" x2="1293.0" y2="876.0" stroke="#111" stroke-width="1.6"/>
<line x1="1286.0" y1="883.0" x2="1293.0" y2="883.0" stroke="#111" stroke-width="1.6"/>
<line x1="1289.5" y1="890.0" x2="1293.0" y2="890.0" stroke="#111" stroke-width="1.6"/>
<line x1="1289.5" y1="900.0" x2="1293.0" y2="900.0" stroke="#111" stroke-width="1.6"/>
<line x1="1289.5" y1="911.0" x2="1293.0" y2="911.0" stroke="#111" stroke-width="1.6"/>
<line x1="1289.5" y1="928.0" x2="1293.0" y2="928.0" stroke="#111" stroke-width="1.6"/>
<line x1="1289.5" y1="942.5" x2="1293.0" y2="942.5" stroke="#111" stroke-width="1.6"/>
<line x1="1323.0" y1="966.0" x2="1323.0" y2="973.0" stroke="#111" stroke-width="1.6"/>
<line x1="1355.6" y1="966.0" x2="1355.6" y2="973.0" stroke="#111" stroke-width="1.6"/>
<line x1="1364.3" y1="966.0" x2="1364.3" y2="973.0" stroke="#111" stroke-width="1.6"/>
<line x1="1374.2" y1="966.0" x2="1374.2" y2="973.0" stroke="#111" stroke-width="1.6"/>
<line x1="1438.0" y1="966.0" x2="1438.0" y2="973.0" stroke="#111" stroke-width="1.6"/>
<line x1="1534.3" y1="966.0" x2="1534.3" y2="973.0" stroke="#111" stroke-width="1.6"/>
<line x1="1467.0" y1="966.0" x2="1467.0" y2="969.5" stroke="#111" stroke-width="1.6"/>
<line x1="1483.9" y1="966.0" x2="1483.9" y2="969.5" stroke="#111" stroke-width="1.6"/>
<line x1="1496.0" y1="966.0" x2="1496.0" y2="969.5" stroke="#111" stroke-width="1.6"/>
<line x1="1505.3" y1="966.0" x2="1505.3" y2="969.5" stroke="#111" stroke-width="1.6"/>
<line x1="1512.9" y1="966.0" x2="1512.9" y2="969.5" stroke="#111" stroke-width="1.6"/>
<line x1="1519.4" y1="966.0" x2="1519.4" y2="969.5" stroke="#111" stroke-width="1.6"/>
<line x1="1525.0" y1="966.0" x2="1525.0" y2="969.5" stroke="#111" stroke-width="1.6"/>
<line x1="1529.9" y1="966.0" x2="1529.9" y2="969.5" stroke="#111" stroke-width="1.6"/>
<line x1="1563.3" y1="966.0" x2="1563.3" y2="969.5" stroke="#111" stroke-width="1.6"/>
<line x1="1580.2" y1="966.0" x2="1580.2" y2="969.5" stroke="#111" stroke-width="1.6"/>
<line x1="1592.3" y1="966.0" x2="1592.3" y2="969.5" stroke="#111" stroke-width="1.6"/>
<line x1="1601.6" y1="966.0" x2="1601.6" y2="969.5" stroke="#111" stroke-width="1.6"/>
<line x1="1301.0" y1="966.0" x2="1301.0" y2="969.5" stroke="#111" stroke-width="1.6"/>
<line x1="1307.0" y1="966.0" x2="1307.0" y2="969.5" stroke="#111" stroke-width="1.6"/>
<line x1="1313.0" y1="966.0" x2="1313.0" y2="969.5" stroke="#111" stroke-width="1.6"/>
<line x1="1318.0" y1="966.0" x2="1318.0" y2="969.5" stroke="#111" stroke-width="1.6"/>
<line x1="1331.0" y1="966.0" x2="1331.0" y2="969.5" stroke="#111" stroke-width="1.6"/>
<line x1="1338.0" y1="966.0" x2="1338.0" y2="969.5" stroke="#111" stroke-width="1.6"/>
<line x1="1345.0" y1="966.0" x2="1345.0" y2="969.5" stroke="#111" stroke-width="1.6"/>
<line x1="1350.0" y1="966.0" x2="1350.0" y2="969.5" stroke="#111" stroke-width="1.6"/>
<line x1="1360.0" y1="966.0" x2="1360.0" y2="969.5" stroke="#111" stroke-width="1.6"/>
<line x1="1369.0" y1="966.0" x2="1369.0" y2="969.5" stroke="#111" stroke-width="1.6"/>
<line x1="1381.0" y1="966.0" x2="1381.0" y2="969.5" stroke="#111" stroke-width="1.6"/>
<line x1="1390.0" y1="966.0" x2="1390.0" y2="969.5" stroke="#111" stroke-width="1.6"/>
<line x1="1400.0" y1="966.0" x2="1400.0" y2="969.5" stroke="#111" stroke-width="1.6"/>
<line x1="1411.0" y1="966.0" x2="1411.0" y2="969.5" stroke="#111" stroke-width="1.6"/>
<line x1="1423.0" y1="966.0" x2="1423.0" y2="969.5" stroke="#111" stroke-width="1.6"/>
<text transform="translate(1278.5,683.5) scale(0.97,1)" font-size="17.6" font-family="'DejaVu Sans', sans-serif" text-anchor="end" fill="#111">10<tspan dx="2.2" dy="-11.3">5</tspan></text>
<text transform="translate(1278.5,743.9) scale(0.97,1)" font-size="17.6" font-family="'DejaVu Sans', sans-serif" text-anchor="end" fill="#111">10<tspan dx="2.2" dy="-11.3">4</tspan></text>
<text transform="translate(1278.5,807.7) scale(0.97,1)" font-size="17.6" font-family="'DejaVu Sans', sans-serif" text-anchor="end" fill="#111">10<tspan dx="2.2" dy="-11.3">3</tspan></text>
<text transform="translate(1268.0,876.8) scale(0.97,1)" font-size="17.6" font-family="'DejaVu Sans', sans-serif" text-anchor="end" fill="#111">0</text>
<text transform="translate(1278.5,953.0) scale(0.97,1)" font-size="17.6" font-family="'DejaVu Sans', sans-serif" text-anchor="end" fill="#111">-10<tspan dx="2.2" dy="-11.3">3</tspan></text>
<text transform="translate(1342.8,1000.8) scale(0.97,1)" font-size="17.6" font-family="'DejaVu Sans', sans-serif" text-anchor="end" fill="#111">-10<tspan dx="2.2" dy="-10.8">3</tspan></text>
<text transform="translate(1371.0,1000.8) scale(0.97,1)" font-size="17.6" font-family="'DejaVu Sans', sans-serif" text-anchor="middle" fill="#111">0</text>
<text transform="translate(1466.2,1000.8) scale(0.97,1)" font-size="17.6" font-family="'DejaVu Sans', sans-serif" text-anchor="end" fill="#111">10<tspan dx="2.2" dy="-10.8">3</tspan></text>
<text transform="translate(1562.5,1000.8) scale(0.97,1)" font-size="17.6" font-family="'DejaVu Sans', sans-serif" text-anchor="end" fill="#111">10<tspan dx="2.2" dy="-10.8">4</tspan></text>
<path d="M1313.5,1352.1 1312.4,1347.6 1311.9,1341.1 1311.8,1334.6 1312.2,1328.1 1313.2,1320.1 1317.0,1299.5 1320.3,1266.1 1321.8,1256.1 1323.7,1247.1 1325.7,1239.6 1328.2,1232.6 1330.9,1226.6 1334.0,1221.3 1337.0,1217.6 1340.5,1214.6 1344.0,1213.0 1347.5,1212.4 1351.5,1212.9 1359.5,1215.3 1363.5,1216.0 1367.5,1215.8 1376.5,1214.3 1379.5,1214.4 1382.5,1215.1 1386.5,1217.1 1390.5,1220.6 1394.5,1225.6 1403.0,1238.2 1406.0,1241.4 1409.0,1243.4 1411.5,1244.4 1414.5,1245.0 1426.5,1245.2 1434.0,1246.2 1440.5,1247.8 1454.0,1252.2 1459.0,1253.1 1462.0,1252.6 1464.0,1251.1 1466.0,1248.2 1471.6,1238.1 1476.0,1232.1 1479.2,1228.6 1482.4,1225.6 1489.5,1220.4 1494.0,1217.9 1498.0,1216.1 1502.0,1214.7 1506.0,1213.8 1510.0,1213.4 1513.5,1213.6 1516.5,1214.4 1519.0,1215.6 1521.0,1217.4 1522.4,1219.6 1523.1,1222.1 1523.2,1225.1 1522.6,1228.6 1521.3,1232.1 1519.4,1235.6 1516.9,1239.1 1512.8,1243.6 1508.2,1247.6 1503.0,1251.3 1497.5,1254.3 1493.0,1256.3 1488.0,1258.0 1482.0,1259.4 1472.0,1260.9 1469.7,1261.6 1468.0,1262.8 1466.6,1264.6 1465.5,1266.9 1462.5,1277.1 1460.8,1285.1 1460.8,1287.6 1461.1,1289.6 1461.9,1291.1 1463.3,1292.6 1465.5,1294.0 1468.0,1295.0 1475.4,1296.6 1498.0,1299.8 1510.0,1302.5 1517.5,1304.8 1524.5,1307.4 1531.0,1310.5 1537.0,1313.9 1543.0,1318.0 1548.5,1322.6 1553.4,1327.6 1557.4,1332.6 1560.9,1338.1 1563.5,1343.6 1565.3,1349.1 1566.5,1352.1 M1321.2,1352.1 1318.9,1348.1 1317.3,1341.1 1316.5,1334.1 1316.4,1327.1 1317.2,1318.1 1320.5,1296.6 1323.1,1269.1 1325.1,1256.6 1326.9,1249.1 1329.2,1241.6 1331.9,1235.1 1334.6,1230.1 1337.6,1226.1 1341.0,1223.0 1344.5,1221.3 1348.0,1220.7 1352.0,1221.2 1360.0,1223.5 1363.5,1224.2 1367.5,1224.2 1377.0,1223.0 1380.0,1223.3 1382.5,1224.0 1386.0,1226.0 1389.5,1229.0 1392.9,1233.1 1401.5,1244.6 1404.5,1247.6 1407.5,1249.6 1410.0,1250.7 1413.0,1251.3 1425.0,1251.3 1431.5,1252.1 1438.5,1254.3 1444.5,1257.4 1446.9,1259.1 1449.0,1261.1 1450.5,1263.1 1451.6,1265.1 1452.3,1267.1 1452.7,1269.6 1452.6,1272.1 1452.2,1275.1 1450.5,1280.0 1447.9,1284.6 1443.5,1290.1 1434.9,1298.1 1434.2,1299.6 1434.8,1300.6 1436.8,1301.6 1439.5,1302.4 1448.5,1303.8 1457.5,1304.5 1482.0,1305.8 1495.5,1307.3 1502.5,1308.7 1509.0,1310.3 1515.0,1312.3 1521.0,1314.7 1528.0,1318.3 1534.5,1322.5 1540.2,1327.1 1545.0,1332.1 1549.2,1337.6 1552.2,1343.1 1554.6,1349.1 1555.9,1352.1 M1490.0,1248.7 1486.5,1248.8 1484.0,1248.2 1482.0,1247.0 1480.8,1245.1 1480.5,1242.6 1481.1,1239.6 1482.5,1236.6 1484.6,1233.6 1487.4,1230.6 1490.5,1228.1 1494.0,1225.9 1498.0,1224.0 1501.5,1223.1 1505.0,1222.8 1508.0,1223.3 1510.0,1224.4 1511.0,1225.4 1511.6,1226.6 1512.0,1228.1 1511.9,1230.1 1510.6,1234.1 1507.9,1238.1 1504.0,1242.0 1499.6,1245.1 1494.5,1247.5 1490.0,1248.7 M1324.8,1352.1 1321.8,1347.6 1319.9,1340.6 1318.9,1333.6 1318.6,1326.6 1319.3,1318.1 1322.5,1296.7 1324.7,1273.6 1326.4,1262.1 1328.1,1254.1 1330.3,1246.6 1332.7,1240.6 1335.5,1235.3 1338.5,1231.3 1341.5,1228.6 1345.0,1226.8 1348.5,1226.3 1352.5,1226.8 1360.0,1228.9 1364.0,1229.6 1368.0,1229.7 1377.0,1229.0 1379.5,1229.2 1382.0,1229.9 1385.5,1231.8 1388.5,1234.3 1392.0,1238.2 1401.0,1249.4 1404.0,1252.3 1407.0,1254.3 1409.5,1255.4 1412.5,1256.0 1424.5,1255.8 1428.0,1256.2 1431.5,1256.9 1435.0,1258.2 1438.0,1259.7 1440.6,1261.6 1443.0,1264.1 1444.3,1266.1 1445.2,1268.6 1445.6,1271.1 1445.4,1273.6 1444.7,1276.1 1443.6,1278.6 1442.0,1280.9 1440.0,1283.1 1436.0,1286.0 1431.0,1288.2 1426.5,1289.1 1418.0,1289.8 1415.5,1290.5 1413.0,1292.1 1411.5,1294.1 1410.7,1296.1 1410.1,1298.6 1410.0,1301.1 1410.4,1304.1 1411.0,1306.4 1412.0,1308.6 1413.5,1310.5 1415.0,1311.7 1418.0,1312.8 1421.5,1313.1 1438.5,1311.6 1450.5,1310.9 1466.5,1310.4 1478.5,1310.6 1487.0,1311.1 1495.0,1312.2 1502.5,1313.7 1509.5,1315.6 1517.5,1318.7 1524.5,1322.2 1531.1,1326.6 1536.8,1331.6 1541.6,1337.1 1545.2,1342.6 1547.8,1348.6 1549.4,1352.1 M1328.0,1352.1 1324.7,1348.1 1322.4,1341.1 1321.1,1334.1 1320.6,1326.6 1321.3,1317.1 1324.6,1296.1 1326.8,1275.6 1328.1,1266.6 1329.6,1259.1 1331.5,1252.1 1333.8,1246.1 1336.5,1240.8 1339.5,1236.8 1342.5,1234.1 1345.5,1232.7 1349.0,1232.1 1353.0,1232.5 1364.5,1235.3 1368.5,1235.5 1377.0,1235.3 1379.5,1235.6 1382.0,1236.3 1385.0,1238.0 1388.5,1240.8 1401.5,1255.7 1404.5,1258.5 1407.5,1260.5 1410.0,1261.6 1412.5,1262.1 1422.5,1261.6 1427.5,1262.1 1430.0,1262.9 1432.4,1264.1 1434.3,1265.6 1435.5,1266.9 1436.4,1268.6 1436.9,1270.1 1436.9,1273.1 1435.6,1276.1 1433.3,1278.6 1430.5,1280.3 1427.0,1281.5 1423.5,1282.0 1416.5,1282.1 1413.5,1282.8 1411.5,1283.9 1410.0,1285.3 1408.5,1287.4 1407.5,1289.4 1406.3,1293.1 1405.7,1297.1 1405.6,1301.6 1406.2,1306.1 1407.3,1310.6 1409.0,1314.5 1411.0,1317.3 1413.0,1318.9 1416.1,1320.1 1420.5,1320.3 1452.5,1316.6 1464.5,1315.7 1474.5,1315.4 1482.5,1315.7 1490.0,1316.3 1497.0,1317.4 1504.0,1319.0 1511.5,1321.5 1518.5,1324.7 1524.9,1328.6 1530.5,1333.1 1535.2,1338.1 1538.9,1343.6 1541.5,1349.1 1543.1,1352.1 M1330.3,1352.1 1326.8,1348.6 1324.2,1341.6 1322.6,1334.6 1322.0,1327.1 1322.2,1322.1 1322.7,1316.6 1326.4,1294.6 1329.5,1269.6 1331.0,1262.1 1332.9,1255.1 1335.0,1249.7 1337.5,1244.9 1340.0,1241.5 1343.0,1238.8 1346.5,1237.1 1350.0,1236.7 1354.0,1237.1 1366.0,1239.8 1378.5,1240.5 1381.0,1241.1 1383.5,1242.1 1387.0,1244.5 1391.0,1248.4 1409.1,1269.6 1410.1,1271.6 1410.1,1273.6 1406.0,1283.0 1404.3,1288.1 1403.1,1294.1 1402.9,1300.6 1403.9,1308.6 1406.0,1316.0 1408.5,1321.0 1410.0,1322.8 1411.5,1324.1 1413.0,1324.9 1415.0,1325.5 1419.5,1325.6 1452.0,1320.8 1463.0,1319.7 1472.5,1319.1 1480.0,1319.1 1487.0,1319.5 1493.5,1320.4 1500.0,1321.7 1507.5,1323.9 1514.5,1326.8 1520.5,1330.3 1526.0,1334.4 1530.6,1339.1 1534.2,1344.1 1536.9,1349.6 1538.5,1352.1 M1332.7,1352.1 1329.8,1350.6 1327.6,1346.1 1325.7,1341.1 1324.4,1336.1 1323.7,1331.1 1323.5,1325.6 1323.7,1320.1 1324.6,1313.6 1328.4,1293.6 1331.8,1270.1 1333.4,1263.1 1335.3,1257.1 1336.9,1253.1 1338.5,1250.2 1340.0,1247.9 1342.0,1245.7 1344.0,1244.0 1346.0,1242.9 1348.5,1242.2 1351.0,1242.0 1356.0,1242.5 1368.5,1245.4 1378.5,1246.5 1382.5,1247.7 1386.0,1249.8 1390.0,1253.2 1394.0,1257.6 1398.2,1263.1 1400.0,1266.1 1401.4,1269.1 1402.2,1271.6 1402.5,1274.1 1402.3,1278.6 1400.5,1289.1 1400.0,1294.6 1400.1,1301.1 1401.1,1308.6 1403.0,1316.8 1405.5,1324.1 1408.0,1328.5 1410.5,1330.8 1412.0,1331.5 1414.0,1331.9 1418.5,1331.8 1449.0,1325.9 1459.5,1324.3 1469.0,1323.4 1476.0,1323.1 1483.0,1323.2 1489.5,1323.7 1495.5,1324.7 1502.5,1326.4 1509.5,1329.0 1515.5,1332.1 1521.0,1335.9 1525.4,1340.1 1529.0,1344.7 1531.6,1349.6 1533.3,1352.1 M1334.8,1352.1 1331.8,1351.1 1329.3,1346.6 1327.2,1341.6 1325.8,1336.6 1325.0,1331.6 1324.6,1326.1 1324.9,1320.6 1325.6,1314.6 1330.3,1292.6 1334.0,1271.1 1335.5,1265.1 1337.0,1260.6 1340.0,1254.4 1341.7,1252.1 1343.5,1250.2 1345.5,1248.7 1347.5,1247.7 1350.0,1247.0 1352.5,1246.8 1355.5,1247.0 1359.0,1247.6 1369.5,1250.5 1379.0,1252.4 1382.5,1253.5 1386.0,1255.5 1389.0,1257.9 1392.1,1261.1 1395.0,1265.1 1397.4,1270.1 1398.4,1275.1 1398.5,1279.6 1397.5,1289.6 1397.4,1295.1 1397.8,1301.6 1399.0,1309.1 1401.5,1320.5 1404.0,1329.4 1405.1,1332.1 1406.4,1334.6 1407.5,1335.9 1409.0,1337.2 1412.0,1338.3 1416.5,1338.1 1445.0,1330.9 1455.5,1328.8 1465.0,1327.3 1472.0,1326.7 1479.0,1326.5 1485.5,1326.7 1491.5,1327.4 1498.5,1328.8 1505.0,1330.9 1511.0,1333.6 1516.5,1337.1 1521.1,1341.1 1524.8,1345.6 1527.3,1350.1 1529.0,1352.1 M1336.5,1352.1 1333.3,1351.1 1330.5,1346.6 1328.3,1341.6 1326.8,1336.6 1325.9,1331.6 1325.6,1326.1 1325.8,1320.6 1326.6,1314.6 1328.1,1307.6 1332.3,1290.6 1336.0,1272.7 1337.5,1267.3 1339.1,1263.1 1342.0,1257.7 1343.7,1255.6 1345.5,1253.9 1347.5,1252.6 1349.5,1251.7 1352.0,1251.1 1354.5,1250.9 1358.0,1251.2 1362.0,1252.2 1373.0,1256.3 1380.5,1258.5 1383.4,1259.6 1386.0,1261.0 1388.5,1263.1 1390.5,1265.2 1392.4,1268.1 1394.2,1272.1 1395.0,1276.2 1395.2,1280.1 1394.9,1293.6 1395.4,1299.1 1396.5,1305.6 1403.0,1336.6 1405.0,1341.9 1406.0,1343.4 1407.5,1344.8 1409.0,1345.4 1410.5,1345.6 1414.0,1345.0 1428.9,1339.6 1437.5,1336.8 1448.5,1333.7 1458.5,1331.5 1466.0,1330.3 1473.5,1329.5 1480.0,1329.3 1486.5,1329.6 1493.5,1330.5 1500.5,1332.3 1506.5,1334.7 1512.0,1337.7 1517.0,1341.6 1520.6,1345.6 1523.4,1350.1 1525.2,1352.1 M1337.9,1352.1 1334.5,1351.3 1331.8,1347.1 1329.4,1342.1 1327.7,1337.1 1326.7,1332.1 1326.3,1326.6 1326.5,1320.6 1327.3,1314.6 1329.0,1307.1 1333.9,1290.1 1338.0,1273.8 1339.5,1269.1 1341.0,1265.5 1344.0,1260.5 1345.6,1258.6 1347.5,1257.0 1349.5,1255.8 1351.5,1255.0 1353.5,1254.5 1356.0,1254.4 1359.5,1254.7 1363.5,1256.0 1375.5,1262.1 1384.0,1265.5 1386.0,1266.8 1388.0,1268.6 1389.4,1270.6 1390.5,1272.6 1391.5,1275.6 1392.0,1278.6 1392.4,1290.1 1393.1,1296.1 1398.2,1320.1 1400.2,1333.6 1401.4,1348.6 1401.1,1352.1 1400.1,1352.1 M1412.1,1352.1 1414.0,1352.1 1416.4,1351.1 1423.5,1346.6 1431.9,1342.6 1441.1,1339.1 1452.0,1335.7 1462.0,1333.4 1471.5,1332.0 1480.0,1331.6 1487.5,1331.9 1495.0,1333.2 1501.5,1335.1 1507.5,1337.8 1513.0,1341.5 1517.2,1345.6 1520.3,1350.1 1522.3,1352.1 M1339.2,1352.1 1335.8,1351.6 1332.7,1347.1 1330.4,1342.6 1328.6,1337.6 1327.4,1332.1 1327.0,1326.6 1327.1,1321.1 1328.0,1315.1 1329.4,1308.6 1331.7,1301.1 1340.5,1274.8 1343.3,1268.1 1346.1,1263.6 1349.5,1260.2 1353.0,1258.4 1357.0,1257.8 1359.5,1258.0 1362.0,1258.7 1364.5,1259.8 1367.5,1261.6 1378.0,1270.3 1384.0,1274.3 1385.7,1276.1 1387.0,1278.6 1388.0,1282.1 1390.4,1293.6 1395.8,1314.6 1397.3,1322.1 1398.2,1329.6 1398.6,1338.6 1398.0,1345.6 1397.3,1348.6 1396.3,1351.1 1393.7,1352.1 M1422.5,1352.1 1424.1,1352.1 1426.3,1351.1 1431.3,1347.6 1437.9,1344.1 1446.5,1340.5 1455.4,1337.6 1464.0,1335.5 1472.5,1334.2 1480.5,1333.8 1487.5,1334.1 1494.0,1335.2 1500.4,1337.1 1505.9,1339.6 1510.5,1342.7 1514.6,1346.6 1517.4,1350.6 1519.3,1352.1 M1340.6,1352.1 1337.0,1351.7 1333.9,1347.6 1331.4,1343.1 1329.5,1338.1 1328.2,1332.6 1327.6,1327.1 1327.8,1321.6 1328.6,1315.6 1330.7,1307.1 1333.8,1298.1 1337.0,1290.6 1346.5,1270.1 1349.0,1266.2 1351.6,1263.6 1354.5,1262.0 1358.0,1261.4 1361.0,1261.9 1364.5,1263.6 1367.7,1266.1 1370.8,1269.6 1373.3,1273.1 1378.5,1281.9 1384.0,1288.2 1386.0,1291.1 1389.0,1297.2 1391.8,1304.6 1394.3,1313.1 1395.9,1321.1 1396.8,1328.6 1397.0,1336.1 1396.2,1342.6 1394.8,1347.6 1392.7,1351.6 1389.6,1352.1 M1431.3,1352.1 1434.4,1351.6 1439.2,1348.1 1445.0,1344.9 1452.0,1341.8 1459.5,1339.3 1467.0,1337.4 1474.0,1336.4 1481.0,1336.0 1487.0,1336.3 1493.0,1337.3 1498.5,1338.9 1503.5,1341.1 1508.0,1343.9 1511.5,1347.1 1514.5,1351.1 1516.3,1352.1 M1342.2,1352.1 1338.5,1352.0 1335.2,1348.1 1332.5,1343.6 1330.4,1338.6 1329.0,1333.1 1328.4,1327.6 1328.4,1322.1 1329.2,1316.1 1330.6,1310.1 1332.5,1304.5 1335.0,1298.5 1338.0,1292.8 1344.7,1282.6 1349.5,1273.2 1351.5,1270.0 1353.3,1268.1 1355.0,1266.9 1356.5,1266.3 1358.5,1266.0 1360.5,1266.2 1363.0,1267.3 1365.3,1269.1 1367.5,1271.6 1369.8,1275.1 1374.0,1283.0 1376.2,1286.6 1378.7,1289.6 1384.0,1294.6 1387.0,1298.7 1389.8,1304.1 1392.4,1311.1 1394.1,1318.1 1395.2,1325.1 1395.5,1332.1 1395.1,1338.1 1393.8,1343.6 1391.9,1348.1 1389.1,1352.1 1385.7,1352.1 M1440.2,1352.1 1442.8,1352.1 1446.6,1349.1 1451.6,1346.1 1457.0,1343.6 1463.0,1341.5 1469.5,1339.9 1475.5,1339.0 1481.5,1338.7 1487.0,1339.0 1492.0,1339.8 1497.0,1341.3 1501.5,1343.2 1505.2,1345.6 1508.5,1348.5 1510.9,1351.6 1512.7,1352.1 M1344.1,1352.1 1340.1,1352.1 1336.8,1348.6 1333.7,1344.1 1331.6,1339.6 1330.0,1334.1 1329.2,1328.6 1329.2,1323.1 1329.9,1317.1 1331.1,1311.6 1332.8,1306.6 1335.0,1301.5 1337.5,1297.0 1340.5,1292.9 1347.0,1285.6 1352.1,1277.1 1354.0,1274.5 1356.5,1272.4 1359.0,1271.7 1360.5,1271.8 1362.0,1272.5 1364.6,1274.6 1367.0,1277.7 1371.8,1285.6 1374.5,1289.4 1377.5,1292.7 1383.0,1297.8 1385.5,1300.7 1387.5,1303.7 1389.2,1307.1 1392.0,1315.1 1393.4,1321.6 1394.0,1328.1 1393.8,1334.6 1392.9,1340.1 1391.1,1345.1 1388.7,1349.1 1385.5,1352.1 1381.7,1352.1 M1449.3,1352.1 1451.4,1352.1 1454.4,1350.1 1458.5,1347.6 1462.8,1345.6 1467.5,1344.0 1472.5,1342.8 1477.4,1342.1 1482.0,1341.9 1486.5,1342.1 1491.0,1342.9 1495.0,1344.0 1498.5,1345.5 1501.9,1347.6 1504.5,1349.8 1506.5,1352.1 1508.2,1352.1 M1346.5,1352.1 1342.4,1352.1 1338.5,1349.1 1335.4,1345.1 1332.8,1340.1 1331.1,1335.1 1330.1,1329.6 1330.0,1324.1 1330.6,1318.1 1331.8,1312.6 1333.6,1307.6 1336.0,1302.5 1338.5,1298.6 1341.5,1295.1 1348.4,1288.6 1355.0,1280.8 1357.5,1279.0 1359.5,1278.5 1361.5,1279.0 1364.0,1280.8 1373.4,1292.1 1381.9,1300.1 1384.5,1303.0 1386.6,1306.1 1388.5,1309.7 1390.0,1313.6 1391.3,1318.1 1392.4,1324.6 1392.6,1330.6 1391.9,1336.6 1390.5,1341.6 1388.2,1346.1 1385.5,1349.6 1382.0,1352.1 1377.3,1352.1 M1459.0,1352.1 1460.8,1352.1 1462.8,1351.6 1465.2,1350.1 1468.5,1348.6 1475.0,1346.7 1482.0,1345.9 1488.5,1346.5 1491.5,1347.3 1494.5,1348.4 1499.0,1351.2 1500.9,1352.1 1502.4,1352.1 M1349.9,1352.1 1345.5,1352.1 1341.5,1350.4 1337.8,1346.6 1334.9,1342.1 1332.7,1337.1 1331.4,1331.6 1330.9,1326.1 1331.3,1320.1 1332.4,1314.6 1334.0,1309.6 1336.2,1305.1 1339.0,1300.9 1342.5,1297.2 1354.0,1287.5 1357.0,1285.6 1359.5,1285.0 1362.0,1285.5 1365.0,1287.5 1380.0,1301.4 1383.0,1304.6 1385.6,1308.1 1387.7,1312.1 1389.3,1316.6 1390.4,1321.1 1391.0,1327.1 1390.7,1333.1 1389.5,1338.6 1387.5,1343.4 1384.6,1347.6 1381.0,1350.9 1377.0,1352.1 1371.9,1352.1 M1472.7,1352.1 1474.5,1352.1 1477.0,1352.1 1479.5,1352.1 1482.5,1352.1 1485.5,1352.1 1488.0,1352.1 1490.4,1352.1 1492.0,1352.1 M1364.5,1352.1 1358.0,1352.1 1352.5,1352.1 1347.5,1351.9 1343.0,1349.1 1339.0,1345.2 1336.0,1340.6 1333.8,1335.1 1332.7,1329.1 1332.6,1322.6 1333.7,1316.6 1335.8,1310.6 1338.5,1305.8 1342.0,1301.8 1347.5,1297.4 1354.0,1293.3 1356.5,1292.2 1358.5,1291.8 1360.5,1291.8 1362.5,1292.3 1366.5,1294.4 1374.0,1300.3 1380.2,1306.1 1383.3,1310.1 1385.8,1314.6 1387.4,1319.6 1388.3,1324.6 1388.4,1330.1 1387.5,1335.6 1385.6,1340.6 1383.0,1344.8 1379.5,1348.3 1375.5,1350.9 1370.5,1352.1 1364.5,1352.1 M1360.5,1352.1 1355.5,1351.9 1350.5,1350.7 1346.0,1348.6 1342.2,1345.6 1338.9,1341.6 1336.5,1337.1 1335.0,1332.1 1334.4,1326.6 1334.7,1321.1 1335.9,1316.1 1337.8,1311.6 1340.5,1307.5 1344.5,1303.5 1350.0,1299.8 1355.0,1297.4 1359.0,1296.6 1361.0,1296.7 1363.0,1297.2 1367.5,1299.4 1373.5,1303.8 1378.4,1308.6 1381.4,1312.6 1383.7,1317.1 1385.0,1321.6 1385.7,1326.6 1385.4,1331.6 1384.1,1336.6 1382.0,1340.9 1379.1,1344.6 1375.5,1347.6 1371.0,1349.9 1366.0,1351.4 1360.5,1352.1 M1362.5,1349.6 1357.5,1349.8 1353.0,1349.1 1348.9,1347.6 1345.0,1345.2 1341.9,1342.1 1339.2,1338.1 1337.4,1333.6 1336.4,1328.6 1336.4,1323.6 1337.4,1318.6 1339.1,1314.1 1341.5,1310.4 1345.0,1306.7 1349.0,1303.8 1354.0,1301.4 1358.0,1300.4 1361.5,1300.6 1365.5,1302.0 1370.0,1304.7 1374.5,1308.5 1377.7,1312.1 1380.2,1316.1 1382.0,1320.6 1382.8,1325.1 1382.9,1329.6 1382.0,1334.1 1380.4,1338.1 1378.0,1341.6 1375.0,1344.5 1371.5,1346.8 1367.0,1348.7 1362.5,1349.6 M1363.5,1347.1 1359.0,1347.6 1354.5,1347.1 1350.5,1345.9 1347.0,1343.9 1343.9,1341.1 1341.3,1337.6 1339.5,1333.6 1338.6,1329.6 1338.4,1325.1 1338.9,1321.1 1340.2,1317.1 1342.5,1313.1 1345.5,1309.7 1349.0,1307.0 1353.0,1304.9 1357.0,1303.8 1360.5,1303.7 1364.0,1304.6 1367.5,1306.3 1371.5,1309.3 1374.7,1312.6 1377.2,1316.1 1379.1,1320.1 1380.1,1324.1 1380.3,1328.1 1379.8,1332.1 1378.6,1335.6 1376.6,1339.1 1374.0,1341.9 1371.0,1344.2 1367.5,1345.9 1363.5,1347.1 M1361.0,1345.1 1357.0,1345.2 1353.5,1344.5 1350.0,1343.1 1347.1,1341.1 1344.5,1338.4 1342.5,1335.2 1341.2,1331.6 1340.6,1328.1 1340.6,1324.1 1341.4,1320.6 1342.8,1317.1 1345.0,1313.8 1347.7,1311.1 1351.0,1308.9 1354.5,1307.3 1358.0,1306.6 1361.5,1306.9 1364.5,1307.8 1368.0,1309.8 1371.0,1312.3 1373.5,1315.1 1375.6,1318.6 1377.0,1322.1 1377.6,1325.6 1377.6,1329.1 1376.9,1332.6 1375.7,1335.6 1373.6,1338.6 1371.0,1341.1 1368.0,1343.1 1364.5,1344.4 1361.0,1345.1 M1361.5,1342.7 1358.0,1342.9 1355.0,1342.5 1352.0,1341.5 1349.5,1340.0 1347.0,1337.8 1345.0,1335.1 1343.6,1332.1 1342.9,1329.1 1342.8,1325.6 1343.2,1322.6 1344.2,1319.6 1346.0,1316.6 1348.1,1314.1 1351.0,1311.9 1354.0,1310.4 1357.0,1309.6 1360.0,1309.5 1363.0,1310.2 1366.0,1311.6 1368.5,1313.4 1371.0,1316.0 1372.7,1318.6 1374.1,1321.6 1374.9,1325.1 1375.1,1328.1 1374.6,1331.1 1373.5,1334.1 1371.9,1336.6 1370.0,1338.6 1367.3,1340.6 1364.5,1341.9 1361.5,1342.7 M1361.5,1340.2 1358.5,1340.4 1356.0,1340.2 1353.5,1339.5 1351.0,1338.1 1349.0,1336.4 1347.2,1334.1 1346.0,1331.6 1345.3,1329.1 1345.2,1326.1 1345.5,1323.6 1346.3,1321.1 1347.6,1318.6 1349.5,1316.4 1352.0,1314.3 1354.5,1313.1 1357.0,1312.4 1359.5,1312.3 1362.0,1312.8 1364.5,1313.8 1366.5,1315.2 1368.5,1317.1 1370.3,1319.6 1371.5,1322.1 1372.2,1324.6 1372.4,1327.6 1372.1,1330.1 1371.2,1332.6 1370.1,1334.6 1368.5,1336.5 1366.5,1338.1 1364.0,1339.4 1361.5,1340.2 M1359.5,1337.7 1357.2,1337.6 1355.1,1337.1 1353.0,1336.1 1351.6,1335.1 1350.2,1333.6 1349.0,1331.7 1348.2,1329.6 1347.9,1327.6 1348.0,1325.1 1348.5,1323.1 1349.3,1321.1 1350.5,1319.4 1352.0,1317.9 1354.0,1316.5 1356.0,1315.7 1358.0,1315.4 1360.0,1315.4 1362.0,1315.9 1364.0,1316.9 1365.5,1318.1 1367.0,1319.7 1368.2,1321.6 1369.0,1323.6 1369.5,1326.1 1369.5,1328.1 1369.0,1330.1 1368.2,1332.1 1367.0,1333.8 1365.5,1335.3 1363.5,1336.5 1361.5,1337.3 1359.5,1337.7" fill="none" stroke="#a8a8a8" stroke-width="0.9"/>
<path d="M1523.6,1234.6h1.6v1.6h-1.6zM1439.6,1234.0h1.6v1.6h-1.6zM1488.5,1263.4h1.6v1.6h-1.6zM1528.3,1235.1h1.6v1.6h-1.6zM1310.8,1295.7h1.6v1.6h-1.6zM1495.6,1265.5h1.6v1.6h-1.6zM1485.4,1220.7h1.6v1.6h-1.6zM1463.4,1233.6h1.6v1.6h-1.6zM1509.0,1295.4h1.6v1.6h-1.6zM1517.5,1244.3h1.6v1.6h-1.6zM1531.2,1231.8h1.6v1.6h-1.6zM1487.6,1205.9h1.6v1.6h-1.6zM1461.9,1227.1h1.6v1.6h-1.6zM1316.6,1295.0h1.6v1.6h-1.6zM1320.1,1255.3h1.6v1.6h-1.6zM1523.6,1258.6h1.6v1.6h-1.6zM1515.4,1261.3h1.6v1.6h-1.6zM1420.1,1241.2h1.6v1.6h-1.6zM1482.5,1204.4h1.6v1.6h-1.6zM1479.8,1280.1h1.6v1.6h-1.6zM1540.5,1222.5h1.6v1.6h-1.6zM1526.5,1268.4h1.6v1.6h-1.6zM1477.4,1291.1h1.6v1.6h-1.6zM1327.9,1199.2h1.6v1.6h-1.6zM1540.6,1223.3h1.6v1.6h-1.6zM1471.1,1219.1h1.6v1.6h-1.6zM1486.5,1292.0h1.6v1.6h-1.6zM1534.1,1186.2h1.6v1.6h-1.6zM1475.2,1290.4h1.6v1.6h-1.6zM1531.4,1232.2h1.6v1.6h-1.6zM1502.7,1259.1h1.6v1.6h-1.6zM1521.2,1255.7h1.6v1.6h-1.6zM1443.8,1240.2h1.6v1.6h-1.6zM1460.9,1215.3h1.6v1.6h-1.6zM1457.7,1239.5h1.6v1.6h-1.6zM1513.7,1254.2h1.6v1.6h-1.6zM1332.5,1188.8h1.6v1.6h-1.6zM1526.3,1207.6h1.6v1.6h-1.6zM1480.3,1269.3h1.6v1.6h-1.6zM1541.4,1239.4h1.6v1.6h-1.6zM1535.0,1220.0h1.6v1.6h-1.6zM1456.9,1235.5h1.6v1.6h-1.6zM1496.2,1258.9h1.6v1.6h-1.6zM1519.5,1237.0h1.6v1.6h-1.6zM1450.0,1245.2h1.6v1.6h-1.6zM1536.5,1228.2h1.6v1.6h-1.6zM1320.3,1232.3h1.6v1.6h-1.6zM1443.9,1239.4h1.6v1.6h-1.6zM1489.8,1264.9h1.6v1.6h-1.6zM1463.0,1247.9h1.6v1.6h-1.6zM1336.9,1182.2h1.6v1.6h-1.6zM1522.5,1237.9h1.6v1.6h-1.6zM1467.5,1225.0h1.6v1.6h-1.6zM1462.0,1243.7h1.6v1.6h-1.6zM1494.5,1274.3h1.6v1.6h-1.6zM1573.3,1218.7h1.6v1.6h-1.6zM1498.4,1260.4h1.6v1.6h-1.6zM1481.4,1262.5h1.6v1.6h-1.6zM1533.1,1274.2h1.6v1.6h-1.6zM1505.4,1265.5h1.6v1.6h-1.6zM1455.7,1227.1h1.6v1.6h-1.6zM1319.0,1269.4h1.6v1.6h-1.6zM1480.6,1273.7h1.6v1.6h-1.6zM1523.1,1232.7h1.6v1.6h-1.6zM1486.5,1265.9h1.6v1.6h-1.6zM1498.6,1201.7h1.6v1.6h-1.6zM1533.3,1222.6h1.6v1.6h-1.6zM1534.2,1221.4h1.6v1.6h-1.6zM1453.8,1234.0h1.6v1.6h-1.6zM1557.9,1221.0h1.6v1.6h-1.6zM1470.6,1269.6h1.6v1.6h-1.6zM1612.5,1339.8h1.6v1.6h-1.6zM1507.1,1267.4h1.6v1.6h-1.6zM1513.4,1251.9h1.6v1.6h-1.6zM1425.3,1241.7h1.6v1.6h-1.6zM1531.9,1229.8h1.6v1.6h-1.6zM1518.5,1261.4h1.6v1.6h-1.6zM1395.0,1199.6h1.6v1.6h-1.6zM1437.1,1245.0h1.6v1.6h-1.6zM1453.0,1236.9h1.6v1.6h-1.6zM1310.1,1342.8h1.6v1.6h-1.6zM1451.7,1211.5h1.6v1.6h-1.6zM1454.6,1194.7h1.6v1.6h-1.6zM1520.1,1258.3h1.6v1.6h-1.6zM1485.8,1216.9h1.6v1.6h-1.6zM1514.0,1252.4h1.6v1.6h-1.6zM1476.6,1271.3h1.6v1.6h-1.6zM1463.0,1251.2h1.6v1.6h-1.6zM1451.5,1224.6h1.6v1.6h-1.6zM1485.3,1267.3h1.6v1.6h-1.6zM1437.3,1246.1h1.6v1.6h-1.6zM1559.2,1219.3h1.6v1.6h-1.6zM1524.2,1204.4h1.6v1.6h-1.6zM1481.7,1268.1h1.6v1.6h-1.6zM1431.6,1232.2h1.6v1.6h-1.6zM1461.4,1235.4h1.6v1.6h-1.6zM1566.6,1333.1h1.6v1.6h-1.6zM1528.2,1210.8h1.6v1.6h-1.6zM1469.7,1272.2h1.6v1.6h-1.6zM1553.4,1205.1h1.6v1.6h-1.6zM1511.4,1291.6h1.6v1.6h-1.6zM1479.5,1278.0h1.6v1.6h-1.6zM1526.1,1231.1h1.6v1.6h-1.6zM1467.2,1223.1h1.6v1.6h-1.6zM1534.3,1193.0h1.6v1.6h-1.6zM1542.1,1221.9h1.6v1.6h-1.6zM1314.8,1278.8h1.6v1.6h-1.6zM1529.6,1212.6h1.6v1.6h-1.6zM1534.0,1270.6h1.6v1.6h-1.6zM1496.9,1255.4h1.6v1.6h-1.6zM1484.5,1266.7h1.6v1.6h-1.6zM1455.8,1251.3h1.6v1.6h-1.6zM1484.2,1264.5h1.6v1.6h-1.6zM1551.9,1232.2h1.6v1.6h-1.6zM1480.6,1213.9h1.6v1.6h-1.6zM1409.6,1235.5h1.6v1.6h-1.6zM1316.1,1297.9h1.6v1.6h-1.6zM1524.6,1213.6h1.6v1.6h-1.6zM1532.1,1255.6h1.6v1.6h-1.6zM1524.6,1241.0h1.6v1.6h-1.6zM1510.2,1264.9h1.6v1.6h-1.6zM1503.9,1269.1h1.6v1.6h-1.6zM1454.3,1239.2h1.6v1.6h-1.6zM1503.0,1188.1h1.6v1.6h-1.6zM1473.4,1226.9h1.6v1.6h-1.6zM1526.9,1220.5h1.6v1.6h-1.6zM1513.5,1293.0h1.6v1.6h-1.6zM1526.5,1231.7h1.6v1.6h-1.6zM1544.6,1200.8h1.6v1.6h-1.6zM1472.6,1263.0h1.6v1.6h-1.6zM1495.0,1258.8h1.6v1.6h-1.6zM1492.5,1262.1h1.6v1.6h-1.6zM1496.2,1193.1h1.6v1.6h-1.6zM1517.9,1214.3h1.6v1.6h-1.6zM1562.6,1245.7h1.6v1.6h-1.6zM1511.3,1296.0h1.6v1.6h-1.6zM1446.3,1229.1h1.6v1.6h-1.6zM1567.7,1326.1h1.6v1.6h-1.6zM1466.8,1282.2h1.6v1.6h-1.6zM1446.4,1249.6h1.6v1.6h-1.6zM1362.2,1170.8h1.6v1.6h-1.6zM1490.7,1218.9h1.6v1.6h-1.6zM1412.7,1243.5h1.6v1.6h-1.6zM1471.5,1233.4h1.6v1.6h-1.6zM1545.5,1194.8h1.6v1.6h-1.6zM1462.6,1242.3h1.6v1.6h-1.6zM1550.8,1276.2h1.6v1.6h-1.6zM1351.0,1196.6h1.6v1.6h-1.6zM1483.1,1209.4h1.6v1.6h-1.6zM1527.3,1256.6h1.6v1.6h-1.6zM1328.1,1180.0h1.6v1.6h-1.6zM1531.9,1163.4h1.6v1.6h-1.6zM1457.3,1241.4h1.6v1.6h-1.6zM1508.1,1249.3h1.6v1.6h-1.6zM1584.8,1323.2h1.6v1.6h-1.6zM1532.2,1218.3h1.6v1.6h-1.6zM1355.7,1203.6h1.6v1.6h-1.6zM1516.9,1214.5h1.6v1.6h-1.6zM1533.2,1216.0h1.6v1.6h-1.6zM1529.0,1269.9h1.6v1.6h-1.6zM1539.4,1189.4h1.6v1.6h-1.6zM1415.8,1230.3h1.6v1.6h-1.6zM1324.3,1220.4h1.6v1.6h-1.6zM1402.5,1174.4h1.6v1.6h-1.6zM1394.4,1222.6h1.6v1.6h-1.6zM1538.3,1189.4h1.6v1.6h-1.6zM1550.7,1321.5h1.6v1.6h-1.6zM1445.3,1239.9h1.6v1.6h-1.6zM1501.3,1202.3h1.6v1.6h-1.6zM1447.3,1233.8h1.6v1.6h-1.6zM1529.7,1217.2h1.6v1.6h-1.6zM1481.1,1260.3h1.6v1.6h-1.6zM1501.8,1259.2h1.6v1.6h-1.6zM1481.8,1200.4h1.6v1.6h-1.6zM1447.1,1248.0h1.6v1.6h-1.6zM1488.9,1294.5h1.6v1.6h-1.6zM1533.3,1213.9h1.6v1.6h-1.6zM1496.7,1277.1h1.6v1.6h-1.6zM1474.2,1273.9h1.6v1.6h-1.6zM1572.9,1223.8h1.6v1.6h-1.6zM1529.2,1250.9h1.6v1.6h-1.6zM1462.9,1229.7h1.6v1.6h-1.6zM1501.9,1255.3h1.6v1.6h-1.6zM1529.0,1270.5h1.6v1.6h-1.6zM1501.5,1257.2h1.6v1.6h-1.6zM1454.9,1227.4h1.6v1.6h-1.6zM1488.4,1277.5h1.6v1.6h-1.6zM1456.4,1224.3h1.6v1.6h-1.6zM1438.1,1241.4h1.6v1.6h-1.6zM1311.5,1349.6h1.6v1.6h-1.6zM1508.4,1261.8h1.6v1.6h-1.6zM1485.1,1266.1h1.6v1.6h-1.6zM1514.7,1205.3h1.6v1.6h-1.6zM1449.8,1246.5h1.6v1.6h-1.6zM1313.3,1308.9h1.6v1.6h-1.6zM1483.1,1203.0h1.6v1.6h-1.6zM1308.9,1274.0h1.6v1.6h-1.6zM1535.6,1266.2h1.6v1.6h-1.6zM1306.8,1292.3h1.6v1.6h-1.6zM1502.8,1271.0h1.6v1.6h-1.6zM1502.7,1213.6h1.6v1.6h-1.6zM1491.6,1259.2h1.6v1.6h-1.6zM1464.3,1282.7h1.6v1.6h-1.6zM1416.2,1237.2h1.6v1.6h-1.6zM1440.0,1220.4h1.6v1.6h-1.6zM1482.4,1226.0h1.6v1.6h-1.6zM1462.0,1244.5h1.6v1.6h-1.6zM1361.5,1199.7h1.6v1.6h-1.6zM1434.0,1242.4h1.6v1.6h-1.6zM1520.4,1195.6h1.6v1.6h-1.6zM1515.3,1209.2h1.6v1.6h-1.6zM1521.1,1253.1h1.6v1.6h-1.6zM1339.0,1200.3h1.6v1.6h-1.6zM1506.3,1255.0h1.6v1.6h-1.6zM1494.7,1270.8h1.6v1.6h-1.6zM1454.2,1247.0h1.6v1.6h-1.6zM1547.6,1233.5h1.6v1.6h-1.6zM1475.3,1282.2h1.6v1.6h-1.6zM1520.7,1274.9h1.6v1.6h-1.6zM1470.2,1264.6h1.6v1.6h-1.6zM1529.0,1193.9h1.6v1.6h-1.6zM1486.7,1216.4h1.6v1.6h-1.6zM1463.9,1221.1h1.6v1.6h-1.6zM1326.3,1212.4h1.6v1.6h-1.6zM1399.8,1220.2h1.6v1.6h-1.6zM1479.8,1168.3h1.6v1.6h-1.6zM1480.0,1268.8h1.6v1.6h-1.6zM1534.9,1228.1h1.6v1.6h-1.6zM1524.5,1221.2h1.6v1.6h-1.6zM1538.6,1248.1h1.6v1.6h-1.6zM1466.4,1246.4h1.6v1.6h-1.6zM1528.0,1239.2h1.6v1.6h-1.6zM1523.5,1231.5h1.6v1.6h-1.6zM1310.7,1298.6h1.6v1.6h-1.6zM1365.2,1207.2h1.6v1.6h-1.6zM1491.1,1287.5h1.6v1.6h-1.6zM1417.3,1236.2h1.6v1.6h-1.6zM1514.1,1191.1h1.6v1.6h-1.6zM1490.8,1275.1h1.6v1.6h-1.6zM1471.9,1231.9h1.6v1.6h-1.6zM1523.1,1234.0h1.6v1.6h-1.6zM1471.7,1219.5h1.6v1.6h-1.6zM1529.5,1257.9h1.6v1.6h-1.6zM1494.0,1210.1h1.6v1.6h-1.6zM1313.3,1296.9h1.6v1.6h-1.6zM1320.8,1255.0h1.6v1.6h-1.6zM1480.1,1283.2h1.6v1.6h-1.6zM1527.9,1236.3h1.6v1.6h-1.6zM1531.6,1245.2h1.6v1.6h-1.6zM1307.5,1347.3h1.6v1.6h-1.6zM1584.3,1343.7h1.6v1.6h-1.6zM1534.8,1232.9h1.6v1.6h-1.6zM1535.6,1238.5h1.6v1.6h-1.6zM1465.4,1284.9h1.6v1.6h-1.6zM1515.6,1243.7h1.6v1.6h-1.6zM1498.9,1268.8h1.6v1.6h-1.6zM1512.5,1167.0h1.6v1.6h-1.6zM1494.5,1265.4h1.6v1.6h-1.6zM1498.4,1198.0h1.6v1.6h-1.6zM1521.8,1236.0h1.6v1.6h-1.6zM1481.0,1284.3h1.6v1.6h-1.6zM1533.0,1251.4h1.6v1.6h-1.6zM1312.3,1305.3h1.6v1.6h-1.6zM1511.0,1198.0h1.6v1.6h-1.6zM1517.7,1244.4h1.6v1.6h-1.6zM1489.7,1210.2h1.6v1.6h-1.6zM1485.4,1266.8h1.6v1.6h-1.6zM1482.4,1259.8h1.6v1.6h-1.6zM1526.6,1227.6h1.6v1.6h-1.6zM1476.3,1263.7h1.6v1.6h-1.6zM1315.7,1265.4h1.6v1.6h-1.6zM1500.1,1275.3h1.6v1.6h-1.6zM1353.0,1205.8h1.6v1.6h-1.6zM1496.9,1204.2h1.6v1.6h-1.6zM1476.3,1261.9h1.6v1.6h-1.6zM1447.6,1247.8h1.6v1.6h-1.6zM1469.9,1214.4h1.6v1.6h-1.6zM1504.4,1257.2h1.6v1.6h-1.6zM1417.8,1245.1h1.6v1.6h-1.6zM1530.7,1227.2h1.6v1.6h-1.6zM1487.8,1258.8h1.6v1.6h-1.6zM1330.4,1224.4h1.6v1.6h-1.6zM1523.7,1274.7h1.6v1.6h-1.6zM1514.9,1242.7h1.6v1.6h-1.6zM1482.7,1206.8h1.6v1.6h-1.6zM1454.6,1252.2h1.6v1.6h-1.6zM1530.9,1214.9h1.6v1.6h-1.6zM1492.1,1263.0h1.6v1.6h-1.6zM1409.9,1225.2h1.6v1.6h-1.6zM1516.9,1272.4h1.6v1.6h-1.6zM1529.6,1218.8h1.6v1.6h-1.6zM1346.3,1205.8h1.6v1.6h-1.6zM1540.2,1240.7h1.6v1.6h-1.6zM1513.3,1263.0h1.6v1.6h-1.6zM1513.3,1198.9h1.6v1.6h-1.6zM1441.9,1234.1h1.6v1.6h-1.6zM1510.6,1256.4h1.6v1.6h-1.6zM1575.0,1227.3h1.6v1.6h-1.6zM1522.9,1233.2h1.6v1.6h-1.6zM1509.8,1293.2h1.6v1.6h-1.6zM1529.2,1242.8h1.6v1.6h-1.6zM1521.2,1249.0h1.6v1.6h-1.6zM1468.4,1205.7h1.6v1.6h-1.6zM1558.3,1217.8h1.6v1.6h-1.6zM1469.5,1289.6h1.6v1.6h-1.6zM1474.5,1262.6h1.6v1.6h-1.6zM1457.3,1231.3h1.6v1.6h-1.6zM1484.6,1291.6h1.6v1.6h-1.6zM1534.3,1303.9h1.6v1.6h-1.6zM1531.6,1230.3h1.6v1.6h-1.6zM1320.7,1241.2h1.6v1.6h-1.6zM1537.8,1282.9h1.6v1.6h-1.6zM1471.4,1273.8h1.6v1.6h-1.6zM1518.9,1238.9h1.6v1.6h-1.6zM1355.6,1187.6h1.6v1.6h-1.6zM1537.9,1239.6h1.6v1.6h-1.6zM1541.1,1235.7h1.6v1.6h-1.6zM1420.5,1224.4h1.6v1.6h-1.6zM1465.5,1222.0h1.6v1.6h-1.6zM1316.1,1278.4h1.6v1.6h-1.6zM1317.9,1294.2h1.6v1.6h-1.6zM1543.9,1240.5h1.6v1.6h-1.6zM1425.6,1245.6h1.6v1.6h-1.6zM1442.1,1242.3h1.6v1.6h-1.6zM1517.2,1263.9h1.6v1.6h-1.6zM1453.3,1235.1h1.6v1.6h-1.6zM1445.3,1213.7h1.6v1.6h-1.6zM1515.3,1249.3h1.6v1.6h-1.6zM1320.9,1250.3h1.6v1.6h-1.6zM1396.2,1225.0h1.6v1.6h-1.6z" fill="#111"/>
<ellipse cx="1505.0" cy="1230.5" rx="67.1" ry="54.1" transform="rotate(-43 1505.0 1230.5)" fill="none" stroke="#111" stroke-width="2"/>
<text transform="translate(1609.5,1094.0) scale(0.93,1)" font-size="29.8" font-family="'DejaVu Sans Mono', monospace" text-anchor="end" fill="#111">7.50</text>
<rect x="1298.5" y="1035.6" width="319.0" height="318.5" fill="none" stroke="#111" stroke-width="4.6"/>
<line x1="1291.5" y1="1060.8" x2="1298.5" y2="1060.8" stroke="#111" stroke-width="1.6"/>
<line x1="1291.5" y1="1119.0" x2="1298.5" y2="1119.0" stroke="#111" stroke-width="1.6"/>
<line x1="1291.5" y1="1179.8" x2="1298.5" y2="1179.8" stroke="#111" stroke-width="1.6"/>
<line x1="1291.5" y1="1241.6" x2="1298.5" y2="1241.6" stroke="#111" stroke-width="1.6"/>
<line x1="1291.5" y1="1274.1" x2="1298.5" y2="1274.1" stroke="#111" stroke-width="1.6"/>
<line x1="1291.5" y1="1308.4" x2="1298.5" y2="1308.4" stroke="#111" stroke-width="1.6"/>
<line x1="1295.0" y1="1101.5" x2="1298.5" y2="1101.5" stroke="#111" stroke-width="1.6"/>
<line x1="1295.0" y1="1091.2" x2="1298.5" y2="1091.2" stroke="#111" stroke-width="1.6"/>
<line x1="1295.0" y1="1084.0" x2="1298.5" y2="1084.0" stroke="#111" stroke-width="1.6"/>
<line x1="1295.0" y1="1078.3" x2="1298.5" y2="1078.3" stroke="#111" stroke-width="1.6"/>
<line x1="1295.0" y1="1073.7" x2="1298.5" y2="1073.7" stroke="#111" stroke-width="1.6"/>
<line x1="1295.0" y1="1069.8" x2="1298.5" y2="1069.8" stroke="#111" stroke-width="1.6"/>
<line x1="1295.0" y1="1066.4" x2="1298.5" y2="1066.4" stroke="#111" stroke-width="1.6"/>
<line x1="1295.0" y1="1063.5" x2="1298.5" y2="1063.5" stroke="#111" stroke-width="1.6"/>
<line x1="1295.0" y1="1161.5" x2="1298.5" y2="1161.5" stroke="#111" stroke-width="1.6"/>
<line x1="1295.0" y1="1150.8" x2="1298.5" y2="1150.8" stroke="#111" stroke-width="1.6"/>
<line x1="1295.0" y1="1143.2" x2="1298.5" y2="1143.2" stroke="#111" stroke-width="1.6"/>
<line x1="1295.0" y1="1137.3" x2="1298.5" y2="1137.3" stroke="#111" stroke-width="1.6"/>
<line x1="1295.0" y1="1132.5" x2="1298.5" y2="1132.5" stroke="#111" stroke-width="1.6"/>
<line x1="1295.0" y1="1128.4" x2="1298.5" y2="1128.4" stroke="#111" stroke-width="1.6"/>
<line x1="1295.0" y1="1124.9" x2="1298.5" y2="1124.9" stroke="#111" stroke-width="1.6"/>
<line x1="1295.0" y1="1121.8" x2="1298.5" y2="1121.8" stroke="#111" stroke-width="1.6"/>
<line x1="1295.0" y1="1223.0" x2="1298.5" y2="1223.0" stroke="#111" stroke-width="1.6"/>
<line x1="1295.0" y1="1212.1" x2="1298.5" y2="1212.1" stroke="#111" stroke-width="1.6"/>
<line x1="1295.0" y1="1204.4" x2="1298.5" y2="1204.4" stroke="#111" stroke-width="1.6"/>
<line x1="1295.0" y1="1198.4" x2="1298.5" y2="1198.4" stroke="#111" stroke-width="1.6"/>
<line x1="1295.0" y1="1193.5" x2="1298.5" y2="1193.5" stroke="#111" stroke-width="1.6"/>
<line x1="1295.0" y1="1189.4" x2="1298.5" y2="1189.4" stroke="#111" stroke-width="1.6"/>
<line x1="1295.0" y1="1185.8" x2="1298.5" y2="1185.8" stroke="#111" stroke-width="1.6"/>
<line x1="1295.0" y1="1182.6" x2="1298.5" y2="1182.6" stroke="#111" stroke-width="1.6"/>
<line x1="1295.0" y1="1267.6" x2="1298.5" y2="1267.6" stroke="#111" stroke-width="1.6"/>
<line x1="1295.0" y1="1271.6" x2="1298.5" y2="1271.6" stroke="#111" stroke-width="1.6"/>
<line x1="1295.0" y1="1276.6" x2="1298.5" y2="1276.6" stroke="#111" stroke-width="1.6"/>
<line x1="1295.0" y1="1280.6" x2="1298.5" y2="1280.6" stroke="#111" stroke-width="1.6"/>
<line x1="1295.0" y1="1335.6" x2="1298.5" y2="1335.6" stroke="#111" stroke-width="1.6"/>
<line x1="1295.0" y1="1347.6" x2="1298.5" y2="1347.6" stroke="#111" stroke-width="1.6"/>
<line x1="1357.5" y1="1354.6" x2="1357.5" y2="1361.6" stroke="#111" stroke-width="1.6"/>
<line x1="1446.5" y1="1354.6" x2="1446.5" y2="1361.6" stroke="#111" stroke-width="1.6"/>
<line x1="1517.5" y1="1354.6" x2="1517.5" y2="1361.6" stroke="#111" stroke-width="1.6"/>
<line x1="1587.5" y1="1354.6" x2="1587.5" y2="1361.6" stroke="#111" stroke-width="1.6"/>
<line x1="1467.9" y1="1354.6" x2="1467.9" y2="1358.1" stroke="#111" stroke-width="1.6"/>
<line x1="1480.4" y1="1354.6" x2="1480.4" y2="1358.1" stroke="#111" stroke-width="1.6"/>
<line x1="1489.2" y1="1354.6" x2="1489.2" y2="1358.1" stroke="#111" stroke-width="1.6"/>
<line x1="1496.1" y1="1354.6" x2="1496.1" y2="1358.1" stroke="#111" stroke-width="1.6"/>
<line x1="1501.7" y1="1354.6" x2="1501.7" y2="1358.1" stroke="#111" stroke-width="1.6"/>
<line x1="1506.5" y1="1354.6" x2="1506.5" y2="1358.1" stroke="#111" stroke-width="1.6"/>
<line x1="1510.6" y1="1354.6" x2="1510.6" y2="1358.1" stroke="#111" stroke-width="1.6"/>
<line x1="1514.3" y1="1354.6" x2="1514.3" y2="1358.1" stroke="#111" stroke-width="1.6"/>
<line x1="1538.6" y1="1354.6" x2="1538.6" y2="1358.1" stroke="#111" stroke-width="1.6"/>
<line x1="1550.9" y1="1354.6" x2="1550.9" y2="1358.1" stroke="#111" stroke-width="1.6"/>
<line x1="1559.6" y1="1354.6" x2="1559.6" y2="1358.1" stroke="#111" stroke-width="1.6"/>
<line x1="1566.4" y1="1354.6" x2="1566.4" y2="1358.1" stroke="#111" stroke-width="1.6"/>
<line x1="1572.0" y1="1354.6" x2="1572.0" y2="1358.1" stroke="#111" stroke-width="1.6"/>
<line x1="1576.7" y1="1354.6" x2="1576.7" y2="1358.1" stroke="#111" stroke-width="1.6"/>
<line x1="1580.7" y1="1354.6" x2="1580.7" y2="1358.1" stroke="#111" stroke-width="1.6"/>
<line x1="1584.3" y1="1354.6" x2="1584.3" y2="1358.1" stroke="#111" stroke-width="1.6"/>
<line x1="1419.7" y1="1354.6" x2="1419.7" y2="1358.1" stroke="#111" stroke-width="1.6"/>
<line x1="1426.8" y1="1354.6" x2="1426.8" y2="1358.1" stroke="#111" stroke-width="1.6"/>
<line x1="1432.7" y1="1354.6" x2="1432.7" y2="1358.1" stroke="#111" stroke-width="1.6"/>
<line x1="1437.9" y1="1354.6" x2="1437.9" y2="1358.1" stroke="#111" stroke-width="1.6"/>
<line x1="1442.4" y1="1354.6" x2="1442.4" y2="1358.1" stroke="#111" stroke-width="1.6"/>
<line x1="1310.5" y1="1354.6" x2="1310.5" y2="1358.1" stroke="#111" stroke-width="1.6"/>
<line x1="1320.5" y1="1354.6" x2="1320.5" y2="1358.1" stroke="#111" stroke-width="1.6"/>
<line x1="1330.5" y1="1354.6" x2="1330.5" y2="1358.1" stroke="#111" stroke-width="1.6"/>
<line x1="1338.5" y1="1354.6" x2="1338.5" y2="1358.1" stroke="#111" stroke-width="1.6"/>
<line x1="1344.5" y1="1354.6" x2="1344.5" y2="1358.1" stroke="#111" stroke-width="1.6"/>
<line x1="1348.5" y1="1354.6" x2="1348.5" y2="1358.1" stroke="#111" stroke-width="1.6"/>
<line x1="1352.5" y1="1354.6" x2="1352.5" y2="1358.1" stroke="#111" stroke-width="1.6"/>
<line x1="1355.5" y1="1354.6" x2="1355.5" y2="1358.1" stroke="#111" stroke-width="1.6"/>
<line x1="1359.5" y1="1354.6" x2="1359.5" y2="1358.1" stroke="#111" stroke-width="1.6"/>
<line x1="1362.5" y1="1354.6" x2="1362.5" y2="1358.1" stroke="#111" stroke-width="1.6"/>
<line x1="1366.5" y1="1354.6" x2="1366.5" y2="1358.1" stroke="#111" stroke-width="1.6"/>
<line x1="1370.5" y1="1354.6" x2="1370.5" y2="1358.1" stroke="#111" stroke-width="1.6"/>
<line x1="1376.5" y1="1354.6" x2="1376.5" y2="1358.1" stroke="#111" stroke-width="1.6"/>
<line x1="1384.5" y1="1354.6" x2="1384.5" y2="1358.1" stroke="#111" stroke-width="1.6"/>
<line x1="1394.5" y1="1354.6" x2="1394.5" y2="1358.1" stroke="#111" stroke-width="1.6"/>
<line x1="1408.5" y1="1354.6" x2="1408.5" y2="1358.1" stroke="#111" stroke-width="1.6"/>
<text transform="translate(1284.0,1072.9) scale(0.97,1)" font-size="17.6" font-family="'DejaVu Sans', sans-serif" text-anchor="end" fill="#111">10<tspan dx="2.2" dy="-14">5</tspan></text>
<text transform="translate(1284.0,1131.1) scale(0.97,1)" font-size="17.6" font-family="'DejaVu Sans', sans-serif" text-anchor="end" fill="#111">10<tspan dx="2.2" dy="-14">4</tspan></text>
<text transform="translate(1284.0,1191.9) scale(0.97,1)" font-size="17.6" font-family="'DejaVu Sans', sans-serif" text-anchor="end" fill="#111">10<tspan dx="2.2" dy="-14">3</tspan></text>
<text transform="translate(1284.0,1253.7) scale(0.97,1)" font-size="17.6" font-family="'DejaVu Sans', sans-serif" text-anchor="end" fill="#111">10<tspan dx="2.2" dy="-14">2</tspan></text>
<text transform="translate(1273.5,1282.6) scale(0.97,1)" font-size="17.6" font-family="'DejaVu Sans', sans-serif" text-anchor="end" fill="#111">0</text>
<text transform="translate(1284.0,1320.4) scale(0.97,1)" font-size="17.6" font-family="'DejaVu Sans', sans-serif" text-anchor="end" fill="#111">-10<tspan dx="2.2" dy="-14">2</tspan></text>
<text transform="translate(1357.5,1390.4) scale(0.97,1)" font-size="17.6" font-family="'DejaVu Sans', sans-serif" text-anchor="middle" fill="#111">0</text>
<text transform="translate(1474.3,1390.4) scale(0.97,1)" font-size="17.6" font-family="'DejaVu Sans', sans-serif" text-anchor="end" fill="#111">10<tspan dx="2.2" dy="-11.4">3</tspan></text>
<text transform="translate(1545.3,1390.4) scale(0.97,1)" font-size="17.6" font-family="'DejaVu Sans', sans-serif" text-anchor="end" fill="#111">10<tspan dx="2.2" dy="-11.4">4</tspan></text>
<text transform="translate(1615.3,1390.4) scale(0.97,1)" font-size="17.6" font-family="'DejaVu Sans', sans-serif" text-anchor="end" fill="#111">10<tspan dx="2.2" dy="-11.4">5</tspan></text>
<text transform="translate(82.95,834.65) rotate(-90) scale(0.9234,1)" font-size="34.61" text-anchor="middle" fill="#231815" font-family="'Liberation Sans', Arial, sans-serif">PD-1-PE</text>
<text transform="translate(82.30,1200.65) rotate(-90) scale(0.9832,1)" font-size="32.57" text-anchor="middle" fill="#231815" font-family="'Liberation Sans', Arial, sans-serif">Bcl6-PE</text>
<text transform="translate(298.05,621.70) scale(0.9265,1)" font-size="34.82" text-anchor="middle" fill="#231815" font-family="'Liberation Sans', Arial, sans-serif">POD0</text>
<text transform="translate(683.95,621.70) scale(0.9158,1)" font-size="34.82" text-anchor="middle" fill="#231815" font-family="'Liberation Sans', Arial, sans-serif">POD14</text>
<text transform="translate(1064.70,621.70) scale(0.8809,1)" font-size="34.82" text-anchor="middle" fill="#231815" font-family="'Liberation Sans', Arial, sans-serif">POD21</text>
<text transform="translate(1470.65,621.70) scale(0.9257,1)" font-size="34.82" text-anchor="middle" fill="#231815" font-family="'Liberation Sans', Arial, sans-serif">POD28</text>
<text transform="translate(303.70,1443.65) scale(0.8993,1)" font-size="36.02" text-anchor="middle" fill="#231815" font-family="'Liberation Sans', Arial, sans-serif">CXCR5-APC</text>
<line x1="407.00" y1="1431.80" x2="1600.00" y2="1431.80" stroke="#000" stroke-width="3" stroke-linecap="butt"/>
<polygon points="1593.8,1421.7 1618.1,1431.8 1593.8,1442.1 1598,1431.8" fill="#000"/>
<rect x="105" y="1537.7" width="110.5" height="295.70000000000005" fill="#fefdfd"/>
<rect x="308.5" y="1793.6" width="67.0" height="53.9" fill="#ffffff" stroke="#111" stroke-width="4"/>
<circle cx="320.0" cy="1801.0" r="5.5" fill="none" stroke="#111" stroke-width="2.3"/>
<circle cx="342.0" cy="1794.7" r="5.5" fill="none" stroke="#111" stroke-width="2.3"/>
<circle cx="350.0" cy="1792.6" r="5.5" fill="none" stroke="#111" stroke-width="2.3"/>
<circle cx="364.0" cy="1782.0" r="5.5" fill="none" stroke="#111" stroke-width="2.3"/>
<line x1="342.00" y1="1799.95" x2="342.00" y2="1785.16" stroke="#111" stroke-width="2.2" stroke-linecap="butt"/>
<line x1="323.00" y1="1799.95" x2="361.00" y2="1799.95" stroke="#111" stroke-width="2.4" stroke-linecap="butt"/>
<line x1="323.00" y1="1785.16" x2="361.00" y2="1785.16" stroke="#111" stroke-width="2.4" stroke-linecap="butt"/>
<rect x="418.5" y="1747.1" width="67.5" height="100.4" fill="#c8c8c8" stroke="#111" stroke-width="4"/>
<rect x="441.1" y="1751.4" width="10.4" height="10.4" fill="none" stroke="#111" stroke-width="2.3"/>
<rect x="441.1" y="1744.0" width="10.4" height="10.4" fill="none" stroke="#111" stroke-width="2.3"/>
<rect x="447.1" y="1727.1" width="10.4" height="10.4" fill="none" stroke="#111" stroke-width="2.3"/>
<rect x="459.1" y="1741.9" width="10.4" height="10.4" fill="none" stroke="#111" stroke-width="2.3"/>
<line x1="452.25" y1="1756.63" x2="452.25" y2="1734.44" stroke="#111" stroke-width="2.2" stroke-linecap="butt"/>
<line x1="433.25" y1="1756.63" x2="471.25" y2="1756.63" stroke="#111" stroke-width="2.4" stroke-linecap="butt"/>
<line x1="433.25" y1="1734.44" x2="471.25" y2="1734.44" stroke="#111" stroke-width="2.4" stroke-linecap="butt"/>
<rect x="528.5" y="1616.1" width="66.5" height="231.4" fill="#959595" stroke="#111" stroke-width="4"/>
<polygon points="553.8,1630.7 560.2,1637.2 553.8,1643.7 547.2,1637.2" fill="none" stroke="#111" stroke-width="2.3"/>
<polygon points="553.8,1615.9 560.2,1622.4 553.8,1628.9 547.2,1622.4" fill="none" stroke="#111" stroke-width="2.3"/>
<polygon points="571.8,1608.5 578.2,1615.0 571.8,1621.5 565.2,1615.0" fill="none" stroke="#111" stroke-width="2.3"/>
<polygon points="561.8,1576.8 568.2,1583.3 561.8,1589.8 555.2,1583.3" fill="none" stroke="#111" stroke-width="2.3"/>
<line x1="561.75" y1="1638.28" x2="561.75" y2="1591.79" stroke="#111" stroke-width="2.2" stroke-linecap="butt"/>
<line x1="542.75" y1="1638.28" x2="580.75" y2="1638.28" stroke="#111" stroke-width="2.4" stroke-linecap="butt"/>
<line x1="542.75" y1="1591.79" x2="580.75" y2="1591.79" stroke="#111" stroke-width="2.4" stroke-linecap="butt"/>
<rect x="638.6" y="1582.3" width="67.0" height="265.2" fill="#6e6e6e" stroke="#111" stroke-width="4"/>
<polygon points="672.1,1619.1 678.3,1630.1 665.9,1630.1" fill="none" stroke="#111" stroke-width="2.3"/>
<polygon points="664.1,1568.4 670.3,1579.4 657.9,1579.4" fill="none" stroke="#111" stroke-width="2.3"/>
<polygon points="682.1,1570.5 688.3,1581.5 675.9,1581.5" fill="none" stroke="#111" stroke-width="2.3"/>
<polygon points="672.1,1547.2 678.3,1558.3 665.9,1558.3" fill="none" stroke="#111" stroke-width="2.3"/>
<line x1="672.10" y1="1612.92" x2="672.10" y2="1550.58" stroke="#111" stroke-width="2.2" stroke-linecap="butt"/>
<line x1="653.10" y1="1612.92" x2="691.10" y2="1612.92" stroke="#111" stroke-width="2.4" stroke-linecap="butt"/>
<line x1="653.10" y1="1550.58" x2="691.10" y2="1550.58" stroke="#111" stroke-width="2.4" stroke-linecap="butt"/>
<line x1="268.80" y1="1528.40" x2="268.80" y2="1849.50" stroke="#000" stroke-width="4.3" stroke-linecap="butt"/>
<line x1="255.60" y1="1847.50" x2="744.40" y2="1847.50" stroke="#000" stroke-width="4.2" stroke-linecap="butt"/>
<line x1="253.80" y1="1847.50" x2="268.80" y2="1847.50" stroke="#000" stroke-width="4.2" stroke-linecap="butt"/>
<text transform="translate(251.20,1859.35) scale(0.9466,1)" font-size="28.95" text-anchor="end" fill="#111" font-family="'Liberation Sans', Arial, sans-serif">0</text>
<line x1="253.80" y1="1741.83" x2="268.80" y2="1741.83" stroke="#000" stroke-width="4.2" stroke-linecap="butt"/>
<text transform="translate(251.20,1753.68) scale(0.9466,1)" font-size="28.95" text-anchor="end" fill="#111" font-family="'Liberation Sans', Arial, sans-serif">10</text>
<line x1="253.80" y1="1636.17" x2="268.80" y2="1636.17" stroke="#000" stroke-width="4.2" stroke-linecap="butt"/>
<text transform="translate(251.20,1648.02) scale(0.9466,1)" font-size="28.95" text-anchor="end" fill="#111" font-family="'Liberation Sans', Arial, sans-serif">20</text>
<line x1="253.80" y1="1530.50" x2="268.80" y2="1530.50" stroke="#000" stroke-width="4.2" stroke-linecap="butt"/>
<text transform="translate(251.20,1542.35) scale(0.9466,1)" font-size="28.95" text-anchor="end" fill="#111" font-family="'Liberation Sans', Arial, sans-serif">30</text>
<line x1="342.00" y1="1847.50" x2="342.00" y2="1861.50" stroke="#000" stroke-width="4.0" stroke-linecap="butt"/>
<text transform="translate(341.75,1888.75) scale(1.1059,1)" font-size="25.37" text-anchor="middle" fill="#111" font-family="'Liberation Sans', Arial, sans-serif">POD0</text>
<line x1="452.25" y1="1847.50" x2="452.25" y2="1861.50" stroke="#000" stroke-width="4.0" stroke-linecap="butt"/>
<text transform="translate(451.45,1888.75) scale(1.0944,1)" font-size="25.37" text-anchor="middle" fill="#111" font-family="'Liberation Sans', Arial, sans-serif">POD14</text>
<line x1="561.75" y1="1847.50" x2="561.75" y2="1861.50" stroke="#000" stroke-width="4.0" stroke-linecap="butt"/>
<text transform="translate(560.70,1888.75) scale(1.0957,1)" font-size="25.37" text-anchor="middle" fill="#111" font-family="'Liberation Sans', Arial, sans-serif">POD21</text>
<line x1="672.10" y1="1847.50" x2="672.10" y2="1861.50" stroke="#000" stroke-width="4.0" stroke-linecap="butt"/>
<text transform="translate(670.55,1888.75) scale(1.1226,1)" font-size="25.37" text-anchor="middle" fill="#111" font-family="'Liberation Sans', Arial, sans-serif">POD28</text>
<line x1="320.90" y1="1586.10" x2="445.10" y2="1586.10" stroke="#111" stroke-width="2.2" stroke-linecap="butt"/>
<text transform="translate(380.45,1584.05) scale(1.0995,1)" font-size="27.34" text-anchor="middle" fill="#111" font-family="'Liberation Sans', Arial, sans-serif">*</text>
<line x1="320.90" y1="1553.70" x2="557.90" y2="1553.70" stroke="#111" stroke-width="2.2" stroke-linecap="butt"/>
<text transform="translate(431.00,1550.00) scale(1.0386,1)" font-size="27.20" text-anchor="middle" fill="#111" font-family="'Liberation Sans', Arial, sans-serif">****</text>
<line x1="320.90" y1="1521.80" x2="685.20" y2="1521.80" stroke="#111" stroke-width="2.2" stroke-linecap="butt"/>
<text transform="translate(501.30,1513.50) scale(1.0386,1)" font-size="27.20" text-anchor="middle" fill="#111" font-family="'Liberation Sans', Arial, sans-serif">****</text>
<text transform="translate(169.15,1700.55) rotate(-90) scale(0.8651,1)" font-size="37.12" text-anchor="middle" fill="#231815" font-family="'Liberation Sans', Arial, sans-serif">%PD-1+CXCR5+</text>
<text transform="translate(209.65,1706.15) rotate(-90) scale(0.9538,1)" font-size="33.79" text-anchor="middle" fill="#231815" font-family="'Liberation Sans', Arial, sans-serif">in CD4+ T cells</text>
<rect x="924" y="1532.7" width="111.5" height="295.70000000000005" fill="#fefdfd"/>
<rect x="1120.0" y="1841.3" width="66.4" height="4.7" fill="#ffffff" stroke="#111" stroke-width="4"/>
<circle cx="1131.2" cy="1842.9" r="5.5" fill="none" stroke="#111" stroke-width="2.3"/>
<circle cx="1145.2" cy="1837.2" r="5.5" fill="none" stroke="#111" stroke-width="2.3"/>
<circle cx="1161.2" cy="1841.3" r="5.5" fill="none" stroke="#111" stroke-width="2.3"/>
<circle cx="1175.2" cy="1839.7" r="5.5" fill="none" stroke="#111" stroke-width="2.3"/>
<line x1="1153.20" y1="1844.43" x2="1153.20" y2="1838.14" stroke="#111" stroke-width="2.2" stroke-linecap="butt"/>
<line x1="1134.20" y1="1844.43" x2="1172.20" y2="1844.43" stroke="#111" stroke-width="2.4" stroke-linecap="butt"/>
<line x1="1134.20" y1="1838.14" x2="1172.20" y2="1838.14" stroke="#111" stroke-width="2.4" stroke-linecap="butt"/>
<rect x="1229.0" y="1787.9" width="66.0" height="58.1" fill="#c8c8c8" stroke="#111" stroke-width="4"/>
<rect x="1248.8" y="1793.7" width="10.4" height="10.4" fill="none" stroke="#111" stroke-width="2.3"/>
<rect x="1248.8" y="1781.1" width="10.4" height="10.4" fill="none" stroke="#111" stroke-width="2.3"/>
<rect x="1264.8" y="1784.2" width="10.4" height="10.4" fill="none" stroke="#111" stroke-width="2.3"/>
<rect x="1274.8" y="1768.5" width="10.4" height="10.4" fill="none" stroke="#111" stroke-width="2.3"/>
<line x1="1262.00" y1="1798.86" x2="1262.00" y2="1776.85" stroke="#111" stroke-width="2.2" stroke-linecap="butt"/>
<line x1="1243.00" y1="1798.86" x2="1281.00" y2="1798.86" stroke="#111" stroke-width="2.4" stroke-linecap="butt"/>
<line x1="1243.00" y1="1776.85" x2="1281.00" y2="1776.85" stroke="#111" stroke-width="2.4" stroke-linecap="butt"/>
<rect x="1338.3" y="1654.3" width="66.2" height="191.7" fill="#959595" stroke="#111" stroke-width="4"/>
<polygon points="1371.4,1676.1 1377.9,1682.6 1371.4,1689.1 1364.9,1682.6" fill="none" stroke="#111" stroke-width="2.3"/>
<polygon points="1371.4,1657.2 1377.9,1663.7 1371.4,1670.2 1364.9,1663.7" fill="none" stroke="#111" stroke-width="2.3"/>
<polygon points="1371.4,1635.2 1377.9,1641.7 1371.4,1648.2 1364.9,1641.7" fill="none" stroke="#111" stroke-width="2.3"/>
<polygon points="1371.4,1616.3 1377.9,1622.8 1371.4,1629.3 1364.9,1622.8" fill="none" stroke="#111" stroke-width="2.3"/>
<line x1="1371.40" y1="1679.42" x2="1371.40" y2="1627.56" stroke="#111" stroke-width="2.2" stroke-linecap="butt"/>
<line x1="1352.40" y1="1679.42" x2="1390.40" y2="1679.42" stroke="#111" stroke-width="2.4" stroke-linecap="butt"/>
<line x1="1352.40" y1="1627.56" x2="1390.40" y2="1627.56" stroke="#111" stroke-width="2.4" stroke-linecap="butt"/>
<rect x="1447.6" y="1607.1" width="66.1" height="238.9" fill="#6e6e6e" stroke="#111" stroke-width="4"/>
<polygon points="1480.7,1622.6 1486.8,1633.7 1474.5,1633.7" fill="none" stroke="#111" stroke-width="2.3"/>
<polygon points="1480.7,1606.9 1486.8,1618.0 1474.5,1618.0" fill="none" stroke="#111" stroke-width="2.3"/>
<polygon points="1466.7,1588.1 1472.8,1599.1 1460.5,1599.1" fill="none" stroke="#111" stroke-width="2.3"/>
<polygon points="1488.7,1584.9 1494.8,1596.0 1482.5,1596.0" fill="none" stroke="#111" stroke-width="2.3"/>
<line x1="1480.65" y1="1622.85" x2="1480.65" y2="1592.99" stroke="#111" stroke-width="2.2" stroke-linecap="butt"/>
<line x1="1461.65" y1="1622.85" x2="1499.65" y2="1622.85" stroke="#111" stroke-width="2.4" stroke-linecap="butt"/>
<line x1="1461.65" y1="1592.99" x2="1499.65" y2="1592.99" stroke="#111" stroke-width="2.4" stroke-linecap="butt"/>
<line x1="1079.60" y1="1529.60" x2="1079.60" y2="1848.00" stroke="#000" stroke-width="4.3" stroke-linecap="butt"/>
<line x1="1068.00" y1="1846.00" x2="1552.80" y2="1846.00" stroke="#000" stroke-width="4.2" stroke-linecap="butt"/>
<line x1="1064.60" y1="1846.00" x2="1079.60" y2="1846.00" stroke="#000" stroke-width="4.2" stroke-linecap="butt"/>
<text transform="translate(1062.00,1857.85) scale(0.9466,1)" font-size="28.95" text-anchor="end" fill="#111" font-family="'Liberation Sans', Arial, sans-serif">0</text>
<line x1="1064.60" y1="1783.14" x2="1079.60" y2="1783.14" stroke="#000" stroke-width="4.2" stroke-linecap="butt"/>
<text transform="translate(1062.00,1794.99) scale(0.9466,1)" font-size="28.95" text-anchor="end" fill="#111" font-family="'Liberation Sans', Arial, sans-serif">2</text>
<line x1="1064.60" y1="1720.28" x2="1079.60" y2="1720.28" stroke="#000" stroke-width="4.2" stroke-linecap="butt"/>
<text transform="translate(1062.00,1732.13) scale(0.9466,1)" font-size="28.95" text-anchor="end" fill="#111" font-family="'Liberation Sans', Arial, sans-serif">4</text>
<line x1="1064.60" y1="1657.42" x2="1079.60" y2="1657.42" stroke="#000" stroke-width="4.2" stroke-linecap="butt"/>
<text transform="translate(1062.00,1669.27) scale(0.9466,1)" font-size="28.95" text-anchor="end" fill="#111" font-family="'Liberation Sans', Arial, sans-serif">6</text>
<line x1="1064.60" y1="1594.56" x2="1079.60" y2="1594.56" stroke="#000" stroke-width="4.2" stroke-linecap="butt"/>
<text transform="translate(1062.00,1606.41) scale(0.9466,1)" font-size="28.95" text-anchor="end" fill="#111" font-family="'Liberation Sans', Arial, sans-serif">8</text>
<line x1="1064.60" y1="1531.70" x2="1079.60" y2="1531.70" stroke="#000" stroke-width="4.2" stroke-linecap="butt"/>
<text transform="translate(1062.00,1543.55) scale(0.9466,1)" font-size="28.95" text-anchor="end" fill="#111" font-family="'Liberation Sans', Arial, sans-serif">10</text>
<line x1="1153.20" y1="1846.00" x2="1153.20" y2="1860.00" stroke="#000" stroke-width="4.0" stroke-linecap="butt"/>
<text transform="translate(1152.95,1887.85) scale(1.1059,1)" font-size="25.37" text-anchor="middle" fill="#111" font-family="'Liberation Sans', Arial, sans-serif">POD0</text>
<line x1="1262.00" y1="1846.00" x2="1262.00" y2="1860.00" stroke="#000" stroke-width="4.0" stroke-linecap="butt"/>
<text transform="translate(1261.20,1887.85) scale(1.0944,1)" font-size="25.37" text-anchor="middle" fill="#111" font-family="'Liberation Sans', Arial, sans-serif">POD14</text>
<line x1="1371.40" y1="1846.00" x2="1371.40" y2="1860.00" stroke="#000" stroke-width="4.0" stroke-linecap="butt"/>
<text transform="translate(1370.35,1887.85) scale(1.0957,1)" font-size="25.37" text-anchor="middle" fill="#111" font-family="'Liberation Sans', Arial, sans-serif">POD21</text>
<line x1="1480.65" y1="1846.00" x2="1480.65" y2="1860.00" stroke="#000" stroke-width="4.0" stroke-linecap="butt"/>
<text transform="translate(1479.10,1887.85) scale(1.1226,1)" font-size="25.37" text-anchor="middle" fill="#111" font-family="'Liberation Sans', Arial, sans-serif">POD28</text>
<line x1="1131.80" y1="1608.40" x2="1255.00" y2="1608.40" stroke="#111" stroke-width="2.2" stroke-linecap="butt"/>
<text transform="translate(1197.00,1604.00) scale(1.0386,1)" font-size="27.20" text-anchor="middle" fill="#111" font-family="'Liberation Sans', Arial, sans-serif">**</text>
<line x1="1131.80" y1="1575.80" x2="1369.40" y2="1575.80" stroke="#111" stroke-width="2.2" stroke-linecap="butt"/>
<text transform="translate(1255.00,1571.00) scale(1.0386,1)" font-size="27.20" text-anchor="middle" fill="#111" font-family="'Liberation Sans', Arial, sans-serif">**</text>
<line x1="1131.80" y1="1544.20" x2="1495.70" y2="1544.20" stroke="#111" stroke-width="2.2" stroke-linecap="butt"/>
<text transform="translate(1307.00,1535.50) scale(1.0386,1)" font-size="27.20" text-anchor="middle" fill="#111" font-family="'Liberation Sans', Arial, sans-serif">***</text>
<text transform="translate(981.65,1681.05) rotate(-90) scale(0.9569,1)" font-size="33.79" text-anchor="middle" fill="#231815" font-family="'Liberation Sans', Arial, sans-serif">%CXCR5+Bcl6+</text>
<text transform="translate(1020.05,1681.15) rotate(-90) scale(0.9584,1)" font-size="33.55" text-anchor="middle" fill="#231815" font-family="'Liberation Sans', Arial, sans-serif">in CD4+ T cells</text>
<rect x="104" y="1985" width="110.5" height="291" fill="#fefdfd"/>
<rect x="307.8" y="2257.6" width="68.6" height="29.4" fill="#ffffff" stroke="#111" stroke-width="4"/>
<circle cx="320.1" cy="2259.9" r="5.5" fill="none" stroke="#111" stroke-width="2.3"/>
<circle cx="334.1" cy="2254.4" r="5.5" fill="none" stroke="#111" stroke-width="2.3"/>
<circle cx="350.1" cy="2258.4" r="5.5" fill="none" stroke="#111" stroke-width="2.3"/>
<circle cx="364.1" cy="2259.1" r="5.5" fill="none" stroke="#111" stroke-width="2.3"/>
<line x1="342.10" y1="2259.94" x2="342.10" y2="2255.17" stroke="#111" stroke-width="2.2" stroke-linecap="butt"/>
<line x1="323.10" y1="2259.94" x2="361.10" y2="2259.94" stroke="#111" stroke-width="2.4" stroke-linecap="butt"/>
<line x1="323.10" y1="2255.17" x2="361.10" y2="2255.17" stroke="#111" stroke-width="2.4" stroke-linecap="butt"/>
<rect x="418.0" y="2232.1" width="68.7" height="54.9" fill="#c8c8c8" stroke="#111" stroke-width="4"/>
<rect x="435.2" y="2227.7" width="10.4" height="10.4" fill="none" stroke="#111" stroke-width="2.3"/>
<rect x="435.2" y="2222.1" width="10.4" height="10.4" fill="none" stroke="#111" stroke-width="2.3"/>
<rect x="455.2" y="2226.1" width="10.4" height="10.4" fill="none" stroke="#111" stroke-width="2.3"/>
<rect x="465.2" y="2221.3" width="10.4" height="10.4" fill="none" stroke="#111" stroke-width="2.3"/>
<line x1="452.35" y1="2236.07" x2="452.35" y2="2226.52" stroke="#111" stroke-width="2.2" stroke-linecap="butt"/>
<line x1="433.35" y1="2236.07" x2="471.35" y2="2236.07" stroke="#111" stroke-width="2.4" stroke-linecap="butt"/>
<line x1="433.35" y1="2226.52" x2="471.35" y2="2226.52" stroke="#111" stroke-width="2.4" stroke-linecap="butt"/>
<rect x="528.3" y="2087.3" width="68.7" height="199.7" fill="#959595" stroke="#111" stroke-width="4"/>
<polygon points="550.6,2067.2 557.1,2073.7 550.6,2080.2 544.1,2073.7" fill="none" stroke="#111" stroke-width="2.3"/>
<polygon points="574.6,2055.3 581.1,2061.8 574.6,2068.3 568.1,2061.8" fill="none" stroke="#111" stroke-width="2.3"/>
<polygon points="562.6,2088.7 569.1,2095.2 562.6,2101.7 556.1,2095.2" fill="none" stroke="#111" stroke-width="2.3"/>
<polygon points="562.6,2105.4 569.1,2111.9 562.6,2118.4 556.1,2111.9" fill="none" stroke="#111" stroke-width="2.3"/>
<line x1="562.65" y1="2107.16" x2="562.65" y2="2064.19" stroke="#111" stroke-width="2.2" stroke-linecap="butt"/>
<line x1="543.65" y1="2107.16" x2="581.65" y2="2107.16" stroke="#111" stroke-width="2.4" stroke-linecap="butt"/>
<line x1="543.65" y1="2064.19" x2="581.65" y2="2064.19" stroke="#111" stroke-width="2.4" stroke-linecap="butt"/>
<rect x="639.6" y="2039.5" width="67.7" height="247.5" fill="#6e6e6e" stroke="#111" stroke-width="4"/>
<polygon points="673.5,2073.6 679.6,2084.7 667.3,2084.7" fill="none" stroke="#111" stroke-width="2.3"/>
<polygon points="673.5,2049.7 679.6,2060.8 667.3,2060.8" fill="none" stroke="#111" stroke-width="2.3"/>
<polygon points="673.5,2011.5 679.6,2022.6 667.3,2022.6" fill="none" stroke="#111" stroke-width="2.3"/>
<polygon points="673.5,1994.0 679.6,2005.1 667.3,2005.1" fill="none" stroke="#111" stroke-width="2.3"/>
<line x1="673.45" y1="2072.15" x2="673.45" y2="2002.12" stroke="#111" stroke-width="2.2" stroke-linecap="butt"/>
<line x1="654.45" y1="2072.15" x2="692.45" y2="2072.15" stroke="#111" stroke-width="2.4" stroke-linecap="butt"/>
<line x1="654.45" y1="2002.12" x2="692.45" y2="2002.12" stroke="#111" stroke-width="2.4" stroke-linecap="butt"/>
<line x1="269.70" y1="1966.60" x2="269.70" y2="2289.00" stroke="#000" stroke-width="4.3" stroke-linecap="butt"/>
<line x1="254.60" y1="2287.00" x2="746.90" y2="2287.00" stroke="#000" stroke-width="4.2" stroke-linecap="butt"/>
<line x1="254.70" y1="2287.00" x2="269.70" y2="2287.00" stroke="#000" stroke-width="4.2" stroke-linecap="butt"/>
<text transform="translate(252.10,2298.85) scale(0.9466,1)" font-size="28.95" text-anchor="end" fill="#111" font-family="'Liberation Sans', Arial, sans-serif">0</text>
<line x1="254.70" y1="2207.43" x2="269.70" y2="2207.43" stroke="#000" stroke-width="4.2" stroke-linecap="butt"/>
<text transform="translate(252.10,2219.27) scale(0.9466,1)" font-size="28.95" text-anchor="end" fill="#111" font-family="'Liberation Sans', Arial, sans-serif">10</text>
<line x1="254.70" y1="2127.85" x2="269.70" y2="2127.85" stroke="#000" stroke-width="4.2" stroke-linecap="butt"/>
<text transform="translate(252.10,2139.70) scale(0.9466,1)" font-size="28.95" text-anchor="end" fill="#111" font-family="'Liberation Sans', Arial, sans-serif">20</text>
<line x1="254.70" y1="2048.28" x2="269.70" y2="2048.28" stroke="#000" stroke-width="4.2" stroke-linecap="butt"/>
<text transform="translate(252.10,2060.12) scale(0.9466,1)" font-size="28.95" text-anchor="end" fill="#111" font-family="'Liberation Sans', Arial, sans-serif">30</text>
<line x1="254.70" y1="1968.70" x2="269.70" y2="1968.70" stroke="#000" stroke-width="4.2" stroke-linecap="butt"/>
<text transform="translate(252.10,1980.55) scale(0.9466,1)" font-size="28.95" text-anchor="end" fill="#111" font-family="'Liberation Sans', Arial, sans-serif">40</text>
<line x1="342.10" y1="2287.00" x2="342.10" y2="2301.00" stroke="#000" stroke-width="4.0" stroke-linecap="butt"/>
<text transform="translate(341.85,2330.65) scale(1.1059,1)" font-size="25.37" text-anchor="middle" fill="#111" font-family="'Liberation Sans', Arial, sans-serif">POD0</text>
<line x1="452.35" y1="2287.00" x2="452.35" y2="2301.00" stroke="#000" stroke-width="4.0" stroke-linecap="butt"/>
<text transform="translate(451.55,2330.65) scale(1.0944,1)" font-size="25.37" text-anchor="middle" fill="#111" font-family="'Liberation Sans', Arial, sans-serif">POD14</text>
<line x1="562.65" y1="2287.00" x2="562.65" y2="2301.00" stroke="#000" stroke-width="4.0" stroke-linecap="butt"/>
<text transform="translate(561.60,2330.65) scale(1.0957,1)" font-size="25.37" text-anchor="middle" fill="#111" font-family="'Liberation Sans', Arial, sans-serif">POD21</text>
<line x1="673.45" y1="2287.00" x2="673.45" y2="2301.00" stroke="#000" stroke-width="4.0" stroke-linecap="butt"/>
<text transform="translate(671.90,2330.65) scale(1.1226,1)" font-size="25.37" text-anchor="middle" fill="#111" font-family="'Liberation Sans', Arial, sans-serif">POD28</text>
<line x1="324.80" y1="2041.90" x2="448.60" y2="2041.90" stroke="#111" stroke-width="2.2" stroke-linecap="butt"/>
<text transform="translate(384.00,2039.50) scale(1.0386,1)" font-size="27.20" text-anchor="middle" fill="#111" font-family="'Liberation Sans', Arial, sans-serif">*</text>
<line x1="324.80" y1="2009.30" x2="562.40" y2="2009.30" stroke="#111" stroke-width="2.2" stroke-linecap="butt"/>
<text transform="translate(437.60,2005.00) scale(1.0386,1)" font-size="27.20" text-anchor="middle" fill="#111" font-family="'Liberation Sans', Arial, sans-serif">**</text>
<line x1="324.80" y1="1977.70" x2="689.20" y2="1977.70" stroke="#111" stroke-width="2.2" stroke-linecap="butt"/>
<text transform="translate(501.30,1976.00) scale(1.0386,1)" font-size="27.20" text-anchor="middle" fill="#111" font-family="'Liberation Sans', Arial, sans-serif">**</text>
<text transform="translate(132.50,2140.30) rotate(-90) scale(0.9533,1)" font-size="33.92" text-anchor="middle" fill="#231815" font-family="'Liberation Sans', Arial, sans-serif">Number of</text>
<text transform="translate(172.05,2139.50) rotate(-90) scale(0.9410,1)" font-size="34.01" text-anchor="middle" fill="#231815" font-family="'Liberation Sans', Arial, sans-serif">CD4+PD-1+CXCR5+</text>
<text transform="translate(210.45,2137.80) rotate(-90) scale(0.9575,1)" font-size="32.92" text-anchor="middle" fill="#231815" font-family="'Liberation Sans', Arial, sans-serif">(x 10<tspan font-size="17" dy="-11">5</tspan><tspan dy="11">)/Spleen</tspan></text>
<rect x="912.7" y="1982.7" width="110.29999999999995" height="295.29999999999995" fill="#fefdfd"/>
<rect x="1120.0" y="2287.0" width="69.0" height="4.0" fill="#ffffff" stroke="#111" stroke-width="4"/>
<circle cx="1132.5" cy="2289.7" r="5.5" fill="none" stroke="#111" stroke-width="2.3"/>
<circle cx="1146.5" cy="2282.9" r="5.5" fill="none" stroke="#111" stroke-width="2.3"/>
<circle cx="1162.5" cy="2287.0" r="5.5" fill="none" stroke="#111" stroke-width="2.3"/>
<circle cx="1176.5" cy="2284.3" r="5.5" fill="none" stroke="#111" stroke-width="2.3"/>
<line x1="1154.50" y1="2289.65" x2="1154.50" y2="2284.26" stroke="#111" stroke-width="2.2" stroke-linecap="butt"/>
<line x1="1135.50" y1="2289.65" x2="1173.50" y2="2289.65" stroke="#111" stroke-width="2.4" stroke-linecap="butt"/>
<line x1="1135.50" y1="2284.26" x2="1173.50" y2="2284.26" stroke="#111" stroke-width="2.4" stroke-linecap="butt"/>
<rect x="1233.0" y="2254.4" width="68.7" height="36.6" fill="#c8c8c8" stroke="#111" stroke-width="4"/>
<rect x="1244.1" y="2256.2" width="10.4" height="10.4" fill="none" stroke="#111" stroke-width="2.3"/>
<rect x="1262.1" y="2242.7" width="10.4" height="10.4" fill="none" stroke="#111" stroke-width="2.3"/>
<rect x="1262.1" y="2231.9" width="10.4" height="10.4" fill="none" stroke="#111" stroke-width="2.3"/>
<rect x="1280.1" y="2254.8" width="10.4" height="10.4" fill="none" stroke="#111" stroke-width="2.3"/>
<line x1="1267.35" y1="2265.41" x2="1267.35" y2="2241.16" stroke="#111" stroke-width="2.2" stroke-linecap="butt"/>
<line x1="1248.35" y1="2265.41" x2="1286.35" y2="2265.41" stroke="#111" stroke-width="2.4" stroke-linecap="butt"/>
<line x1="1248.35" y1="2241.16" x2="1286.35" y2="2241.16" stroke="#111" stroke-width="2.4" stroke-linecap="butt"/>
<rect x="1345.8" y="2102.9" width="68.7" height="188.1" fill="#959595" stroke="#111" stroke-width="4"/>
<polygon points="1368.2,2071.7 1374.7,2078.2 1368.2,2084.7 1361.7,2078.2" fill="none" stroke="#111" stroke-width="2.3"/>
<polygon points="1392.2,2069.0 1398.7,2075.5 1392.2,2082.0 1385.7,2075.5" fill="none" stroke="#111" stroke-width="2.3"/>
<polygon points="1380.2,2106.7 1386.7,2113.2 1380.2,2119.7 1373.7,2113.2" fill="none" stroke="#111" stroke-width="2.3"/>
<polygon points="1380.2,2130.9 1386.7,2137.4 1380.2,2143.9 1373.7,2137.4" fill="none" stroke="#111" stroke-width="2.3"/>
<line x1="1380.15" y1="2129.35" x2="1380.15" y2="2072.77" stroke="#111" stroke-width="2.2" stroke-linecap="butt"/>
<line x1="1361.15" y1="2129.35" x2="1399.15" y2="2129.35" stroke="#111" stroke-width="2.4" stroke-linecap="butt"/>
<line x1="1361.15" y1="2072.77" x2="1399.15" y2="2072.77" stroke="#111" stroke-width="2.4" stroke-linecap="butt"/>
<rect x="1459.6" y="2037.7" width="67.7" height="253.3" fill="#6e6e6e" stroke="#111" stroke-width="4"/>
<polygon points="1481.4,2058.2 1487.6,2069.2 1475.3,2069.2" fill="none" stroke="#111" stroke-width="2.3"/>
<polygon points="1505.4,2058.2 1511.6,2069.2 1499.3,2069.2" fill="none" stroke="#111" stroke-width="2.3"/>
<polygon points="1493.4,2015.1 1499.6,2026.1 1487.3,2026.1" fill="none" stroke="#111" stroke-width="2.3"/>
<polygon points="1493.4,1988.1 1499.6,1999.2 1487.3,1999.2" fill="none" stroke="#111" stroke-width="2.3"/>
<line x1="1493.45" y1="2067.38" x2="1493.45" y2="2002.72" stroke="#111" stroke-width="2.2" stroke-linecap="butt"/>
<line x1="1474.45" y1="2067.38" x2="1512.45" y2="2067.38" stroke="#111" stroke-width="2.4" stroke-linecap="butt"/>
<line x1="1474.45" y1="2002.72" x2="1512.45" y2="2002.72" stroke="#111" stroke-width="2.4" stroke-linecap="butt"/>
<line x1="1080.60" y1="1965.60" x2="1080.60" y2="2293.00" stroke="#000" stroke-width="4.3" stroke-linecap="butt"/>
<line x1="1065.60" y1="2291.00" x2="1567.90" y2="2291.00" stroke="#000" stroke-width="4.2" stroke-linecap="butt"/>
<line x1="1065.60" y1="2291.00" x2="1080.60" y2="2291.00" stroke="#000" stroke-width="4.2" stroke-linecap="butt"/>
<text transform="translate(1063.00,2302.85) scale(0.9466,1)" font-size="28.95" text-anchor="end" fill="#111" font-family="'Liberation Sans', Arial, sans-serif">0</text>
<line x1="1065.60" y1="2183.23" x2="1080.60" y2="2183.23" stroke="#000" stroke-width="4.2" stroke-linecap="butt"/>
<text transform="translate(1063.00,2195.08) scale(0.9466,1)" font-size="28.95" text-anchor="end" fill="#111" font-family="'Liberation Sans', Arial, sans-serif">4</text>
<line x1="1065.60" y1="2075.47" x2="1080.60" y2="2075.47" stroke="#000" stroke-width="4.2" stroke-linecap="butt"/>
<text transform="translate(1063.00,2087.32) scale(0.9466,1)" font-size="28.95" text-anchor="end" fill="#111" font-family="'Liberation Sans', Arial, sans-serif">8</text>
<line x1="1065.60" y1="1967.70" x2="1080.60" y2="1967.70" stroke="#000" stroke-width="4.2" stroke-linecap="butt"/>
<text transform="translate(1063.00,1979.55) scale(0.9466,1)" font-size="28.95" text-anchor="end" fill="#111" font-family="'Liberation Sans', Arial, sans-serif">12</text>
<line x1="1154.50" y1="2291.00" x2="1154.50" y2="2305.00" stroke="#000" stroke-width="4.0" stroke-linecap="butt"/>
<text transform="translate(1154.25,2335.55) scale(1.1059,1)" font-size="25.37" text-anchor="middle" fill="#111" font-family="'Liberation Sans', Arial, sans-serif">POD0</text>
<line x1="1267.35" y1="2291.00" x2="1267.35" y2="2305.00" stroke="#000" stroke-width="4.0" stroke-linecap="butt"/>
<text transform="translate(1266.55,2335.55) scale(1.0944,1)" font-size="25.37" text-anchor="middle" fill="#111" font-family="'Liberation Sans', Arial, sans-serif">POD14</text>
<line x1="1380.15" y1="2291.00" x2="1380.15" y2="2305.00" stroke="#000" stroke-width="4.0" stroke-linecap="butt"/>
<text transform="translate(1379.10,2335.55) scale(1.0957,1)" font-size="25.37" text-anchor="middle" fill="#111" font-family="'Liberation Sans', Arial, sans-serif">POD21</text>
<line x1="1493.45" y1="2291.00" x2="1493.45" y2="2305.00" stroke="#000" stroke-width="4.0" stroke-linecap="butt"/>
<text transform="translate(1491.90,2335.55) scale(1.1226,1)" font-size="25.37" text-anchor="middle" fill="#111" font-family="'Liberation Sans', Arial, sans-serif">POD28</text>
<line x1="1141.80" y1="2034.30" x2="1266.00" y2="2034.30" stroke="#111" stroke-width="2.2" stroke-linecap="butt"/>
<text transform="translate(1202.00,2032.00) scale(1.0386,1)" font-size="27.20" text-anchor="middle" fill="#111" font-family="'Liberation Sans', Arial, sans-serif">*</text>
<line x1="1141.80" y1="2002.30" x2="1380.00" y2="2002.30" stroke="#111" stroke-width="2.2" stroke-linecap="butt"/>
<text transform="translate(1266.00,1997.00) scale(1.0386,1)" font-size="27.20" text-anchor="middle" fill="#111" font-family="'Liberation Sans', Arial, sans-serif">**</text>
<line x1="1141.80" y1="1970.20" x2="1506.70" y2="1970.20" stroke="#111" stroke-width="2.2" stroke-linecap="butt"/>
<text transform="translate(1312.00,1962.00) scale(1.0386,1)" font-size="27.20" text-anchor="middle" fill="#111" font-family="'Liberation Sans', Arial, sans-serif">**</text>
<text transform="translate(940.40,2139.70) rotate(-90) scale(0.9574,1)" font-size="33.92" text-anchor="middle" fill="#231815" font-family="'Liberation Sans', Arial, sans-serif">Number of</text>
<text transform="translate(979.55,2139.95) rotate(-90) scale(0.9679,1)" font-size="33.55" text-anchor="middle" fill="#231815" font-family="'Liberation Sans', Arial, sans-serif">CD4+CXCR5+Bcl6+</text>
<text transform="translate(1018.25,2137.60) rotate(-90) scale(1.0289,1)" font-size="30.65" text-anchor="middle" fill="#231815" font-family="'Liberation Sans', Arial, sans-serif">(x 10<tspan font-size="17" dy="-11">5</tspan><tspan dy="11">)/Spleen</tspan></text>
</svg></body></html>
